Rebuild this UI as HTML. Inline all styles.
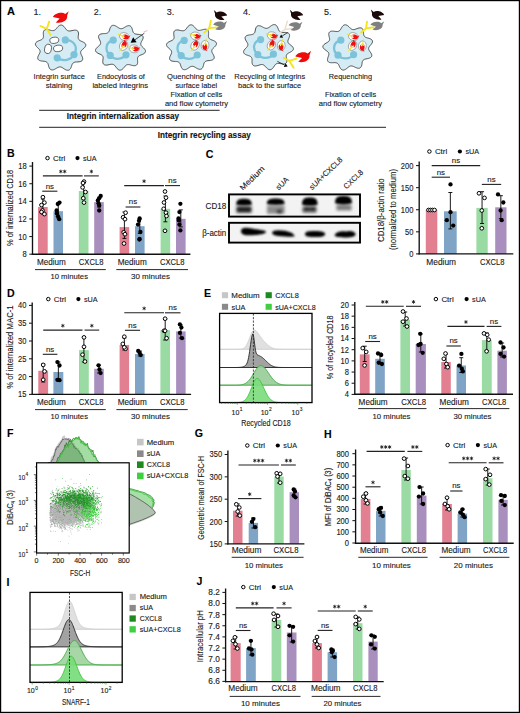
<!DOCTYPE html><html><head><meta charset="utf-8"><style>html,body{margin:0;padding:0;background:#fff}svg{display:block}text{font-family:"Liberation Sans", sans-serif;stroke:#1a1a1a;stroke-width:0.12px}</style></head><body>
<svg width="520" height="713" viewBox="0 0 520 713" font-family='"Liberation Sans", sans-serif' fill="#1a1a1a">
<rect x="0" y="0" width="520" height="713" fill="#fff"/>
<path d="M83.94,48.2 L83.1,48.93 L82.31,49.61 L81.63,50.26 L81.14,50.89 L80.84,51.53 L80.69,52.18 L80.67,52.87 L80.82,53.61 L81.14,54.43 L81.58,55.33 L82.04,56.29 L82.44,57.28 L82.69,58.27 L82.71,59.2 L82.48,60.02 L81.96,60.7 L81.19,61.22 L80.21,61.58 L79.1,61.79 L77.93,61.9 L76.8,61.95 L75.75,62.03 L74.84,62.17 L74.09,62.41 L73.46,62.78 L72.91,63.23 L72.45,63.8 L72.08,64.53 L71.76,65.41 L71.45,66.38 L71.1,67.39 L70.65,68.36 L70.09,69.19 L69.39,69.82 L68.58,70.2 L67.66,70.29 L66.67,70.13 L65.67,69.74 L64.68,69.19 L63.73,68.57 L62.85,67.97 L62.02,67.47 L61.25,67.12 L60.5,66.95 L59.76,66.91 L59.02,67 L58.24,67.25 L57.41,67.66 L56.52,68.19 L55.56,68.77 L54.56,69.31 L53.53,69.72 L52.52,69.93 L51.57,69.89 L50.73,69.58 L50.02,69.01 L49.45,68.22 L49.01,67.28 L48.68,66.26 L48.42,65.25 L48.16,64.31 L47.86,63.51 L47.47,62.86 L46.97,62.35 L46.4,61.93 L45.71,61.6 L44.87,61.39 L43.88,61.25 L42.78,61.15 L41.62,61.01 L40.49,60.8 L39.47,60.45 L38.64,59.96 L38.06,59.31 L37.76,58.52 L37.74,57.62 L37.96,56.66 L38.37,55.68 L38.87,54.73 L39.37,53.82 L39.79,52.99 L40.05,52.23 L40.13,51.53 L40.06,50.86 L39.86,50.21 L39.47,49.56 L38.9,48.9 L38.18,48.2 L37.39,47.45 L36.62,46.65 L35.97,45.81 L35.54,44.95 L35.38,44.09 L35.54,43.28 L36,42.53 L36.74,41.87 L37.67,41.31 L38.71,40.83 L39.77,40.42 L40.75,40.02 L41.59,39.62 L42.25,39.17 L42.73,38.64 L43.1,38.07 L43.35,37.41 L43.45,36.63 L43.44,35.74 L43.37,34.74 L43.3,33.69 L43.33,32.63 L43.51,31.65 L43.87,30.81 L44.46,30.15 L45.24,29.72 L46.2,29.52 L47.27,29.54 L48.4,29.72 L49.53,29.99 L50.61,30.28 L51.59,30.52 L52.48,30.64 L53.26,30.61 L53.98,30.44 L54.66,30.16 L55.3,29.72 L55.92,29.11 L56.55,28.36 L57.22,27.53 L57.95,26.7 L58.75,25.96 L59.6,25.4 L60.5,25.08 L61.41,25.04 L62.31,25.3 L63.15,25.82 L63.94,26.53 L64.64,27.37 L65.29,28.25 L65.89,29.06 L66.47,29.76 L67.08,30.29 L67.72,30.65 L68.41,30.89 L69.16,31.01 L70.01,30.99 L70.96,30.83 L72.02,30.59 L73.15,30.35 L74.3,30.18 L75.41,30.15 L76.41,30.31 L77.24,30.69 L77.87,31.29 L78.27,32.09 L78.47,33.04 L78.49,34.07 L78.39,35.13 L78.26,36.15 L78.16,37.08 L78.17,37.9 L78.33,38.61 L78.62,39.23 L79.03,39.79 L79.59,40.3 L80.34,40.75 L81.25,41.18 L82.27,41.63 L83.3,42.13 L84.26,42.7 L85.04,43.36 L85.58,44.1 L85.81,44.9 L85.72,45.74 L85.34,46.59 L84.71,47.42Z" fill="#d5ecf4" stroke="#4a4a4a" stroke-width="0.95" stroke-linejoin="round"/>
<path d="M65.3,39.9 C73,40 79,46 74,54.6 C71,60 63,62 57.2,57.8" fill="none" stroke="#7cc3da" stroke-width="2.3" stroke-linecap="round"/>
<circle cx="65.3" cy="39.9" r="3.6" fill="#7cc3da"/>
<circle cx="74" cy="54.6" r="3.6" fill="#7cc3da"/>
<circle cx="57.2" cy="57.8" r="3.6" fill="#7cc3da"/>
<ellipse cx="54.3" cy="40.3" rx="4.5" ry="3.1" fill="#fff" stroke="#333" stroke-width="0.7" transform="rotate(-8 54.3 40.3)"/>
<ellipse cx="48" cy="48.9" rx="3.4" ry="4.7" fill="#fff" stroke="#333" stroke-width="0.7" transform="rotate(12 48 48.9)"/>
<ellipse cx="58.1" cy="48.4" rx="4.6" ry="3.2" fill="#fff" stroke="#333" stroke-width="0.7" transform="rotate(-8 58.1 48.4)"/>
<path d="M50.6,34.9 L46.8,28.8 M46.8,28.8 L40.4,26 M46.8,28.8 L49.2,21.6" fill="none" stroke="#f4e41c" stroke-width="1.9" stroke-linecap="round" stroke-linejoin="round"/>
<path d="M-5,-1.2 C-3.5,-4.2 2.5,-4.8 4.6,-2.6 L7.4,-4.4 L5.9,-1.2 C6.2,3 0.5,4.6 -3.2,3 L0,0.4 Z" fill="#ee0b0b" transform="translate(59.6 18) rotate(-6) scale(1.32 1.32)"/>
<path d="M142.73,47.2 L143.52,47.94 L144.29,48.74 L144.93,49.57 L145.36,50.43 L145.51,51.27 L145.35,52.08 L144.88,52.82 L144.14,53.47 L143.21,54.02 L142.17,54.49 L141.11,54.9 L140.14,55.29 L139.31,55.69 L138.66,56.14 L138.18,56.66 L137.82,57.23 L137.58,57.89 L137.49,58.66 L137.51,59.55 L137.59,60.54 L137.65,61.59 L137.63,62.64 L137.46,63.62 L137.09,64.45 L136.51,65.1 L135.73,65.52 L134.77,65.71 L133.7,65.69 L132.58,65.5 L131.46,65.22 L130.39,64.93 L129.41,64.69 L128.54,64.57 L127.76,64.61 L127.05,64.78 L126.38,65.06 L125.75,65.5 L125.14,66.11 L124.51,66.86 L123.85,67.7 L123.13,68.53 L122.34,69.26 L121.49,69.82 L120.6,70.13 L119.7,70.16 L118.81,69.9 L117.97,69.38 L117.2,68.66 L116.5,67.82 L115.86,66.95 L115.27,66.13 L114.69,65.44 L114.09,64.92 L113.45,64.57 L112.77,64.33 L112.03,64.22 L111.18,64.25 L110.23,64.42 L109.18,64.66 L108.05,64.9 L106.91,65.08 L105.81,65.11 L104.82,64.95 L104,64.57 L103.38,63.97 L102.99,63.17 L102.8,62.22 L102.79,61.19 L102.89,60.14 L103.03,59.12 L103.13,58.2 L103.12,57.39 L102.96,56.69 L102.66,56.08 L102.26,55.52 L101.69,55.03 L100.94,54.58 L100.03,54.16 L99.01,53.71 L97.98,53.22 L97.03,52.65 L96.25,52 L95.73,51.27 L95.51,50.47 L95.6,49.64 L95.99,48.8 L96.62,47.98 L97.4,47.2 L98.23,46.48 L99.03,45.8 L99.69,45.16 L100.18,44.54 L100.47,43.91 L100.62,43.26 L100.63,42.58 L100.47,41.84 L100.14,41.03 L99.71,40.14 L99.24,39.18 L98.84,38.19 L98.59,37.21 L98.56,36.29 L98.8,35.48 L99.32,34.8 L100.1,34.29 L101.07,33.95 L102.18,33.75 L103.34,33.64 L104.47,33.59 L105.51,33.52 L106.41,33.38 L107.16,33.14 L107.78,32.77 L108.32,32.33 L108.77,31.75 L109.13,31.02 L109.44,30.15 L109.74,29.17 L110.09,28.16 L110.53,27.21 L111.09,26.38 L111.78,25.76 L112.59,25.39 L113.51,25.3 L114.48,25.47 L115.48,25.87 L116.46,26.42 L117.4,27.04 L118.28,27.63 L119.1,28.13 L119.86,28.48 L120.6,28.65 L121.33,28.68 L122.07,28.59 L122.84,28.34 L123.66,27.92 L124.54,27.38 L125.49,26.8 L126.49,26.26 L127.51,25.85 L128.51,25.64 L129.45,25.68 L130.29,26 L130.99,26.57 L131.55,27.37 L131.98,28.31 L132.3,29.33 L132.56,30.33 L132.81,31.26 L133.11,32.05 L133.49,32.69 L133.98,33.2 L134.55,33.61 L135.24,33.93 L136.08,34.13 L137.07,34.26 L138.17,34.36 L139.33,34.49 L140.45,34.7 L141.46,35.04 L142.29,35.54 L142.86,36.18 L143.15,36.97 L143.16,37.86 L142.92,38.82 L142.51,39.79 L142.01,40.74 L141.5,41.64 L141.09,42.46 L140.83,43.21 L140.75,43.9 L140.83,44.56 L141.04,45.21 L141.42,45.85 L142,46.51Z" fill="#d5ecf4" stroke="#4a4a4a" stroke-width="0.95" stroke-linejoin="round"/>
<path d="M113.2,40.2 C106,42 104,50 110.2,55.4 C114,60 122,60 126,54.8" fill="none" stroke="#7cc3da" stroke-width="2.3" stroke-linecap="round"/>
<circle cx="113.2" cy="40.2" r="3.6" fill="#7cc3da"/>
<circle cx="110.2" cy="55.4" r="3.6" fill="#7cc3da"/>
<circle cx="126" cy="54.8" r="3.6" fill="#7cc3da"/>
<g transform="translate(124.4 36.6) rotate(15)">
<ellipse cx="0" cy="0" rx="5.0" ry="3.9" fill="#fff" stroke="#555" stroke-width="0.45"/>
<path d="M-5,-1.2 C-3.5,-4.2 2.5,-4.8 4.6,-2.6 L7.4,-4.4 L5.9,-1.2 C6.2,3 0.5,4.6 -3.2,3 L0,0.4 Z" fill="#ee1010" transform="translate(0.9 0.15) scale(0.64)"/>
<path d="M-6.4,-0.8 L-2.6,-0.1 M-2.6,-0.1 L-0.6,-1.3 M-2.6,-0.1 L-0.9,1.3" fill="none" stroke="#f4e41c" stroke-width="1.05" stroke-linecap="round"/>
</g>
<g transform="translate(123.6 45.6) rotate(-60)">
<ellipse cx="0" cy="0" rx="5.0" ry="3.9" fill="#fff" stroke="#555" stroke-width="0.45"/>
<path d="M-5,-1.2 C-3.5,-4.2 2.5,-4.8 4.6,-2.6 L7.4,-4.4 L5.9,-1.2 C6.2,3 0.5,4.6 -3.2,3 L0,0.4 Z" fill="#ee1010" transform="translate(0.9 0.15) scale(0.64)"/>
<path d="M-6.4,-0.8 L-2.6,-0.1 M-2.6,-0.1 L-0.6,-1.3 M-2.6,-0.1 L-0.9,1.3" fill="none" stroke="#f4e41c" stroke-width="1.05" stroke-linecap="round"/>
</g>
<g transform="translate(134.2 48.8) rotate(10)">
<ellipse cx="0" cy="0" rx="5.0" ry="3.9" fill="#fff" stroke="#555" stroke-width="0.45"/>
<path d="M-5,-1.2 C-3.5,-4.2 2.5,-4.8 4.6,-2.6 L7.4,-4.4 L5.9,-1.2 C6.2,3 0.5,4.6 -3.2,3 L0,0.4 Z" fill="#ee1010" transform="translate(0.9 0.15) scale(0.64)"/>
<path d="M-6.4,-0.8 L-2.6,-0.1 M-2.6,-0.1 L-0.6,-1.3 M-2.6,-0.1 L-0.9,1.3" fill="none" stroke="#f4e41c" stroke-width="1.05" stroke-linecap="round"/>
</g>
<line x1="144.4" y1="33.2" x2="134.87" y2="39.83" stroke="#000" stroke-width="0.7"/>
<path d="M130.6,42.8 L133.16,37.37 L136.58,42.29 Z" fill="#000"/>
<line x1="143.5" y1="32" x2="147.5" y2="30.6" stroke="#f08080" stroke-width="0.6"/>
<path d="M213.65,47.8 L212.94,48.49 L212.38,49.15 L212.01,49.79 L211.83,50.44 L211.77,51.1 L211.86,51.8 L212.15,52.55 L212.58,53.38 L213.09,54.28 L213.59,55.23 L213.99,56.21 L214.21,57.16 L214.17,58.04 L213.86,58.82 L213.26,59.45 L212.42,59.93 L211.39,60.26 L210.26,60.46 L209.11,60.59 L208.01,60.69 L207.04,60.83 L206.22,61.05 L205.55,61.38 L204.99,61.81 L204.51,62.32 L204.14,62.98 L203.85,63.79 L203.6,64.73 L203.34,65.74 L203.02,66.75 L202.58,67.69 L202.01,68.46 L201.29,69.01 L200.45,69.3 L199.5,69.32 L198.5,69.09 L197.47,68.66 L196.48,68.12 L195.53,67.54 L194.65,67.02 L193.83,66.62 L193.07,66.39 L192.33,66.32 L191.6,66.36 L190.86,66.55 L190.09,66.92 L189.27,67.43 L188.39,68.04 L187.45,68.66 L186.47,69.2 L185.47,69.58 L184.5,69.73 L183.59,69.61 L182.79,69.22 L182.11,68.58 L181.56,67.73 L181.13,66.77 L180.78,65.76 L180.48,64.79 L180.16,63.93 L179.79,63.22 L179.33,62.66 L178.78,62.23 L178.14,61.88 L177.38,61.65 L176.46,61.52 L175.42,61.46 L174.28,61.41 L173.12,61.3 L172.02,61.09 L171.06,60.73 L170.31,60.21 L169.81,59.52 L169.6,58.69 L169.65,57.76 L169.91,56.78 L170.32,55.79 L170.78,54.84 L171.21,53.95 L171.52,53.15 L171.66,52.41 L171.62,51.74 L171.46,51.09 L171.15,50.47 L170.64,49.84 L169.95,49.2 L169.15,48.53 L168.31,47.8 L167.54,47.02 L166.93,46.2 L166.57,45.36 L166.5,44.53 L166.75,43.74 L167.3,43.01 L168.1,42.36 L169.06,41.8 L170.09,41.31 L171.1,40.87 L172,40.44 L172.73,39.99 L173.27,39.48 L173.66,38.92 L173.95,38.3 L174.08,37.59 L174.07,36.77 L173.97,35.83 L173.83,34.81 L173.73,33.76 L173.75,32.74 L173.95,31.8 L174.37,31.02 L175,30.44 L175.85,30.08 L176.85,29.94 L177.95,29.98 L179.1,30.17 L180.22,30.41 L181.26,30.64 L182.21,30.79 L183.04,30.81 L183.77,30.67 L184.45,30.43 L185.08,30.05 L185.68,29.51 L186.25,28.8 L186.84,27.98 L187.48,27.11 L188.19,26.27 L188.96,25.57 L189.81,25.07 L190.7,24.83 L191.6,24.89 L192.49,25.22 L193.34,25.8 L194.12,26.55 L194.84,27.38 L195.5,28.21 L196.12,28.95 L196.74,29.54 L197.38,29.96 L198.05,30.22 L198.77,30.38 L199.55,30.4 L200.44,30.26 L201.42,30.01 L202.5,29.71 L203.62,29.43 L204.74,29.26 L205.8,29.25 L206.74,29.46 L207.51,29.9 L208.07,30.57 L208.42,31.42 L208.58,32.41 L208.59,33.46 L208.52,34.51 L208.45,35.49 L208.44,36.37 L208.55,37.13 L208.81,37.77 L209.19,38.34 L209.68,38.85 L210.35,39.29 L211.2,39.68 L212.19,40.07 L213.25,40.48 L214.28,40.96 L215.2,41.52 L215.92,42.17 L216.36,42.92 L216.49,43.73 L216.32,44.58 L215.86,45.44 L215.21,46.27 L214.43,47.06Z" fill="#d5ecf4" stroke="#4a4a4a" stroke-width="0.95" stroke-linejoin="round"/>
<path d="M184.2,40.4 C177,42 175,50 181.2,55.6 C185,60 193,60 197.2,55" fill="none" stroke="#7cc3da" stroke-width="2.3" stroke-linecap="round"/>
<circle cx="184.2" cy="40.4" r="3.6" fill="#7cc3da"/>
<circle cx="181.2" cy="55.6" r="3.6" fill="#7cc3da"/>
<circle cx="197.2" cy="55" r="3.6" fill="#7cc3da"/>
<g transform="translate(195.6 36) rotate(15)">
<ellipse cx="0" cy="0" rx="5.0" ry="3.9" fill="#fff" stroke="#555" stroke-width="0.45"/>
<path d="M-5,-1.2 C-3.5,-4.2 2.5,-4.8 4.6,-2.6 L7.4,-4.4 L5.9,-1.2 C6.2,3 0.5,4.6 -3.2,3 L0,0.4 Z" fill="#ee1010" transform="translate(0.9 0.15) scale(0.64)"/>
<path d="M-6.4,-0.8 L-2.6,-0.1 M-2.6,-0.1 L-0.6,-1.3 M-2.6,-0.1 L-0.9,1.3" fill="none" stroke="#f4e41c" stroke-width="1.05" stroke-linecap="round"/>
</g>
<g transform="translate(195 45.4) rotate(-60)">
<ellipse cx="0" cy="0" rx="5.0" ry="3.9" fill="#fff" stroke="#555" stroke-width="0.45"/>
<path d="M-5,-1.2 C-3.5,-4.2 2.5,-4.8 4.6,-2.6 L7.4,-4.4 L5.9,-1.2 C6.2,3 0.5,4.6 -3.2,3 L0,0.4 Z" fill="#ee1010" transform="translate(0.9 0.15) scale(0.64)"/>
<path d="M-6.4,-0.8 L-2.6,-0.1 M-2.6,-0.1 L-0.6,-1.3 M-2.6,-0.1 L-0.9,1.3" fill="none" stroke="#f4e41c" stroke-width="1.05" stroke-linecap="round"/>
</g>
<g transform="translate(205 45.4) rotate(95)">
<ellipse cx="0" cy="0" rx="5.0" ry="3.9" fill="#fff" stroke="#555" stroke-width="0.45"/>
<path d="M-5,-1.2 C-3.5,-4.2 2.5,-4.8 4.6,-2.6 L7.4,-4.4 L5.9,-1.2 C6.2,3 0.5,4.6 -3.2,3 L0,0.4 Z" fill="#ee1010" transform="translate(0.9 0.15) scale(0.64)"/>
<path d="M-6.4,-0.8 L-2.6,-0.1 M-2.6,-0.1 L-0.6,-1.3 M-2.6,-0.1 L-0.9,1.3" fill="none" stroke="#f4e41c" stroke-width="1.05" stroke-linecap="round"/>
</g>
<path d="M204.3,32.6 L209.2,28.1 M209.2,28.1 L210.9,20.8 M209.2,28.1 L217.5,27.4" fill="none" stroke="#f4e41c" stroke-width="1.9" stroke-linecap="round" stroke-linejoin="round"/>
<path d="M-5,-1.2 C-3.5,-4.2 2.5,-4.8 4.6,-2.6 L7.4,-4.4 L5.9,-1.2 C6.2,3 0.5,4.6 -3.2,3 L0,0.4 Z" fill="#7f7f7f" transform="translate(218.8 26) rotate(0) scale(1.12 1.12)"/>
<path d="M-5,-1.2 C-3.5,-4.2 2.5,-4.8 4.6,-2.6 L7.4,-4.4 L5.9,-1.2 C6.2,3 0.5,4.6 -3.2,3 L0,0.4 Z" fill="#1c0a0a" transform="translate(221.4 16) rotate(8) scale(-1.12 1.12)"/>
<path d="M292.58,46.8 L293.14,47.61 L293.42,48.44 L293.4,49.26 L293.06,50.04 L292.43,50.76 L291.59,51.41 L290.62,51.99 L289.62,52.5 L288.67,52.98 L287.87,53.45 L287.24,53.95 L286.8,54.5 L286.49,55.1 L286.3,55.76 L286.28,56.52 L286.38,57.39 L286.57,58.36 L286.76,59.39 L286.87,60.44 L286.83,61.44 L286.6,62.33 L286.12,63.05 L285.42,63.57 L284.52,63.88 L283.47,63.98 L282.34,63.92 L281.19,63.76 L280.08,63.56 L279.07,63.4 L278.17,63.35 L277.38,63.43 L276.69,63.65 L276.05,63.97 L275.46,64.44 L274.91,65.09 L274.38,65.88 L273.82,66.76 L273.2,67.66 L272.51,68.48 L271.74,69.14 L270.9,69.57 L270.01,69.73 L269.1,69.59 L268.2,69.18 L267.34,68.56 L266.54,67.81 L265.8,67 L265.12,66.23 L264.46,65.58 L263.81,65.09 L263.14,64.77 L262.44,64.58 L261.7,64.52 L260.87,64.61 L259.96,64.84 L258.95,65.17 L257.86,65.52 L256.75,65.81 L255.65,65.97 L254.63,65.94 L253.75,65.67 L253.04,65.16 L252.53,64.43 L252.21,63.53 L252.06,62.51 L252.03,61.46 L252.05,60.43 L252.06,59.48 L251.97,58.65 L251.76,57.96 L251.41,57.37 L250.96,56.84 L250.37,56.39 L249.6,56.01 L248.66,55.67 L247.61,55.32 L246.53,54.94 L245.51,54.47 L244.63,53.91 L243.99,53.25 L243.63,52.49 L243.59,51.65 L243.84,50.78 L244.34,49.91 L245.01,49.06 L245.76,48.25 L246.48,47.5 L247.09,46.8 L247.54,46.13 L247.78,45.48 L247.88,44.82 L247.84,44.15 L247.62,43.43 L247.23,42.66 L246.7,41.83 L246.13,40.93 L245.61,39.98 L245.23,39.03 L245.06,38.11 L245.16,37.26 L245.56,36.53 L246.23,35.93 L247.14,35.47 L248.21,35.15 L249.34,34.93 L250.47,34.77 L251.51,34.61 L252.41,34.4 L253.15,34.1 L253.75,33.7 L254.25,33.22 L254.65,32.62 L254.94,31.88 L255.15,31 L255.34,30.02 L255.57,28.98 L255.88,27.98 L256.32,27.08 L256.92,26.37 L257.67,25.89 L258.55,25.67 L259.53,25.72 L260.56,26 L261.6,26.44 L262.61,26.96 L263.56,27.48 L264.44,27.92 L265.25,28.21 L266.01,28.34 L266.74,28.32 L267.47,28.19 L268.2,27.89 L268.96,27.42 L269.78,26.82 L270.65,26.15 L271.58,25.51 L272.54,24.99 L273.51,24.65 L274.46,24.57 L275.34,24.76 L276.12,25.23 L276.78,25.94 L277.33,26.82 L277.77,27.8 L278.15,28.78 L278.51,29.69 L278.88,30.48 L279.33,31.1 L279.86,31.58 L280.46,31.95 L281.16,32.22 L282,32.36 L282.98,32.41 L284.07,32.41 L285.23,32.42 L286.38,32.52 L287.45,32.74 L288.35,33.13 L289.03,33.69 L289.44,34.42 L289.59,35.29 L289.5,36.26 L289.22,37.26 L288.83,38.26 L288.43,39.21 L288.09,40.07 L287.89,40.86 L287.87,41.57 L288,42.22 L288.25,42.85 L288.69,43.45 L289.31,44.05 L290.09,44.67 L290.96,45.32 L291.82,46.04Z" fill="#d5ecf4" stroke="#4a4a4a" stroke-width="0.95" stroke-linejoin="round"/>
<path d="M260.6,39.6 C253.5,41 251.5,49 257.8,54.6 C261.5,59 269.5,59 273.4,54.2" fill="none" stroke="#7cc3da" stroke-width="2.3" stroke-linecap="round"/>
<circle cx="260.6" cy="39.6" r="3.6" fill="#7cc3da"/>
<circle cx="257.8" cy="54.6" r="3.6" fill="#7cc3da"/>
<circle cx="273.4" cy="54.2" r="3.6" fill="#7cc3da"/>
<g transform="translate(272.2 35.8) rotate(15)">
<ellipse cx="0" cy="0" rx="5.0" ry="3.9" fill="#fff" stroke="#555" stroke-width="0.45"/>
<path d="M-5,-1.2 C-3.5,-4.2 2.5,-4.8 4.6,-2.6 L7.4,-4.4 L5.9,-1.2 C6.2,3 0.5,4.6 -3.2,3 L0,0.4 Z" fill="#ee1010" transform="translate(0.9 0.15) scale(0.64)"/>
<path d="M-6.4,-0.8 L-2.6,-0.1 M-2.6,-0.1 L-0.6,-1.3 M-2.6,-0.1 L-0.9,1.3" fill="none" stroke="#f4e41c" stroke-width="1.05" stroke-linecap="round"/>
</g>
<g transform="translate(271.4 45.2) rotate(-60)">
<ellipse cx="0" cy="0" rx="5.0" ry="3.9" fill="#fff" stroke="#555" stroke-width="0.45"/>
<path d="M-5,-1.2 C-3.5,-4.2 2.5,-4.8 4.6,-2.6 L7.4,-4.4 L5.9,-1.2 C6.2,3 0.5,4.6 -3.2,3 L0,0.4 Z" fill="#ee1010" transform="translate(0.9 0.15) scale(0.64)"/>
<path d="M-6.4,-0.8 L-2.6,-0.1 M-2.6,-0.1 L-0.6,-1.3 M-2.6,-0.1 L-0.9,1.3" fill="none" stroke="#f4e41c" stroke-width="1.05" stroke-linecap="round"/>
</g>
<g transform="translate(281.2 45.6) rotate(95)">
<ellipse cx="0" cy="0" rx="5.0" ry="3.9" fill="#fff" stroke="#555" stroke-width="0.45"/>
<path d="M-5,-1.2 C-3.5,-4.2 2.5,-4.8 4.6,-2.6 L7.4,-4.4 L5.9,-1.2 C6.2,3 0.5,4.6 -3.2,3 L0,0.4 Z" fill="#ee1010" transform="translate(0.9 0.15) scale(0.64)"/>
<path d="M-6.4,-0.8 L-2.6,-0.1 M-2.6,-0.1 L-0.6,-1.3 M-2.6,-0.1 L-0.9,1.3" fill="none" stroke="#f4e41c" stroke-width="1.05" stroke-linecap="round"/>
</g>
<path d="M280,32.6 L285,29.4 M285,29.4 L287.3,21.2 M285,29.4 L291.9,28.5" fill="none" stroke="#e9dfcc" stroke-width="1.5" stroke-linecap="round" stroke-linejoin="round"/>
<path d="M-5,-1.2 C-3.5,-4.2 2.5,-4.8 4.6,-2.6 L7.4,-4.4 L5.9,-1.2 C6.2,3 0.5,4.6 -3.2,3 L0,0.4 Z" fill="#7f7f7f" transform="translate(294.2 26.6) rotate(0) scale(1.12 1.12)"/>
<path d="M-5,-1.2 C-3.5,-4.2 2.5,-4.8 4.6,-2.6 L7.4,-4.4 L5.9,-1.2 C6.2,3 0.5,4.6 -3.2,3 L0,0.4 Z" fill="#1c0a0a" transform="translate(297.4 15.8) rotate(8) scale(-1.12 1.12)"/>
<line x1="287.7" y1="32.6" x2="282.15" y2="36.02" stroke="#000" stroke-width="0.7"/>
<path d="M279.6,37.6 L281.15,34.41 L283.15,37.64 Z" fill="#000"/>
<path d="M293.7,67.7 L289.1,60.8 M289.1,60.8 L283.7,57.7 M289.1,60.8 L296.4,58.6" fill="none" stroke="#f4e41c" stroke-width="1.9" stroke-linecap="round" stroke-linejoin="round"/>
<path d="M-5,-1.2 C-3.5,-4.2 2.5,-4.8 4.6,-2.6 L7.4,-4.4 L5.9,-1.2 C6.2,3 0.5,4.6 -3.2,3 L0,0.4 Z" fill="#ee0b0b" transform="translate(302 57.4) rotate(-5) scale(1.3 1.3)"/>
<line x1="277.3" y1="61.3" x2="284.75" y2="65.14" stroke="#000" stroke-width="0.7"/>
<path d="M287.6,66.6 L283.84,66.91 L285.67,63.36 Z" fill="#000"/>
<path d="M368.76,47.6 L368.63,48.26 L368.62,48.92 L368.77,49.6 L369.11,50.33 L369.61,51.1 L370.21,51.94 L370.82,52.83 L371.35,53.76 L371.71,54.69 L371.81,55.58 L371.63,56.4 L371.15,57.1 L370.4,57.67 L369.44,58.11 L368.35,58.44 L367.21,58.68 L366.13,58.88 L365.15,59.1 L364.33,59.39 L363.68,59.76 L363.16,60.23 L362.73,60.77 L362.41,61.44 L362.2,62.25 L362.06,63.19 L361.92,64.21 L361.72,65.25 L361.41,66.24 L360.95,67.09 L360.33,67.73 L359.54,68.14 L358.62,68.28 L357.6,68.18 L356.54,67.87 L355.48,67.44 L354.47,66.95 L353.52,66.5 L352.65,66.16 L351.86,65.97 L351.11,65.95 L350.39,66.04 L349.67,66.28 L348.95,66.68 L348.2,67.25 L347.4,67.93 L346.54,68.63 L345.63,69.28 L344.68,69.77 L343.73,70.05 L342.81,70.06 L341.95,69.78 L341.19,69.24 L340.53,68.48 L339.98,67.57 L339.52,66.61 L339.1,65.66 L338.69,64.82 L338.25,64.12 L337.74,63.58 L337.15,63.19 L336.5,62.88 L335.73,62.7 L334.83,62.65 L333.79,62.67 L332.66,62.73 L331.5,62.74 L330.37,62.65 L329.35,62.41 L328.51,61.98 L327.91,61.37 L327.56,60.59 L327.47,59.67 L327.6,58.68 L327.88,57.66 L328.23,56.66 L328.56,55.73 L328.8,54.89 L328.88,54.13 L328.8,53.45 L328.58,52.82 L328.22,52.22 L327.67,51.65 L326.94,51.08 L326.08,50.48 L325.17,49.84 L324.3,49.15 L323.57,48.4 L323.07,47.6 L322.87,46.78 L322.98,45.96 L323.41,45.18 L324.1,44.46 L324.97,43.8 L325.94,43.21 L326.89,42.67 L327.76,42.16 L328.46,41.64 L328.98,41.1 L329.32,40.51 L329.55,39.88 L329.63,39.17 L329.55,38.37 L329.35,37.46 L329.1,36.47 L328.87,35.43 L328.76,34.41 L328.82,33.44 L329.11,32.6 L329.64,31.94 L330.41,31.47 L331.37,31.21 L332.46,31.13 L333.61,31.19 L334.76,31.33 L335.84,31.47 L336.82,31.54 L337.66,31.5 L338.39,31.32 L339.05,31.03 L339.65,30.62 L340.18,30.05 L340.68,29.32 L341.17,28.45 L341.7,27.53 L342.29,26.62 L342.98,25.83 L343.75,25.22 L344.59,24.86 L345.5,24.79 L346.42,25.01 L347.33,25.47 L348.2,26.12 L349.02,26.87 L349.77,27.64 L350.48,28.34 L351.17,28.89 L351.85,29.28 L352.54,29.5 L353.27,29.61 L354.04,29.57 L354.89,29.38 L355.83,29.05 L356.85,28.66 L357.94,28.27 L359.04,27.97 L360.1,27.84 L361.08,27.93 L361.91,28.26 L362.57,28.84 L363.04,29.63 L363.33,30.58 L363.48,31.61 L363.54,32.66 L363.58,33.66 L363.65,34.56 L363.83,35.32 L364.14,35.96 L364.56,36.49 L365.09,36.97 L365.79,37.35 L366.65,37.68 L367.66,37.97 L368.75,38.27 L369.84,38.64 L370.84,39.1 L371.66,39.67 L372.23,40.35 L372.5,41.13 L372.46,41.99 L372.14,42.88 L371.6,43.77 L370.94,44.64 L370.23,45.45 L369.59,46.21 L369.08,46.92Z" fill="#d5ecf4" stroke="#4a4a4a" stroke-width="0.95" stroke-linejoin="round"/>
<path d="M340.8,40.2 C333.5,42 331.5,50 338,55.2 C342,59.5 350,59.5 353.6,54.6" fill="none" stroke="#7cc3da" stroke-width="2.3" stroke-linecap="round"/>
<circle cx="340.8" cy="40.2" r="3.6" fill="#7cc3da"/>
<circle cx="338" cy="55.2" r="3.6" fill="#7cc3da"/>
<circle cx="353.6" cy="54.6" r="3.6" fill="#7cc3da"/>
<g transform="translate(353.4 36.6) rotate(15)">
<ellipse cx="0" cy="0" rx="5.0" ry="3.9" fill="#fff" stroke="#555" stroke-width="0.45"/>
<path d="M-5,-1.2 C-3.5,-4.2 2.5,-4.8 4.6,-2.6 L7.4,-4.4 L5.9,-1.2 C6.2,3 0.5,4.6 -3.2,3 L0,0.4 Z" fill="#ee1010" transform="translate(0.9 0.15) scale(0.64)"/>
<path d="M-6.4,-0.8 L-2.6,-0.1 M-2.6,-0.1 L-0.6,-1.3 M-2.6,-0.1 L-0.9,1.3" fill="none" stroke="#f4e41c" stroke-width="1.05" stroke-linecap="round"/>
</g>
<g transform="translate(352.6 45.6) rotate(-60)">
<ellipse cx="0" cy="0" rx="5.0" ry="3.9" fill="#fff" stroke="#555" stroke-width="0.45"/>
<path d="M-5,-1.2 C-3.5,-4.2 2.5,-4.8 4.6,-2.6 L7.4,-4.4 L5.9,-1.2 C6.2,3 0.5,4.6 -3.2,3 L0,0.4 Z" fill="#ee1010" transform="translate(0.9 0.15) scale(0.64)"/>
<path d="M-6.4,-0.8 L-2.6,-0.1 M-2.6,-0.1 L-0.6,-1.3 M-2.6,-0.1 L-0.9,1.3" fill="none" stroke="#f4e41c" stroke-width="1.05" stroke-linecap="round"/>
</g>
<g transform="translate(362.4 46) rotate(95)">
<ellipse cx="0" cy="0" rx="5.0" ry="3.9" fill="#fff" stroke="#555" stroke-width="0.45"/>
<path d="M-5,-1.2 C-3.5,-4.2 2.5,-4.8 4.6,-2.6 L7.4,-4.4 L5.9,-1.2 C6.2,3 0.5,4.6 -3.2,3 L0,0.4 Z" fill="#ee1010" transform="translate(0.9 0.15) scale(0.64)"/>
<path d="M-6.4,-0.8 L-2.6,-0.1 M-2.6,-0.1 L-0.6,-1.3 M-2.6,-0.1 L-0.9,1.3" fill="none" stroke="#f4e41c" stroke-width="1.05" stroke-linecap="round"/>
</g>
<path d="M361.2,32.4 L366,28.4 M366,28.4 L367,21.6 M366,28.4 L373.8,27.2" fill="none" stroke="#f4e41c" stroke-width="1.9" stroke-linecap="round" stroke-linejoin="round"/>
<path d="M-5,-1.2 C-3.5,-4.2 2.5,-4.8 4.6,-2.6 L7.4,-4.4 L5.9,-1.2 C6.2,3 0.5,4.6 -3.2,3 L0,0.4 Z" fill="#7f7f7f" transform="translate(376 26.2) rotate(0) scale(1.12 1.12)"/>
<path d="M-5,-1.2 C-3.5,-4.2 2.5,-4.8 4.6,-2.6 L7.4,-4.4 L5.9,-1.2 C6.2,3 0.5,4.6 -3.2,3 L0,0.4 Z" fill="#1c0a0a" transform="translate(378.4 15.6) rotate(8) scale(-1.12 1.12)"/>
<text x="7" y="14.7" font-size="11" font-weight="bold" fill="#000">A</text>
<text x="33.5" y="15.3" font-size="9">1.</text>
<text x="93.7" y="15.3" font-size="9">2.</text>
<text x="166.7" y="15.3" font-size="9">3.</text>
<text x="243" y="15.3" font-size="9">4.</text>
<text x="324" y="15.3" font-size="9">5.</text>
<text x="33.6" y="78.5" font-size="7.6" textLength="51.2" lengthAdjust="spacingAndGlyphs">Integrin surface</text>
<text x="45.7" y="87.7" font-size="7.6" textLength="26.6" lengthAdjust="spacingAndGlyphs">staining</text>
<text x="97" y="78.5" font-size="7.6" textLength="47.8" lengthAdjust="spacingAndGlyphs">Endocytosis of</text>
<text x="92.4" y="87.7" font-size="7.6" textLength="55.8" lengthAdjust="spacingAndGlyphs">labeled integrins</text>
<text x="167" y="78.5" font-size="7.6" textLength="58.4" lengthAdjust="spacingAndGlyphs">Quenching of the</text>
<text x="175.4" y="87.7" font-size="7.6" textLength="41.8" lengthAdjust="spacingAndGlyphs">surface label</text>
<text x="170.5" y="96.9" font-size="7.6" textLength="51.8" lengthAdjust="spacingAndGlyphs">Fixation of cells</text>
<text x="164.9" y="105.8" font-size="7.6" textLength="63.1" lengthAdjust="spacingAndGlyphs">and flow cytometry</text>
<text x="234.3" y="78.5" font-size="7.6" textLength="70.9" lengthAdjust="spacingAndGlyphs">Recycling of integrins</text>
<text x="238" y="87.7" font-size="7.6" textLength="63.2" lengthAdjust="spacingAndGlyphs">back to the surface</text>
<text x="328.8" y="78.5" font-size="7.6" textLength="43.2" lengthAdjust="spacingAndGlyphs">Requenching</text>
<text x="324.9" y="96.9" font-size="7.6" textLength="51.3" lengthAdjust="spacingAndGlyphs">Fixation of cells</text>
<text x="318.8" y="105.8" font-size="7.6" textLength="63.2" lengthAdjust="spacingAndGlyphs">and flow cytometry</text>
<line x1="39.2" y1="110.3" x2="219.6" y2="110.3" stroke="#222" stroke-width="1"/>
<line x1="39.2" y1="127.3" x2="386" y2="127.3" stroke="#222" stroke-width="1"/>
<text x="66.7" y="119.2" font-size="8.4" font-weight="bold" textLength="112.3" lengthAdjust="spacingAndGlyphs" fill="#111">Integrin internalization assay</text>
<text x="157.7" y="137.6" font-size="8.4" font-weight="bold" textLength="93.1" lengthAdjust="spacingAndGlyphs" fill="#111">Integrin recycling assay</text>
<rect x="38" y="207" width="9.7" height="47.2" fill="#e27f90"/>
<rect x="53.5" y="211.2" width="9.5" height="43" fill="#80a4c6"/>
<rect x="78.8" y="191" width="9.7" height="63.2" fill="#99dba3"/>
<rect x="94.2" y="202.1" width="9.6" height="52.1" fill="#a98fbd"/>
<rect x="119.6" y="227.1" width="9.6" height="27.1" fill="#e27f90"/>
<rect x="135" y="226.2" width="9.6" height="28" fill="#80a4c6"/>
<rect x="160.6" y="208.8" width="9.6" height="45.4" fill="#99dba3"/>
<rect x="176" y="218.8" width="9.6" height="35.4" fill="#a98fbd"/>
<line x1="42.85" y1="199" x2="42.85" y2="214" stroke="#000" stroke-width="0.9"/>
<line x1="40.85" y1="199" x2="44.85" y2="199" stroke="#000" stroke-width="0.9"/>
<line x1="40.85" y1="214" x2="44.85" y2="214" stroke="#000" stroke-width="0.9"/>
<circle cx="42.9" cy="197.2" r="1.85" fill="#fff" stroke="#000" stroke-width="1"/>
<circle cx="44.4" cy="202.6" r="1.85" fill="#fff" stroke="#000" stroke-width="1"/>
<circle cx="41.5" cy="205" r="1.85" fill="#fff" stroke="#000" stroke-width="1"/>
<circle cx="42.5" cy="210.5" r="1.85" fill="#fff" stroke="#000" stroke-width="1"/>
<circle cx="41.5" cy="212" r="1.85" fill="#fff" stroke="#000" stroke-width="1"/>
<circle cx="44.4" cy="214.1" r="1.85" fill="#fff" stroke="#000" stroke-width="1"/>
<line x1="58.25" y1="204" x2="58.25" y2="218" stroke="#000" stroke-width="0.9"/>
<line x1="56.25" y1="204" x2="60.25" y2="204" stroke="#000" stroke-width="0.9"/>
<line x1="56.25" y1="218" x2="60.25" y2="218" stroke="#000" stroke-width="0.9"/>
<circle cx="59.5" cy="202.6" r="2.15" fill="#000"/>
<circle cx="57.8" cy="204" r="2.15" fill="#000"/>
<circle cx="56.6" cy="210.5" r="2.15" fill="#000"/>
<circle cx="56.9" cy="213.4" r="2.15" fill="#000"/>
<circle cx="58" cy="216.3" r="2.15" fill="#000"/>
<circle cx="59.2" cy="219.2" r="2.15" fill="#000"/>
<line x1="83.65" y1="183" x2="83.65" y2="199" stroke="#000" stroke-width="0.9"/>
<line x1="81.65" y1="183" x2="85.65" y2="183" stroke="#000" stroke-width="0.9"/>
<line x1="81.65" y1="199" x2="85.65" y2="199" stroke="#000" stroke-width="0.9"/>
<circle cx="84" cy="181.6" r="1.85" fill="#fff" stroke="#000" stroke-width="1"/>
<circle cx="83" cy="183" r="1.85" fill="#fff" stroke="#000" stroke-width="1"/>
<circle cx="82.6" cy="187.4" r="1.85" fill="#fff" stroke="#000" stroke-width="1"/>
<circle cx="85.5" cy="192" r="1.85" fill="#fff" stroke="#000" stroke-width="1"/>
<circle cx="83.3" cy="198.2" r="1.85" fill="#fff" stroke="#000" stroke-width="1"/>
<circle cx="84" cy="202.6" r="1.85" fill="#fff" stroke="#000" stroke-width="1"/>
<line x1="99" y1="198" x2="99" y2="207" stroke="#000" stroke-width="0.9"/>
<line x1="97" y1="198" x2="101" y2="198" stroke="#000" stroke-width="0.9"/>
<line x1="97" y1="207" x2="101" y2="207" stroke="#000" stroke-width="0.9"/>
<circle cx="100.7" cy="196" r="2.15" fill="#000"/>
<circle cx="99.2" cy="198.2" r="2.15" fill="#000"/>
<circle cx="97.8" cy="200.4" r="2.15" fill="#000"/>
<circle cx="98.5" cy="203.3" r="2.15" fill="#000"/>
<circle cx="99.2" cy="205.5" r="2.15" fill="#000"/>
<circle cx="99.2" cy="210.5" r="2.15" fill="#000"/>
<line x1="124.4" y1="212" x2="124.4" y2="238.4" stroke="#000" stroke-width="0.9"/>
<line x1="122.4" y1="212" x2="126.4" y2="212" stroke="#000" stroke-width="0.9"/>
<line x1="122.4" y1="238.4" x2="126.4" y2="238.4" stroke="#000" stroke-width="0.9"/>
<circle cx="125.6" cy="212.7" r="1.85" fill="#fff" stroke="#000" stroke-width="1"/>
<circle cx="123.1" cy="217.3" r="1.85" fill="#fff" stroke="#000" stroke-width="1"/>
<circle cx="125" cy="219.2" r="1.85" fill="#fff" stroke="#000" stroke-width="1"/>
<circle cx="123.7" cy="232.3" r="1.85" fill="#fff" stroke="#000" stroke-width="1"/>
<circle cx="125" cy="234.2" r="1.85" fill="#fff" stroke="#000" stroke-width="1"/>
<circle cx="124" cy="243.5" r="1.85" fill="#fff" stroke="#000" stroke-width="1"/>
<line x1="139.8" y1="219" x2="139.8" y2="233.4" stroke="#000" stroke-width="0.9"/>
<line x1="137.8" y1="219" x2="141.8" y2="219" stroke="#000" stroke-width="0.9"/>
<line x1="137.8" y1="233.4" x2="141.8" y2="233.4" stroke="#000" stroke-width="0.9"/>
<circle cx="139.6" cy="218.5" r="2.15" fill="#000"/>
<circle cx="139" cy="220.8" r="2.15" fill="#000"/>
<circle cx="138" cy="224.6" r="2.15" fill="#000"/>
<circle cx="140.4" cy="232" r="2.15" fill="#000"/>
<circle cx="139.6" cy="239" r="2.15" fill="#000"/>
<circle cx="139.4" cy="239.6" r="2.15" fill="#000"/>
<line x1="165.4" y1="196" x2="165.4" y2="221.8" stroke="#000" stroke-width="0.9"/>
<line x1="163.4" y1="196" x2="167.4" y2="196" stroke="#000" stroke-width="0.9"/>
<line x1="163.4" y1="221.8" x2="167.4" y2="221.8" stroke="#000" stroke-width="0.9"/>
<circle cx="165" cy="191.5" r="1.85" fill="#fff" stroke="#000" stroke-width="1"/>
<circle cx="166" cy="197.7" r="1.85" fill="#fff" stroke="#000" stroke-width="1"/>
<circle cx="164" cy="202.5" r="1.85" fill="#fff" stroke="#000" stroke-width="1"/>
<circle cx="163.7" cy="208.8" r="1.85" fill="#fff" stroke="#000" stroke-width="1"/>
<circle cx="166" cy="212.7" r="1.85" fill="#fff" stroke="#000" stroke-width="1"/>
<circle cx="166.5" cy="216" r="1.85" fill="#fff" stroke="#000" stroke-width="1"/>
<circle cx="165" cy="230.8" r="1.85" fill="#fff" stroke="#000" stroke-width="1"/>
<line x1="180.8" y1="209.9" x2="180.8" y2="226.9" stroke="#000" stroke-width="0.9"/>
<line x1="178.8" y1="209.9" x2="182.8" y2="209.9" stroke="#000" stroke-width="0.9"/>
<line x1="178.8" y1="226.9" x2="182.8" y2="226.9" stroke="#000" stroke-width="0.9"/>
<circle cx="180.4" cy="203.8" r="2.15" fill="#000"/>
<circle cx="179.4" cy="212.1" r="2.15" fill="#000"/>
<circle cx="178.5" cy="218.5" r="2.15" fill="#000"/>
<circle cx="178.8" cy="220.4" r="2.15" fill="#000"/>
<circle cx="179.4" cy="224.6" r="2.15" fill="#000"/>
<circle cx="180.4" cy="230.4" r="2.15" fill="#000"/>
<line x1="32.5" y1="162" x2="32.5" y2="254.9" stroke="#111" stroke-width="1.35"/>
<line x1="31.8" y1="254.2" x2="190.4" y2="254.2" stroke="#111" stroke-width="1.35"/>
<line x1="29.3" y1="254.2" x2="32.3" y2="254.2" stroke="#111" stroke-width="1"/>
<text x="26.7" y="257.15" font-size="8.4" text-anchor="end" textLength="4.2" lengthAdjust="spacingAndGlyphs">8</text>
<line x1="29.3" y1="236.58" x2="32.3" y2="236.58" stroke="#111" stroke-width="1"/>
<text x="26.7" y="239.53" font-size="8.4" text-anchor="end" textLength="8.4" lengthAdjust="spacingAndGlyphs">10</text>
<line x1="29.3" y1="218.96" x2="32.3" y2="218.96" stroke="#111" stroke-width="1"/>
<text x="26.7" y="221.91" font-size="8.4" text-anchor="end" textLength="8.4" lengthAdjust="spacingAndGlyphs">12</text>
<line x1="29.3" y1="201.34" x2="32.3" y2="201.34" stroke="#111" stroke-width="1"/>
<text x="26.7" y="204.29" font-size="8.4" text-anchor="end" textLength="8.4" lengthAdjust="spacingAndGlyphs">14</text>
<line x1="29.3" y1="183.72" x2="32.3" y2="183.72" stroke="#111" stroke-width="1"/>
<text x="26.7" y="186.67" font-size="8.4" text-anchor="end" textLength="8.4" lengthAdjust="spacingAndGlyphs">16</text>
<line x1="29.3" y1="166.1" x2="32.3" y2="166.1" stroke="#111" stroke-width="1"/>
<text x="26.7" y="169.05" font-size="8.4" text-anchor="end" textLength="8.4" lengthAdjust="spacingAndGlyphs">18</text>
<line x1="42.9" y1="175.9" x2="82.6" y2="175.9" stroke="#222" stroke-width="1.1"/>
<path d="M60.8,170.05L60.8,172.95M62.06,170.78L59.54,172.22M62.06,172.22L59.54,170.78" stroke="#111" stroke-width="0.8" stroke-linecap="round"/>
<path d="M64.7,170.05L64.7,172.95M65.96,170.78L63.44,172.22M65.96,172.22L63.44,170.78" stroke="#111" stroke-width="0.8" stroke-linecap="round"/>
<line x1="84" y1="175.9" x2="98.8" y2="175.9" stroke="#222" stroke-width="1.1"/>
<path d="M91.4,170.05L91.4,172.95M92.66,170.78L90.14,172.22M92.66,172.22L90.14,170.78" stroke="#111" stroke-width="0.8" stroke-linecap="round"/>
<line x1="42.2" y1="191.2" x2="57.4" y2="191.2" stroke="#222" stroke-width="1.1"/>
<text x="49.8" y="188.6" font-size="7.9" text-anchor="middle">ns</text>
<line x1="124.2" y1="185.6" x2="164" y2="185.6" stroke="#222" stroke-width="1.1"/>
<path d="M144.1,179.75L144.1,182.65M145.36,180.47L142.84,181.92M145.36,181.92L142.84,180.47" stroke="#111" stroke-width="0.8" stroke-linecap="round"/>
<line x1="165" y1="185.6" x2="180" y2="185.6" stroke="#222" stroke-width="1.1"/>
<text x="172.5" y="183" font-size="7.9" text-anchor="middle">ns</text>
<line x1="125.6" y1="207" x2="140.4" y2="207" stroke="#222" stroke-width="1.1"/>
<text x="133" y="204.4" font-size="7.9" text-anchor="middle">ns</text>
<text x="37" y="264.6" font-size="8.2" textLength="28.8" lengthAdjust="spacingAndGlyphs">Medium</text>
<text x="78.8" y="264.6" font-size="8.2" textLength="24.6" lengthAdjust="spacingAndGlyphs">CXCL8</text>
<text x="117.7" y="264.6" font-size="8.2" textLength="29" lengthAdjust="spacingAndGlyphs">Medium</text>
<text x="160" y="264.6" font-size="8.2" textLength="24.6" lengthAdjust="spacingAndGlyphs">CXCL8</text>
<line x1="35" y1="269.6" x2="105.8" y2="269.6" stroke="#111" stroke-width="0.9"/>
<line x1="116.3" y1="269.6" x2="188" y2="269.6" stroke="#111" stroke-width="0.9"/>
<text x="50.4" y="279.2" font-size="8" textLength="37.6" lengthAdjust="spacingAndGlyphs">10 minutes</text>
<text x="131" y="279.2" font-size="8" textLength="39" lengthAdjust="spacingAndGlyphs">30 minutes</text>
<circle cx="47.5" cy="158.1" r="1.75" fill="#fff" stroke="#000" stroke-width="1"/>
<text x="53" y="160.9" font-size="7.7" textLength="12.3" lengthAdjust="spacingAndGlyphs">Ctrl</text>
<circle cx="77.5" cy="158.1" r="2.1" fill="#000"/>
<text x="83" y="160.9" font-size="7.7" textLength="13.7" lengthAdjust="spacingAndGlyphs">sUA</text>
<text x="13.1" y="207.9" font-size="9.3" text-anchor="middle" textLength="76.2" lengthAdjust="spacingAndGlyphs" transform="rotate(-90 13.1 207.9)">% of internalized CD18</text>
<text x="7" y="157" font-size="10.6" font-weight="bold" fill="#000">B</text>
<text x="205.8" y="158.2" font-size="10.6" font-weight="bold" fill="#000">C</text>
<defs><filter id="bl" x="-20%" y="-50%" width="140%" height="200%"><feGaussianBlur stdDeviation="0.9"/></filter><filter id="bl2" x="-20%" y="-50%" width="140%" height="200%"><feGaussianBlur stdDeviation="1.4"/></filter></defs>
<rect x="229" y="194.4" width="131" height="22.2" fill="#f3f3f3"/>
<rect x="229" y="222.8" width="131" height="19.8" fill="#f3f3f3"/>
<g filter="url(#bl2)">
<rect x="236.5" y="206.4" width="15" height="6.2" fill="#1a1a1a"/>
<rect x="267" y="205.4" width="17.5" height="8.4" fill="#8a8a8a"/>
<ellipse cx="279.4" cy="211.4" rx="3" ry="2" fill="#222"/>
<rect x="302.5" y="206.6" width="14" height="6" fill="#555"/>
<ellipse cx="307" cy="208.6" rx="3" ry="1.6" fill="#111"/>
<ellipse cx="313" cy="208.6" rx="3" ry="1.6" fill="#111"/>
<rect x="336.5" y="204.8" width="15" height="5.6" fill="#7a7a7a"/>
</g>
<g filter="url(#bl)">
<path d="M236.2,204.41 C236.2,199.46 239.32,198.8 244,198.8 C248.68,198.8 251.8,199.46 251.8,204.41 C250.24,205.93 237.76,205.93 236.2,204.41 Z" fill="#000"/>
<path d="M266.8,203.87 C266.8,199.22 270.36,198.6 275.7,198.6 C281.04,198.6 284.6,199.22 284.6,203.87 C282.82,205.3 268.58,205.3 266.8,203.87 Z" fill="#000"/>
<path d="M302,204.4 C302,198.4 305.12,197.6 309.8,197.6 C314.48,197.6 317.6,198.4 317.6,204.4 C316.04,206.24 303.56,206.24 302,204.4 Z" fill="#000"/>
<path d="M335,202.97 C335,196.82 338.4,196 343.5,196 C348.6,196 352,196.82 352,202.97 C350.3,204.86 336.7,204.86 335,202.97 Z" fill="#000"/>
</g>
<g filter="url(#bl)">
<path d="M241,231.2 C241,227.2 246,227.4 252,228.6 C258,229.8 264,230.2 266,231.6 C266.4,234 259,235 252,235.3 C246,235.6 241,235 241,231.2 Z" fill="#000"/>
<path d="M272,232.6 C273,229.6 279,229.8 285,230.8 C290,231.8 294,233.4 294.8,236.6 C290,237 284,236.4 278,236 C274,235.6 272,234.6 272,232.6 Z" fill="#000"/>
<path d="M305,234 C305,231 311,230.8 316,231 C321,231.2 325.2,231.8 325.2,234 C325.2,236.8 320,237.2 315,237.1 C309,237 305,236.8 305,234 Z" fill="#000"/>
<path d="M334.6,235 C336,232 341,230.6 346,231.4 C349,230.4 355,230.8 355.6,234.2 C355.6,237 350,237.6 344,237.4 C338,237.2 334.6,236.8 334.6,235 Z" fill="#000"/>
</g>
<rect x="229" y="194.4" width="131" height="22.2" fill="none" stroke="#000" stroke-width="1.9"/>
<rect x="229" y="222.8" width="131" height="19.8" fill="none" stroke="#000" stroke-width="1.9"/>
<text x="226.2" y="208.8" font-size="8.4" text-anchor="end" textLength="20.6" lengthAdjust="spacingAndGlyphs">CD18</text>
<text x="226.2" y="236.4" font-size="8.2" text-anchor="end" textLength="24" lengthAdjust="spacingAndGlyphs">&#946;-actin</text>
<text x="242.8" y="190.8" font-size="7.7" textLength="31" lengthAdjust="spacingAndGlyphs" transform="rotate(-44 242.8 190.8)">Medium</text>
<text x="278.8" y="190.4" font-size="7.7" textLength="14.6" lengthAdjust="spacingAndGlyphs" transform="rotate(-44 278.8 190.4)">sUA</text>
<text x="312.2" y="190.2" font-size="7.7" textLength="43" lengthAdjust="spacingAndGlyphs" transform="rotate(-44 312.2 190.2)">sUA+CXCL8</text>
<text x="346.6" y="189.4" font-size="7.7" textLength="23.8" lengthAdjust="spacingAndGlyphs" transform="rotate(-44 346.6 189.4)">CXCL8</text>
<rect x="425.8" y="210" width="11.5" height="43.9" fill="#e27f90"/>
<rect x="444" y="211.3" width="12.7" height="42.6" fill="#80a4c6"/>
<rect x="476.4" y="207.9" width="11.3" height="46" fill="#99dba3"/>
<rect x="495.2" y="207.3" width="11.3" height="46.6" fill="#a98fbd"/>
<circle cx="428.5" cy="210" r="1.85" fill="#fff" stroke="#000" stroke-width="1"/>
<circle cx="430.5" cy="210" r="1.85" fill="#fff" stroke="#000" stroke-width="1"/>
<circle cx="432.5" cy="210" r="1.85" fill="#fff" stroke="#000" stroke-width="1"/>
<circle cx="434.5" cy="210" r="1.85" fill="#fff" stroke="#000" stroke-width="1"/>
<line x1="450.35" y1="192.5" x2="450.35" y2="228.9" stroke="#000" stroke-width="0.9"/>
<line x1="448.35" y1="192.5" x2="452.35" y2="192.5" stroke="#000" stroke-width="0.9"/>
<line x1="448.35" y1="228.9" x2="452.35" y2="228.9" stroke="#000" stroke-width="0.9"/>
<circle cx="450.5" cy="184.4" r="2.15" fill="#000"/>
<circle cx="450.5" cy="212.2" r="2.15" fill="#000"/>
<circle cx="446.8" cy="220.2" r="2.15" fill="#000"/>
<circle cx="453.2" cy="225.6" r="2.15" fill="#000"/>
<line x1="482.05" y1="191.7" x2="482.05" y2="223.5" stroke="#000" stroke-width="0.9"/>
<line x1="480.05" y1="191.7" x2="484.05" y2="191.7" stroke="#000" stroke-width="0.9"/>
<line x1="480.05" y1="223.5" x2="484.05" y2="223.5" stroke="#000" stroke-width="0.9"/>
<circle cx="479" cy="193.3" r="1.85" fill="#fff" stroke="#000" stroke-width="1"/>
<circle cx="484.5" cy="197.9" r="1.85" fill="#fff" stroke="#000" stroke-width="1"/>
<circle cx="481.8" cy="210.5" r="1.85" fill="#fff" stroke="#000" stroke-width="1"/>
<circle cx="481.8" cy="228.3" r="1.85" fill="#fff" stroke="#000" stroke-width="1"/>
<line x1="500.85" y1="195.7" x2="500.85" y2="218.6" stroke="#000" stroke-width="0.9"/>
<line x1="498.85" y1="195.7" x2="502.85" y2="195.7" stroke="#000" stroke-width="0.9"/>
<line x1="498.85" y1="218.6" x2="502.85" y2="218.6" stroke="#000" stroke-width="0.9"/>
<circle cx="498" cy="194.4" r="2.15" fill="#000"/>
<circle cx="503.3" cy="202.5" r="2.15" fill="#000"/>
<circle cx="500.6" cy="210.5" r="2.15" fill="#000"/>
<circle cx="501.7" cy="220.2" r="2.15" fill="#000"/>
<line x1="419.2" y1="161.5" x2="419.2" y2="254.6" stroke="#111" stroke-width="1.35"/>
<line x1="418.5" y1="253.9" x2="513.3" y2="253.9" stroke="#111" stroke-width="1.35"/>
<line x1="416" y1="253.9" x2="419" y2="253.9" stroke="#111" stroke-width="1"/>
<text x="413.4" y="256.85" font-size="8.4" text-anchor="end" textLength="4.2" lengthAdjust="spacingAndGlyphs">0</text>
<line x1="416" y1="231.83" x2="419" y2="231.83" stroke="#111" stroke-width="1"/>
<text x="413.4" y="234.78" font-size="8.4" text-anchor="end" textLength="8.4" lengthAdjust="spacingAndGlyphs">50</text>
<line x1="416" y1="209.75" x2="419" y2="209.75" stroke="#111" stroke-width="1"/>
<text x="413.4" y="212.7" font-size="8.4" text-anchor="end" textLength="12.6" lengthAdjust="spacingAndGlyphs">100</text>
<line x1="416" y1="187.68" x2="419" y2="187.68" stroke="#111" stroke-width="1"/>
<text x="413.4" y="190.62" font-size="8.4" text-anchor="end" textLength="12.6" lengthAdjust="spacingAndGlyphs">150</text>
<line x1="416" y1="165.6" x2="419" y2="165.6" stroke="#111" stroke-width="1"/>
<text x="413.4" y="168.55" font-size="8.4" text-anchor="end" textLength="12.6" lengthAdjust="spacingAndGlyphs">200</text>
<line x1="431.7" y1="165.6" x2="480.2" y2="165.6" stroke="#222" stroke-width="1.1"/>
<text x="455.95" y="163" font-size="7.9" text-anchor="middle">ns</text>
<line x1="431.7" y1="177.2" x2="450" y2="177.2" stroke="#222" stroke-width="1.1"/>
<text x="440.85" y="174.6" font-size="7.9" text-anchor="middle">ns</text>
<line x1="481.8" y1="184.4" x2="501.2" y2="184.4" stroke="#222" stroke-width="1.1"/>
<text x="491.5" y="181.8" font-size="7.9" text-anchor="middle">ns</text>
<text x="426.3" y="264.8" font-size="8.2" textLength="29.7" lengthAdjust="spacingAndGlyphs">Medium</text>
<text x="480" y="264.8" font-size="8.2" textLength="24.4" lengthAdjust="spacingAndGlyphs">CXCL8</text>
<circle cx="429.4" cy="151.5" r="1.75" fill="#fff" stroke="#000" stroke-width="1"/>
<text x="434.9" y="154.3" font-size="7.7" textLength="12.3" lengthAdjust="spacingAndGlyphs">Ctrl</text>
<circle cx="459.9" cy="151.5" r="2.1" fill="#000"/>
<text x="465.4" y="154.3" font-size="7.7" textLength="13.7" lengthAdjust="spacingAndGlyphs">sUA</text>
<text x="383.6" y="210.2" font-size="9.3" text-anchor="middle" textLength="63.7" lengthAdjust="spacingAndGlyphs" transform="rotate(-90 383.6 210.2)">CD18/&#946;-actin ratio</text>
<text x="395.8" y="209.5" font-size="9.3" text-anchor="middle" textLength="81" lengthAdjust="spacingAndGlyphs" transform="rotate(-90 395.8 209.5)">(normalized to medium)</text>
<rect x="38.3" y="370.8" width="9.8" height="23.6" fill="#e27f90"/>
<rect x="53.4" y="372" width="9.9" height="22.4" fill="#80a4c6"/>
<rect x="79" y="350.1" width="9.8" height="44.3" fill="#99dba3"/>
<rect x="94.2" y="368.8" width="9.6" height="25.6" fill="#a98fbd"/>
<rect x="119.6" y="345" width="9.5" height="49.4" fill="#e27f90"/>
<rect x="135" y="354" width="9.6" height="40.4" fill="#80a4c6"/>
<rect x="160.4" y="330.1" width="9.6" height="64.3" fill="#99dba3"/>
<rect x="176.1" y="331.4" width="9.5" height="63" fill="#a98fbd"/>
<line x1="43.2" y1="364" x2="43.2" y2="382" stroke="#000" stroke-width="0.9"/>
<line x1="41.2" y1="364" x2="45.2" y2="364" stroke="#000" stroke-width="0.9"/>
<line x1="41.2" y1="382" x2="45.2" y2="382" stroke="#000" stroke-width="0.9"/>
<circle cx="43.2" cy="364.9" r="1.85" fill="#fff" stroke="#000" stroke-width="1"/>
<circle cx="44.6" cy="371.4" r="1.85" fill="#fff" stroke="#000" stroke-width="1"/>
<circle cx="43.2" cy="379.8" r="1.85" fill="#fff" stroke="#000" stroke-width="1"/>
<line x1="58.35" y1="362" x2="58.35" y2="381" stroke="#000" stroke-width="0.9"/>
<line x1="56.35" y1="362" x2="60.35" y2="362" stroke="#000" stroke-width="0.9"/>
<line x1="56.35" y1="381" x2="60.35" y2="381" stroke="#000" stroke-width="0.9"/>
<circle cx="57.4" cy="362.1" r="2.15" fill="#000"/>
<circle cx="59.5" cy="365.5" r="2.15" fill="#000"/>
<circle cx="57.4" cy="379.8" r="2.15" fill="#000"/>
<circle cx="59.5" cy="380.2" r="2.15" fill="#000"/>
<line x1="83.9" y1="337" x2="83.9" y2="362" stroke="#000" stroke-width="0.9"/>
<line x1="81.9" y1="337" x2="85.9" y2="337" stroke="#000" stroke-width="0.9"/>
<line x1="81.9" y1="362" x2="85.9" y2="362" stroke="#000" stroke-width="0.9"/>
<circle cx="84" cy="337.4" r="1.85" fill="#fff" stroke="#000" stroke-width="1"/>
<circle cx="84" cy="346.8" r="1.85" fill="#fff" stroke="#000" stroke-width="1"/>
<circle cx="82.5" cy="354.7" r="1.85" fill="#fff" stroke="#000" stroke-width="1"/>
<circle cx="85" cy="361.5" r="1.85" fill="#fff" stroke="#000" stroke-width="1"/>
<line x1="99" y1="365" x2="99" y2="373" stroke="#000" stroke-width="0.9"/>
<line x1="97" y1="365" x2="101" y2="365" stroke="#000" stroke-width="0.9"/>
<line x1="97" y1="373" x2="101" y2="373" stroke="#000" stroke-width="0.9"/>
<circle cx="98.5" cy="365.3" r="2.15" fill="#000"/>
<circle cx="99.5" cy="369.5" r="2.15" fill="#000"/>
<circle cx="100.6" cy="373.1" r="2.15" fill="#000"/>
<line x1="124.35" y1="338" x2="124.35" y2="350" stroke="#000" stroke-width="0.9"/>
<line x1="122.35" y1="338" x2="126.35" y2="338" stroke="#000" stroke-width="0.9"/>
<line x1="122.35" y1="350" x2="126.35" y2="350" stroke="#000" stroke-width="0.9"/>
<circle cx="124.3" cy="336.7" r="1.85" fill="#fff" stroke="#000" stroke-width="1"/>
<circle cx="122.8" cy="343.9" r="1.85" fill="#fff" stroke="#000" stroke-width="1"/>
<circle cx="125.5" cy="348.8" r="1.85" fill="#fff" stroke="#000" stroke-width="1"/>
<circle cx="124.3" cy="347.3" r="1.85" fill="#fff" stroke="#000" stroke-width="1"/>
<line x1="139.8" y1="351" x2="139.8" y2="356" stroke="#000" stroke-width="0.9"/>
<line x1="137.8" y1="351" x2="141.8" y2="351" stroke="#000" stroke-width="0.9"/>
<line x1="137.8" y1="356" x2="141.8" y2="356" stroke="#000" stroke-width="0.9"/>
<circle cx="138.2" cy="350.9" r="2.15" fill="#000"/>
<circle cx="139.7" cy="353" r="2.15" fill="#000"/>
<circle cx="140.8" cy="355.1" r="2.15" fill="#000"/>
<line x1="165.2" y1="319" x2="165.2" y2="340" stroke="#000" stroke-width="0.9"/>
<line x1="163.2" y1="319" x2="167.2" y2="319" stroke="#000" stroke-width="0.9"/>
<line x1="163.2" y1="340" x2="167.2" y2="340" stroke="#000" stroke-width="0.9"/>
<circle cx="165.1" cy="318.7" r="1.85" fill="#fff" stroke="#000" stroke-width="1"/>
<circle cx="164" cy="330.8" r="1.85" fill="#fff" stroke="#000" stroke-width="1"/>
<circle cx="166.6" cy="338.2" r="1.85" fill="#fff" stroke="#000" stroke-width="1"/>
<circle cx="165.1" cy="330.8" r="1.85" fill="#fff" stroke="#000" stroke-width="1"/>
<line x1="180.85" y1="325" x2="180.85" y2="338" stroke="#000" stroke-width="0.9"/>
<line x1="178.85" y1="325" x2="182.85" y2="325" stroke="#000" stroke-width="0.9"/>
<line x1="178.85" y1="338" x2="182.85" y2="338" stroke="#000" stroke-width="0.9"/>
<circle cx="179.9" cy="324.4" r="2.15" fill="#000"/>
<circle cx="181.4" cy="327.6" r="2.15" fill="#000"/>
<circle cx="179.9" cy="332.9" r="2.15" fill="#000"/>
<circle cx="182" cy="338.2" r="2.15" fill="#000"/>
<line x1="32.2" y1="302.6" x2="32.2" y2="395.1" stroke="#111" stroke-width="1.35"/>
<line x1="31.5" y1="394.4" x2="191.1" y2="394.4" stroke="#111" stroke-width="1.35"/>
<line x1="29" y1="394.4" x2="32" y2="394.4" stroke="#111" stroke-width="1"/>
<text x="26.4" y="397.35" font-size="8.4" text-anchor="end" textLength="8.4" lengthAdjust="spacingAndGlyphs">15</text>
<line x1="29" y1="376.6" x2="32" y2="376.6" stroke="#111" stroke-width="1"/>
<text x="26.4" y="379.55" font-size="8.4" text-anchor="end" textLength="8.4" lengthAdjust="spacingAndGlyphs">20</text>
<line x1="29" y1="358.8" x2="32" y2="358.8" stroke="#111" stroke-width="1"/>
<text x="26.4" y="361.75" font-size="8.4" text-anchor="end" textLength="8.4" lengthAdjust="spacingAndGlyphs">25</text>
<line x1="29" y1="341" x2="32" y2="341" stroke="#111" stroke-width="1"/>
<text x="26.4" y="343.95" font-size="8.4" text-anchor="end" textLength="8.4" lengthAdjust="spacingAndGlyphs">30</text>
<line x1="29" y1="323.2" x2="32" y2="323.2" stroke="#111" stroke-width="1"/>
<text x="26.4" y="326.15" font-size="8.4" text-anchor="end" textLength="8.4" lengthAdjust="spacingAndGlyphs">35</text>
<line x1="29" y1="305.4" x2="32" y2="305.4" stroke="#111" stroke-width="1"/>
<text x="26.4" y="308.35" font-size="8.4" text-anchor="end" textLength="8.4" lengthAdjust="spacingAndGlyphs">40</text>
<line x1="43.2" y1="330.1" x2="82.5" y2="330.1" stroke="#222" stroke-width="1.1"/>
<path d="M62.85,324.25L62.85,327.15M64.11,324.98L61.59,326.43M64.11,326.43L61.59,324.98" stroke="#111" stroke-width="0.8" stroke-linecap="round"/>
<line x1="84.5" y1="330.1" x2="99.2" y2="330.1" stroke="#222" stroke-width="1.1"/>
<path d="M91.85,324.25L91.85,327.15M93.11,324.98L90.59,326.43M93.11,326.43L90.59,324.98" stroke="#111" stroke-width="0.8" stroke-linecap="round"/>
<line x1="42.8" y1="354.3" x2="57.4" y2="354.3" stroke="#222" stroke-width="1.1"/>
<text x="50.1" y="351.7" font-size="7.9" text-anchor="middle">ns</text>
<line x1="124.3" y1="312.8" x2="164" y2="312.8" stroke="#222" stroke-width="1.1"/>
<path d="M144.15,306.95L144.15,309.85M145.41,307.68L142.89,309.13M145.41,309.13L142.89,307.68" stroke="#111" stroke-width="0.8" stroke-linecap="round"/>
<line x1="165" y1="312.8" x2="180.5" y2="312.8" stroke="#222" stroke-width="1.1"/>
<text x="172.75" y="310.2" font-size="7.9" text-anchor="middle">ns</text>
<line x1="124.9" y1="330.3" x2="140.1" y2="330.3" stroke="#222" stroke-width="1.1"/>
<text x="132.5" y="327.7" font-size="7.9" text-anchor="middle">ns</text>
<text x="37" y="405.2" font-size="8.2" textLength="28.8" lengthAdjust="spacingAndGlyphs">Medium</text>
<text x="78.8" y="405.2" font-size="8.2" textLength="24.6" lengthAdjust="spacingAndGlyphs">CXCL8</text>
<text x="117.7" y="405.2" font-size="8.2" textLength="29" lengthAdjust="spacingAndGlyphs">Medium</text>
<text x="160" y="405.2" font-size="8.2" textLength="24.6" lengthAdjust="spacingAndGlyphs">CXCL8</text>
<line x1="35" y1="409.6" x2="105.8" y2="409.6" stroke="#111" stroke-width="0.9"/>
<line x1="116.4" y1="409.6" x2="187.7" y2="409.6" stroke="#111" stroke-width="0.9"/>
<text x="50.4" y="419.2" font-size="8" textLength="37.6" lengthAdjust="spacingAndGlyphs">10 minutes</text>
<text x="131" y="419.2" font-size="8" textLength="39" lengthAdjust="spacingAndGlyphs">30 minutes</text>
<circle cx="48.3" cy="299.1" r="1.75" fill="#fff" stroke="#000" stroke-width="1"/>
<text x="53.8" y="301.9" font-size="7.7" textLength="12.3" lengthAdjust="spacingAndGlyphs">Ctrl</text>
<circle cx="78.4" cy="299.1" r="2.1" fill="#000"/>
<text x="83.9" y="301.9" font-size="7.7" textLength="13.7" lengthAdjust="spacingAndGlyphs">sUA</text>
<text x="13.1" y="347.1" font-size="9.3" text-anchor="middle" textLength="83.4" lengthAdjust="spacingAndGlyphs" transform="rotate(-90 13.1 347.1)">% of internalized MAC-1</text>
<text x="7" y="296.7" font-size="10.6" font-weight="bold" fill="#000">D</text>
<text x="203.9" y="296.8" font-size="10.6" font-weight="bold" fill="#000">E</text>
<rect x="221.9" y="292.2" width="6.2" height="6" fill="#c6c6c6"/>
<text x="231.3" y="297.9" font-size="7.2" textLength="28.3" lengthAdjust="spacingAndGlyphs">Medium</text>
<rect x="221.9" y="303.8" width="6.2" height="6" fill="#8a8a8a"/>
<text x="231.6" y="309.6" font-size="7.2" textLength="13.8" lengthAdjust="spacingAndGlyphs">sUA</text>
<rect x="265.6" y="292.2" width="6.2" height="6" fill="#1c8a1c"/>
<text x="275.2" y="297.9" font-size="7.2" textLength="23.5" lengthAdjust="spacingAndGlyphs">CXCL8</text>
<rect x="265.6" y="303.8" width="6.2" height="6" fill="#3fd03f"/>
<text x="275.2" y="309.6" font-size="7.2" textLength="40.4" lengthAdjust="spacingAndGlyphs">sUA+CXCL8</text>
<rect x="219.6" y="313.4" width="92.4" height="89.2" fill="#fff"/>
<path d="M219.6,349.3 L219.6,349.3 L220.1,349.3 L220.6,349.3 L221.1,349.3 L221.6,349.3 L222.1,349.3 L222.6,349.3 L223.1,349.3 L223.6,349.3 L224.1,349.3 L224.6,349.3 L225.1,349.3 L225.6,349.3 L226.1,349.3 L226.6,349.3 L227.1,349.3 L227.6,349.3 L228.1,349.3 L228.6,349.3 L229.1,349.3 L229.6,349.3 L230.1,349.3 L230.6,349.3 L231.1,349.3 L231.6,349.3 L232.1,349.3 L232.6,349.3 L233.1,349.3 L233.6,349.3 L234.1,349.3 L234.6,349.3 L235.1,349.3 L235.6,349.3 L236.1,349.3 L236.6,349.3 L237.1,349.29 L237.6,349.29 L238.1,349.29 L238.6,349.28 L239.1,349.27 L239.6,349.25 L240.1,349.22 L240.6,349.18 L241.1,349.13 L241.6,349.05 L242.1,348.95 L242.6,348.8 L243.1,348.61 L243.6,348.36 L244.1,348.04 L244.6,347.64 L245.1,347.14 L245.6,346.54 L246.1,345.82 L246.6,344.98 L247.1,344.01 L247.6,342.93 L248.1,341.75 L248.6,340.47 L249.1,339.14 L249.6,337.78 L250.1,336.42 L250.6,335.11 L251.1,333.89 L251.6,332.79 L252.1,331.86 L252.6,331.12 L253.1,330.59 L253.6,330.26 L254.1,330.1 L254.6,330.1 L255.1,330.25 L255.6,330.54 L256.1,330.94 L256.6,331.44 L257.1,332.02 L257.6,332.66 L258.1,333.34 L258.6,334.04 L259.1,334.76 L259.6,335.48 L260.1,336.2 L260.6,336.91 L261.1,337.61 L261.6,338.29 L262.1,338.94 L262.6,339.56 L263.1,340.15 L263.6,340.72 L264.1,341.27 L264.6,341.8 L265.1,342.32 L265.6,342.83 L266.1,343.33 L266.6,343.81 L267.1,344.28 L267.6,344.73 L268.1,345.17 L268.6,345.58 L269.1,345.98 L269.6,346.35 L270.1,346.7 L270.6,347.02 L271.1,347.31 L271.6,347.58 L272.1,347.82 L272.6,348.04 L273.1,348.23 L273.6,348.4 L274.1,348.54 L274.6,348.67 L275.1,348.78 L275.6,348.88 L276.1,348.96 L276.6,349.02 L277.1,349.08 L277.6,349.12 L278.1,349.16 L278.6,349.19 L279.1,349.21 L279.6,349.23 L280.1,349.25 L280.6,349.26 L281.1,349.27 L281.6,349.28 L282.1,349.28 L282.6,349.29 L283.1,349.29 L283.6,349.29 L284.1,349.3 L284.6,349.3 L285.1,349.3 L285.6,349.3 L286.1,349.3 L286.6,349.3 L287.1,349.3 L287.6,349.3 L288.1,349.3 L288.6,349.3 L289.1,349.3 L289.6,349.3 L290.1,349.3 L290.6,349.3 L291.1,349.3 L291.6,349.3 L292.1,349.3 L292.6,349.3 L293.1,349.3 L293.6,349.3 L294.1,349.3 L294.6,349.3 L295.1,349.3 L295.6,349.3 L296.1,349.3 L296.6,349.3 L297.1,349.3 L297.6,349.3 L298.1,349.3 L298.6,349.3 L299.1,349.3 L299.6,349.3 L300.1,349.3 L300.6,349.3 L301.1,349.3 L301.6,349.3 L302.1,349.3 L302.6,349.3 L303.1,349.3 L303.6,349.3 L304.1,349.3 L304.6,349.3 L305.1,349.3 L305.6,349.3 L306.1,349.3 L306.6,349.3 L307.1,349.3 L307.6,349.3 L308.1,349.3 L308.6,349.3 L309.1,349.3 L309.6,349.3 L310.1,349.3 L310.6,349.3 L311.1,349.3 L311.6,349.3 L312,349.3 Z" fill="#e0e0e0" fill-opacity="1" stroke="none"/>
<path d="M219.6,349.3 L220.1,349.3 L220.6,349.3 L221.1,349.3 L221.6,349.3 L222.1,349.3 L222.6,349.3 L223.1,349.3 L223.6,349.3 L224.1,349.3 L224.6,349.3 L225.1,349.3 L225.6,349.3 L226.1,349.3 L226.6,349.3 L227.1,349.3 L227.6,349.3 L228.1,349.3 L228.6,349.3 L229.1,349.3 L229.6,349.3 L230.1,349.3 L230.6,349.3 L231.1,349.3 L231.6,349.3 L232.1,349.3 L232.6,349.3 L233.1,349.3 L233.6,349.3 L234.1,349.3 L234.6,349.3 L235.1,349.3 L235.6,349.3 L236.1,349.3 L236.6,349.3 L237.1,349.29 L237.6,349.29 L238.1,349.29 L238.6,349.28 L239.1,349.27 L239.6,349.25 L240.1,349.22 L240.6,349.18 L241.1,349.13 L241.6,349.05 L242.1,348.95 L242.6,348.8 L243.1,348.61 L243.6,348.36 L244.1,348.04 L244.6,347.64 L245.1,347.14 L245.6,346.54 L246.1,345.82 L246.6,344.98 L247.1,344.01 L247.6,342.93 L248.1,341.75 L248.6,340.47 L249.1,339.14 L249.6,337.78 L250.1,336.42 L250.6,335.11 L251.1,333.89 L251.6,332.79 L252.1,331.86 L252.6,331.12 L253.1,330.59 L253.6,330.26 L254.1,330.1 L254.6,330.1 L255.1,330.25 L255.6,330.54 L256.1,330.94 L256.6,331.44 L257.1,332.02 L257.6,332.66 L258.1,333.34 L258.6,334.04 L259.1,334.76 L259.6,335.48 L260.1,336.2 L260.6,336.91 L261.1,337.61 L261.6,338.29 L262.1,338.94 L262.6,339.56 L263.1,340.15 L263.6,340.72 L264.1,341.27 L264.6,341.8 L265.1,342.32 L265.6,342.83 L266.1,343.33 L266.6,343.81 L267.1,344.28 L267.6,344.73 L268.1,345.17 L268.6,345.58 L269.1,345.98 L269.6,346.35 L270.1,346.7 L270.6,347.02 L271.1,347.31 L271.6,347.58 L272.1,347.82 L272.6,348.04 L273.1,348.23 L273.6,348.4 L274.1,348.54 L274.6,348.67 L275.1,348.78 L275.6,348.88 L276.1,348.96 L276.6,349.02 L277.1,349.08 L277.6,349.12 L278.1,349.16 L278.6,349.19 L279.1,349.21 L279.6,349.23 L280.1,349.25 L280.6,349.26 L281.1,349.27 L281.6,349.28 L282.1,349.28 L282.6,349.29 L283.1,349.29 L283.6,349.29 L284.1,349.3 L284.6,349.3 L285.1,349.3 L285.6,349.3 L286.1,349.3 L286.6,349.3 L287.1,349.3 L287.6,349.3 L288.1,349.3 L288.6,349.3 L289.1,349.3 L289.6,349.3 L290.1,349.3 L290.6,349.3 L291.1,349.3 L291.6,349.3 L292.1,349.3 L292.6,349.3 L293.1,349.3 L293.6,349.3 L294.1,349.3 L294.6,349.3 L295.1,349.3 L295.6,349.3 L296.1,349.3 L296.6,349.3 L297.1,349.3 L297.6,349.3 L298.1,349.3 L298.6,349.3 L299.1,349.3 L299.6,349.3 L300.1,349.3 L300.6,349.3 L301.1,349.3 L301.6,349.3 L302.1,349.3 L302.6,349.3 L303.1,349.3 L303.6,349.3 L304.1,349.3 L304.6,349.3 L305.1,349.3 L305.6,349.3 L306.1,349.3 L306.6,349.3 L307.1,349.3 L307.6,349.3 L308.1,349.3 L308.6,349.3 L309.1,349.3 L309.6,349.3 L310.1,349.3 L310.6,349.3 L311.1,349.3 L311.6,349.3" fill="none" stroke="#cdcdcd" stroke-width="0.8" stroke-linejoin="round"/>
<line x1="219.6" y1="349.3" x2="312" y2="349.3" stroke="#cdcdcd" stroke-width="0.9"/>
<path d="M219.6,367.5 L219.6,367.5 L220.1,367.5 L220.6,367.5 L221.1,367.5 L221.6,367.5 L222.1,367.5 L222.6,367.5 L223.1,367.5 L223.6,367.5 L224.1,367.5 L224.6,367.5 L225.1,367.5 L225.6,367.5 L226.1,367.5 L226.6,367.5 L227.1,367.5 L227.6,367.5 L228.1,367.5 L228.6,367.5 L229.1,367.5 L229.6,367.5 L230.1,367.5 L230.6,367.5 L231.1,367.5 L231.6,367.5 L232.1,367.5 L232.6,367.5 L233.1,367.5 L233.6,367.5 L234.1,367.5 L234.6,367.5 L235.1,367.49 L235.6,367.49 L236.1,367.49 L236.6,367.48 L237.1,367.47 L237.6,367.46 L238.1,367.45 L238.6,367.43 L239.1,367.4 L239.6,367.37 L240.1,367.33 L240.6,367.28 L241.1,367.22 L241.6,367.14 L242.1,367.04 L242.6,366.93 L243.1,366.78 L243.6,366.61 L244.1,366.4 L244.6,366.14 L245.1,365.8 L245.6,365.37 L246.1,364.8 L246.6,364.04 L247.1,363.01 L247.6,361.64 L248.1,359.85 L248.6,357.58 L249.1,354.82 L249.6,351.6 L250.1,348.07 L250.6,344.41 L251.1,340.9 L251.6,337.83 L252.1,335.5 L252.6,334.1 L253.1,334.15 L253.6,336.27 L254.1,339.84 L254.6,343.93 L255.1,347.7 L255.6,350.65 L256.1,352.67 L256.6,353.9 L257.1,354.59 L257.6,354.97 L258.1,355.21 L258.6,355.41 L259.1,355.62 L259.6,355.88 L260.1,356.15 L260.6,356.43 L261.1,356.72 L261.6,357.03 L262.1,357.38 L262.6,357.75 L263.1,358.15 L263.6,358.58 L264.1,359.03 L264.6,359.51 L265.1,360 L265.6,360.51 L266.1,361.01 L266.6,361.52 L267.1,362.02 L267.6,362.5 L268.1,362.97 L268.6,363.42 L269.1,363.85 L269.6,364.25 L270.1,364.63 L270.6,364.97 L271.1,365.29 L271.6,365.58 L272.1,365.84 L272.6,366.07 L273.1,366.28 L273.6,366.47 L274.1,366.63 L274.6,366.77 L275.1,366.89 L275.6,366.99 L276.1,367.08 L276.6,367.16 L277.1,367.22 L277.6,367.28 L278.1,367.32 L278.6,367.36 L279.1,367.38 L279.6,367.41 L280.1,367.43 L280.6,367.44 L281.1,367.46 L281.6,367.47 L282.1,367.47 L282.6,367.48 L283.1,367.49 L283.6,367.49 L284.1,367.49 L284.6,367.49 L285.1,367.5 L285.6,367.5 L286.1,367.5 L286.6,367.5 L287.1,367.5 L287.6,367.5 L288.1,367.5 L288.6,367.5 L289.1,367.5 L289.6,367.5 L290.1,367.5 L290.6,367.5 L291.1,367.5 L291.6,367.5 L292.1,367.5 L292.6,367.5 L293.1,367.5 L293.6,367.5 L294.1,367.5 L294.6,367.5 L295.1,367.5 L295.6,367.5 L296.1,367.5 L296.6,367.5 L297.1,367.5 L297.6,367.5 L298.1,367.5 L298.6,367.5 L299.1,367.5 L299.6,367.5 L300.1,367.5 L300.6,367.5 L301.1,367.5 L301.6,367.5 L302.1,367.5 L302.6,367.5 L303.1,367.5 L303.6,367.5 L304.1,367.5 L304.6,367.5 L305.1,367.5 L305.6,367.5 L306.1,367.5 L306.6,367.5 L307.1,367.5 L307.6,367.5 L308.1,367.5 L308.6,367.5 L309.1,367.5 L309.6,367.5 L310.1,367.5 L310.6,367.5 L311.1,367.5 L311.6,367.5 L312,367.5 Z" fill="#a2a2a2" fill-opacity="1" stroke="none"/>
<path d="M219.6,367.5 L220.1,367.5 L220.6,367.5 L221.1,367.5 L221.6,367.5 L222.1,367.5 L222.6,367.5 L223.1,367.5 L223.6,367.5 L224.1,367.5 L224.6,367.5 L225.1,367.5 L225.6,367.5 L226.1,367.5 L226.6,367.5 L227.1,367.5 L227.6,367.5 L228.1,367.5 L228.6,367.5 L229.1,367.5 L229.6,367.5 L230.1,367.5 L230.6,367.5 L231.1,367.5 L231.6,367.5 L232.1,367.5 L232.6,367.5 L233.1,367.5 L233.6,367.5 L234.1,367.5 L234.6,367.5 L235.1,367.49 L235.6,367.49 L236.1,367.49 L236.6,367.48 L237.1,367.47 L237.6,367.46 L238.1,367.45 L238.6,367.43 L239.1,367.4 L239.6,367.37 L240.1,367.33 L240.6,367.28 L241.1,367.22 L241.6,367.14 L242.1,367.04 L242.6,366.93 L243.1,366.78 L243.6,366.61 L244.1,366.4 L244.6,366.14 L245.1,365.8 L245.6,365.37 L246.1,364.8 L246.6,364.04 L247.1,363.01 L247.6,361.64 L248.1,359.85 L248.6,357.58 L249.1,354.82 L249.6,351.6 L250.1,348.07 L250.6,344.41 L251.1,340.9 L251.6,337.83 L252.1,335.5 L252.6,334.1 L253.1,334.15 L253.6,336.27 L254.1,339.84 L254.6,343.93 L255.1,347.7 L255.6,350.65 L256.1,352.67 L256.6,353.9 L257.1,354.59 L257.6,354.97 L258.1,355.21 L258.6,355.41 L259.1,355.62 L259.6,355.88 L260.1,356.15 L260.6,356.43 L261.1,356.72 L261.6,357.03 L262.1,357.38 L262.6,357.75 L263.1,358.15 L263.6,358.58 L264.1,359.03 L264.6,359.51 L265.1,360 L265.6,360.51 L266.1,361.01 L266.6,361.52 L267.1,362.02 L267.6,362.5 L268.1,362.97 L268.6,363.42 L269.1,363.85 L269.6,364.25 L270.1,364.63 L270.6,364.97 L271.1,365.29 L271.6,365.58 L272.1,365.84 L272.6,366.07 L273.1,366.28 L273.6,366.47 L274.1,366.63 L274.6,366.77 L275.1,366.89 L275.6,366.99 L276.1,367.08 L276.6,367.16 L277.1,367.22 L277.6,367.28 L278.1,367.32 L278.6,367.36 L279.1,367.38 L279.6,367.41 L280.1,367.43 L280.6,367.44 L281.1,367.46 L281.6,367.47 L282.1,367.47 L282.6,367.48 L283.1,367.49 L283.6,367.49 L284.1,367.49 L284.6,367.49 L285.1,367.5 L285.6,367.5 L286.1,367.5 L286.6,367.5 L287.1,367.5 L287.6,367.5 L288.1,367.5 L288.6,367.5 L289.1,367.5 L289.6,367.5 L290.1,367.5 L290.6,367.5 L291.1,367.5 L291.6,367.5 L292.1,367.5 L292.6,367.5 L293.1,367.5 L293.6,367.5 L294.1,367.5 L294.6,367.5 L295.1,367.5 L295.6,367.5 L296.1,367.5 L296.6,367.5 L297.1,367.5 L297.6,367.5 L298.1,367.5 L298.6,367.5 L299.1,367.5 L299.6,367.5 L300.1,367.5 L300.6,367.5 L301.1,367.5 L301.6,367.5 L302.1,367.5 L302.6,367.5 L303.1,367.5 L303.6,367.5 L304.1,367.5 L304.6,367.5 L305.1,367.5 L305.6,367.5 L306.1,367.5 L306.6,367.5 L307.1,367.5 L307.6,367.5 L308.1,367.5 L308.6,367.5 L309.1,367.5 L309.6,367.5 L310.1,367.5 L310.6,367.5 L311.1,367.5 L311.6,367.5" fill="none" stroke="#262626" stroke-width="0.9" stroke-linejoin="round"/>
<line x1="219.6" y1="367.5" x2="312" y2="367.5" stroke="#262626" stroke-width="0.9"/>
<path d="M219.6,385.2 L219.6,385.2 L220.1,385.2 L220.6,385.2 L221.1,385.2 L221.6,385.2 L222.1,385.2 L222.6,385.2 L223.1,385.2 L223.6,385.2 L224.1,385.2 L224.6,385.2 L225.1,385.2 L225.6,385.2 L226.1,385.2 L226.6,385.2 L227.1,385.2 L227.6,385.2 L228.1,385.2 L228.6,385.2 L229.1,385.2 L229.6,385.2 L230.1,385.2 L230.6,385.2 L231.1,385.2 L231.6,385.2 L232.1,385.2 L232.6,385.19 L233.1,385.19 L233.6,385.19 L234.1,385.19 L234.6,385.18 L235.1,385.18 L235.6,385.17 L236.1,385.16 L236.6,385.15 L237.1,385.13 L237.6,385.12 L238.1,385.09 L238.6,385.07 L239.1,385.03 L239.6,384.99 L240.1,384.94 L240.6,384.88 L241.1,384.81 L241.6,384.73 L242.1,384.63 L242.6,384.51 L243.1,384.37 L243.6,384.21 L244.1,384.02 L244.6,383.81 L245.1,383.56 L245.6,383.29 L246.1,382.97 L246.6,382.62 L247.1,382.23 L247.6,381.8 L248.1,381.32 L248.6,380.8 L249.1,380.23 L249.6,379.62 L250.1,378.97 L250.6,378.28 L251.1,377.55 L251.6,376.78 L252.1,375.98 L252.6,375.16 L253.1,374.33 L253.6,373.48 L254.1,372.63 L254.6,371.79 L255.1,370.97 L255.6,370.17 L256.1,369.4 L256.6,368.69 L257.1,368.03 L257.6,367.43 L258.1,366.9 L258.6,366.46 L259.1,366.1 L259.6,365.84 L260.1,365.67 L260.6,365.6 L261.1,365.62 L261.6,365.72 L262.1,365.9 L262.6,366.14 L263.1,366.46 L263.6,366.84 L264.1,367.29 L264.6,367.79 L265.1,368.35 L265.6,368.95 L266.1,369.59 L266.6,370.27 L267.1,370.97 L267.6,371.69 L268.1,372.42 L268.6,373.16 L269.1,373.9 L269.6,374.64 L270.1,375.37 L270.6,376.08 L271.1,376.78 L271.6,377.45 L272.1,378.1 L272.6,378.72 L273.1,379.3 L273.6,379.86 L274.1,380.38 L274.6,380.87 L275.1,381.32 L275.6,381.74 L276.1,382.13 L276.6,382.48 L277.1,382.8 L277.6,383.1 L278.1,383.36 L278.6,383.6 L279.1,383.81 L279.6,384 L280.1,384.16 L280.6,384.31 L281.1,384.44 L281.6,384.55 L282.1,384.65 L282.6,384.74 L283.1,384.81 L283.6,384.87 L284.1,384.93 L284.6,384.97 L285.1,385.01 L285.6,385.05 L286.1,385.07 L286.6,385.1 L287.1,385.12 L287.6,385.13 L288.1,385.14 L288.6,385.16 L289.1,385.16 L289.6,385.17 L290.1,385.18 L290.6,385.18 L291.1,385.19 L291.6,385.19 L292.1,385.19 L292.6,385.19 L293.1,385.19 L293.6,385.2 L294.1,385.2 L294.6,385.2 L295.1,385.2 L295.6,385.2 L296.1,385.2 L296.6,385.2 L297.1,385.2 L297.6,385.2 L298.1,385.2 L298.6,385.2 L299.1,385.2 L299.6,385.2 L300.1,385.2 L300.6,385.2 L301.1,385.2 L301.6,385.2 L302.1,385.2 L302.6,385.2 L303.1,385.2 L303.6,385.2 L304.1,385.2 L304.6,385.2 L305.1,385.2 L305.6,385.2 L306.1,385.2 L306.6,385.2 L307.1,385.2 L307.6,385.2 L308.1,385.2 L308.6,385.2 L309.1,385.2 L309.6,385.2 L310.1,385.2 L310.6,385.2 L311.1,385.2 L311.6,385.2 L312,385.2 Z" fill="#9ccf9c" fill-opacity="0.95" stroke="none"/>
<path d="M219.6,385.2 L220.1,385.2 L220.6,385.2 L221.1,385.2 L221.6,385.2 L222.1,385.2 L222.6,385.2 L223.1,385.2 L223.6,385.2 L224.1,385.2 L224.6,385.2 L225.1,385.2 L225.6,385.2 L226.1,385.2 L226.6,385.2 L227.1,385.2 L227.6,385.2 L228.1,385.2 L228.6,385.2 L229.1,385.2 L229.6,385.2 L230.1,385.2 L230.6,385.2 L231.1,385.2 L231.6,385.2 L232.1,385.2 L232.6,385.19 L233.1,385.19 L233.6,385.19 L234.1,385.19 L234.6,385.18 L235.1,385.18 L235.6,385.17 L236.1,385.16 L236.6,385.15 L237.1,385.13 L237.6,385.12 L238.1,385.09 L238.6,385.07 L239.1,385.03 L239.6,384.99 L240.1,384.94 L240.6,384.88 L241.1,384.81 L241.6,384.73 L242.1,384.63 L242.6,384.51 L243.1,384.37 L243.6,384.21 L244.1,384.02 L244.6,383.81 L245.1,383.56 L245.6,383.29 L246.1,382.97 L246.6,382.62 L247.1,382.23 L247.6,381.8 L248.1,381.32 L248.6,380.8 L249.1,380.23 L249.6,379.62 L250.1,378.97 L250.6,378.28 L251.1,377.55 L251.6,376.78 L252.1,375.98 L252.6,375.16 L253.1,374.33 L253.6,373.48 L254.1,372.63 L254.6,371.79 L255.1,370.97 L255.6,370.17 L256.1,369.4 L256.6,368.69 L257.1,368.03 L257.6,367.43 L258.1,366.9 L258.6,366.46 L259.1,366.1 L259.6,365.84 L260.1,365.67 L260.6,365.6 L261.1,365.62 L261.6,365.72 L262.1,365.9 L262.6,366.14 L263.1,366.46 L263.6,366.84 L264.1,367.29 L264.6,367.79 L265.1,368.35 L265.6,368.95 L266.1,369.59 L266.6,370.27 L267.1,370.97 L267.6,371.69 L268.1,372.42 L268.6,373.16 L269.1,373.9 L269.6,374.64 L270.1,375.37 L270.6,376.08 L271.1,376.78 L271.6,377.45 L272.1,378.1 L272.6,378.72 L273.1,379.3 L273.6,379.86 L274.1,380.38 L274.6,380.87 L275.1,381.32 L275.6,381.74 L276.1,382.13 L276.6,382.48 L277.1,382.8 L277.6,383.1 L278.1,383.36 L278.6,383.6 L279.1,383.81 L279.6,384 L280.1,384.16 L280.6,384.31 L281.1,384.44 L281.6,384.55 L282.1,384.65 L282.6,384.74 L283.1,384.81 L283.6,384.87 L284.1,384.93 L284.6,384.97 L285.1,385.01 L285.6,385.05 L286.1,385.07 L286.6,385.1 L287.1,385.12 L287.6,385.13 L288.1,385.14 L288.6,385.16 L289.1,385.16 L289.6,385.17 L290.1,385.18 L290.6,385.18 L291.1,385.19 L291.6,385.19 L292.1,385.19 L292.6,385.19 L293.1,385.19 L293.6,385.2 L294.1,385.2 L294.6,385.2 L295.1,385.2 L295.6,385.2 L296.1,385.2 L296.6,385.2 L297.1,385.2 L297.6,385.2 L298.1,385.2 L298.6,385.2 L299.1,385.2 L299.6,385.2 L300.1,385.2 L300.6,385.2 L301.1,385.2 L301.6,385.2 L302.1,385.2 L302.6,385.2 L303.1,385.2 L303.6,385.2 L304.1,385.2 L304.6,385.2 L305.1,385.2 L305.6,385.2 L306.1,385.2 L306.6,385.2 L307.1,385.2 L307.6,385.2 L308.1,385.2 L308.6,385.2 L309.1,385.2 L309.6,385.2 L310.1,385.2 L310.6,385.2 L311.1,385.2 L311.6,385.2" fill="none" stroke="#3aa63a" stroke-width="0.9" stroke-linejoin="round"/>
<line x1="219.6" y1="385.2" x2="312" y2="385.2" stroke="#3eaa3e" stroke-width="0.9"/>
<path d="M219.6,402.4 L219.6,402.4 L220.1,402.4 L220.6,402.4 L221.1,402.4 L221.6,402.4 L222.1,402.4 L222.6,402.4 L223.1,402.4 L223.6,402.4 L224.1,402.4 L224.6,402.4 L225.1,402.4 L225.6,402.4 L226.1,402.4 L226.6,402.4 L227.1,402.4 L227.6,402.4 L228.1,402.4 L228.6,402.4 L229.1,402.4 L229.6,402.4 L230.1,402.4 L230.6,402.4 L231.1,402.4 L231.6,402.4 L232.1,402.4 L232.6,402.4 L233.1,402.4 L233.6,402.4 L234.1,402.39 L234.6,402.39 L235.1,402.39 L235.6,402.38 L236.1,402.38 L236.6,402.37 L237.1,402.36 L237.6,402.34 L238.1,402.32 L238.6,402.3 L239.1,402.26 L239.6,402.22 L240.1,402.16 L240.6,402.09 L241.1,401.99 L241.6,401.88 L242.1,401.74 L242.6,401.56 L243.1,401.35 L243.6,401.09 L244.1,400.78 L244.6,400.41 L245.1,399.98 L245.6,399.49 L246.1,398.91 L246.6,398.26 L247.1,397.53 L247.6,396.71 L248.1,395.8 L248.6,394.82 L249.1,393.75 L249.6,392.61 L250.1,391.41 L250.6,390.16 L251.1,388.88 L251.6,387.58 L252.1,386.29 L252.6,385.02 L253.1,383.8 L253.6,382.66 L254.1,381.61 L254.6,380.68 L255.1,379.88 L255.6,379.25 L256.1,378.78 L256.6,378.5 L257.1,378.4 L257.6,378.47 L258.1,378.67 L258.6,379.01 L259.1,379.48 L259.6,380.06 L260.1,380.76 L260.6,381.55 L261.1,382.43 L261.6,383.38 L262.1,384.39 L262.6,385.44 L263.1,386.52 L263.6,387.62 L264.1,388.72 L264.6,389.82 L265.1,390.89 L265.6,391.93 L266.1,392.93 L266.6,393.88 L267.1,394.78 L267.6,395.63 L268.1,396.42 L268.6,397.14 L269.1,397.8 L269.6,398.41 L270.1,398.95 L270.6,399.44 L271.1,399.87 L271.6,400.25 L272.1,400.59 L272.6,400.88 L273.1,401.13 L273.6,401.35 L274.1,401.53 L274.6,401.69 L275.1,401.82 L275.6,401.93 L276.1,402.02 L276.6,402.09 L277.1,402.16 L277.6,402.21 L278.1,402.25 L278.6,402.28 L279.1,402.31 L279.6,402.33 L280.1,402.34 L280.6,402.36 L281.1,402.37 L281.6,402.38 L282.1,402.38 L282.6,402.39 L283.1,402.39 L283.6,402.39 L284.1,402.39 L284.6,402.4 L285.1,402.4 L285.6,402.4 L286.1,402.4 L286.6,402.4 L287.1,402.4 L287.6,402.4 L288.1,402.4 L288.6,402.4 L289.1,402.4 L289.6,402.4 L290.1,402.4 L290.6,402.4 L291.1,402.4 L291.6,402.4 L292.1,402.4 L292.6,402.4 L293.1,402.4 L293.6,402.4 L294.1,402.4 L294.6,402.4 L295.1,402.4 L295.6,402.4 L296.1,402.4 L296.6,402.4 L297.1,402.4 L297.6,402.4 L298.1,402.4 L298.6,402.4 L299.1,402.4 L299.6,402.4 L300.1,402.4 L300.6,402.4 L301.1,402.4 L301.6,402.4 L302.1,402.4 L302.6,402.4 L303.1,402.4 L303.6,402.4 L304.1,402.4 L304.6,402.4 L305.1,402.4 L305.6,402.4 L306.1,402.4 L306.6,402.4 L307.1,402.4 L307.6,402.4 L308.1,402.4 L308.6,402.4 L309.1,402.4 L309.6,402.4 L310.1,402.4 L310.6,402.4 L311.1,402.4 L311.6,402.4 L312,402.4 Z" fill="#7ddc7d" fill-opacity="0.92" stroke="none"/>
<path d="M219.6,402.4 L220.1,402.4 L220.6,402.4 L221.1,402.4 L221.6,402.4 L222.1,402.4 L222.6,402.4 L223.1,402.4 L223.6,402.4 L224.1,402.4 L224.6,402.4 L225.1,402.4 L225.6,402.4 L226.1,402.4 L226.6,402.4 L227.1,402.4 L227.6,402.4 L228.1,402.4 L228.6,402.4 L229.1,402.4 L229.6,402.4 L230.1,402.4 L230.6,402.4 L231.1,402.4 L231.6,402.4 L232.1,402.4 L232.6,402.4 L233.1,402.4 L233.6,402.4 L234.1,402.39 L234.6,402.39 L235.1,402.39 L235.6,402.38 L236.1,402.38 L236.6,402.37 L237.1,402.36 L237.6,402.34 L238.1,402.32 L238.6,402.3 L239.1,402.26 L239.6,402.22 L240.1,402.16 L240.6,402.09 L241.1,401.99 L241.6,401.88 L242.1,401.74 L242.6,401.56 L243.1,401.35 L243.6,401.09 L244.1,400.78 L244.6,400.41 L245.1,399.98 L245.6,399.49 L246.1,398.91 L246.6,398.26 L247.1,397.53 L247.6,396.71 L248.1,395.8 L248.6,394.82 L249.1,393.75 L249.6,392.61 L250.1,391.41 L250.6,390.16 L251.1,388.88 L251.6,387.58 L252.1,386.29 L252.6,385.02 L253.1,383.8 L253.6,382.66 L254.1,381.61 L254.6,380.68 L255.1,379.88 L255.6,379.25 L256.1,378.78 L256.6,378.5 L257.1,378.4 L257.6,378.47 L258.1,378.67 L258.6,379.01 L259.1,379.48 L259.6,380.06 L260.1,380.76 L260.6,381.55 L261.1,382.43 L261.6,383.38 L262.1,384.39 L262.6,385.44 L263.1,386.52 L263.6,387.62 L264.1,388.72 L264.6,389.82 L265.1,390.89 L265.6,391.93 L266.1,392.93 L266.6,393.88 L267.1,394.78 L267.6,395.63 L268.1,396.42 L268.6,397.14 L269.1,397.8 L269.6,398.41 L270.1,398.95 L270.6,399.44 L271.1,399.87 L271.6,400.25 L272.1,400.59 L272.6,400.88 L273.1,401.13 L273.6,401.35 L274.1,401.53 L274.6,401.69 L275.1,401.82 L275.6,401.93 L276.1,402.02 L276.6,402.09 L277.1,402.16 L277.6,402.21 L278.1,402.25 L278.6,402.28 L279.1,402.31 L279.6,402.33 L280.1,402.34 L280.6,402.36 L281.1,402.37 L281.6,402.38 L282.1,402.38 L282.6,402.39 L283.1,402.39 L283.6,402.39 L284.1,402.39 L284.6,402.4 L285.1,402.4 L285.6,402.4 L286.1,402.4 L286.6,402.4 L287.1,402.4 L287.6,402.4 L288.1,402.4 L288.6,402.4 L289.1,402.4 L289.6,402.4 L290.1,402.4 L290.6,402.4 L291.1,402.4 L291.6,402.4 L292.1,402.4 L292.6,402.4 L293.1,402.4 L293.6,402.4 L294.1,402.4 L294.6,402.4 L295.1,402.4 L295.6,402.4 L296.1,402.4 L296.6,402.4 L297.1,402.4 L297.6,402.4 L298.1,402.4 L298.6,402.4 L299.1,402.4 L299.6,402.4 L300.1,402.4 L300.6,402.4 L301.1,402.4 L301.6,402.4 L302.1,402.4 L302.6,402.4 L303.1,402.4 L303.6,402.4 L304.1,402.4 L304.6,402.4 L305.1,402.4 L305.6,402.4 L306.1,402.4 L306.6,402.4 L307.1,402.4 L307.6,402.4 L308.1,402.4 L308.6,402.4 L309.1,402.4 L309.6,402.4 L310.1,402.4 L310.6,402.4 L311.1,402.4 L311.6,402.4" fill="none" stroke="#3cc23c" stroke-width="0.9" stroke-linejoin="round"/>
<line x1="253.4" y1="313.5" x2="253.4" y2="402.5" stroke="#222" stroke-width="0.8" stroke-dasharray="2.2,1.3"/>
<rect x="219.6" y="313.4" width="92.4" height="89.2" fill="none" stroke="#000" stroke-width="1.3"/>
<line x1="221.51" y1="402.6" x2="221.51" y2="404" stroke="#2a8a2a" stroke-width="0.6"/>
<line x1="225.28" y1="402.6" x2="225.28" y2="404" stroke="#2a8a2a" stroke-width="0.6"/>
<line x1="228.21" y1="402.6" x2="228.21" y2="404" stroke="#2a8a2a" stroke-width="0.6"/>
<line x1="230.6" y1="402.6" x2="230.6" y2="404" stroke="#2a8a2a" stroke-width="0.6"/>
<line x1="232.62" y1="402.6" x2="232.62" y2="404" stroke="#2a8a2a" stroke-width="0.6"/>
<line x1="234.37" y1="402.6" x2="234.37" y2="404" stroke="#2a8a2a" stroke-width="0.6"/>
<line x1="235.92" y1="402.6" x2="235.92" y2="404" stroke="#2a8a2a" stroke-width="0.6"/>
<line x1="237.3" y1="402.6" x2="237.3" y2="404.8" stroke="#2a8a2a" stroke-width="0.6"/>
<line x1="246.39" y1="402.6" x2="246.39" y2="404" stroke="#2a8a2a" stroke-width="0.6"/>
<line x1="251.71" y1="402.6" x2="251.71" y2="404" stroke="#2a8a2a" stroke-width="0.6"/>
<line x1="255.48" y1="402.6" x2="255.48" y2="404" stroke="#2a8a2a" stroke-width="0.6"/>
<line x1="258.41" y1="402.6" x2="258.41" y2="404" stroke="#2a8a2a" stroke-width="0.6"/>
<line x1="260.8" y1="402.6" x2="260.8" y2="404" stroke="#2a8a2a" stroke-width="0.6"/>
<line x1="262.82" y1="402.6" x2="262.82" y2="404" stroke="#2a8a2a" stroke-width="0.6"/>
<line x1="264.57" y1="402.6" x2="264.57" y2="404" stroke="#2a8a2a" stroke-width="0.6"/>
<line x1="266.12" y1="402.6" x2="266.12" y2="404" stroke="#2a8a2a" stroke-width="0.6"/>
<line x1="267.5" y1="402.6" x2="267.5" y2="404.8" stroke="#2a8a2a" stroke-width="0.6"/>
<line x1="276.59" y1="402.6" x2="276.59" y2="404" stroke="#2a8a2a" stroke-width="0.6"/>
<line x1="281.91" y1="402.6" x2="281.91" y2="404" stroke="#2a8a2a" stroke-width="0.6"/>
<line x1="285.68" y1="402.6" x2="285.68" y2="404" stroke="#2a8a2a" stroke-width="0.6"/>
<line x1="288.61" y1="402.6" x2="288.61" y2="404" stroke="#2a8a2a" stroke-width="0.6"/>
<line x1="291" y1="402.6" x2="291" y2="404" stroke="#2a8a2a" stroke-width="0.6"/>
<line x1="293.02" y1="402.6" x2="293.02" y2="404" stroke="#2a8a2a" stroke-width="0.6"/>
<line x1="294.77" y1="402.6" x2="294.77" y2="404" stroke="#2a8a2a" stroke-width="0.6"/>
<line x1="296.32" y1="402.6" x2="296.32" y2="404" stroke="#2a8a2a" stroke-width="0.6"/>
<line x1="297.7" y1="402.6" x2="297.7" y2="404.8" stroke="#2a8a2a" stroke-width="0.6"/>
<line x1="306.79" y1="402.6" x2="306.79" y2="404" stroke="#2a8a2a" stroke-width="0.6"/>
<text x="235.4" y="414.6" font-size="7" text-anchor="middle">10</text>
<text x="239.8" y="411" font-size="4.8">1</text>
<text x="264.6" y="414.6" font-size="7" text-anchor="middle">10</text>
<text x="269" y="411" font-size="4.8">2</text>
<text x="295.4" y="414.6" font-size="7" text-anchor="middle">10</text>
<text x="299.8" y="411" font-size="4.8">3</text>
<text x="241.3" y="426.2" font-size="8.4" textLength="49.3" lengthAdjust="spacingAndGlyphs">Recycled CD18</text>
<rect x="359.8" y="354.4" width="9.8" height="39.8" fill="#e27f90"/>
<rect x="375.2" y="358.8" width="9.6" height="35.4" fill="#80a4c6"/>
<rect x="400.4" y="319.8" width="9.6" height="74.4" fill="#99dba3"/>
<rect x="415.7" y="344" width="10.2" height="50.2" fill="#a98fbd"/>
<rect x="441.3" y="362" width="9.5" height="32.2" fill="#e27f90"/>
<rect x="456.5" y="365.5" width="9.5" height="28.7" fill="#80a4c6"/>
<rect x="481.9" y="340.1" width="9.8" height="54.1" fill="#99dba3"/>
<rect x="497.4" y="350.7" width="9.5" height="43.5" fill="#a98fbd"/>
<line x1="364.7" y1="346.2" x2="364.7" y2="361.5" stroke="#000" stroke-width="0.9"/>
<line x1="362.7" y1="346.2" x2="366.7" y2="346.2" stroke="#000" stroke-width="0.9"/>
<line x1="362.7" y1="361.5" x2="366.7" y2="361.5" stroke="#000" stroke-width="0.9"/>
<circle cx="362.7" cy="348.1" r="1.85" fill="#fff" stroke="#000" stroke-width="1"/>
<circle cx="366.2" cy="351.9" r="1.85" fill="#fff" stroke="#000" stroke-width="1"/>
<circle cx="364.6" cy="365.4" r="1.85" fill="#fff" stroke="#000" stroke-width="1"/>
<line x1="380" y1="353" x2="380" y2="364" stroke="#000" stroke-width="0.9"/>
<line x1="378" y1="353" x2="382" y2="353" stroke="#000" stroke-width="0.9"/>
<line x1="378" y1="364" x2="382" y2="364" stroke="#000" stroke-width="0.9"/>
<circle cx="378" cy="353.5" r="2.15" fill="#000"/>
<circle cx="381.2" cy="355" r="2.15" fill="#000"/>
<circle cx="378.7" cy="362.7" r="2.15" fill="#000"/>
<circle cx="381.9" cy="364" r="2.15" fill="#000"/>
<line x1="405.2" y1="312" x2="405.2" y2="326" stroke="#000" stroke-width="0.9"/>
<line x1="403.2" y1="312" x2="407.2" y2="312" stroke="#000" stroke-width="0.9"/>
<line x1="403.2" y1="326" x2="407.2" y2="326" stroke="#000" stroke-width="0.9"/>
<circle cx="403" cy="311.5" r="1.85" fill="#fff" stroke="#000" stroke-width="1"/>
<circle cx="406.5" cy="318.5" r="1.85" fill="#fff" stroke="#000" stroke-width="1"/>
<circle cx="403" cy="321.7" r="1.85" fill="#fff" stroke="#000" stroke-width="1"/>
<circle cx="407" cy="326.5" r="1.85" fill="#fff" stroke="#000" stroke-width="1"/>
<line x1="420.8" y1="334" x2="420.8" y2="352" stroke="#000" stroke-width="0.9"/>
<line x1="418.8" y1="334" x2="422.8" y2="334" stroke="#000" stroke-width="0.9"/>
<line x1="418.8" y1="352" x2="422.8" y2="352" stroke="#000" stroke-width="0.9"/>
<circle cx="420.2" cy="333.8" r="2.15" fill="#000"/>
<circle cx="418.5" cy="345" r="2.15" fill="#000"/>
<circle cx="420.6" cy="344" r="2.15" fill="#000"/>
<circle cx="422.7" cy="352.8" r="2.15" fill="#000"/>
<line x1="446.05" y1="354" x2="446.05" y2="368" stroke="#000" stroke-width="0.9"/>
<line x1="444.05" y1="354" x2="448.05" y2="354" stroke="#000" stroke-width="0.9"/>
<line x1="444.05" y1="368" x2="448.05" y2="368" stroke="#000" stroke-width="0.9"/>
<circle cx="445.5" cy="353.5" r="1.85" fill="#fff" stroke="#000" stroke-width="1"/>
<circle cx="443.8" cy="358.8" r="1.85" fill="#fff" stroke="#000" stroke-width="1"/>
<circle cx="446.4" cy="364" r="1.85" fill="#fff" stroke="#000" stroke-width="1"/>
<circle cx="447.7" cy="367.2" r="1.85" fill="#fff" stroke="#000" stroke-width="1"/>
<line x1="461.25" y1="357.7" x2="461.25" y2="372.5" stroke="#000" stroke-width="0.9"/>
<line x1="459.25" y1="357.7" x2="463.25" y2="357.7" stroke="#000" stroke-width="0.9"/>
<line x1="459.25" y1="372.5" x2="463.25" y2="372.5" stroke="#000" stroke-width="0.9"/>
<circle cx="461.4" cy="353.9" r="2.15" fill="#000"/>
<circle cx="459.1" cy="365.7" r="2.15" fill="#000"/>
<circle cx="461.8" cy="368.7" r="2.15" fill="#000"/>
<circle cx="462.9" cy="371.4" r="2.15" fill="#000"/>
<line x1="486.8" y1="333" x2="486.8" y2="351" stroke="#000" stroke-width="0.9"/>
<line x1="484.8" y1="333" x2="488.8" y2="333" stroke="#000" stroke-width="0.9"/>
<line x1="484.8" y1="351" x2="488.8" y2="351" stroke="#000" stroke-width="0.9"/>
<circle cx="484" cy="333.4" r="1.85" fill="#fff" stroke="#000" stroke-width="1"/>
<circle cx="487.2" cy="334.8" r="1.85" fill="#fff" stroke="#000" stroke-width="1"/>
<circle cx="488.7" cy="339.7" r="1.85" fill="#fff" stroke="#000" stroke-width="1"/>
<circle cx="486.6" cy="351.3" r="1.85" fill="#fff" stroke="#000" stroke-width="1"/>
<line x1="502.15" y1="343" x2="502.15" y2="357" stroke="#000" stroke-width="0.9"/>
<line x1="500.15" y1="343" x2="504.15" y2="343" stroke="#000" stroke-width="0.9"/>
<line x1="500.15" y1="357" x2="504.15" y2="357" stroke="#000" stroke-width="0.9"/>
<circle cx="500.5" cy="342.5" r="2.15" fill="#000"/>
<circle cx="503.5" cy="347.5" r="2.15" fill="#000"/>
<circle cx="500.5" cy="353.9" r="2.15" fill="#000"/>
<circle cx="504.1" cy="356.6" r="2.15" fill="#000"/>
<line x1="354.8" y1="302" x2="354.8" y2="394.9" stroke="#111" stroke-width="1.35"/>
<line x1="354.1" y1="394.2" x2="513" y2="394.2" stroke="#111" stroke-width="1.35"/>
<line x1="351.6" y1="394.4" x2="354.6" y2="394.4" stroke="#111" stroke-width="1"/>
<text x="349" y="397.35" font-size="8.4" text-anchor="end" textLength="4.2" lengthAdjust="spacingAndGlyphs">4</text>
<line x1="351.6" y1="383.22" x2="354.6" y2="383.22" stroke="#111" stroke-width="1"/>
<text x="349" y="386.17" font-size="8.4" text-anchor="end" textLength="4.2" lengthAdjust="spacingAndGlyphs">6</text>
<line x1="351.6" y1="372.05" x2="354.6" y2="372.05" stroke="#111" stroke-width="1"/>
<text x="349" y="375" font-size="8.4" text-anchor="end" textLength="4.2" lengthAdjust="spacingAndGlyphs">8</text>
<line x1="351.6" y1="360.88" x2="354.6" y2="360.88" stroke="#111" stroke-width="1"/>
<text x="349" y="363.82" font-size="8.4" text-anchor="end" textLength="8.4" lengthAdjust="spacingAndGlyphs">10</text>
<line x1="351.6" y1="349.7" x2="354.6" y2="349.7" stroke="#111" stroke-width="1"/>
<text x="349" y="352.65" font-size="8.4" text-anchor="end" textLength="8.4" lengthAdjust="spacingAndGlyphs">12</text>
<line x1="351.6" y1="338.52" x2="354.6" y2="338.52" stroke="#111" stroke-width="1"/>
<text x="349" y="341.47" font-size="8.4" text-anchor="end" textLength="8.4" lengthAdjust="spacingAndGlyphs">14</text>
<line x1="351.6" y1="327.35" x2="354.6" y2="327.35" stroke="#111" stroke-width="1"/>
<text x="349" y="330.3" font-size="8.4" text-anchor="end" textLength="8.4" lengthAdjust="spacingAndGlyphs">16</text>
<line x1="351.6" y1="316.17" x2="354.6" y2="316.17" stroke="#111" stroke-width="1"/>
<text x="349" y="319.12" font-size="8.4" text-anchor="end" textLength="8.4" lengthAdjust="spacingAndGlyphs">18</text>
<line x1="351.6" y1="305" x2="354.6" y2="305" stroke="#111" stroke-width="1"/>
<text x="349" y="307.95" font-size="8.4" text-anchor="end" textLength="8.4" lengthAdjust="spacingAndGlyphs">20</text>
<line x1="365.8" y1="306.3" x2="403.7" y2="306.3" stroke="#222" stroke-width="1.1"/>
<path d="M382.8,300.45L382.8,303.35M384.06,301.18L381.54,302.63M384.06,302.63L381.54,301.18" stroke="#111" stroke-width="0.8" stroke-linecap="round"/>
<path d="M386.7,300.45L386.7,303.35M387.96,301.18L385.44,302.63M387.96,302.63L385.44,301.18" stroke="#111" stroke-width="0.8" stroke-linecap="round"/>
<line x1="406" y1="306.3" x2="421" y2="306.3" stroke="#222" stroke-width="1.1"/>
<path d="M413.5,300.45L413.5,303.35M414.76,301.18L412.24,302.63M414.76,302.63L412.24,301.18" stroke="#111" stroke-width="0.8" stroke-linecap="round"/>
<line x1="365.2" y1="341.5" x2="380" y2="341.5" stroke="#222" stroke-width="1.1"/>
<text x="372.6" y="338.9" font-size="7.9" text-anchor="middle">ns</text>
<line x1="447.4" y1="326.4" x2="484.5" y2="326.4" stroke="#222" stroke-width="1.1"/>
<path d="M465.95,320.55L465.95,323.45M467.21,321.27L464.69,322.73M467.21,322.73L464.69,321.27" stroke="#111" stroke-width="0.8" stroke-linecap="round"/>
<line x1="486.6" y1="326.4" x2="501.4" y2="326.4" stroke="#222" stroke-width="1.1"/>
<text x="494" y="323.8" font-size="7.9" text-anchor="middle">ns</text>
<line x1="446.4" y1="346" x2="460.8" y2="346" stroke="#222" stroke-width="1.1"/>
<text x="453.6" y="343.4" font-size="7.9" text-anchor="middle">ns</text>
<text x="358.6" y="404.8" font-size="8.2" textLength="29.1" lengthAdjust="spacingAndGlyphs">Medium</text>
<text x="401.2" y="404.8" font-size="8.2" textLength="24.8" lengthAdjust="spacingAndGlyphs">CXCL8</text>
<text x="439.6" y="404.8" font-size="8.2" textLength="29.2" lengthAdjust="spacingAndGlyphs">Medium</text>
<text x="482" y="404.8" font-size="8.2" textLength="24.3" lengthAdjust="spacingAndGlyphs">CXCL8</text>
<line x1="358.2" y1="408.6" x2="426.5" y2="408.6" stroke="#111" stroke-width="0.9"/>
<line x1="439" y1="408.6" x2="509.4" y2="408.6" stroke="#111" stroke-width="0.9"/>
<text x="372.5" y="419.2" font-size="8" textLength="38" lengthAdjust="spacingAndGlyphs">10 minutes</text>
<text x="453.4" y="419.2" font-size="8" textLength="38" lengthAdjust="spacingAndGlyphs">30 minutes</text>
<circle cx="435.9" cy="299.1" r="1.75" fill="#fff" stroke="#000" stroke-width="1"/>
<text x="441.4" y="301.9" font-size="7.7" textLength="12.3" lengthAdjust="spacingAndGlyphs">Ctrl</text>
<circle cx="466.6" cy="299.1" r="2.1" fill="#000"/>
<text x="472.1" y="301.9" font-size="7.7" textLength="13.7" lengthAdjust="spacingAndGlyphs">sUA</text>
<text x="333.3" y="347.3" font-size="9.3" text-anchor="middle" textLength="63.8" lengthAdjust="spacingAndGlyphs" transform="rotate(-90 333.3 347.3)">% of recycled CD18</text>
<text x="6.9" y="436.6" font-size="10.6" font-weight="bold" fill="#000">F</text>
<path d="M48,462.6 L48,462.6 L48.7,462.6 L49.4,462.6 L50.1,462.32 L50.8,460.43 L51.5,456.98 L52.2,456.81 L52.9,456.62 L53.6,453.44 L54.3,453 L55,450.31 L55.7,447.77 L56.4,447.45 L57.1,446.1 L57.8,444.87 L58.5,443.47 L59.2,442.6 L59.9,442.25 L60.6,440.66 L61.3,441.1 L62,439.1 L62.7,436.7 L63.4,438 L64.1,435.6 L64.8,437.63 L65.5,439.27 L66.2,438.05 L66.9,438.08 L67.6,438.77 L68.3,440.38 L69,439.73 L69.7,438.09 L70.4,440.88 L71.1,441.28 L71.8,442.21 L72.5,443.91 L73.2,443.7 L73.9,443.32 L74.6,445.35 L75.3,448.19 L76,447.14 L76.7,449.85 L77.4,449.06 L78.1,448.01 L78.8,451.12 L79.5,450.1 L80.2,453.3 L80.9,454.61 L81.6,455.6 L82.3,458.72 L83,458.01 L83.7,458.74 L84.4,460.54 L85.1,461.84 L85.8,462.6 L86.5,462.6 L87.2,462.6 L87.9,462.6 L88.6,462.6 L89.3,462.6 L90,462.6 L90,462.6 Z" fill="#d4d4d4" fill-opacity="1" stroke="#bdbdbd" stroke-width="0.7" stroke-opacity="1"/>
<path d="M48,462.6 L48,462.6 L48.7,462.6 L49.4,462.6 L50.1,462.6 L50.8,462.6 L51.5,461.24 L52.2,459.39 L52.9,459.61 L53.6,455.88 L54.3,456.18 L55,452.61 L55.7,449.12 L56.4,449.61 L57.1,446.38 L57.8,446.88 L58.5,447.11 L59.2,444.46 L59.9,444.41 L60.6,442.37 L61.3,442.2 L62,440.64 L62.7,439.09 L63.4,439.35 L64.1,439.36 L64.8,438.63 L65.5,439.14 L66.2,438.87 L66.9,439.51 L67.6,439.52 L68.3,438.44 L69,440.43 L69.7,440.66 L70.4,441.55 L71.1,441.72 L71.8,442.87 L72.5,444.58 L73.2,444.36 L73.9,447.35 L74.6,446.02 L75.3,448.88 L76,447.82 L76.7,448.97 L77.4,449.77 L78.1,450.55 L78.8,451.85 L79.5,451.93 L80.2,454.07 L80.9,453.18 L81.6,456.41 L82.3,455.55 L83,458.88 L83.7,460 L84.4,461.46 L85.1,462.6 L85.8,462.6 L86.5,462.6 L87.2,462.6 L87.9,462.6 L88.6,462.6 L89.3,462.6 L90,462.6 L90,462.6 Z" fill="#9a9a9a" fill-opacity="0.45" stroke="#4a4a4a" stroke-width="0.7" stroke-opacity="1"/>
<path d="M53,462.6 L53,462.6 L53.7,462.6 L54.4,462.6 L55.1,462.6 L55.8,462.6 L56.5,461.61 L57.2,460.24 L57.9,457.44 L58.6,457.61 L59.3,456.58 L60,455.09 L60.7,453.16 L61.4,452.71 L62.1,452.15 L62.8,450.46 L63.5,450.09 L64.2,448.35 L64.9,444.91 L65.6,446.38 L66.3,442.73 L67,444.57 L67.7,445.61 L68.4,442.92 L69.1,440.81 L69.8,441.44 L70.5,439.28 L71.2,440.15 L71.9,442.36 L72.6,439.07 L73.3,438.45 L74,438.23 L74.7,439.8 L75.4,437.69 L76.1,437.47 L76.8,437.72 L77.5,438.7 L78.2,438.18 L78.9,436.55 L79.6,438.89 L80.3,440.06 L81,439.78 L81.7,442.34 L82.4,440.83 L83.1,441.54 L83.8,442.03 L84.5,444.04 L85.2,443.37 L85.9,445.05 L86.6,444.84 L87.3,443.18 L88,446.43 L88.7,448.71 L89.4,448.13 L90.1,449.54 L90.8,449.95 L91.5,449.78 L92.2,451.87 L92.9,450.24 L93.6,453.89 L94.3,456.99 L95,456.02 L95.7,456.96 L96.4,458.23 L97.1,460.6 L97.8,460.55 L98.5,461.74 L99.2,462.6 L99.9,462.6 L100.6,462.6 L101,462.6 Z" fill="#2a8c2a" fill-opacity="0.25" stroke="#1b7a1b" stroke-width="0.7" stroke-opacity="1"/>
<path d="M55,462.6 L55,462.6 L55.7,462.6 L56.4,462.6 L57.1,462.6 L57.8,462.01 L58.5,460.65 L59.2,459.33 L59.9,456.56 L60.6,456.77 L61.3,453.32 L62,454.35 L62.7,452.61 L63.4,452.06 L64.1,449.04 L64.8,449.92 L65.5,446.47 L66.2,447.92 L66.9,446.43 L67.6,446.08 L68.3,447.57 L69,444.41 L69.7,445.32 L70.4,442.92 L71.1,443.72 L71.8,441.61 L72.5,439.49 L73.2,440.53 L73.9,440.28 L74.6,439.69 L75.3,438.13 L76,439.17 L76.7,437.28 L77.4,439.24 L78.1,437.25 L78.8,439.73 L79.5,438.47 L80.2,440.46 L80.9,443.28 L81.6,441.37 L82.3,443.73 L83,442.44 L83.7,444.75 L84.4,443.66 L85.1,446.01 L85.8,445.03 L86.5,444.04 L87.2,446.52 L87.9,446.24 L88.6,448.13 L89.3,449.69 L90,449.86 L90.7,452.06 L91.4,451.7 L92.1,454.64 L92.8,453.64 L93.5,456.78 L94.2,455.69 L94.9,454.44 L95.6,457.84 L96.3,459.55 L97,460.09 L97.7,461.25 L98.4,462.43 L99.1,462.6 L99.8,462.6 L100.5,462.6 L101,462.6 Z" fill="#49d049" fill-opacity="0.3" stroke="#2fc02f" stroke-width="0.7" stroke-opacity="1"/>
<path d="M129.4,488 L129.4,488 L130.29,488.7 L133.24,489.4 L135.46,490.1 L138.44,490.8 L139.74,491.5 L142.78,492.2 L145.06,492.9 L146.3,493.6 L146.58,494.3 L149.07,495 L150.3,495.7 L151.17,496.4 L151.61,497.1 L152.66,497.8 L151.97,498.5 L153.63,499.2 L153.97,499.9 L154.17,500.6 L153.01,501.3 L154.38,502 L154.21,502.7 L154.4,503.4 L153.15,504.1 L154.22,504.8 L152.83,505.5 L153.6,506.2 L152.84,506.9 L152.33,507.6 L152.33,508.3 L150.28,509 L147.85,509.7 L147.29,510.4 L144.63,511.1 L143.24,511.8 L141.14,512.5 L138.02,513.2 L136.18,513.9 L131.51,514.6 L129.4,515.3 L129.4,516 L129.4,516 Z" fill="#8ed68e" fill-opacity="0.75" stroke="#1b8a1b" stroke-width="0.7" stroke-opacity="1"/>
<path d="M129.4,489 L129.4,489 L130.26,489.7 L133.13,490.4 L134.99,491.1 L138.16,491.8 L141.64,492.5 L142.32,493.2 L143.04,493.9 L145.66,494.6 L147.62,495.3 L148.26,496 L148.14,496.7 L150.19,497.4 L150.22,498.1 L151.52,498.8 L153.39,499.5 L152.35,500.2 L151.79,500.9 L152.77,501.6 L153.26,502.3 L152.9,503 L152.78,503.7 L152.87,504.4 L152.63,505.1 L152.54,505.8 L152.17,506.5 L151.67,507.2 L150.11,507.9 L150.06,508.6 L149.86,509.3 L147.57,510 L144.8,510.7 L144.05,511.4 L141.12,512.1 L139.37,512.8 L135.22,513.5 L133.42,514.2 L129.93,514.9 L129.4,515.6 L129.4,516 Z" fill="#9ee09e" fill-opacity="0.35" stroke="#33c033" stroke-width="0.7" stroke-opacity="1"/>
<path d="M129.4,493 L129.4,493 L129.4,493.7 L130.72,494.4 L132.06,495.1 L133.29,495.8 L134.65,496.5 L135.79,497.2 L137.12,497.9 L138.19,498.6 L139.54,499.3 L140.51,500 L141.73,500.7 L142.73,501.4 L143.97,502.1 L144.85,502.8 L145.68,503.5 L146.86,504.2 L147.8,504.9 L148.74,505.6 L149.81,506.3 L150.49,507 L151.37,507.7 L152.09,508.4 L152.99,509.1 L153.51,509.8 L153.99,510.5 L154.71,511.2 L155.19,511.9 L155.6,512.6 L155.67,513.3 L155.2,514 L154.38,514.7 L153.34,515.4 L152.21,516.1 L150.91,516.8 L149.33,517.5 L148.05,518.2 L146.38,518.9 L144.85,519.6 L143.05,520.3 L141.36,521 L139.68,521.7 L137.6,522.4 L135.74,523.1 L133.61,523.8 L131.39,524.5 L129.4,525.2 L129.4,525.9 L129.4,526.6 L129.4,527 Z" fill="#dcdcdc" fill-opacity="1" stroke="#c8c8c8" stroke-width="0.7" stroke-opacity="1"/>
<path d="M129.4,493 L129.4,493 L129.4,493.7 L130.53,494.4 L131.95,495.1 L133.12,495.8 L134.51,496.5 L135.62,497.2 L136.84,497.9 L138.04,498.6 L139.12,499.3 L140.36,500 L141.28,500.7 L142.58,501.4 L143.72,502.1 L144.7,502.8 L145.7,503.5 L146.7,504.2 L147.75,504.9 L148.57,505.6 L149.4,506.3 L150.3,507 L151.22,507.7 L151.87,508.4 L152.5,509.1 L153.25,509.8 L153.98,510.5 L154.39,511.2 L154.93,511.9 L155.16,512.6 L154.85,513.3 L154.11,514 L153.14,514.7 L151.98,515.4 L150.78,516.1 L149.32,516.8 L147.71,517.5 L146.25,518.2 L144.6,518.9 L142.84,519.6 L141.14,520.3 L139.13,521 L137.08,521.7 L135.16,522.4 L133.21,523.1 L130.96,523.8 L129.4,524.5 L129.4,525.2 L129.4,525.9 L129.4,526 Z" fill="#9cb89c" fill-opacity="0.7" stroke="#3a3a3a" stroke-width="0.7" stroke-opacity="1"/>
<rect x="36.6" y="462.8" width="92.6" height="90.2" fill="#fff"/>
<defs><filter id="fb" x="-50%" y="-50%" width="200%" height="200%"><feGaussianBlur stdDeviation="3"/></filter></defs>
<ellipse cx="76" cy="500" rx="18" ry="7" fill="#2f902f" opacity="0.45" filter="url(#fb)"/>
<ellipse cx="64.5" cy="512.5" rx="11" ry="8" fill="#a5a5a5" opacity="0.75" filter="url(#fb)"/>
<path d="M84.5 513.3h0.8v0.8h-0.8zM84.6 508.0h0.8v0.8h-0.8zM80.4 508.6h0.8v0.8h-0.8zM92.7 512.8h0.8v0.8h-0.8zM92.2 511.6h0.8v0.8h-0.8zM88.4 511.2h0.8v0.8h-0.8zM76.0 515.6h0.8v0.8h-0.8zM89.0 513.2h0.8v0.8h-0.8zM75.9 498.7h0.8v0.8h-0.8zM80.7 507.0h0.8v0.8h-0.8zM87.8 509.7h0.8v0.8h-0.8zM89.1 505.8h0.8v0.8h-0.8zM87.9 512.6h0.8v0.8h-0.8zM82.0 521.2h0.8v0.8h-0.8zM89.3 517.8h0.8v0.8h-0.8zM82.3 505.2h0.8v0.8h-0.8zM83.9 509.3h0.8v0.8h-0.8zM89.8 511.6h0.8v0.8h-0.8zM83.3 503.8h0.8v0.8h-0.8zM82.9 517.9h0.8v0.8h-0.8zM81.2 511.6h0.8v0.8h-0.8zM88.6 500.3h0.8v0.8h-0.8zM86.3 518.5h0.8v0.8h-0.8zM73.9 507.9h0.8v0.8h-0.8zM85.4 504.7h0.8v0.8h-0.8zM89.0 509.6h0.8v0.8h-0.8zM77.2 515.4h0.8v0.8h-0.8zM90.0 516.1h0.8v0.8h-0.8zM94.6 512.4h0.8v0.8h-0.8zM86.7 501.6h0.8v0.8h-0.8zM89.7 506.0h0.8v0.8h-0.8zM83.3 501.8h0.8v0.8h-0.8zM80.2 506.5h0.8v0.8h-0.8zM93.7 496.8h0.8v0.8h-0.8zM77.3 511.6h0.8v0.8h-0.8zM94.7 513.8h0.8v0.8h-0.8zM74.6 493.6h0.8v0.8h-0.8zM88.1 505.2h0.8v0.8h-0.8zM79.3 516.4h0.8v0.8h-0.8zM92.6 511.0h0.8v0.8h-0.8zM87.5 512.8h0.8v0.8h-0.8zM95.6 514.0h0.8v0.8h-0.8zM89.1 513.6h0.8v0.8h-0.8zM76.6 518.3h0.8v0.8h-0.8zM91.7 513.4h0.8v0.8h-0.8zM74.2 505.9h0.8v0.8h-0.8zM91.1 498.2h0.8v0.8h-0.8zM84.9 516.6h0.8v0.8h-0.8zM78.1 520.5h0.8v0.8h-0.8zM89.3 509.0h0.8v0.8h-0.8zM87.9 514.2h0.8v0.8h-0.8zM86.7 517.4h0.8v0.8h-0.8zM82.0 507.3h0.8v0.8h-0.8zM92.3 510.2h0.8v0.8h-0.8zM80.7 516.2h0.8v0.8h-0.8zM94.8 507.1h0.8v0.8h-0.8zM77.7 509.1h0.8v0.8h-0.8zM85.1 508.1h0.8v0.8h-0.8zM94.4 503.3h0.8v0.8h-0.8zM93.6 501.8h0.8v0.8h-0.8zM81.3 514.1h0.8v0.8h-0.8zM92.8 515.6h0.8v0.8h-0.8zM88.1 510.9h0.8v0.8h-0.8zM86.9 513.7h0.8v0.8h-0.8zM84.9 511.8h0.8v0.8h-0.8zM89.4 510.0h0.8v0.8h-0.8zM90.6 513.7h0.8v0.8h-0.8zM98.1 512.1h0.8v0.8h-0.8zM83.4 507.6h0.8v0.8h-0.8zM85.9 516.0h0.8v0.8h-0.8zM84.0 512.5h0.8v0.8h-0.8zM97.0 493.3h0.8v0.8h-0.8zM79.3 511.6h0.8v0.8h-0.8zM88.4 511.6h0.8v0.8h-0.8zM83.4 514.3h0.8v0.8h-0.8zM87.7 506.6h0.8v0.8h-0.8zM100.6 512.3h0.8v0.8h-0.8zM82.7 509.4h0.8v0.8h-0.8zM84.6 509.6h0.8v0.8h-0.8zM69.6 506.8h0.8v0.8h-0.8zM92.1 502.4h0.8v0.8h-0.8zM85.6 516.2h0.8v0.8h-0.8zM91.1 519.7h0.8v0.8h-0.8zM75.8 507.7h0.8v0.8h-0.8zM84.0 514.1h0.8v0.8h-0.8zM92.6 492.6h0.8v0.8h-0.8zM92.5 500.6h0.8v0.8h-0.8zM90.1 500.3h0.8v0.8h-0.8zM87.1 517.8h0.8v0.8h-0.8zM85.1 511.2h0.8v0.8h-0.8zM90.8 510.9h0.8v0.8h-0.8zM85.5 520.0h0.8v0.8h-0.8zM92.3 508.1h0.8v0.8h-0.8zM91.5 508.3h0.8v0.8h-0.8zM86.8 514.6h0.8v0.8h-0.8zM87.3 514.2h0.8v0.8h-0.8zM76.8 500.2h0.8v0.8h-0.8zM89.7 503.7h0.8v0.8h-0.8zM79.8 500.4h0.8v0.8h-0.8zM93.6 514.9h0.8v0.8h-0.8zM94.8 503.9h0.8v0.8h-0.8zM86.0 502.6h0.8v0.8h-0.8zM90.6 520.3h0.8v0.8h-0.8zM80.7 520.1h0.8v0.8h-0.8zM91.9 508.8h0.8v0.8h-0.8zM74.2 519.1h0.8v0.8h-0.8zM85.4 506.1h0.8v0.8h-0.8zM88.4 512.7h0.8v0.8h-0.8zM95.0 503.4h0.8v0.8h-0.8zM92.8 519.7h0.8v0.8h-0.8zM94.7 508.8h0.8v0.8h-0.8zM81.5 516.6h0.8v0.8h-0.8zM86.7 510.8h0.8v0.8h-0.8zM94.5 508.3h0.8v0.8h-0.8zM72.2 507.5h0.8v0.8h-0.8zM74.9 515.3h0.8v0.8h-0.8zM87.9 506.0h0.8v0.8h-0.8zM85.9 515.4h0.8v0.8h-0.8zM86.5 518.6h0.8v0.8h-0.8zM85.6 516.8h0.8v0.8h-0.8zM94.9 520.5h0.8v0.8h-0.8zM82.0 515.7h0.8v0.8h-0.8zM74.7 503.0h0.8v0.8h-0.8zM74.2 516.9h0.8v0.8h-0.8zM78.6 509.9h0.8v0.8h-0.8zM84.8 509.8h0.8v0.8h-0.8zM82.5 511.5h0.8v0.8h-0.8zM96.7 510.3h0.8v0.8h-0.8zM89.2 516.5h0.8v0.8h-0.8zM84.8 501.8h0.8v0.8h-0.8zM82.7 517.0h0.8v0.8h-0.8zM76.1 506.1h0.8v0.8h-0.8zM92.0 515.2h0.8v0.8h-0.8zM86.0 515.2h0.8v0.8h-0.8zM87.0 502.3h0.8v0.8h-0.8zM76.6 505.8h0.8v0.8h-0.8zM91.5 506.3h0.8v0.8h-0.8zM80.6 505.0h0.8v0.8h-0.8zM76.8 509.2h0.8v0.8h-0.8zM78.9 512.4h0.8v0.8h-0.8zM71.8 512.1h0.8v0.8h-0.8zM82.2 497.4h0.8v0.8h-0.8zM90.3 508.2h0.8v0.8h-0.8zM72.6 504.3h0.8v0.8h-0.8zM87.7 507.0h0.8v0.8h-0.8zM90.7 514.9h0.8v0.8h-0.8zM90.0 512.1h0.8v0.8h-0.8zM94.0 514.3h0.8v0.8h-0.8zM88.7 496.5h0.8v0.8h-0.8zM91.4 518.5h0.8v0.8h-0.8zM84.2 506.9h0.8v0.8h-0.8zM97.6 498.6h0.8v0.8h-0.8zM88.8 525.8h0.8v0.8h-0.8zM80.4 514.5h0.8v0.8h-0.8zM97.3 509.2h0.8v0.8h-0.8zM89.4 515.9h0.8v0.8h-0.8zM80.6 509.4h0.8v0.8h-0.8zM87.8 515.4h0.8v0.8h-0.8zM85.8 508.7h0.8v0.8h-0.8zM79.9 507.7h0.8v0.8h-0.8zM91.4 510.7h0.8v0.8h-0.8zM80.9 504.5h0.8v0.8h-0.8zM89.8 493.1h0.8v0.8h-0.8zM89.7 513.1h0.8v0.8h-0.8zM96.1 512.8h0.8v0.8h-0.8zM85.6 513.4h0.8v0.8h-0.8zM74.3 516.7h0.8v0.8h-0.8zM87.9 505.4h0.8v0.8h-0.8zM94.0 521.8h0.8v0.8h-0.8zM77.6 505.7h0.8v0.8h-0.8zM87.7 511.2h0.8v0.8h-0.8zM83.6 503.7h0.8v0.8h-0.8zM98.7 516.7h0.8v0.8h-0.8zM78.8 501.3h0.8v0.8h-0.8zM96.2 516.4h0.8v0.8h-0.8zM96.9 515.3h0.8v0.8h-0.8zM80.8 511.7h0.8v0.8h-0.8zM73.0 505.1h0.8v0.8h-0.8zM85.6 513.4h0.8v0.8h-0.8zM81.6 509.2h0.8v0.8h-0.8zM88.8 512.4h0.8v0.8h-0.8zM89.8 511.4h0.8v0.8h-0.8zM84.1 515.1h0.8v0.8h-0.8zM86.3 504.6h0.8v0.8h-0.8zM82.2 510.0h0.8v0.8h-0.8zM85.3 511.0h0.8v0.8h-0.8zM86.0 511.1h0.8v0.8h-0.8zM85.2 501.8h0.8v0.8h-0.8zM88.5 516.8h0.8v0.8h-0.8zM88.6 508.8h0.8v0.8h-0.8zM88.7 503.7h0.8v0.8h-0.8zM74.6 510.4h0.8v0.8h-0.8zM80.4 514.8h0.8v0.8h-0.8zM79.5 492.9h0.8v0.8h-0.8zM79.8 520.3h0.8v0.8h-0.8zM83.7 501.1h0.8v0.8h-0.8zM81.4 513.4h0.8v0.8h-0.8zM89.0 511.1h0.8v0.8h-0.8zM94.9 514.6h0.8v0.8h-0.8zM85.9 513.9h0.8v0.8h-0.8zM95.9 516.3h0.8v0.8h-0.8zM92.1 503.0h0.8v0.8h-0.8zM85.1 514.7h0.8v0.8h-0.8zM84.2 516.9h0.8v0.8h-0.8zM89.6 515.9h0.8v0.8h-0.8zM84.7 526.6h0.8v0.8h-0.8zM93.4 508.6h0.8v0.8h-0.8zM86.5 526.9h0.8v0.8h-0.8zM83.9 515.7h0.8v0.8h-0.8zM91.9 510.0h0.8v0.8h-0.8zM79.0 511.2h0.8v0.8h-0.8zM88.2 517.3h0.8v0.8h-0.8zM90.7 510.2h0.8v0.8h-0.8zM91.1 513.5h0.8v0.8h-0.8zM87.2 510.4h0.8v0.8h-0.8zM84.5 514.5h0.8v0.8h-0.8zM79.7 505.9h0.8v0.8h-0.8zM86.0 500.5h0.8v0.8h-0.8zM83.4 496.9h0.8v0.8h-0.8zM81.9 513.7h0.8v0.8h-0.8zM89.4 509.6h0.8v0.8h-0.8zM84.6 500.8h0.8v0.8h-0.8zM97.0 513.4h0.8v0.8h-0.8zM92.6 504.3h0.8v0.8h-0.8zM84.9 498.2h0.8v0.8h-0.8zM90.7 516.1h0.8v0.8h-0.8zM74.6 509.7h0.8v0.8h-0.8zM89.8 498.5h0.8v0.8h-0.8zM75.0 503.1h0.8v0.8h-0.8zM82.2 500.9h0.8v0.8h-0.8zM86.2 511.6h0.8v0.8h-0.8zM89.8 514.6h0.8v0.8h-0.8zM95.0 517.6h0.8v0.8h-0.8zM78.1 506.7h0.8v0.8h-0.8zM79.6 503.0h0.8v0.8h-0.8zM85.5 510.0h0.8v0.8h-0.8zM88.9 499.7h0.8v0.8h-0.8zM78.6 509.8h0.8v0.8h-0.8zM84.8 508.0h0.8v0.8h-0.8zM85.6 505.1h0.8v0.8h-0.8zM90.2 512.3h0.8v0.8h-0.8zM85.5 505.6h0.8v0.8h-0.8zM85.0 492.3h0.8v0.8h-0.8zM80.1 510.2h0.8v0.8h-0.8zM77.0 511.3h0.8v0.8h-0.8zM86.9 501.0h0.8v0.8h-0.8zM84.5 508.0h0.8v0.8h-0.8zM88.8 514.0h0.8v0.8h-0.8zM85.8 504.5h0.8v0.8h-0.8zM85.1 509.6h0.8v0.8h-0.8zM90.4 511.9h0.8v0.8h-0.8zM81.7 501.2h0.8v0.8h-0.8zM83.8 505.2h0.8v0.8h-0.8zM79.3 509.2h0.8v0.8h-0.8zM83.1 510.7h0.8v0.8h-0.8zM89.1 507.3h0.8v0.8h-0.8zM99.9 507.9h0.8v0.8h-0.8zM92.6 510.8h0.8v0.8h-0.8zM92.7 494.6h0.8v0.8h-0.8zM81.5 511.6h0.8v0.8h-0.8zM89.6 525.2h0.8v0.8h-0.8zM87.9 518.3h0.8v0.8h-0.8zM90.6 516.2h0.8v0.8h-0.8zM89.1 509.0h0.8v0.8h-0.8zM89.1 503.0h0.8v0.8h-0.8zM93.1 503.4h0.8v0.8h-0.8zM87.5 523.8h0.8v0.8h-0.8zM84.7 510.1h0.8v0.8h-0.8zM93.0 510.2h0.8v0.8h-0.8zM81.2 511.7h0.8v0.8h-0.8zM89.5 514.6h0.8v0.8h-0.8zM81.4 521.4h0.8v0.8h-0.8zM96.0 510.1h0.8v0.8h-0.8zM87.6 507.2h0.8v0.8h-0.8zM94.5 505.4h0.8v0.8h-0.8zM90.0 506.9h0.8v0.8h-0.8zM81.8 514.7h0.8v0.8h-0.8zM94.0 509.9h0.8v0.8h-0.8zM81.9 515.3h0.8v0.8h-0.8zM85.7 512.0h0.8v0.8h-0.8zM95.1 517.4h0.8v0.8h-0.8zM82.9 524.8h0.8v0.8h-0.8zM86.0 515.1h0.8v0.8h-0.8zM82.1 509.7h0.8v0.8h-0.8zM75.5 521.6h0.8v0.8h-0.8zM94.2 502.1h0.8v0.8h-0.8zM77.0 499.5h0.8v0.8h-0.8zM93.1 507.0h0.8v0.8h-0.8zM85.6 508.0h0.8v0.8h-0.8zM85.3 502.9h0.8v0.8h-0.8zM86.1 500.7h0.8v0.8h-0.8zM85.6 512.0h0.8v0.8h-0.8zM88.8 508.5h0.8v0.8h-0.8zM80.6 511.0h0.8v0.8h-0.8zM83.1 520.2h0.8v0.8h-0.8zM90.6 509.3h0.8v0.8h-0.8zM83.2 505.4h0.8v0.8h-0.8zM80.4 507.7h0.8v0.8h-0.8zM87.8 513.4h0.8v0.8h-0.8zM89.4 523.6h0.8v0.8h-0.8zM81.8 510.1h0.8v0.8h-0.8zM82.9 511.1h0.8v0.8h-0.8zM86.9 512.7h0.8v0.8h-0.8zM84.6 512.4h0.8v0.8h-0.8zM86.3 515.0h0.8v0.8h-0.8zM74.6 504.2h0.8v0.8h-0.8zM86.0 503.3h0.8v0.8h-0.8zM79.7 514.1h0.8v0.8h-0.8zM82.1 514.1h0.8v0.8h-0.8zM90.5 512.0h0.8v0.8h-0.8zM89.0 509.3h0.8v0.8h-0.8zM77.5 509.8h0.8v0.8h-0.8zM88.7 506.6h0.8v0.8h-0.8zM85.4 514.9h0.8v0.8h-0.8zM80.7 514.2h0.8v0.8h-0.8zM97.2 506.4h0.8v0.8h-0.8zM86.9 509.0h0.8v0.8h-0.8zM95.2 512.1h0.8v0.8h-0.8zM91.4 505.5h0.8v0.8h-0.8zM85.9 509.9h0.8v0.8h-0.8zM75.3 519.4h0.8v0.8h-0.8zM91.4 498.6h0.8v0.8h-0.8zM90.5 509.1h0.8v0.8h-0.8zM88.7 512.4h0.8v0.8h-0.8zM77.0 508.6h0.8v0.8h-0.8zM95.0 506.3h0.8v0.8h-0.8zM79.9 501.2h0.8v0.8h-0.8zM78.7 512.2h0.8v0.8h-0.8zM96.2 512.8h0.8v0.8h-0.8zM87.5 524.5h0.8v0.8h-0.8zM82.9 505.6h0.8v0.8h-0.8zM89.2 513.6h0.8v0.8h-0.8zM79.9 502.4h0.8v0.8h-0.8zM87.7 511.6h0.8v0.8h-0.8zM78.2 508.7h0.8v0.8h-0.8zM82.7 513.0h0.8v0.8h-0.8zM85.3 509.4h0.8v0.8h-0.8zM83.9 516.8h0.8v0.8h-0.8zM94.3 507.6h0.8v0.8h-0.8zM91.1 505.1h0.8v0.8h-0.8zM86.4 514.9h0.8v0.8h-0.8zM95.1 507.5h0.8v0.8h-0.8zM85.6 511.3h0.8v0.8h-0.8zM77.0 510.1h0.8v0.8h-0.8zM81.9 512.4h0.8v0.8h-0.8zM79.2 497.2h0.8v0.8h-0.8zM86.2 511.7h0.8v0.8h-0.8zM82.7 515.8h0.8v0.8h-0.8zM84.4 506.1h0.8v0.8h-0.8zM88.9 499.8h0.8v0.8h-0.8zM81.9 509.9h0.8v0.8h-0.8zM91.1 508.9h0.8v0.8h-0.8zM87.9 505.7h0.8v0.8h-0.8zM87.8 520.8h0.8v0.8h-0.8zM81.9 525.4h0.8v0.8h-0.8zM82.1 510.1h0.8v0.8h-0.8zM87.0 516.7h0.8v0.8h-0.8zM78.6 496.3h0.8v0.8h-0.8zM89.6 515.2h0.8v0.8h-0.8zM89.7 527.1h0.8v0.8h-0.8zM87.2 511.7h0.8v0.8h-0.8zM91.6 512.4h0.8v0.8h-0.8zM96.0 502.0h0.8v0.8h-0.8zM83.7 487.6h0.8v0.8h-0.8zM90.9 507.6h0.8v0.8h-0.8zM91.5 524.0h0.8v0.8h-0.8zM86.0 508.3h0.8v0.8h-0.8zM83.0 504.6h0.8v0.8h-0.8zM82.2 514.2h0.8v0.8h-0.8zM86.2 510.4h0.8v0.8h-0.8zM85.0 515.9h0.8v0.8h-0.8zM89.0 509.1h0.8v0.8h-0.8zM90.0 509.0h0.8v0.8h-0.8zM79.1 519.5h0.8v0.8h-0.8zM88.8 503.8h0.8v0.8h-0.8zM92.5 512.2h0.8v0.8h-0.8zM76.6 520.5h0.8v0.8h-0.8zM88.0 515.8h0.8v0.8h-0.8zM87.2 509.0h0.8v0.8h-0.8zM76.7 516.3h0.8v0.8h-0.8zM86.2 508.1h0.8v0.8h-0.8zM88.1 510.5h0.8v0.8h-0.8zM90.1 507.6h0.8v0.8h-0.8zM85.8 496.1h0.8v0.8h-0.8zM83.5 514.4h0.8v0.8h-0.8zM94.0 507.6h0.8v0.8h-0.8zM85.3 520.3h0.8v0.8h-0.8zM84.0 514.8h0.8v0.8h-0.8zM96.1 510.3h0.8v0.8h-0.8zM93.4 505.4h0.8v0.8h-0.8zM87.2 509.5h0.8v0.8h-0.8zM86.7 517.3h0.8v0.8h-0.8zM100.3 505.7h0.8v0.8h-0.8zM82.5 513.2h0.8v0.8h-0.8zM79.7 513.2h0.8v0.8h-0.8zM89.4 508.2h0.8v0.8h-0.8zM89.2 499.9h0.8v0.8h-0.8zM90.6 500.0h0.8v0.8h-0.8zM81.8 506.4h0.8v0.8h-0.8zM83.6 515.6h0.8v0.8h-0.8zM86.5 507.4h0.8v0.8h-0.8zM89.3 520.3h0.8v0.8h-0.8zM86.0 512.4h0.8v0.8h-0.8zM93.4 511.7h0.8v0.8h-0.8zM78.3 526.2h0.8v0.8h-0.8zM99.3 497.1h0.8v0.8h-0.8zM85.8 512.7h0.8v0.8h-0.8zM91.8 514.3h0.8v0.8h-0.8zM84.4 503.2h0.8v0.8h-0.8zM86.6 516.7h0.8v0.8h-0.8zM79.5 503.3h0.8v0.8h-0.8zM85.9 497.4h0.8v0.8h-0.8zM84.4 507.2h0.8v0.8h-0.8zM88.7 505.4h0.8v0.8h-0.8zM80.7 507.4h0.8v0.8h-0.8zM85.7 505.7h0.8v0.8h-0.8zM86.1 514.9h0.8v0.8h-0.8zM93.1 521.1h0.8v0.8h-0.8zM81.3 507.3h0.8v0.8h-0.8zM71.1 522.3h0.8v0.8h-0.8zM81.7 509.8h0.8v0.8h-0.8zM89.1 501.2h0.8v0.8h-0.8zM88.8 509.8h0.8v0.8h-0.8zM75.0 511.9h0.8v0.8h-0.8zM93.2 497.9h0.8v0.8h-0.8zM90.8 511.4h0.8v0.8h-0.8zM88.8 512.9h0.8v0.8h-0.8zM93.8 508.5h0.8v0.8h-0.8zM91.2 507.3h0.8v0.8h-0.8zM90.4 504.7h0.8v0.8h-0.8zM85.3 521.3h0.8v0.8h-0.8zM88.7 509.0h0.8v0.8h-0.8zM79.1 504.9h0.8v0.8h-0.8zM87.2 516.1h0.8v0.8h-0.8zM88.6 513.4h0.8v0.8h-0.8zM85.7 518.8h0.8v0.8h-0.8zM83.7 506.4h0.8v0.8h-0.8zM91.3 510.4h0.8v0.8h-0.8zM84.3 506.3h0.8v0.8h-0.8zM84.5 514.1h0.8v0.8h-0.8zM88.1 502.1h0.8v0.8h-0.8zM88.6 511.2h0.8v0.8h-0.8zM80.0 515.0h0.8v0.8h-0.8zM84.3 507.8h0.8v0.8h-0.8zM90.8 518.6h0.8v0.8h-0.8zM81.9 512.8h0.8v0.8h-0.8zM80.7 525.0h0.8v0.8h-0.8zM83.0 517.8h0.8v0.8h-0.8zM82.1 515.3h0.8v0.8h-0.8zM99.3 493.5h0.8v0.8h-0.8zM83.4 513.3h0.8v0.8h-0.8zM85.4 505.7h0.8v0.8h-0.8zM98.9 510.5h0.8v0.8h-0.8zM76.1 515.6h0.8v0.8h-0.8zM75.7 517.5h0.8v0.8h-0.8zM82.5 510.9h0.8v0.8h-0.8zM93.6 510.8h0.8v0.8h-0.8zM77.7 499.0h0.8v0.8h-0.8zM93.1 514.8h0.8v0.8h-0.8zM81.1 515.6h0.8v0.8h-0.8zM89.0 514.2h0.8v0.8h-0.8zM72.4 508.0h0.8v0.8h-0.8zM91.4 514.8h0.8v0.8h-0.8zM91.3 494.0h0.8v0.8h-0.8zM87.0 513.2h0.8v0.8h-0.8zM101.3 503.8h0.8v0.8h-0.8zM84.0 510.2h0.8v0.8h-0.8zM91.3 507.1h0.8v0.8h-0.8zM92.9 504.9h0.8v0.8h-0.8zM87.6 506.6h0.8v0.8h-0.8zM86.9 505.5h0.8v0.8h-0.8zM76.4 517.1h0.8v0.8h-0.8zM87.8 506.4h0.8v0.8h-0.8zM87.2 516.4h0.8v0.8h-0.8zM80.1 509.3h0.8v0.8h-0.8zM89.2 513.4h0.8v0.8h-0.8zM84.0 496.3h0.8v0.8h-0.8zM93.5 512.1h0.8v0.8h-0.8zM86.1 508.2h0.8v0.8h-0.8zM87.6 507.2h0.8v0.8h-0.8zM79.9 505.2h0.8v0.8h-0.8zM82.4 506.0h0.8v0.8h-0.8zM79.0 514.1h0.8v0.8h-0.8zM78.1 514.3h0.8v0.8h-0.8zM79.9 512.3h0.8v0.8h-0.8zM94.2 511.3h0.8v0.8h-0.8zM81.6 510.3h0.8v0.8h-0.8zM86.9 498.7h0.8v0.8h-0.8zM82.4 511.1h0.8v0.8h-0.8zM83.2 510.5h0.8v0.8h-0.8zM90.4 515.0h0.8v0.8h-0.8zM91.4 513.8h0.8v0.8h-0.8zM84.3 509.9h0.8v0.8h-0.8zM84.4 508.0h0.8v0.8h-0.8zM84.9 498.8h0.8v0.8h-0.8zM84.0 509.8h0.8v0.8h-0.8zM80.2 509.8h0.8v0.8h-0.8zM89.1 508.9h0.8v0.8h-0.8zM98.5 493.1h0.8v0.8h-0.8zM84.8 498.1h0.8v0.8h-0.8zM91.9 527.3h0.8v0.8h-0.8zM71.0 510.8h0.8v0.8h-0.8zM89.1 508.0h0.8v0.8h-0.8zM89.3 495.4h0.8v0.8h-0.8zM91.1 512.4h0.8v0.8h-0.8zM86.1 506.2h0.8v0.8h-0.8zM89.8 506.8h0.8v0.8h-0.8zM87.3 506.7h0.8v0.8h-0.8zM72.5 509.8h0.8v0.8h-0.8zM87.2 514.9h0.8v0.8h-0.8zM80.7 509.8h0.8v0.8h-0.8zM89.7 510.9h0.8v0.8h-0.8zM93.5 522.9h0.8v0.8h-0.8zM80.5 497.5h0.8v0.8h-0.8zM91.1 519.9h0.8v0.8h-0.8zM91.5 515.3h0.8v0.8h-0.8zM82.3 505.4h0.8v0.8h-0.8zM91.3 504.1h0.8v0.8h-0.8zM75.1 503.5h0.8v0.8h-0.8zM101.0 522.5h0.8v0.8h-0.8zM81.9 505.3h0.8v0.8h-0.8zM87.4 505.1h0.8v0.8h-0.8zM93.9 509.5h0.8v0.8h-0.8zM79.5 518.5h0.8v0.8h-0.8zM82.5 511.4h0.8v0.8h-0.8zM85.9 508.0h0.8v0.8h-0.8zM87.9 505.5h0.8v0.8h-0.8zM74.9 495.6h0.8v0.8h-0.8zM78.4 505.1h0.8v0.8h-0.8zM85.9 510.4h0.8v0.8h-0.8zM89.3 510.8h0.8v0.8h-0.8zM81.2 505.4h0.8v0.8h-0.8zM73.3 508.9h0.8v0.8h-0.8zM88.9 513.4h0.8v0.8h-0.8zM85.3 508.9h0.8v0.8h-0.8zM91.6 510.1h0.8v0.8h-0.8zM90.4 513.8h0.8v0.8h-0.8zM87.3 518.5h0.8v0.8h-0.8zM82.6 507.7h0.8v0.8h-0.8zM81.2 504.8h0.8v0.8h-0.8zM95.3 521.4h0.8v0.8h-0.8zM86.1 513.7h0.8v0.8h-0.8zM93.1 515.2h0.8v0.8h-0.8zM93.2 501.8h0.8v0.8h-0.8zM82.2 512.9h0.8v0.8h-0.8zM94.6 510.7h0.8v0.8h-0.8zM80.8 507.7h0.8v0.8h-0.8zM82.0 504.4h0.8v0.8h-0.8zM95.0 505.9h0.8v0.8h-0.8zM86.1 524.1h0.8v0.8h-0.8zM93.1 512.2h0.8v0.8h-0.8zM82.3 512.7h0.8v0.8h-0.8zM95.7 514.0h0.8v0.8h-0.8zM93.6 510.6h0.8v0.8h-0.8zM89.1 508.7h0.8v0.8h-0.8zM88.6 518.5h0.8v0.8h-0.8zM77.4 509.6h0.8v0.8h-0.8zM87.4 506.3h0.8v0.8h-0.8zM84.2 515.1h0.8v0.8h-0.8zM98.0 514.1h0.8v0.8h-0.8zM88.0 499.9h0.8v0.8h-0.8zM97.6 510.5h0.8v0.8h-0.8zM85.8 502.7h0.8v0.8h-0.8zM85.7 502.9h0.8v0.8h-0.8zM86.4 513.0h0.8v0.8h-0.8zM86.2 511.8h0.8v0.8h-0.8zM80.9 519.3h0.8v0.8h-0.8zM82.1 498.2h0.8v0.8h-0.8zM84.9 505.0h0.8v0.8h-0.8zM79.9 507.7h0.8v0.8h-0.8zM87.7 502.3h0.8v0.8h-0.8zM85.2 519.3h0.8v0.8h-0.8zM90.1 509.0h0.8v0.8h-0.8zM86.8 509.2h0.8v0.8h-0.8zM85.7 514.8h0.8v0.8h-0.8zM85.4 494.4h0.8v0.8h-0.8zM85.9 504.2h0.8v0.8h-0.8zM89.9 506.0h0.8v0.8h-0.8zM86.9 524.2h0.8v0.8h-0.8zM79.7 502.7h0.8v0.8h-0.8zM77.5 494.4h0.8v0.8h-0.8zM74.7 512.4h0.8v0.8h-0.8zM82.2 497.9h0.8v0.8h-0.8zM77.1 514.0h0.8v0.8h-0.8zM81.3 507.6h0.8v0.8h-0.8zM88.0 518.8h0.8v0.8h-0.8zM97.6 516.7h0.8v0.8h-0.8zM86.9 511.2h0.8v0.8h-0.8zM96.8 519.3h0.8v0.8h-0.8zM84.1 513.0h0.8v0.8h-0.8zM87.7 510.3h0.8v0.8h-0.8zM83.0 501.4h0.8v0.8h-0.8zM82.8 500.0h0.8v0.8h-0.8zM93.3 513.5h0.8v0.8h-0.8zM78.8 519.1h0.8v0.8h-0.8zM91.4 497.6h0.8v0.8h-0.8zM97.0 515.3h0.8v0.8h-0.8zM98.4 502.0h0.8v0.8h-0.8zM89.2 512.8h0.8v0.8h-0.8zM87.2 511.1h0.8v0.8h-0.8zM92.3 500.3h0.8v0.8h-0.8zM78.5 500.9h0.8v0.8h-0.8zM82.7 506.1h0.8v0.8h-0.8zM88.2 511.7h0.8v0.8h-0.8zM86.2 505.6h0.8v0.8h-0.8zM83.3 516.2h0.8v0.8h-0.8zM90.6 510.7h0.8v0.8h-0.8zM84.1 520.1h0.8v0.8h-0.8zM82.4 514.2h0.8v0.8h-0.8zM92.9 508.3h0.8v0.8h-0.8zM91.0 502.7h0.8v0.8h-0.8zM92.1 511.3h0.8v0.8h-0.8zM76.5 514.4h0.8v0.8h-0.8zM80.6 518.3h0.8v0.8h-0.8zM81.9 508.9h0.8v0.8h-0.8zM87.7 507.8h0.8v0.8h-0.8zM87.6 506.4h0.8v0.8h-0.8zM90.0 510.0h0.8v0.8h-0.8zM87.3 492.1h0.8v0.8h-0.8zM93.0 510.2h0.8v0.8h-0.8zM75.3 510.6h0.8v0.8h-0.8zM88.8 517.0h0.8v0.8h-0.8zM79.5 520.1h0.8v0.8h-0.8zM85.0 525.6h0.8v0.8h-0.8zM85.1 514.4h0.8v0.8h-0.8zM83.8 502.7h0.8v0.8h-0.8zM92.6 515.9h0.8v0.8h-0.8zM95.2 515.6h0.8v0.8h-0.8zM82.6 499.2h0.8v0.8h-0.8zM82.1 505.6h0.8v0.8h-0.8zM81.1 513.8h0.8v0.8h-0.8zM88.0 508.2h0.8v0.8h-0.8zM87.0 509.1h0.8v0.8h-0.8zM87.3 514.9h0.8v0.8h-0.8zM91.8 505.5h0.8v0.8h-0.8zM77.0 519.3h0.8v0.8h-0.8zM86.7 517.2h0.8v0.8h-0.8zM76.1 507.9h0.8v0.8h-0.8zM86.2 500.6h0.8v0.8h-0.8zM82.9 514.7h0.8v0.8h-0.8zM92.5 520.4h0.8v0.8h-0.8zM80.8 500.9h0.8v0.8h-0.8zM89.1 516.1h0.8v0.8h-0.8zM87.2 501.5h0.8v0.8h-0.8zM90.7 515.2h0.8v0.8h-0.8zM89.3 506.8h0.8v0.8h-0.8zM87.8 515.1h0.8v0.8h-0.8zM82.6 498.0h0.8v0.8h-0.8zM88.0 513.1h0.8v0.8h-0.8zM86.1 515.8h0.8v0.8h-0.8zM82.5 509.5h0.8v0.8h-0.8zM84.2 513.7h0.8v0.8h-0.8zM95.6 508.4h0.8v0.8h-0.8zM98.3 519.9h0.8v0.8h-0.8zM90.7 513.8h0.8v0.8h-0.8zM96.6 508.8h0.8v0.8h-0.8zM85.3 503.1h0.8v0.8h-0.8zM88.8 518.7h0.8v0.8h-0.8zM89.2 512.8h0.8v0.8h-0.8zM84.8 511.1h0.8v0.8h-0.8zM77.4 516.8h0.8v0.8h-0.8zM83.5 502.8h0.8v0.8h-0.8zM81.5 504.6h0.8v0.8h-0.8zM91.1 516.9h0.8v0.8h-0.8zM77.9 516.0h0.8v0.8h-0.8zM91.3 506.2h0.8v0.8h-0.8zM77.1 505.2h0.8v0.8h-0.8zM82.2 512.2h0.8v0.8h-0.8zM83.9 496.8h0.8v0.8h-0.8zM87.4 500.0h0.8v0.8h-0.8zM91.4 502.2h0.8v0.8h-0.8zM81.8 504.4h0.8v0.8h-0.8zM82.7 518.4h0.8v0.8h-0.8zM91.1 513.9h0.8v0.8h-0.8zM87.9 499.9h0.8v0.8h-0.8zM82.9 506.4h0.8v0.8h-0.8zM80.1 513.3h0.8v0.8h-0.8zM81.6 505.4h0.8v0.8h-0.8zM79.7 496.6h0.8v0.8h-0.8zM89.6 518.7h0.8v0.8h-0.8zM87.0 503.7h0.8v0.8h-0.8zM69.8 511.1h0.8v0.8h-0.8zM93.3 511.9h0.8v0.8h-0.8zM91.6 519.6h0.8v0.8h-0.8zM92.8 507.1h0.8v0.8h-0.8zM92.3 515.0h0.8v0.8h-0.8zM76.8 507.4h0.8v0.8h-0.8zM77.5 509.3h0.8v0.8h-0.8zM89.5 503.1h0.8v0.8h-0.8zM73.7 518.4h0.8v0.8h-0.8zM88.3 519.6h0.8v0.8h-0.8zM78.1 516.9h0.8v0.8h-0.8zM98.4 523.0h0.8v0.8h-0.8zM84.7 511.7h0.8v0.8h-0.8zM85.1 516.5h0.8v0.8h-0.8zM92.2 510.6h0.8v0.8h-0.8zM77.8 514.8h0.8v0.8h-0.8zM83.2 514.1h0.8v0.8h-0.8zM87.6 520.6h0.8v0.8h-0.8zM92.8 507.1h0.8v0.8h-0.8zM88.1 521.5h0.8v0.8h-0.8zM82.8 512.8h0.8v0.8h-0.8zM93.1 518.2h0.8v0.8h-0.8zM89.1 501.4h0.8v0.8h-0.8zM78.4 511.6h0.8v0.8h-0.8zM88.3 526.6h0.8v0.8h-0.8zM80.8 517.4h0.8v0.8h-0.8zM90.6 499.1h0.8v0.8h-0.8zM81.1 511.1h0.8v0.8h-0.8zM83.0 509.0h0.8v0.8h-0.8zM88.8 504.7h0.8v0.8h-0.8zM88.8 505.9h0.8v0.8h-0.8zM82.7 513.5h0.8v0.8h-0.8zM82.6 511.9h0.8v0.8h-0.8zM95.6 510.2h0.8v0.8h-0.8zM85.1 514.8h0.8v0.8h-0.8zM83.8 517.0h0.8v0.8h-0.8zM78.3 514.0h0.8v0.8h-0.8zM82.9 504.8h0.8v0.8h-0.8zM96.6 504.5h0.8v0.8h-0.8zM96.5 514.3h0.8v0.8h-0.8zM94.7 503.7h0.8v0.8h-0.8zM93.2 519.5h0.8v0.8h-0.8zM85.3 509.2h0.8v0.8h-0.8zM100.7 511.2h0.8v0.8h-0.8zM83.5 505.9h0.8v0.8h-0.8zM88.7 512.1h0.8v0.8h-0.8zM87.1 521.2h0.8v0.8h-0.8zM84.0 513.1h0.8v0.8h-0.8zM94.8 503.5h0.8v0.8h-0.8zM92.2 521.9h0.8v0.8h-0.8zM77.9 502.9h0.8v0.8h-0.8zM79.8 498.0h0.8v0.8h-0.8zM88.7 497.9h0.8v0.8h-0.8zM89.0 519.4h0.8v0.8h-0.8zM76.3 507.9h0.8v0.8h-0.8zM74.5 515.1h0.8v0.8h-0.8zM81.6 508.3h0.8v0.8h-0.8zM86.3 513.5h0.8v0.8h-0.8zM83.9 510.1h0.8v0.8h-0.8zM82.7 510.7h0.8v0.8h-0.8zM79.0 510.4h0.8v0.8h-0.8zM74.4 506.8h0.8v0.8h-0.8zM97.5 510.5h0.8v0.8h-0.8zM78.4 511.7h0.8v0.8h-0.8zM80.2 499.3h0.8v0.8h-0.8zM81.6 514.8h0.8v0.8h-0.8zM88.3 509.4h0.8v0.8h-0.8zM80.4 503.0h0.8v0.8h-0.8zM94.1 511.6h0.8v0.8h-0.8zM80.3 496.3h0.8v0.8h-0.8zM77.8 526.1h0.8v0.8h-0.8zM79.1 509.5h0.8v0.8h-0.8zM87.3 509.0h0.8v0.8h-0.8zM84.3 501.1h0.8v0.8h-0.8zM79.7 521.0h0.8v0.8h-0.8zM81.5 515.5h0.8v0.8h-0.8zM75.8 508.2h0.8v0.8h-0.8zM87.6 516.7h0.8v0.8h-0.8zM79.3 513.9h0.8v0.8h-0.8zM88.3 505.2h0.8v0.8h-0.8zM88.9 504.2h0.8v0.8h-0.8zM81.2 509.9h0.8v0.8h-0.8zM69.7 509.3h0.8v0.8h-0.8zM80.0 500.5h0.8v0.8h-0.8zM83.4 515.0h0.8v0.8h-0.8zM83.6 518.2h0.8v0.8h-0.8zM79.0 501.5h0.8v0.8h-0.8zM95.3 512.6h0.8v0.8h-0.8zM91.7 504.6h0.8v0.8h-0.8zM90.8 511.7h0.8v0.8h-0.8zM89.9 510.2h0.8v0.8h-0.8zM93.2 505.8h0.8v0.8h-0.8zM80.2 500.4h0.8v0.8h-0.8zM93.0 505.2h0.8v0.8h-0.8zM79.7 503.9h0.8v0.8h-0.8zM83.3 501.7h0.8v0.8h-0.8zM84.3 505.9h0.8v0.8h-0.8zM82.7 503.8h0.8v0.8h-0.8zM86.2 507.0h0.8v0.8h-0.8zM86.7 511.6h0.8v0.8h-0.8zM88.0 495.8h0.8v0.8h-0.8zM82.8 504.8h0.8v0.8h-0.8zM90.6 499.7h0.8v0.8h-0.8zM81.7 508.1h0.8v0.8h-0.8zM84.0 516.4h0.8v0.8h-0.8zM83.3 516.3h0.8v0.8h-0.8zM77.2 498.2h0.8v0.8h-0.8zM93.3 512.8h0.8v0.8h-0.8zM88.9 510.8h0.8v0.8h-0.8zM88.9 502.1h0.8v0.8h-0.8zM91.7 506.5h0.8v0.8h-0.8zM91.9 510.6h0.8v0.8h-0.8zM74.2 501.6h0.8v0.8h-0.8zM92.8 509.1h0.8v0.8h-0.8zM83.6 511.6h0.8v0.8h-0.8zM83.4 506.5h0.8v0.8h-0.8z" fill="#3dd03d"/>
<path d="M75.6 500.7h0.8v0.8h-0.8zM90.4 500.2h0.8v0.8h-0.8zM94.2 509.0h0.8v0.8h-0.8zM92.5 505.3h0.8v0.8h-0.8zM75.9 500.7h0.8v0.8h-0.8zM73.0 496.3h0.8v0.8h-0.8zM73.8 496.8h0.8v0.8h-0.8zM91.7 502.7h0.8v0.8h-0.8zM69.8 490.4h0.8v0.8h-0.8zM73.9 497.9h0.8v0.8h-0.8zM63.1 494.3h0.8v0.8h-0.8zM50.9 502.8h0.8v0.8h-0.8zM73.8 512.9h0.8v0.8h-0.8zM74.2 499.3h0.8v0.8h-0.8zM89.7 500.7h0.8v0.8h-0.8zM76.3 498.1h0.8v0.8h-0.8zM68.1 507.5h0.8v0.8h-0.8zM85.0 508.6h0.8v0.8h-0.8zM70.8 500.2h0.8v0.8h-0.8zM65.3 504.8h0.8v0.8h-0.8zM59.9 502.8h0.8v0.8h-0.8zM86.0 507.1h0.8v0.8h-0.8zM64.6 505.4h0.8v0.8h-0.8zM67.0 496.2h0.8v0.8h-0.8zM60.6 505.8h0.8v0.8h-0.8zM91.8 497.0h0.8v0.8h-0.8zM66.5 498.3h0.8v0.8h-0.8zM100.8 505.0h0.8v0.8h-0.8zM68.8 491.0h0.8v0.8h-0.8zM67.4 505.9h0.8v0.8h-0.8zM94.1 498.7h0.8v0.8h-0.8zM67.2 497.5h0.8v0.8h-0.8zM54.7 504.5h0.8v0.8h-0.8zM63.1 505.3h0.8v0.8h-0.8zM56.6 493.6h0.8v0.8h-0.8zM77.5 496.2h0.8v0.8h-0.8zM82.7 500.0h0.8v0.8h-0.8zM62.2 503.1h0.8v0.8h-0.8zM83.3 490.4h0.8v0.8h-0.8zM93.7 502.5h0.8v0.8h-0.8zM82.5 490.7h0.8v0.8h-0.8zM66.9 498.3h0.8v0.8h-0.8zM85.8 492.7h0.8v0.8h-0.8zM65.2 489.9h0.8v0.8h-0.8zM72.0 501.7h0.8v0.8h-0.8zM56.8 497.0h0.8v0.8h-0.8zM79.9 507.9h0.8v0.8h-0.8zM81.5 498.5h0.8v0.8h-0.8zM62.1 495.3h0.8v0.8h-0.8zM67.5 500.7h0.8v0.8h-0.8zM74.0 508.3h0.8v0.8h-0.8zM77.5 494.6h0.8v0.8h-0.8zM90.7 504.7h0.8v0.8h-0.8zM75.6 496.4h0.8v0.8h-0.8zM54.9 494.9h0.8v0.8h-0.8zM84.1 496.0h0.8v0.8h-0.8zM60.6 501.0h0.8v0.8h-0.8zM77.1 503.0h0.8v0.8h-0.8zM81.4 507.0h0.8v0.8h-0.8zM65.7 504.9h0.8v0.8h-0.8zM64.1 503.5h0.8v0.8h-0.8zM76.4 501.2h0.8v0.8h-0.8zM84.7 499.9h0.8v0.8h-0.8zM86.2 504.4h0.8v0.8h-0.8zM75.9 497.2h0.8v0.8h-0.8zM66.6 497.4h0.8v0.8h-0.8zM72.4 499.9h0.8v0.8h-0.8zM82.6 495.7h0.8v0.8h-0.8zM67.0 498.4h0.8v0.8h-0.8zM76.5 494.8h0.8v0.8h-0.8zM91.4 497.2h0.8v0.8h-0.8zM85.8 488.3h0.8v0.8h-0.8zM74.4 501.4h0.8v0.8h-0.8zM76.5 503.0h0.8v0.8h-0.8zM77.4 500.8h0.8v0.8h-0.8zM54.6 496.4h0.8v0.8h-0.8zM49.9 503.1h0.8v0.8h-0.8zM77.7 499.0h0.8v0.8h-0.8zM65.9 497.1h0.8v0.8h-0.8zM93.9 508.7h0.8v0.8h-0.8zM73.9 506.4h0.8v0.8h-0.8zM57.8 490.3h0.8v0.8h-0.8zM69.4 495.6h0.8v0.8h-0.8zM68.6 500.9h0.8v0.8h-0.8zM75.0 501.4h0.8v0.8h-0.8zM74.1 504.7h0.8v0.8h-0.8zM93.1 493.8h0.8v0.8h-0.8zM76.2 498.7h0.8v0.8h-0.8zM78.2 492.3h0.8v0.8h-0.8zM56.0 488.4h0.8v0.8h-0.8zM80.0 501.0h0.8v0.8h-0.8zM75.3 488.2h0.8v0.8h-0.8zM70.6 496.2h0.8v0.8h-0.8zM59.7 495.4h0.8v0.8h-0.8zM81.8 502.7h0.8v0.8h-0.8zM74.3 502.6h0.8v0.8h-0.8zM68.2 500.4h0.8v0.8h-0.8zM74.9 502.8h0.8v0.8h-0.8zM73.8 499.3h0.8v0.8h-0.8zM73.1 496.8h0.8v0.8h-0.8zM98.0 502.6h0.8v0.8h-0.8zM79.0 511.5h0.8v0.8h-0.8zM89.2 492.2h0.8v0.8h-0.8zM81.8 504.2h0.8v0.8h-0.8zM94.3 506.6h0.8v0.8h-0.8zM82.6 494.1h0.8v0.8h-0.8zM65.4 501.3h0.8v0.8h-0.8zM79.8 494.9h0.8v0.8h-0.8zM70.5 498.0h0.8v0.8h-0.8zM75.1 501.7h0.8v0.8h-0.8zM71.5 493.8h0.8v0.8h-0.8zM87.5 508.0h0.8v0.8h-0.8zM73.4 505.1h0.8v0.8h-0.8zM79.2 503.3h0.8v0.8h-0.8zM79.6 496.2h0.8v0.8h-0.8zM80.5 505.1h0.8v0.8h-0.8zM65.1 509.8h0.8v0.8h-0.8zM96.4 509.1h0.8v0.8h-0.8zM95.4 503.7h0.8v0.8h-0.8zM70.9 497.0h0.8v0.8h-0.8zM66.0 500.6h0.8v0.8h-0.8zM74.2 503.4h0.8v0.8h-0.8zM53.3 511.6h0.8v0.8h-0.8zM98.4 499.9h0.8v0.8h-0.8zM81.6 502.4h0.8v0.8h-0.8zM77.4 499.0h0.8v0.8h-0.8zM73.2 495.9h0.8v0.8h-0.8zM76.4 499.9h0.8v0.8h-0.8zM77.9 495.7h0.8v0.8h-0.8zM74.9 500.2h0.8v0.8h-0.8zM80.8 494.7h0.8v0.8h-0.8zM78.9 504.9h0.8v0.8h-0.8zM80.8 498.2h0.8v0.8h-0.8zM69.3 498.8h0.8v0.8h-0.8zM82.2 507.8h0.8v0.8h-0.8zM72.8 496.8h0.8v0.8h-0.8zM78.4 501.0h0.8v0.8h-0.8zM65.0 496.3h0.8v0.8h-0.8zM73.4 503.4h0.8v0.8h-0.8zM62.0 494.9h0.8v0.8h-0.8zM79.7 493.9h0.8v0.8h-0.8zM75.6 501.8h0.8v0.8h-0.8zM73.3 494.9h0.8v0.8h-0.8zM73.9 498.3h0.8v0.8h-0.8zM78.0 495.8h0.8v0.8h-0.8zM86.0 491.6h0.8v0.8h-0.8zM72.6 500.0h0.8v0.8h-0.8zM84.6 497.0h0.8v0.8h-0.8zM80.2 497.2h0.8v0.8h-0.8zM82.3 508.7h0.8v0.8h-0.8zM70.3 502.2h0.8v0.8h-0.8zM64.8 504.9h0.8v0.8h-0.8zM87.2 500.2h0.8v0.8h-0.8zM62.6 502.0h0.8v0.8h-0.8zM86.6 505.4h0.8v0.8h-0.8zM83.0 490.8h0.8v0.8h-0.8zM67.4 507.1h0.8v0.8h-0.8zM61.6 505.7h0.8v0.8h-0.8zM94.3 503.8h0.8v0.8h-0.8zM86.3 498.3h0.8v0.8h-0.8zM61.6 499.5h0.8v0.8h-0.8zM72.4 499.8h0.8v0.8h-0.8zM81.8 499.3h0.8v0.8h-0.8zM76.5 502.1h0.8v0.8h-0.8zM74.4 509.2h0.8v0.8h-0.8zM79.1 500.4h0.8v0.8h-0.8zM72.3 496.9h0.8v0.8h-0.8zM88.6 500.8h0.8v0.8h-0.8zM63.2 497.2h0.8v0.8h-0.8zM73.1 497.8h0.8v0.8h-0.8zM85.9 494.2h0.8v0.8h-0.8zM79.7 500.7h0.8v0.8h-0.8zM62.1 500.2h0.8v0.8h-0.8zM73.5 502.5h0.8v0.8h-0.8zM69.8 501.5h0.8v0.8h-0.8zM57.0 494.6h0.8v0.8h-0.8zM82.7 505.2h0.8v0.8h-0.8zM74.4 497.0h0.8v0.8h-0.8zM85.9 489.5h0.8v0.8h-0.8zM66.1 503.4h0.8v0.8h-0.8zM81.4 494.8h0.8v0.8h-0.8zM54.7 507.3h0.8v0.8h-0.8zM76.1 495.5h0.8v0.8h-0.8zM75.1 504.5h0.8v0.8h-0.8zM82.3 489.6h0.8v0.8h-0.8zM82.6 491.1h0.8v0.8h-0.8zM86.5 502.0h0.8v0.8h-0.8zM98.2 496.9h0.8v0.8h-0.8zM74.5 505.2h0.8v0.8h-0.8zM67.8 496.5h0.8v0.8h-0.8zM70.6 499.6h0.8v0.8h-0.8zM63.1 502.4h0.8v0.8h-0.8zM80.2 500.4h0.8v0.8h-0.8zM92.4 498.4h0.8v0.8h-0.8zM88.2 497.3h0.8v0.8h-0.8zM82.4 490.3h0.8v0.8h-0.8zM76.6 499.1h0.8v0.8h-0.8zM69.3 496.9h0.8v0.8h-0.8zM70.9 496.4h0.8v0.8h-0.8zM51.5 497.0h0.8v0.8h-0.8zM68.7 497.4h0.8v0.8h-0.8zM63.4 499.3h0.8v0.8h-0.8zM82.7 498.7h0.8v0.8h-0.8zM69.3 506.8h0.8v0.8h-0.8zM84.8 504.6h0.8v0.8h-0.8zM86.6 498.4h0.8v0.8h-0.8zM73.1 505.6h0.8v0.8h-0.8zM68.7 499.4h0.8v0.8h-0.8zM78.5 501.9h0.8v0.8h-0.8zM71.6 504.9h0.8v0.8h-0.8zM72.6 503.6h0.8v0.8h-0.8zM85.7 503.3h0.8v0.8h-0.8zM82.2 494.2h0.8v0.8h-0.8zM60.7 496.9h0.8v0.8h-0.8zM79.5 507.5h0.8v0.8h-0.8zM61.7 501.5h0.8v0.8h-0.8zM65.5 496.3h0.8v0.8h-0.8zM71.6 503.5h0.8v0.8h-0.8zM76.7 505.9h0.8v0.8h-0.8zM64.2 504.4h0.8v0.8h-0.8zM84.3 500.3h0.8v0.8h-0.8zM79.5 497.2h0.8v0.8h-0.8zM63.1 498.0h0.8v0.8h-0.8zM67.8 514.5h0.8v0.8h-0.8zM69.4 508.3h0.8v0.8h-0.8zM76.6 501.6h0.8v0.8h-0.8zM82.3 496.1h0.8v0.8h-0.8zM84.1 501.9h0.8v0.8h-0.8zM58.6 503.0h0.8v0.8h-0.8zM80.3 502.3h0.8v0.8h-0.8zM91.1 497.9h0.8v0.8h-0.8zM79.9 503.7h0.8v0.8h-0.8zM65.0 506.0h0.8v0.8h-0.8zM59.3 493.5h0.8v0.8h-0.8zM80.0 494.6h0.8v0.8h-0.8zM73.3 491.8h0.8v0.8h-0.8zM75.2 494.3h0.8v0.8h-0.8zM78.1 492.3h0.8v0.8h-0.8zM79.2 498.7h0.8v0.8h-0.8zM75.2 499.7h0.8v0.8h-0.8zM75.9 493.4h0.8v0.8h-0.8zM64.7 497.7h0.8v0.8h-0.8zM79.0 490.1h0.8v0.8h-0.8zM66.5 496.9h0.8v0.8h-0.8zM63.4 501.6h0.8v0.8h-0.8zM73.0 495.9h0.8v0.8h-0.8zM64.2 504.0h0.8v0.8h-0.8zM67.6 502.9h0.8v0.8h-0.8zM79.2 490.5h0.8v0.8h-0.8zM63.1 500.0h0.8v0.8h-0.8zM78.1 503.9h0.8v0.8h-0.8zM82.9 505.2h0.8v0.8h-0.8zM70.6 498.9h0.8v0.8h-0.8zM82.6 497.9h0.8v0.8h-0.8zM85.6 492.1h0.8v0.8h-0.8zM81.4 499.1h0.8v0.8h-0.8zM53.8 504.9h0.8v0.8h-0.8zM77.8 500.1h0.8v0.8h-0.8zM63.2 497.7h0.8v0.8h-0.8zM90.4 495.9h0.8v0.8h-0.8zM61.9 499.3h0.8v0.8h-0.8zM70.4 495.4h0.8v0.8h-0.8zM65.7 505.2h0.8v0.8h-0.8zM59.4 509.8h0.8v0.8h-0.8zM68.8 494.5h0.8v0.8h-0.8zM82.8 502.8h0.8v0.8h-0.8zM63.6 503.7h0.8v0.8h-0.8zM55.2 495.4h0.8v0.8h-0.8zM86.3 498.7h0.8v0.8h-0.8zM60.8 502.6h0.8v0.8h-0.8zM84.1 499.9h0.8v0.8h-0.8zM55.5 498.3h0.8v0.8h-0.8zM78.9 503.8h0.8v0.8h-0.8zM94.0 498.7h0.8v0.8h-0.8zM69.4 499.8h0.8v0.8h-0.8zM87.2 495.3h0.8v0.8h-0.8zM88.2 486.3h0.8v0.8h-0.8zM82.9 496.6h0.8v0.8h-0.8zM79.3 503.4h0.8v0.8h-0.8zM62.1 499.6h0.8v0.8h-0.8zM77.0 502.9h0.8v0.8h-0.8zM64.7 495.0h0.8v0.8h-0.8zM54.3 512.7h0.8v0.8h-0.8zM72.5 498.9h0.8v0.8h-0.8zM58.8 504.6h0.8v0.8h-0.8zM68.9 507.2h0.8v0.8h-0.8zM83.4 500.1h0.8v0.8h-0.8zM82.1 494.4h0.8v0.8h-0.8zM71.1 497.1h0.8v0.8h-0.8zM61.2 500.1h0.8v0.8h-0.8zM73.0 507.2h0.8v0.8h-0.8zM64.9 497.7h0.8v0.8h-0.8zM78.9 502.0h0.8v0.8h-0.8zM74.8 497.6h0.8v0.8h-0.8zM79.7 501.8h0.8v0.8h-0.8zM55.2 498.7h0.8v0.8h-0.8zM60.1 494.1h0.8v0.8h-0.8zM76.0 500.3h0.8v0.8h-0.8zM75.7 495.6h0.8v0.8h-0.8zM72.4 495.4h0.8v0.8h-0.8zM78.5 503.4h0.8v0.8h-0.8zM92.9 506.3h0.8v0.8h-0.8zM66.0 497.7h0.8v0.8h-0.8zM64.6 501.5h0.8v0.8h-0.8zM95.3 503.5h0.8v0.8h-0.8zM51.4 493.7h0.8v0.8h-0.8zM60.9 502.6h0.8v0.8h-0.8zM74.5 501.5h0.8v0.8h-0.8zM93.2 495.9h0.8v0.8h-0.8zM65.6 509.8h0.8v0.8h-0.8zM78.1 496.1h0.8v0.8h-0.8zM53.2 492.4h0.8v0.8h-0.8zM75.0 505.0h0.8v0.8h-0.8zM73.0 496.5h0.8v0.8h-0.8zM66.7 509.5h0.8v0.8h-0.8zM56.0 500.9h0.8v0.8h-0.8zM74.8 503.1h0.8v0.8h-0.8zM70.3 502.5h0.8v0.8h-0.8zM83.1 499.3h0.8v0.8h-0.8zM69.7 499.1h0.8v0.8h-0.8zM64.4 499.0h0.8v0.8h-0.8zM71.3 501.1h0.8v0.8h-0.8zM88.5 506.5h0.8v0.8h-0.8zM69.8 503.0h0.8v0.8h-0.8zM77.6 503.8h0.8v0.8h-0.8zM74.7 501.3h0.8v0.8h-0.8zM69.6 496.1h0.8v0.8h-0.8zM83.7 506.5h0.8v0.8h-0.8zM81.5 502.2h0.8v0.8h-0.8zM77.3 497.7h0.8v0.8h-0.8zM55.8 503.3h0.8v0.8h-0.8zM76.6 497.2h0.8v0.8h-0.8zM64.4 506.4h0.8v0.8h-0.8zM55.6 508.8h0.8v0.8h-0.8zM81.2 511.9h0.8v0.8h-0.8zM67.0 499.9h0.8v0.8h-0.8zM69.2 500.8h0.8v0.8h-0.8zM72.3 496.3h0.8v0.8h-0.8zM85.8 496.1h0.8v0.8h-0.8zM69.2 502.8h0.8v0.8h-0.8zM68.9 497.8h0.8v0.8h-0.8zM78.2 498.2h0.8v0.8h-0.8zM61.4 499.5h0.8v0.8h-0.8zM72.2 508.5h0.8v0.8h-0.8zM63.0 504.8h0.8v0.8h-0.8zM66.2 498.2h0.8v0.8h-0.8zM71.1 501.4h0.8v0.8h-0.8zM83.6 508.7h0.8v0.8h-0.8zM67.8 506.6h0.8v0.8h-0.8zM85.0 504.1h0.8v0.8h-0.8zM66.5 504.5h0.8v0.8h-0.8zM73.4 501.8h0.8v0.8h-0.8zM71.7 503.3h0.8v0.8h-0.8zM86.2 505.7h0.8v0.8h-0.8zM72.3 505.0h0.8v0.8h-0.8zM89.7 495.3h0.8v0.8h-0.8zM90.0 493.3h0.8v0.8h-0.8zM80.2 503.0h0.8v0.8h-0.8zM90.1 501.4h0.8v0.8h-0.8zM69.5 496.0h0.8v0.8h-0.8zM61.4 503.8h0.8v0.8h-0.8zM72.0 496.4h0.8v0.8h-0.8zM80.1 496.2h0.8v0.8h-0.8zM69.9 497.7h0.8v0.8h-0.8zM91.9 507.3h0.8v0.8h-0.8zM72.8 492.1h0.8v0.8h-0.8zM77.4 500.4h0.8v0.8h-0.8zM78.2 502.8h0.8v0.8h-0.8zM71.1 504.6h0.8v0.8h-0.8zM83.3 501.1h0.8v0.8h-0.8zM70.2 497.6h0.8v0.8h-0.8zM81.8 494.5h0.8v0.8h-0.8zM72.8 496.3h0.8v0.8h-0.8zM59.9 503.0h0.8v0.8h-0.8zM74.2 500.2h0.8v0.8h-0.8zM83.7 492.5h0.8v0.8h-0.8zM73.8 501.4h0.8v0.8h-0.8zM83.2 494.6h0.8v0.8h-0.8zM82.0 501.1h0.8v0.8h-0.8zM88.7 505.7h0.8v0.8h-0.8zM80.3 510.7h0.8v0.8h-0.8zM74.5 497.9h0.8v0.8h-0.8zM70.9 495.3h0.8v0.8h-0.8zM74.2 490.6h0.8v0.8h-0.8zM73.6 502.1h0.8v0.8h-0.8zM84.9 498.3h0.8v0.8h-0.8zM89.1 496.7h0.8v0.8h-0.8zM73.1 490.6h0.8v0.8h-0.8zM66.5 496.0h0.8v0.8h-0.8zM89.8 502.6h0.8v0.8h-0.8zM63.2 502.6h0.8v0.8h-0.8zM79.4 498.9h0.8v0.8h-0.8zM74.7 498.5h0.8v0.8h-0.8zM68.9 491.3h0.8v0.8h-0.8zM73.6 506.3h0.8v0.8h-0.8zM89.2 498.6h0.8v0.8h-0.8zM66.8 499.0h0.8v0.8h-0.8zM83.7 501.7h0.8v0.8h-0.8zM68.5 501.8h0.8v0.8h-0.8zM72.4 502.5h0.8v0.8h-0.8zM70.3 492.8h0.8v0.8h-0.8zM75.1 503.7h0.8v0.8h-0.8zM63.2 499.5h0.8v0.8h-0.8zM83.5 498.2h0.8v0.8h-0.8zM67.8 509.9h0.8v0.8h-0.8zM83.0 505.0h0.8v0.8h-0.8zM64.8 508.0h0.8v0.8h-0.8zM57.6 497.5h0.8v0.8h-0.8zM82.1 506.5h0.8v0.8h-0.8zM65.0 496.8h0.8v0.8h-0.8zM76.5 490.6h0.8v0.8h-0.8zM81.0 502.7h0.8v0.8h-0.8zM69.9 502.6h0.8v0.8h-0.8zM82.4 501.5h0.8v0.8h-0.8zM79.8 507.4h0.8v0.8h-0.8zM69.6 500.8h0.8v0.8h-0.8zM69.2 505.0h0.8v0.8h-0.8zM70.3 502.3h0.8v0.8h-0.8zM75.9 500.3h0.8v0.8h-0.8zM92.0 499.6h0.8v0.8h-0.8zM88.9 504.0h0.8v0.8h-0.8zM87.9 499.2h0.8v0.8h-0.8zM83.9 503.7h0.8v0.8h-0.8zM68.3 501.3h0.8v0.8h-0.8zM73.2 499.8h0.8v0.8h-0.8zM87.7 496.5h0.8v0.8h-0.8zM57.4 491.6h0.8v0.8h-0.8zM69.9 496.9h0.8v0.8h-0.8zM74.6 502.7h0.8v0.8h-0.8zM92.3 501.5h0.8v0.8h-0.8zM79.2 496.5h0.8v0.8h-0.8zM80.4 506.6h0.8v0.8h-0.8zM88.1 490.6h0.8v0.8h-0.8zM83.5 507.6h0.8v0.8h-0.8zM82.9 492.8h0.8v0.8h-0.8zM71.4 502.8h0.8v0.8h-0.8zM78.7 496.1h0.8v0.8h-0.8zM65.5 504.7h0.8v0.8h-0.8zM61.0 506.9h0.8v0.8h-0.8zM74.7 501.4h0.8v0.8h-0.8zM61.0 497.1h0.8v0.8h-0.8zM81.5 492.9h0.8v0.8h-0.8zM95.4 493.2h0.8v0.8h-0.8zM62.2 500.2h0.8v0.8h-0.8zM79.4 503.5h0.8v0.8h-0.8zM70.8 499.0h0.8v0.8h-0.8zM72.1 497.2h0.8v0.8h-0.8zM77.0 500.8h0.8v0.8h-0.8zM68.2 501.2h0.8v0.8h-0.8zM74.4 499.6h0.8v0.8h-0.8zM85.7 491.7h0.8v0.8h-0.8zM77.0 494.9h0.8v0.8h-0.8zM71.3 507.2h0.8v0.8h-0.8zM63.6 499.5h0.8v0.8h-0.8zM68.5 504.6h0.8v0.8h-0.8zM64.6 491.9h0.8v0.8h-0.8zM79.7 498.3h0.8v0.8h-0.8zM71.3 505.2h0.8v0.8h-0.8zM65.5 498.2h0.8v0.8h-0.8zM76.0 502.0h0.8v0.8h-0.8zM69.3 505.0h0.8v0.8h-0.8zM97.1 498.0h0.8v0.8h-0.8zM93.4 489.9h0.8v0.8h-0.8zM88.7 498.3h0.8v0.8h-0.8zM75.9 498.4h0.8v0.8h-0.8zM68.1 493.9h0.8v0.8h-0.8zM70.5 506.2h0.8v0.8h-0.8zM86.0 498.3h0.8v0.8h-0.8zM69.2 496.6h0.8v0.8h-0.8zM62.4 508.7h0.8v0.8h-0.8zM81.2 500.6h0.8v0.8h-0.8zM69.5 495.1h0.8v0.8h-0.8zM87.8 503.7h0.8v0.8h-0.8zM64.9 504.7h0.8v0.8h-0.8zM63.3 503.1h0.8v0.8h-0.8zM64.8 498.0h0.8v0.8h-0.8zM79.5 502.1h0.8v0.8h-0.8zM84.7 496.0h0.8v0.8h-0.8zM90.4 506.5h0.8v0.8h-0.8zM74.4 502.2h0.8v0.8h-0.8zM66.7 499.3h0.8v0.8h-0.8zM61.2 500.4h0.8v0.8h-0.8zM76.5 506.4h0.8v0.8h-0.8zM84.1 503.9h0.8v0.8h-0.8zM70.9 498.9h0.8v0.8h-0.8zM71.1 501.1h0.8v0.8h-0.8zM55.0 503.7h0.8v0.8h-0.8zM58.7 497.5h0.8v0.8h-0.8zM74.7 497.5h0.8v0.8h-0.8zM91.3 499.5h0.8v0.8h-0.8zM90.3 505.6h0.8v0.8h-0.8zM69.5 501.9h0.8v0.8h-0.8zM87.6 498.4h0.8v0.8h-0.8zM75.4 497.3h0.8v0.8h-0.8zM75.1 498.3h0.8v0.8h-0.8zM75.3 504.8h0.8v0.8h-0.8zM88.5 500.6h0.8v0.8h-0.8zM76.5 504.1h0.8v0.8h-0.8zM71.6 494.9h0.8v0.8h-0.8zM85.7 495.5h0.8v0.8h-0.8zM83.9 495.4h0.8v0.8h-0.8zM93.0 495.0h0.8v0.8h-0.8zM83.1 507.2h0.8v0.8h-0.8zM64.8 507.1h0.8v0.8h-0.8zM66.2 491.5h0.8v0.8h-0.8zM81.8 503.4h0.8v0.8h-0.8zM72.5 487.9h0.8v0.8h-0.8zM73.9 498.5h0.8v0.8h-0.8zM70.7 498.6h0.8v0.8h-0.8zM56.5 497.3h0.8v0.8h-0.8zM92.6 507.4h0.8v0.8h-0.8zM70.9 496.6h0.8v0.8h-0.8zM78.5 505.1h0.8v0.8h-0.8zM81.8 494.4h0.8v0.8h-0.8zM76.1 500.7h0.8v0.8h-0.8zM89.0 505.7h0.8v0.8h-0.8zM79.8 505.8h0.8v0.8h-0.8zM70.5 507.4h0.8v0.8h-0.8zM70.2 501.9h0.8v0.8h-0.8zM83.8 495.6h0.8v0.8h-0.8zM67.4 491.6h0.8v0.8h-0.8zM76.2 499.7h0.8v0.8h-0.8zM71.2 502.4h0.8v0.8h-0.8zM53.2 499.9h0.8v0.8h-0.8zM75.4 498.7h0.8v0.8h-0.8zM82.5 508.4h0.8v0.8h-0.8zM70.0 495.5h0.8v0.8h-0.8zM68.4 500.4h0.8v0.8h-0.8zM80.4 495.9h0.8v0.8h-0.8zM84.6 495.1h0.8v0.8h-0.8zM82.8 502.1h0.8v0.8h-0.8zM79.2 510.4h0.8v0.8h-0.8zM71.8 499.2h0.8v0.8h-0.8zM79.3 504.1h0.8v0.8h-0.8zM61.0 501.3h0.8v0.8h-0.8zM67.0 503.0h0.8v0.8h-0.8zM88.3 500.2h0.8v0.8h-0.8zM73.4 500.9h0.8v0.8h-0.8zM80.2 500.8h0.8v0.8h-0.8zM70.5 496.5h0.8v0.8h-0.8zM72.7 505.8h0.8v0.8h-0.8zM73.5 506.5h0.8v0.8h-0.8zM77.3 499.9h0.8v0.8h-0.8zM57.8 496.8h0.8v0.8h-0.8zM87.1 493.8h0.8v0.8h-0.8zM64.5 494.7h0.8v0.8h-0.8zM68.9 503.1h0.8v0.8h-0.8zM80.5 490.3h0.8v0.8h-0.8zM89.2 497.2h0.8v0.8h-0.8zM68.6 508.0h0.8v0.8h-0.8zM73.7 494.0h0.8v0.8h-0.8zM68.1 496.5h0.8v0.8h-0.8zM64.3 498.4h0.8v0.8h-0.8zM83.3 501.7h0.8v0.8h-0.8zM60.6 513.4h0.8v0.8h-0.8zM64.5 500.6h0.8v0.8h-0.8zM74.8 503.7h0.8v0.8h-0.8zM71.2 502.2h0.8v0.8h-0.8zM95.7 500.5h0.8v0.8h-0.8zM63.6 501.6h0.8v0.8h-0.8zM66.4 498.2h0.8v0.8h-0.8zM76.4 501.6h0.8v0.8h-0.8zM71.6 504.1h0.8v0.8h-0.8zM72.6 493.7h0.8v0.8h-0.8zM83.3 498.3h0.8v0.8h-0.8zM86.7 496.9h0.8v0.8h-0.8zM80.3 501.5h0.8v0.8h-0.8zM63.2 506.8h0.8v0.8h-0.8zM55.5 504.4h0.8v0.8h-0.8zM85.5 502.4h0.8v0.8h-0.8zM81.3 497.6h0.8v0.8h-0.8zM74.4 501.1h0.8v0.8h-0.8zM78.7 503.4h0.8v0.8h-0.8zM72.4 496.6h0.8v0.8h-0.8zM68.8 502.0h0.8v0.8h-0.8zM57.8 494.0h0.8v0.8h-0.8zM70.3 497.3h0.8v0.8h-0.8zM71.8 487.2h0.8v0.8h-0.8zM71.1 498.8h0.8v0.8h-0.8zM82.3 490.5h0.8v0.8h-0.8zM71.4 502.3h0.8v0.8h-0.8zM79.4 505.7h0.8v0.8h-0.8zM85.1 495.0h0.8v0.8h-0.8zM80.9 498.4h0.8v0.8h-0.8zM66.4 507.4h0.8v0.8h-0.8zM68.1 495.9h0.8v0.8h-0.8zM70.4 495.9h0.8v0.8h-0.8zM84.7 501.8h0.8v0.8h-0.8zM88.6 502.0h0.8v0.8h-0.8zM68.3 505.0h0.8v0.8h-0.8zM67.9 497.8h0.8v0.8h-0.8zM72.8 500.2h0.8v0.8h-0.8zM86.6 497.1h0.8v0.8h-0.8zM78.1 499.9h0.8v0.8h-0.8zM61.8 494.7h0.8v0.8h-0.8zM72.3 501.9h0.8v0.8h-0.8zM77.7 502.3h0.8v0.8h-0.8zM75.0 497.8h0.8v0.8h-0.8zM78.8 495.2h0.8v0.8h-0.8zM60.9 498.4h0.8v0.8h-0.8zM60.0 497.5h0.8v0.8h-0.8zM66.9 497.3h0.8v0.8h-0.8zM74.0 496.1h0.8v0.8h-0.8zM70.2 491.8h0.8v0.8h-0.8zM76.0 495.8h0.8v0.8h-0.8zM78.6 486.4h0.8v0.8h-0.8zM66.4 501.2h0.8v0.8h-0.8zM49.8 498.3h0.8v0.8h-0.8zM75.5 500.5h0.8v0.8h-0.8zM59.4 501.1h0.8v0.8h-0.8zM76.0 495.3h0.8v0.8h-0.8zM82.0 499.8h0.8v0.8h-0.8zM74.7 497.8h0.8v0.8h-0.8zM80.0 500.5h0.8v0.8h-0.8zM86.0 502.2h0.8v0.8h-0.8zM68.2 498.9h0.8v0.8h-0.8zM83.8 498.2h0.8v0.8h-0.8zM78.4 502.5h0.8v0.8h-0.8zM72.7 488.8h0.8v0.8h-0.8zM75.8 501.0h0.8v0.8h-0.8zM75.9 496.3h0.8v0.8h-0.8zM86.8 499.3h0.8v0.8h-0.8zM68.2 496.5h0.8v0.8h-0.8zM78.1 494.7h0.8v0.8h-0.8zM64.3 509.7h0.8v0.8h-0.8zM87.8 505.1h0.8v0.8h-0.8zM88.4 502.9h0.8v0.8h-0.8zM57.4 505.8h0.8v0.8h-0.8zM87.1 502.4h0.8v0.8h-0.8zM54.6 506.0h0.8v0.8h-0.8zM88.4 497.6h0.8v0.8h-0.8zM75.8 503.8h0.8v0.8h-0.8zM73.6 505.3h0.8v0.8h-0.8zM75.3 503.3h0.8v0.8h-0.8zM75.4 492.8h0.8v0.8h-0.8zM64.4 515.3h0.8v0.8h-0.8zM77.3 506.3h0.8v0.8h-0.8zM86.1 508.3h0.8v0.8h-0.8zM80.1 497.1h0.8v0.8h-0.8zM74.7 490.7h0.8v0.8h-0.8zM72.6 504.4h0.8v0.8h-0.8zM52.5 501.0h0.8v0.8h-0.8zM82.9 506.4h0.8v0.8h-0.8zM65.1 496.8h0.8v0.8h-0.8zM55.4 495.1h0.8v0.8h-0.8zM79.9 510.0h0.8v0.8h-0.8zM62.8 506.7h0.8v0.8h-0.8zM78.9 497.6h0.8v0.8h-0.8zM96.9 487.8h0.8v0.8h-0.8zM73.8 501.1h0.8v0.8h-0.8zM96.2 508.7h0.8v0.8h-0.8zM97.6 500.7h0.8v0.8h-0.8zM84.5 506.6h0.8v0.8h-0.8zM79.7 501.7h0.8v0.8h-0.8zM72.6 498.0h0.8v0.8h-0.8zM62.0 509.5h0.8v0.8h-0.8zM69.9 489.9h0.8v0.8h-0.8zM77.2 499.8h0.8v0.8h-0.8zM76.3 508.8h0.8v0.8h-0.8zM73.4 498.7h0.8v0.8h-0.8zM66.9 499.9h0.8v0.8h-0.8zM70.0 501.0h0.8v0.8h-0.8zM65.8 509.4h0.8v0.8h-0.8zM83.3 504.0h0.8v0.8h-0.8zM81.8 504.0h0.8v0.8h-0.8zM81.4 506.9h0.8v0.8h-0.8zM84.8 506.6h0.8v0.8h-0.8zM69.4 500.0h0.8v0.8h-0.8zM67.1 504.7h0.8v0.8h-0.8zM83.0 497.7h0.8v0.8h-0.8zM80.5 512.8h0.8v0.8h-0.8zM87.1 494.6h0.8v0.8h-0.8zM73.6 503.1h0.8v0.8h-0.8zM74.1 501.9h0.8v0.8h-0.8zM86.6 501.6h0.8v0.8h-0.8zM63.3 503.5h0.8v0.8h-0.8zM73.5 500.6h0.8v0.8h-0.8zM68.7 493.3h0.8v0.8h-0.8zM61.8 498.3h0.8v0.8h-0.8zM63.6 486.8h0.8v0.8h-0.8zM86.2 494.3h0.8v0.8h-0.8zM67.1 502.6h0.8v0.8h-0.8zM49.9 506.5h0.8v0.8h-0.8zM66.6 503.2h0.8v0.8h-0.8zM69.6 501.5h0.8v0.8h-0.8zM75.6 500.0h0.8v0.8h-0.8zM55.8 492.8h0.8v0.8h-0.8zM74.1 506.9h0.8v0.8h-0.8zM68.9 502.6h0.8v0.8h-0.8zM76.2 502.4h0.8v0.8h-0.8zM84.6 492.7h0.8v0.8h-0.8zM77.3 499.1h0.8v0.8h-0.8zM71.3 495.8h0.8v0.8h-0.8zM66.5 495.0h0.8v0.8h-0.8zM63.3 512.2h0.8v0.8h-0.8zM91.9 500.0h0.8v0.8h-0.8zM82.1 495.2h0.8v0.8h-0.8zM75.9 507.0h0.8v0.8h-0.8zM74.1 495.1h0.8v0.8h-0.8zM72.0 495.1h0.8v0.8h-0.8zM60.2 498.9h0.8v0.8h-0.8zM70.4 496.0h0.8v0.8h-0.8zM65.4 495.5h0.8v0.8h-0.8zM76.9 506.8h0.8v0.8h-0.8zM72.3 510.9h0.8v0.8h-0.8zM57.9 501.3h0.8v0.8h-0.8zM62.7 499.2h0.8v0.8h-0.8zM75.5 502.7h0.8v0.8h-0.8zM86.1 497.3h0.8v0.8h-0.8zM61.8 499.1h0.8v0.8h-0.8zM77.5 496.6h0.8v0.8h-0.8zM83.6 508.2h0.8v0.8h-0.8zM59.9 501.8h0.8v0.8h-0.8zM84.9 490.6h0.8v0.8h-0.8zM76.6 498.9h0.8v0.8h-0.8zM59.9 506.4h0.8v0.8h-0.8zM76.7 497.7h0.8v0.8h-0.8zM79.0 503.1h0.8v0.8h-0.8zM82.4 502.8h0.8v0.8h-0.8zM78.7 494.3h0.8v0.8h-0.8zM70.2 500.6h0.8v0.8h-0.8zM70.6 494.9h0.8v0.8h-0.8zM55.9 501.2h0.8v0.8h-0.8zM74.8 497.2h0.8v0.8h-0.8zM70.2 495.7h0.8v0.8h-0.8zM66.8 499.5h0.8v0.8h-0.8zM67.9 503.3h0.8v0.8h-0.8zM73.0 500.6h0.8v0.8h-0.8zM78.6 506.2h0.8v0.8h-0.8zM80.7 501.1h0.8v0.8h-0.8zM72.8 496.1h0.8v0.8h-0.8zM71.0 503.3h0.8v0.8h-0.8zM76.8 498.1h0.8v0.8h-0.8zM60.9 492.5h0.8v0.8h-0.8zM77.8 505.0h0.8v0.8h-0.8zM78.3 493.3h0.8v0.8h-0.8zM72.3 501.1h0.8v0.8h-0.8zM65.1 501.7h0.8v0.8h-0.8zM72.5 495.9h0.8v0.8h-0.8zM61.8 504.0h0.8v0.8h-0.8zM78.2 495.7h0.8v0.8h-0.8zM64.1 504.3h0.8v0.8h-0.8zM80.6 498.5h0.8v0.8h-0.8zM90.8 498.6h0.8v0.8h-0.8zM63.7 505.3h0.8v0.8h-0.8zM72.6 501.7h0.8v0.8h-0.8zM74.9 495.1h0.8v0.8h-0.8zM62.4 499.1h0.8v0.8h-0.8zM88.9 495.1h0.8v0.8h-0.8zM88.4 501.1h0.8v0.8h-0.8zM63.1 501.3h0.8v0.8h-0.8zM80.3 495.6h0.8v0.8h-0.8zM52.7 501.7h0.8v0.8h-0.8zM63.2 502.1h0.8v0.8h-0.8zM55.0 499.3h0.8v0.8h-0.8zM66.2 492.8h0.8v0.8h-0.8zM72.0 500.8h0.8v0.8h-0.8zM68.8 494.3h0.8v0.8h-0.8zM76.7 491.5h0.8v0.8h-0.8zM80.0 502.4h0.8v0.8h-0.8zM91.6 504.3h0.8v0.8h-0.8zM78.1 501.3h0.8v0.8h-0.8zM74.8 493.6h0.8v0.8h-0.8zM89.4 502.6h0.8v0.8h-0.8zM71.6 494.4h0.8v0.8h-0.8zM89.6 502.6h0.8v0.8h-0.8zM62.4 503.3h0.8v0.8h-0.8zM93.8 499.9h0.8v0.8h-0.8zM78.6 498.0h0.8v0.8h-0.8zM68.1 505.2h0.8v0.8h-0.8zM73.2 503.9h0.8v0.8h-0.8zM71.4 503.5h0.8v0.8h-0.8zM83.0 495.1h0.8v0.8h-0.8zM63.6 499.6h0.8v0.8h-0.8zM83.0 501.3h0.8v0.8h-0.8zM87.2 493.3h0.8v0.8h-0.8zM79.5 497.0h0.8v0.8h-0.8zM75.5 501.6h0.8v0.8h-0.8zM64.6 498.9h0.8v0.8h-0.8zM62.6 501.3h0.8v0.8h-0.8zM65.8 497.6h0.8v0.8h-0.8zM76.7 496.8h0.8v0.8h-0.8zM86.2 496.9h0.8v0.8h-0.8zM83.2 501.4h0.8v0.8h-0.8zM64.0 498.9h0.8v0.8h-0.8zM66.0 498.2h0.8v0.8h-0.8zM71.7 508.8h0.8v0.8h-0.8zM70.2 507.6h0.8v0.8h-0.8zM79.1 493.7h0.8v0.8h-0.8zM51.0 503.3h0.8v0.8h-0.8zM54.2 503.5h0.8v0.8h-0.8zM85.0 501.9h0.8v0.8h-0.8zM72.4 498.8h0.8v0.8h-0.8zM77.1 498.5h0.8v0.8h-0.8zM69.1 498.2h0.8v0.8h-0.8zM86.4 497.0h0.8v0.8h-0.8zM78.4 494.4h0.8v0.8h-0.8zM67.3 493.3h0.8v0.8h-0.8zM72.5 503.3h0.8v0.8h-0.8zM77.6 497.6h0.8v0.8h-0.8zM80.7 498.3h0.8v0.8h-0.8zM78.3 501.3h0.8v0.8h-0.8zM80.0 488.0h0.8v0.8h-0.8zM61.3 503.7h0.8v0.8h-0.8zM73.4 510.9h0.8v0.8h-0.8zM72.1 497.3h0.8v0.8h-0.8zM89.7 502.7h0.8v0.8h-0.8zM93.8 502.5h0.8v0.8h-0.8zM72.4 503.5h0.8v0.8h-0.8zM66.5 497.8h0.8v0.8h-0.8zM68.9 498.9h0.8v0.8h-0.8zM82.4 497.7h0.8v0.8h-0.8zM77.8 497.6h0.8v0.8h-0.8zM83.5 486.7h0.8v0.8h-0.8zM72.4 500.8h0.8v0.8h-0.8zM63.5 504.9h0.8v0.8h-0.8zM76.7 506.2h0.8v0.8h-0.8zM84.3 503.1h0.8v0.8h-0.8zM73.0 494.7h0.8v0.8h-0.8zM72.3 497.8h0.8v0.8h-0.8zM77.0 497.8h0.8v0.8h-0.8zM86.4 497.7h0.8v0.8h-0.8zM72.0 504.5h0.8v0.8h-0.8zM74.5 494.1h0.8v0.8h-0.8zM78.7 499.1h0.8v0.8h-0.8zM53.6 501.0h0.8v0.8h-0.8zM63.8 496.4h0.8v0.8h-0.8zM79.4 501.4h0.8v0.8h-0.8zM71.6 510.5h0.8v0.8h-0.8zM78.8 497.0h0.8v0.8h-0.8zM76.9 499.4h0.8v0.8h-0.8zM52.2 492.4h0.8v0.8h-0.8zM60.4 510.0h0.8v0.8h-0.8zM72.6 498.7h0.8v0.8h-0.8zM68.8 504.7h0.8v0.8h-0.8zM74.8 508.2h0.8v0.8h-0.8zM82.5 507.9h0.8v0.8h-0.8zM73.3 501.8h0.8v0.8h-0.8zM70.1 499.2h0.8v0.8h-0.8zM57.0 497.2h0.8v0.8h-0.8zM64.9 496.9h0.8v0.8h-0.8zM86.8 501.3h0.8v0.8h-0.8zM86.9 504.1h0.8v0.8h-0.8zM83.8 504.8h0.8v0.8h-0.8zM68.4 503.9h0.8v0.8h-0.8zM71.2 497.4h0.8v0.8h-0.8zM86.6 510.4h0.8v0.8h-0.8zM64.6 508.4h0.8v0.8h-0.8zM82.9 495.9h0.8v0.8h-0.8zM77.3 501.8h0.8v0.8h-0.8zM78.3 498.3h0.8v0.8h-0.8zM61.5 500.2h0.8v0.8h-0.8zM83.2 503.8h0.8v0.8h-0.8zM81.2 505.3h0.8v0.8h-0.8zM64.5 499.8h0.8v0.8h-0.8zM77.9 504.8h0.8v0.8h-0.8zM76.1 502.5h0.8v0.8h-0.8zM75.9 510.1h0.8v0.8h-0.8zM52.4 499.9h0.8v0.8h-0.8zM99.5 501.1h0.8v0.8h-0.8zM56.0 500.6h0.8v0.8h-0.8zM60.0 496.7h0.8v0.8h-0.8zM76.8 508.3h0.8v0.8h-0.8zM79.2 503.2h0.8v0.8h-0.8zM84.8 501.0h0.8v0.8h-0.8zM65.8 499.5h0.8v0.8h-0.8zM77.9 498.7h0.8v0.8h-0.8zM67.7 498.3h0.8v0.8h-0.8zM59.3 495.1h0.8v0.8h-0.8zM73.6 498.3h0.8v0.8h-0.8zM74.9 506.8h0.8v0.8h-0.8zM77.5 499.8h0.8v0.8h-0.8zM62.6 494.8h0.8v0.8h-0.8zM78.3 495.8h0.8v0.8h-0.8zM78.8 494.8h0.8v0.8h-0.8zM75.9 499.6h0.8v0.8h-0.8zM84.6 498.1h0.8v0.8h-0.8zM70.7 501.2h0.8v0.8h-0.8zM75.1 508.1h0.8v0.8h-0.8zM71.9 497.4h0.8v0.8h-0.8zM71.3 502.3h0.8v0.8h-0.8zM76.9 503.3h0.8v0.8h-0.8zM60.5 511.9h0.8v0.8h-0.8zM93.1 499.8h0.8v0.8h-0.8zM62.3 500.7h0.8v0.8h-0.8zM78.7 489.3h0.8v0.8h-0.8zM74.6 492.9h0.8v0.8h-0.8zM79.1 506.6h0.8v0.8h-0.8zM84.9 492.8h0.8v0.8h-0.8zM88.5 504.4h0.8v0.8h-0.8zM70.9 502.4h0.8v0.8h-0.8zM89.8 498.4h0.8v0.8h-0.8zM74.3 497.3h0.8v0.8h-0.8zM86.2 489.6h0.8v0.8h-0.8zM88.8 495.3h0.8v0.8h-0.8zM83.9 492.2h0.8v0.8h-0.8zM65.0 497.1h0.8v0.8h-0.8zM82.9 492.2h0.8v0.8h-0.8zM80.6 496.9h0.8v0.8h-0.8zM87.0 498.5h0.8v0.8h-0.8zM79.4 499.2h0.8v0.8h-0.8zM92.6 498.3h0.8v0.8h-0.8zM74.2 509.5h0.8v0.8h-0.8zM75.3 503.3h0.8v0.8h-0.8zM67.1 501.0h0.8v0.8h-0.8zM51.6 500.5h0.8v0.8h-0.8zM68.0 492.8h0.8v0.8h-0.8zM60.2 505.5h0.8v0.8h-0.8zM78.8 492.7h0.8v0.8h-0.8zM92.8 496.7h0.8v0.8h-0.8zM70.8 501.2h0.8v0.8h-0.8zM63.0 492.2h0.8v0.8h-0.8zM67.0 505.7h0.8v0.8h-0.8zM84.1 492.4h0.8v0.8h-0.8zM86.7 500.2h0.8v0.8h-0.8zM79.6 500.2h0.8v0.8h-0.8zM78.7 495.2h0.8v0.8h-0.8zM65.3 496.6h0.8v0.8h-0.8zM70.8 503.0h0.8v0.8h-0.8zM62.2 507.7h0.8v0.8h-0.8zM68.1 497.2h0.8v0.8h-0.8zM81.6 502.1h0.8v0.8h-0.8zM71.1 494.9h0.8v0.8h-0.8zM64.4 492.3h0.8v0.8h-0.8zM86.1 505.2h0.8v0.8h-0.8zM93.4 502.4h0.8v0.8h-0.8zM77.9 503.6h0.8v0.8h-0.8zM84.1 498.8h0.8v0.8h-0.8zM78.1 510.4h0.8v0.8h-0.8zM57.4 493.2h0.8v0.8h-0.8zM64.8 503.6h0.8v0.8h-0.8zM86.5 498.4h0.8v0.8h-0.8zM81.3 499.8h0.8v0.8h-0.8zM77.5 497.4h0.8v0.8h-0.8zM74.2 500.0h0.8v0.8h-0.8zM85.9 510.7h0.8v0.8h-0.8zM56.2 502.6h0.8v0.8h-0.8zM74.5 504.7h0.8v0.8h-0.8zM85.2 503.8h0.8v0.8h-0.8zM82.7 495.4h0.8v0.8h-0.8zM57.3 508.0h0.8v0.8h-0.8zM86.7 495.4h0.8v0.8h-0.8zM87.5 503.2h0.8v0.8h-0.8zM49.7 504.3h0.8v0.8h-0.8zM64.5 505.6h0.8v0.8h-0.8zM67.6 496.4h0.8v0.8h-0.8zM58.9 499.0h0.8v0.8h-0.8zM84.8 496.8h0.8v0.8h-0.8zM55.7 510.3h0.8v0.8h-0.8zM93.2 503.3h0.8v0.8h-0.8zM69.1 494.2h0.8v0.8h-0.8zM57.9 502.7h0.8v0.8h-0.8zM87.6 494.9h0.8v0.8h-0.8zM74.5 498.7h0.8v0.8h-0.8zM71.9 502.4h0.8v0.8h-0.8zM95.7 496.9h0.8v0.8h-0.8zM83.1 505.2h0.8v0.8h-0.8zM71.6 499.3h0.8v0.8h-0.8zM60.9 505.2h0.8v0.8h-0.8zM69.1 496.8h0.8v0.8h-0.8zM75.2 495.9h0.8v0.8h-0.8zM64.0 498.6h0.8v0.8h-0.8zM89.5 499.0h0.8v0.8h-0.8zM79.8 492.9h0.8v0.8h-0.8zM54.8 508.8h0.8v0.8h-0.8zM70.5 492.6h0.8v0.8h-0.8zM73.4 502.9h0.8v0.8h-0.8zM57.0 495.7h0.8v0.8h-0.8zM77.1 495.6h0.8v0.8h-0.8zM82.6 504.6h0.8v0.8h-0.8zM79.0 497.9h0.8v0.8h-0.8zM74.0 496.9h0.8v0.8h-0.8zM73.2 501.5h0.8v0.8h-0.8zM71.5 504.7h0.8v0.8h-0.8zM100.8 497.4h0.8v0.8h-0.8zM78.0 504.0h0.8v0.8h-0.8zM81.0 498.9h0.8v0.8h-0.8zM69.6 504.8h0.8v0.8h-0.8zM80.8 502.4h0.8v0.8h-0.8zM66.4 503.0h0.8v0.8h-0.8zM82.6 499.1h0.8v0.8h-0.8zM81.1 510.5h0.8v0.8h-0.8zM55.5 502.9h0.8v0.8h-0.8zM62.6 493.4h0.8v0.8h-0.8zM72.1 502.6h0.8v0.8h-0.8zM75.0 494.4h0.8v0.8h-0.8zM59.9 497.3h0.8v0.8h-0.8zM74.6 496.0h0.8v0.8h-0.8zM59.2 508.5h0.8v0.8h-0.8zM66.0 499.2h0.8v0.8h-0.8zM68.9 497.2h0.8v0.8h-0.8zM74.9 498.6h0.8v0.8h-0.8zM80.8 494.3h0.8v0.8h-0.8zM59.4 509.4h0.8v0.8h-0.8zM73.7 503.7h0.8v0.8h-0.8zM86.5 502.7h0.8v0.8h-0.8zM74.9 492.5h0.8v0.8h-0.8zM58.2 504.7h0.8v0.8h-0.8zM81.4 502.8h0.8v0.8h-0.8zM57.6 489.7h0.8v0.8h-0.8zM63.8 494.3h0.8v0.8h-0.8zM76.1 495.1h0.8v0.8h-0.8zM90.6 497.0h0.8v0.8h-0.8zM68.8 504.2h0.8v0.8h-0.8zM77.8 495.6h0.8v0.8h-0.8zM82.9 509.3h0.8v0.8h-0.8zM62.0 498.8h0.8v0.8h-0.8zM63.5 490.6h0.8v0.8h-0.8zM80.9 503.4h0.8v0.8h-0.8zM84.4 502.1h0.8v0.8h-0.8zM54.0 499.9h0.8v0.8h-0.8zM67.7 494.3h0.8v0.8h-0.8zM63.2 503.7h0.8v0.8h-0.8zM71.5 509.5h0.8v0.8h-0.8zM79.3 490.7h0.8v0.8h-0.8zM83.6 506.1h0.8v0.8h-0.8zM74.8 494.1h0.8v0.8h-0.8zM92.5 493.6h0.8v0.8h-0.8zM73.6 490.7h0.8v0.8h-0.8zM61.7 491.7h0.8v0.8h-0.8zM85.6 505.7h0.8v0.8h-0.8zM70.4 493.4h0.8v0.8h-0.8zM73.9 501.8h0.8v0.8h-0.8zM58.9 494.4h0.8v0.8h-0.8zM73.5 503.4h0.8v0.8h-0.8zM75.3 502.2h0.8v0.8h-0.8zM61.7 487.9h0.8v0.8h-0.8zM77.7 495.5h0.8v0.8h-0.8zM73.2 498.2h0.8v0.8h-0.8zM79.4 496.2h0.8v0.8h-0.8zM89.3 500.2h0.8v0.8h-0.8zM79.9 503.1h0.8v0.8h-0.8zM85.1 502.0h0.8v0.8h-0.8zM56.6 496.9h0.8v0.8h-0.8zM93.6 502.3h0.8v0.8h-0.8zM80.3 502.3h0.8v0.8h-0.8zM67.9 496.7h0.8v0.8h-0.8zM67.9 505.7h0.8v0.8h-0.8zM78.2 508.7h0.8v0.8h-0.8zM79.6 509.2h0.8v0.8h-0.8zM79.2 494.2h0.8v0.8h-0.8zM92.4 501.7h0.8v0.8h-0.8zM86.7 501.1h0.8v0.8h-0.8zM71.1 500.8h0.8v0.8h-0.8zM63.0 494.1h0.8v0.8h-0.8zM65.4 497.4h0.8v0.8h-0.8zM60.5 499.5h0.8v0.8h-0.8zM77.6 509.9h0.8v0.8h-0.8zM93.5 499.8h0.8v0.8h-0.8zM83.6 498.9h0.8v0.8h-0.8zM78.5 499.8h0.8v0.8h-0.8zM68.9 500.4h0.8v0.8h-0.8zM59.3 502.2h0.8v0.8h-0.8zM71.5 494.7h0.8v0.8h-0.8zM70.8 502.7h0.8v0.8h-0.8zM67.5 502.3h0.8v0.8h-0.8zM80.4 507.7h0.8v0.8h-0.8zM63.3 499.5h0.8v0.8h-0.8zM79.8 507.4h0.8v0.8h-0.8zM77.2 503.7h0.8v0.8h-0.8zM59.3 497.1h0.8v0.8h-0.8zM91.7 498.6h0.8v0.8h-0.8zM96.9 496.4h0.8v0.8h-0.8zM71.6 492.1h0.8v0.8h-0.8zM81.1 501.3h0.8v0.8h-0.8zM95.4 500.8h0.8v0.8h-0.8zM71.9 493.1h0.8v0.8h-0.8zM73.6 504.7h0.8v0.8h-0.8zM82.2 506.1h0.8v0.8h-0.8zM83.5 499.8h0.8v0.8h-0.8zM80.8 500.9h0.8v0.8h-0.8zM60.7 508.4h0.8v0.8h-0.8zM78.4 494.8h0.8v0.8h-0.8zM78.5 501.4h0.8v0.8h-0.8zM84.8 507.1h0.8v0.8h-0.8zM90.4 495.3h0.8v0.8h-0.8zM55.2 501.4h0.8v0.8h-0.8zM78.0 501.7h0.8v0.8h-0.8zM63.0 497.7h0.8v0.8h-0.8zM76.5 503.7h0.8v0.8h-0.8zM97.3 501.5h0.8v0.8h-0.8zM68.2 488.3h0.8v0.8h-0.8zM85.7 499.3h0.8v0.8h-0.8zM73.4 495.1h0.8v0.8h-0.8zM82.1 491.1h0.8v0.8h-0.8zM75.6 500.6h0.8v0.8h-0.8zM77.6 506.5h0.8v0.8h-0.8zM73.5 500.5h0.8v0.8h-0.8zM83.4 492.3h0.8v0.8h-0.8zM71.5 500.3h0.8v0.8h-0.8zM84.4 496.0h0.8v0.8h-0.8zM82.9 501.9h0.8v0.8h-0.8zM59.0 492.7h0.8v0.8h-0.8zM59.6 500.7h0.8v0.8h-0.8zM76.7 503.6h0.8v0.8h-0.8zM83.1 497.3h0.8v0.8h-0.8zM85.7 504.1h0.8v0.8h-0.8zM79.4 502.4h0.8v0.8h-0.8zM61.1 501.8h0.8v0.8h-0.8zM63.7 494.1h0.8v0.8h-0.8zM70.9 500.7h0.8v0.8h-0.8zM73.9 498.4h0.8v0.8h-0.8zM64.1 500.9h0.8v0.8h-0.8zM66.8 493.0h0.8v0.8h-0.8zM75.5 507.2h0.8v0.8h-0.8zM70.3 494.7h0.8v0.8h-0.8zM89.0 508.5h0.8v0.8h-0.8zM71.4 499.0h0.8v0.8h-0.8zM76.7 514.7h0.8v0.8h-0.8zM75.9 504.9h0.8v0.8h-0.8zM79.1 490.9h0.8v0.8h-0.8zM63.0 493.9h0.8v0.8h-0.8zM79.0 500.5h0.8v0.8h-0.8zM93.2 498.7h0.8v0.8h-0.8zM77.7 500.4h0.8v0.8h-0.8zM76.0 511.5h0.8v0.8h-0.8zM77.5 507.3h0.8v0.8h-0.8zM88.1 497.0h0.8v0.8h-0.8zM81.7 498.1h0.8v0.8h-0.8zM75.6 500.8h0.8v0.8h-0.8zM74.7 497.7h0.8v0.8h-0.8zM90.8 498.7h0.8v0.8h-0.8zM81.9 508.4h0.8v0.8h-0.8zM81.1 505.1h0.8v0.8h-0.8zM89.0 505.4h0.8v0.8h-0.8zM92.5 492.9h0.8v0.8h-0.8zM95.0 500.1h0.8v0.8h-0.8zM56.2 496.8h0.8v0.8h-0.8zM59.9 499.9h0.8v0.8h-0.8zM58.9 495.0h0.8v0.8h-0.8zM77.6 500.8h0.8v0.8h-0.8zM66.1 498.8h0.8v0.8h-0.8zM73.5 500.4h0.8v0.8h-0.8zM74.4 498.9h0.8v0.8h-0.8zM83.7 492.0h0.8v0.8h-0.8zM69.3 500.7h0.8v0.8h-0.8zM70.3 497.2h0.8v0.8h-0.8zM69.9 501.0h0.8v0.8h-0.8zM87.6 499.1h0.8v0.8h-0.8zM71.7 501.8h0.8v0.8h-0.8zM72.0 490.3h0.8v0.8h-0.8zM77.3 498.1h0.8v0.8h-0.8zM68.5 503.1h0.8v0.8h-0.8zM75.0 497.2h0.8v0.8h-0.8zM51.7 491.4h0.8v0.8h-0.8zM74.6 499.4h0.8v0.8h-0.8zM79.1 501.1h0.8v0.8h-0.8zM69.5 493.7h0.8v0.8h-0.8zM63.0 499.3h0.8v0.8h-0.8zM62.4 503.8h0.8v0.8h-0.8zM60.6 491.0h0.8v0.8h-0.8zM72.5 491.1h0.8v0.8h-0.8zM91.6 495.0h0.8v0.8h-0.8zM74.0 498.8h0.8v0.8h-0.8zM65.9 491.2h0.8v0.8h-0.8zM55.0 504.3h0.8v0.8h-0.8zM85.2 510.8h0.8v0.8h-0.8zM59.1 502.8h0.8v0.8h-0.8zM74.4 504.2h0.8v0.8h-0.8zM69.1 503.6h0.8v0.8h-0.8zM83.9 503.0h0.8v0.8h-0.8zM89.7 499.1h0.8v0.8h-0.8zM90.7 496.5h0.8v0.8h-0.8zM92.0 486.3h0.8v0.8h-0.8zM74.6 496.0h0.8v0.8h-0.8zM74.5 505.2h0.8v0.8h-0.8zM82.0 500.5h0.8v0.8h-0.8zM92.4 492.6h0.8v0.8h-0.8zM66.0 507.5h0.8v0.8h-0.8zM77.9 489.6h0.8v0.8h-0.8zM78.1 494.1h0.8v0.8h-0.8zM90.0 505.7h0.8v0.8h-0.8zM68.8 506.5h0.8v0.8h-0.8zM65.7 504.6h0.8v0.8h-0.8zM80.6 499.4h0.8v0.8h-0.8zM59.6 498.6h0.8v0.8h-0.8zM50.5 497.2h0.8v0.8h-0.8zM55.1 506.1h0.8v0.8h-0.8zM64.4 487.8h0.8v0.8h-0.8zM80.6 501.8h0.8v0.8h-0.8zM69.2 510.6h0.8v0.8h-0.8zM82.6 500.3h0.8v0.8h-0.8zM67.7 485.2h0.8v0.8h-0.8zM79.5 504.8h0.8v0.8h-0.8zM68.3 492.9h0.8v0.8h-0.8zM74.1 491.6h0.8v0.8h-0.8zM74.6 503.9h0.8v0.8h-0.8zM90.4 501.3h0.8v0.8h-0.8zM76.6 503.7h0.8v0.8h-0.8zM89.2 498.4h0.8v0.8h-0.8zM61.6 496.0h0.8v0.8h-0.8zM61.3 495.6h0.8v0.8h-0.8zM73.2 501.7h0.8v0.8h-0.8zM76.1 500.3h0.8v0.8h-0.8zM70.8 502.1h0.8v0.8h-0.8zM83.8 503.8h0.8v0.8h-0.8zM90.2 498.5h0.8v0.8h-0.8zM71.9 508.5h0.8v0.8h-0.8zM76.6 502.1h0.8v0.8h-0.8zM71.0 504.8h0.8v0.8h-0.8zM70.3 495.0h0.8v0.8h-0.8zM73.9 497.8h0.8v0.8h-0.8zM83.3 498.1h0.8v0.8h-0.8zM75.8 498.9h0.8v0.8h-0.8zM78.1 496.8h0.8v0.8h-0.8zM86.1 492.9h0.8v0.8h-0.8zM70.5 496.5h0.8v0.8h-0.8zM81.3 500.2h0.8v0.8h-0.8zM79.6 498.3h0.8v0.8h-0.8zM67.0 494.4h0.8v0.8h-0.8zM71.0 497.3h0.8v0.8h-0.8zM77.4 501.8h0.8v0.8h-0.8zM84.8 499.5h0.8v0.8h-0.8zM66.6 494.7h0.8v0.8h-0.8zM75.1 501.8h0.8v0.8h-0.8zM95.0 500.9h0.8v0.8h-0.8zM93.0 509.4h0.8v0.8h-0.8zM63.5 506.1h0.8v0.8h-0.8zM86.4 506.7h0.8v0.8h-0.8zM74.4 504.8h0.8v0.8h-0.8zM69.4 499.6h0.8v0.8h-0.8zM74.7 508.9h0.8v0.8h-0.8zM72.2 504.8h0.8v0.8h-0.8zM75.2 496.5h0.8v0.8h-0.8zM77.0 503.3h0.8v0.8h-0.8zM67.0 503.2h0.8v0.8h-0.8zM67.0 495.6h0.8v0.8h-0.8zM76.8 498.8h0.8v0.8h-0.8zM64.2 491.9h0.8v0.8h-0.8zM74.7 501.2h0.8v0.8h-0.8zM69.7 500.9h0.8v0.8h-0.8zM58.5 502.0h0.8v0.8h-0.8zM78.9 501.4h0.8v0.8h-0.8zM68.1 500.4h0.8v0.8h-0.8zM75.9 505.3h0.8v0.8h-0.8zM77.4 501.3h0.8v0.8h-0.8zM66.9 504.3h0.8v0.8h-0.8zM86.8 497.5h0.8v0.8h-0.8zM81.2 501.5h0.8v0.8h-0.8zM74.0 493.6h0.8v0.8h-0.8zM92.9 490.7h0.8v0.8h-0.8zM77.7 498.1h0.8v0.8h-0.8zM86.5 497.9h0.8v0.8h-0.8zM74.9 503.1h0.8v0.8h-0.8zM79.3 497.4h0.8v0.8h-0.8zM81.6 502.0h0.8v0.8h-0.8zM84.9 497.4h0.8v0.8h-0.8zM74.0 498.0h0.8v0.8h-0.8zM65.7 501.3h0.8v0.8h-0.8zM78.8 507.1h0.8v0.8h-0.8zM71.1 501.9h0.8v0.8h-0.8zM86.5 499.4h0.8v0.8h-0.8zM75.2 500.7h0.8v0.8h-0.8zM67.3 495.1h0.8v0.8h-0.8zM86.2 500.9h0.8v0.8h-0.8zM73.7 493.8h0.8v0.8h-0.8zM75.7 505.8h0.8v0.8h-0.8zM62.5 495.6h0.8v0.8h-0.8zM86.1 507.1h0.8v0.8h-0.8zM90.7 497.2h0.8v0.8h-0.8zM80.8 496.3h0.8v0.8h-0.8zM79.9 498.2h0.8v0.8h-0.8zM76.6 506.7h0.8v0.8h-0.8zM78.0 498.8h0.8v0.8h-0.8zM75.1 501.3h0.8v0.8h-0.8zM69.1 501.0h0.8v0.8h-0.8zM80.8 507.8h0.8v0.8h-0.8zM53.0 494.1h0.8v0.8h-0.8zM61.6 504.4h0.8v0.8h-0.8zM100.0 501.0h0.8v0.8h-0.8zM75.8 505.7h0.8v0.8h-0.8zM69.2 497.6h0.8v0.8h-0.8zM78.0 497.1h0.8v0.8h-0.8zM86.1 500.0h0.8v0.8h-0.8zM78.5 512.6h0.8v0.8h-0.8zM69.8 504.6h0.8v0.8h-0.8zM65.9 506.2h0.8v0.8h-0.8zM84.6 500.7h0.8v0.8h-0.8zM84.8 508.0h0.8v0.8h-0.8zM88.9 500.0h0.8v0.8h-0.8zM73.9 505.5h0.8v0.8h-0.8zM59.2 497.0h0.8v0.8h-0.8zM79.6 502.8h0.8v0.8h-0.8zM93.9 508.7h0.8v0.8h-0.8zM77.9 502.2h0.8v0.8h-0.8zM60.8 499.1h0.8v0.8h-0.8zM77.2 498.9h0.8v0.8h-0.8zM75.1 503.0h0.8v0.8h-0.8zM64.6 497.2h0.8v0.8h-0.8zM56.0 505.7h0.8v0.8h-0.8zM63.5 491.6h0.8v0.8h-0.8zM82.5 498.9h0.8v0.8h-0.8zM84.5 498.2h0.8v0.8h-0.8zM96.6 503.5h0.8v0.8h-0.8zM76.1 500.6h0.8v0.8h-0.8zM72.4 504.0h0.8v0.8h-0.8zM95.3 497.9h0.8v0.8h-0.8zM63.2 503.0h0.8v0.8h-0.8zM85.6 492.6h0.8v0.8h-0.8zM67.3 495.1h0.8v0.8h-0.8zM80.3 502.5h0.8v0.8h-0.8zM66.9 494.4h0.8v0.8h-0.8zM81.6 489.8h0.8v0.8h-0.8zM81.2 499.2h0.8v0.8h-0.8zM94.4 504.9h0.8v0.8h-0.8zM68.5 498.6h0.8v0.8h-0.8zM71.6 496.4h0.8v0.8h-0.8zM75.3 504.8h0.8v0.8h-0.8zM58.9 498.9h0.8v0.8h-0.8zM90.0 503.7h0.8v0.8h-0.8zM66.1 496.0h0.8v0.8h-0.8zM65.6 492.1h0.8v0.8h-0.8zM86.4 500.3h0.8v0.8h-0.8zM67.3 492.9h0.8v0.8h-0.8zM70.5 497.5h0.8v0.8h-0.8zM92.3 497.7h0.8v0.8h-0.8zM75.7 505.3h0.8v0.8h-0.8zM81.4 499.1h0.8v0.8h-0.8zM51.9 506.9h0.8v0.8h-0.8zM80.7 497.9h0.8v0.8h-0.8zM73.6 495.3h0.8v0.8h-0.8zM65.2 492.7h0.8v0.8h-0.8zM79.7 502.5h0.8v0.8h-0.8zM76.3 503.8h0.8v0.8h-0.8zM80.0 500.6h0.8v0.8h-0.8zM65.4 502.9h0.8v0.8h-0.8zM86.8 503.1h0.8v0.8h-0.8zM87.4 497.7h0.8v0.8h-0.8zM64.4 506.1h0.8v0.8h-0.8zM68.5 501.2h0.8v0.8h-0.8zM72.5 500.1h0.8v0.8h-0.8zM71.7 497.4h0.8v0.8h-0.8zM56.1 509.4h0.8v0.8h-0.8zM76.6 490.6h0.8v0.8h-0.8zM65.2 494.5h0.8v0.8h-0.8zM66.9 487.5h0.8v0.8h-0.8zM80.4 508.0h0.8v0.8h-0.8zM72.0 503.6h0.8v0.8h-0.8zM80.7 493.9h0.8v0.8h-0.8zM87.1 491.7h0.8v0.8h-0.8zM68.6 498.2h0.8v0.8h-0.8zM87.4 500.6h0.8v0.8h-0.8zM73.2 496.1h0.8v0.8h-0.8zM75.4 500.2h0.8v0.8h-0.8zM82.0 506.8h0.8v0.8h-0.8zM82.1 500.1h0.8v0.8h-0.8zM72.9 507.8h0.8v0.8h-0.8zM76.6 499.9h0.8v0.8h-0.8zM93.0 507.7h0.8v0.8h-0.8zM80.4 499.5h0.8v0.8h-0.8zM68.0 505.2h0.8v0.8h-0.8zM69.8 504.7h0.8v0.8h-0.8zM66.5 500.5h0.8v0.8h-0.8zM78.6 500.7h0.8v0.8h-0.8zM76.9 501.9h0.8v0.8h-0.8zM63.0 494.6h0.8v0.8h-0.8zM73.0 508.8h0.8v0.8h-0.8zM73.2 495.5h0.8v0.8h-0.8zM67.7 500.2h0.8v0.8h-0.8zM86.6 497.2h0.8v0.8h-0.8zM80.3 500.9h0.8v0.8h-0.8zM70.8 495.4h0.8v0.8h-0.8zM72.9 496.5h0.8v0.8h-0.8zM80.0 491.4h0.8v0.8h-0.8zM86.1 503.7h0.8v0.8h-0.8zM80.4 507.3h0.8v0.8h-0.8zM80.7 491.7h0.8v0.8h-0.8zM75.0 502.2h0.8v0.8h-0.8zM67.5 494.5h0.8v0.8h-0.8zM78.9 502.5h0.8v0.8h-0.8zM70.1 498.8h0.8v0.8h-0.8zM69.3 497.2h0.8v0.8h-0.8zM73.9 505.2h0.8v0.8h-0.8zM58.0 498.3h0.8v0.8h-0.8zM91.0 501.5h0.8v0.8h-0.8zM76.1 504.1h0.8v0.8h-0.8zM64.2 494.1h0.8v0.8h-0.8zM57.5 492.9h0.8v0.8h-0.8zM77.0 504.1h0.8v0.8h-0.8zM70.2 496.7h0.8v0.8h-0.8zM78.6 503.0h0.8v0.8h-0.8zM77.1 490.7h0.8v0.8h-0.8zM68.9 487.7h0.8v0.8h-0.8zM77.0 495.9h0.8v0.8h-0.8zM67.8 507.3h0.8v0.8h-0.8zM88.0 502.3h0.8v0.8h-0.8zM77.3 500.8h0.8v0.8h-0.8zM68.5 499.8h0.8v0.8h-0.8zM94.1 495.7h0.8v0.8h-0.8zM67.7 500.8h0.8v0.8h-0.8zM83.6 504.1h0.8v0.8h-0.8zM64.6 499.4h0.8v0.8h-0.8zM71.8 494.0h0.8v0.8h-0.8zM75.3 497.7h0.8v0.8h-0.8zM83.9 502.1h0.8v0.8h-0.8zM66.5 500.4h0.8v0.8h-0.8zM70.9 496.9h0.8v0.8h-0.8zM69.5 505.2h0.8v0.8h-0.8zM70.3 491.7h0.8v0.8h-0.8zM66.6 503.9h0.8v0.8h-0.8zM96.5 494.9h0.8v0.8h-0.8zM70.9 498.4h0.8v0.8h-0.8zM60.1 502.0h0.8v0.8h-0.8zM74.0 501.4h0.8v0.8h-0.8zM97.4 498.7h0.8v0.8h-0.8zM82.6 504.1h0.8v0.8h-0.8zM68.0 497.1h0.8v0.8h-0.8zM90.4 503.5h0.8v0.8h-0.8zM76.0 494.7h0.8v0.8h-0.8zM83.5 502.6h0.8v0.8h-0.8zM96.9 507.2h0.8v0.8h-0.8zM82.7 501.3h0.8v0.8h-0.8zM75.1 497.3h0.8v0.8h-0.8zM77.7 501.2h0.8v0.8h-0.8zM81.2 505.3h0.8v0.8h-0.8zM77.7 497.4h0.8v0.8h-0.8zM82.7 507.5h0.8v0.8h-0.8zM66.0 502.0h0.8v0.8h-0.8zM80.1 502.6h0.8v0.8h-0.8zM79.7 499.6h0.8v0.8h-0.8zM73.5 508.2h0.8v0.8h-0.8zM92.2 493.2h0.8v0.8h-0.8zM67.6 497.5h0.8v0.8h-0.8zM58.2 501.7h0.8v0.8h-0.8zM73.9 497.4h0.8v0.8h-0.8zM83.7 511.8h0.8v0.8h-0.8zM89.6 505.7h0.8v0.8h-0.8zM70.3 503.2h0.8v0.8h-0.8zM74.1 505.6h0.8v0.8h-0.8zM80.4 499.8h0.8v0.8h-0.8z" fill="#23902a"/>
<path d="M82.1 496.0h0.7v0.7h-0.7zM85.6 517.6h0.7v0.7h-0.7zM68.7 508.4h0.7v0.7h-0.7zM49.7 512.1h0.7v0.7h-0.7zM86.8 493.1h0.7v0.7h-0.7zM99.4 504.1h0.7v0.7h-0.7zM86.7 500.4h0.7v0.7h-0.7zM90.1 487.9h0.7v0.7h-0.7zM72.6 512.5h0.7v0.7h-0.7zM64.1 509.6h0.7v0.7h-0.7zM68.8 506.3h0.7v0.7h-0.7zM78.7 524.7h0.7v0.7h-0.7zM56.0 510.6h0.7v0.7h-0.7zM93.1 492.1h0.7v0.7h-0.7zM75.2 525.4h0.7v0.7h-0.7zM89.3 474.2h0.7v0.7h-0.7zM70.5 486.4h0.7v0.7h-0.7zM78.4 495.9h0.7v0.7h-0.7zM65.8 494.9h0.7v0.7h-0.7zM78.3 498.5h0.7v0.7h-0.7zM60.8 500.8h0.7v0.7h-0.7zM79.9 494.7h0.7v0.7h-0.7zM90.2 486.9h0.7v0.7h-0.7zM79.9 499.2h0.7v0.7h-0.7zM96.9 496.8h0.7v0.7h-0.7zM64.3 490.0h0.7v0.7h-0.7zM58.2 499.7h0.7v0.7h-0.7zM60.0 517.8h0.7v0.7h-0.7zM80.1 483.2h0.7v0.7h-0.7zM77.1 511.9h0.7v0.7h-0.7zM74.0 507.6h0.7v0.7h-0.7zM72.4 505.0h0.7v0.7h-0.7zM77.1 496.1h0.7v0.7h-0.7zM79.1 504.6h0.7v0.7h-0.7zM73.4 496.4h0.7v0.7h-0.7zM59.2 505.4h0.7v0.7h-0.7zM86.0 479.5h0.7v0.7h-0.7zM66.2 516.2h0.7v0.7h-0.7zM87.3 496.1h0.7v0.7h-0.7zM93.7 493.4h0.7v0.7h-0.7zM62.5 521.9h0.7v0.7h-0.7zM67.6 500.9h0.7v0.7h-0.7zM50.0 493.2h0.7v0.7h-0.7zM56.9 501.7h0.7v0.7h-0.7zM68.8 497.1h0.7v0.7h-0.7zM64.8 510.2h0.7v0.7h-0.7zM96.4 499.0h0.7v0.7h-0.7zM97.5 518.7h0.7v0.7h-0.7zM93.6 505.9h0.7v0.7h-0.7zM52.3 509.6h0.7v0.7h-0.7zM68.0 504.9h0.7v0.7h-0.7zM77.4 493.9h0.7v0.7h-0.7zM78.3 519.3h0.7v0.7h-0.7zM77.4 496.3h0.7v0.7h-0.7zM60.6 507.0h0.7v0.7h-0.7zM65.4 480.7h0.7v0.7h-0.7zM77.8 511.1h0.7v0.7h-0.7zM62.4 517.3h0.7v0.7h-0.7zM81.3 514.6h0.7v0.7h-0.7zM51.7 503.0h0.7v0.7h-0.7zM97.4 522.6h0.7v0.7h-0.7zM93.3 503.0h0.7v0.7h-0.7zM76.7 496.9h0.7v0.7h-0.7zM90.0 496.2h0.7v0.7h-0.7zM75.8 482.9h0.7v0.7h-0.7zM52.0 520.3h0.7v0.7h-0.7zM74.9 505.1h0.7v0.7h-0.7zM66.2 501.0h0.7v0.7h-0.7zM55.6 489.8h0.7v0.7h-0.7zM55.9 509.3h0.7v0.7h-0.7zM73.3 511.0h0.7v0.7h-0.7zM58.2 508.8h0.7v0.7h-0.7zM67.5 503.9h0.7v0.7h-0.7zM87.7 503.3h0.7v0.7h-0.7zM68.9 486.7h0.7v0.7h-0.7zM74.9 510.7h0.7v0.7h-0.7zM64.7 502.4h0.7v0.7h-0.7zM79.9 515.7h0.7v0.7h-0.7zM69.4 486.6h0.7v0.7h-0.7zM68.4 487.7h0.7v0.7h-0.7zM70.0 521.9h0.7v0.7h-0.7zM78.4 501.5h0.7v0.7h-0.7zM89.2 499.3h0.7v0.7h-0.7zM78.9 505.0h0.7v0.7h-0.7zM80.6 488.6h0.7v0.7h-0.7zM84.4 511.6h0.7v0.7h-0.7zM60.8 517.6h0.7v0.7h-0.7zM74.3 509.7h0.7v0.7h-0.7zM82.2 511.7h0.7v0.7h-0.7zM64.6 497.3h0.7v0.7h-0.7zM79.5 509.0h0.7v0.7h-0.7zM82.5 506.3h0.7v0.7h-0.7zM66.9 513.9h0.7v0.7h-0.7zM80.9 513.5h0.7v0.7h-0.7zM64.2 504.2h0.7v0.7h-0.7zM67.0 499.9h0.7v0.7h-0.7zM76.8 506.4h0.7v0.7h-0.7zM62.2 478.1h0.7v0.7h-0.7zM62.5 508.3h0.7v0.7h-0.7zM61.5 507.2h0.7v0.7h-0.7zM68.6 493.7h0.7v0.7h-0.7zM91.3 519.3h0.7v0.7h-0.7zM72.5 502.5h0.7v0.7h-0.7zM88.2 489.9h0.7v0.7h-0.7zM61.1 514.2h0.7v0.7h-0.7zM87.3 498.1h0.7v0.7h-0.7zM62.5 506.5h0.7v0.7h-0.7zM53.2 498.1h0.7v0.7h-0.7zM70.6 478.7h0.7v0.7h-0.7zM82.8 510.6h0.7v0.7h-0.7zM89.8 488.8h0.7v0.7h-0.7zM55.0 494.9h0.7v0.7h-0.7zM54.6 523.3h0.7v0.7h-0.7zM59.5 499.9h0.7v0.7h-0.7zM77.1 507.5h0.7v0.7h-0.7zM95.5 492.2h0.7v0.7h-0.7zM87.1 504.5h0.7v0.7h-0.7zM56.6 504.5h0.7v0.7h-0.7zM53.2 519.1h0.7v0.7h-0.7zM63.2 513.0h0.7v0.7h-0.7zM93.3 496.9h0.7v0.7h-0.7zM60.7 504.3h0.7v0.7h-0.7zM58.4 511.9h0.7v0.7h-0.7zM76.6 495.4h0.7v0.7h-0.7zM63.8 510.2h0.7v0.7h-0.7zM52.4 519.8h0.7v0.7h-0.7zM62.3 501.1h0.7v0.7h-0.7zM60.2 519.1h0.7v0.7h-0.7zM86.3 515.9h0.7v0.7h-0.7zM83.7 503.9h0.7v0.7h-0.7zM99.3 509.6h0.7v0.7h-0.7zM80.5 508.7h0.7v0.7h-0.7zM85.0 505.8h0.7v0.7h-0.7zM71.5 487.1h0.7v0.7h-0.7zM65.0 505.6h0.7v0.7h-0.7zM73.6 483.2h0.7v0.7h-0.7zM69.0 505.9h0.7v0.7h-0.7zM91.5 491.0h0.7v0.7h-0.7zM78.9 503.8h0.7v0.7h-0.7zM76.2 504.5h0.7v0.7h-0.7zM68.5 489.4h0.7v0.7h-0.7zM80.8 506.9h0.7v0.7h-0.7zM82.6 515.4h0.7v0.7h-0.7zM55.4 479.6h0.7v0.7h-0.7zM60.3 507.0h0.7v0.7h-0.7zM73.8 510.3h0.7v0.7h-0.7zM71.5 497.0h0.7v0.7h-0.7zM77.7 508.2h0.7v0.7h-0.7zM59.5 516.2h0.7v0.7h-0.7zM91.2 507.4h0.7v0.7h-0.7zM72.3 500.6h0.7v0.7h-0.7zM59.4 498.0h0.7v0.7h-0.7zM88.9 493.8h0.7v0.7h-0.7zM66.2 511.6h0.7v0.7h-0.7zM101.9 496.1h0.7v0.7h-0.7zM90.6 496.5h0.7v0.7h-0.7zM79.8 507.8h0.7v0.7h-0.7zM56.9 513.3h0.7v0.7h-0.7zM101.0 503.5h0.7v0.7h-0.7zM78.0 491.3h0.7v0.7h-0.7zM100.8 503.6h0.7v0.7h-0.7zM54.9 510.6h0.7v0.7h-0.7zM52.1 496.1h0.7v0.7h-0.7zM64.2 497.2h0.7v0.7h-0.7zM65.5 508.5h0.7v0.7h-0.7zM95.9 492.9h0.7v0.7h-0.7zM80.6 485.0h0.7v0.7h-0.7zM96.9 502.1h0.7v0.7h-0.7zM63.5 518.3h0.7v0.7h-0.7zM72.4 516.7h0.7v0.7h-0.7zM90.1 519.6h0.7v0.7h-0.7zM62.0 503.6h0.7v0.7h-0.7zM79.5 501.1h0.7v0.7h-0.7zM96.8 495.9h0.7v0.7h-0.7zM89.0 516.6h0.7v0.7h-0.7zM60.4 497.5h0.7v0.7h-0.7zM79.9 501.3h0.7v0.7h-0.7zM75.2 498.4h0.7v0.7h-0.7z" fill="#46c046"/>
<path d="M63.3 514.7h0.8v0.8h-0.8zM70.3 507.7h0.8v0.8h-0.8zM63.0 507.8h0.8v0.8h-0.8zM62.5 504.1h0.8v0.8h-0.8zM72.1 515.7h0.8v0.8h-0.8zM63.0 508.2h0.8v0.8h-0.8zM60.1 508.3h0.8v0.8h-0.8zM50.9 521.0h0.8v0.8h-0.8zM92.0 505.2h0.8v0.8h-0.8zM54.1 515.2h0.8v0.8h-0.8zM69.1 503.3h0.8v0.8h-0.8zM59.8 512.5h0.8v0.8h-0.8zM64.0 508.9h0.8v0.8h-0.8zM62.8 510.4h0.8v0.8h-0.8zM74.6 511.5h0.8v0.8h-0.8zM63.7 509.1h0.8v0.8h-0.8zM58.6 507.9h0.8v0.8h-0.8zM64.1 522.1h0.8v0.8h-0.8zM73.5 513.3h0.8v0.8h-0.8zM78.2 517.6h0.8v0.8h-0.8zM65.8 511.1h0.8v0.8h-0.8zM54.7 513.4h0.8v0.8h-0.8zM61.3 503.3h0.8v0.8h-0.8zM53.1 522.6h0.8v0.8h-0.8zM65.8 514.7h0.8v0.8h-0.8zM65.7 509.4h0.8v0.8h-0.8zM67.9 518.0h0.8v0.8h-0.8zM61.4 514.8h0.8v0.8h-0.8zM72.7 509.3h0.8v0.8h-0.8zM65.4 507.9h0.8v0.8h-0.8zM69.1 510.0h0.8v0.8h-0.8zM73.7 507.8h0.8v0.8h-0.8zM78.4 510.3h0.8v0.8h-0.8zM56.9 507.0h0.8v0.8h-0.8zM69.6 507.3h0.8v0.8h-0.8zM79.3 519.1h0.8v0.8h-0.8zM68.4 504.2h0.8v0.8h-0.8zM63.8 508.0h0.8v0.8h-0.8zM82.7 509.1h0.8v0.8h-0.8zM70.9 519.1h0.8v0.8h-0.8zM55.8 510.1h0.8v0.8h-0.8zM66.3 514.6h0.8v0.8h-0.8zM54.3 513.2h0.8v0.8h-0.8zM63.1 517.2h0.8v0.8h-0.8zM50.4 508.9h0.8v0.8h-0.8zM59.7 510.3h0.8v0.8h-0.8zM70.1 508.5h0.8v0.8h-0.8zM87.3 508.1h0.8v0.8h-0.8zM71.1 517.6h0.8v0.8h-0.8zM72.2 510.9h0.8v0.8h-0.8zM56.9 510.6h0.8v0.8h-0.8zM69.7 512.7h0.8v0.8h-0.8zM68.9 515.2h0.8v0.8h-0.8zM56.5 506.9h0.8v0.8h-0.8zM76.3 509.3h0.8v0.8h-0.8zM50.5 522.2h0.8v0.8h-0.8zM56.9 506.9h0.8v0.8h-0.8zM72.2 505.8h0.8v0.8h-0.8zM56.6 517.8h0.8v0.8h-0.8zM57.0 525.8h0.8v0.8h-0.8zM64.8 526.8h0.8v0.8h-0.8zM65.1 512.3h0.8v0.8h-0.8zM58.5 510.8h0.8v0.8h-0.8zM59.7 511.9h0.8v0.8h-0.8zM70.6 505.0h0.8v0.8h-0.8zM56.2 500.5h0.8v0.8h-0.8zM76.8 511.6h0.8v0.8h-0.8zM63.9 511.7h0.8v0.8h-0.8zM72.5 513.8h0.8v0.8h-0.8zM71.2 511.1h0.8v0.8h-0.8zM63.0 511.7h0.8v0.8h-0.8zM50.6 506.5h0.8v0.8h-0.8zM69.7 512.3h0.8v0.8h-0.8zM70.9 521.4h0.8v0.8h-0.8zM79.8 519.6h0.8v0.8h-0.8zM62.1 523.3h0.8v0.8h-0.8zM56.5 511.5h0.8v0.8h-0.8zM72.5 510.8h0.8v0.8h-0.8zM63.0 510.1h0.8v0.8h-0.8zM75.6 498.4h0.8v0.8h-0.8zM74.8 517.8h0.8v0.8h-0.8zM63.4 515.1h0.8v0.8h-0.8zM55.8 518.1h0.8v0.8h-0.8zM90.0 506.9h0.8v0.8h-0.8zM75.9 511.7h0.8v0.8h-0.8zM61.1 509.3h0.8v0.8h-0.8zM62.4 505.1h0.8v0.8h-0.8zM52.5 521.1h0.8v0.8h-0.8zM63.9 515.0h0.8v0.8h-0.8zM66.6 514.6h0.8v0.8h-0.8zM51.0 506.8h0.8v0.8h-0.8zM69.4 517.5h0.8v0.8h-0.8zM54.3 508.8h0.8v0.8h-0.8zM54.9 515.6h0.8v0.8h-0.8zM66.9 512.2h0.8v0.8h-0.8zM58.5 513.9h0.8v0.8h-0.8zM64.3 507.9h0.8v0.8h-0.8zM66.8 508.3h0.8v0.8h-0.8zM72.1 515.4h0.8v0.8h-0.8zM58.2 515.2h0.8v0.8h-0.8zM64.6 508.1h0.8v0.8h-0.8zM56.2 502.9h0.8v0.8h-0.8zM54.4 513.9h0.8v0.8h-0.8zM74.3 508.5h0.8v0.8h-0.8zM65.4 513.9h0.8v0.8h-0.8zM70.6 514.4h0.8v0.8h-0.8zM74.4 516.2h0.8v0.8h-0.8zM57.5 514.2h0.8v0.8h-0.8zM64.2 515.2h0.8v0.8h-0.8zM61.4 516.6h0.8v0.8h-0.8zM75.2 507.4h0.8v0.8h-0.8zM59.4 513.4h0.8v0.8h-0.8zM68.2 512.8h0.8v0.8h-0.8zM71.1 505.5h0.8v0.8h-0.8zM70.6 518.4h0.8v0.8h-0.8zM73.4 514.3h0.8v0.8h-0.8zM62.0 514.2h0.8v0.8h-0.8zM63.4 503.3h0.8v0.8h-0.8zM58.9 511.8h0.8v0.8h-0.8zM59.6 506.9h0.8v0.8h-0.8zM62.0 510.0h0.8v0.8h-0.8zM64.6 511.7h0.8v0.8h-0.8zM65.5 517.5h0.8v0.8h-0.8zM65.2 514.2h0.8v0.8h-0.8zM53.6 495.8h0.8v0.8h-0.8zM60.6 515.7h0.8v0.8h-0.8zM61.1 508.6h0.8v0.8h-0.8zM53.5 516.9h0.8v0.8h-0.8zM59.5 513.3h0.8v0.8h-0.8zM73.6 514.9h0.8v0.8h-0.8zM83.1 511.3h0.8v0.8h-0.8zM72.1 515.8h0.8v0.8h-0.8zM58.4 512.3h0.8v0.8h-0.8zM59.2 506.4h0.8v0.8h-0.8zM66.5 507.7h0.8v0.8h-0.8zM78.3 507.9h0.8v0.8h-0.8zM59.4 512.5h0.8v0.8h-0.8zM59.6 512.3h0.8v0.8h-0.8zM58.8 504.2h0.8v0.8h-0.8zM76.9 514.4h0.8v0.8h-0.8zM65.3 509.4h0.8v0.8h-0.8zM62.8 513.6h0.8v0.8h-0.8zM52.2 507.6h0.8v0.8h-0.8zM56.4 518.9h0.8v0.8h-0.8zM55.0 518.4h0.8v0.8h-0.8zM60.0 527.0h0.8v0.8h-0.8zM63.3 512.2h0.8v0.8h-0.8zM75.5 516.8h0.8v0.8h-0.8zM72.0 506.1h0.8v0.8h-0.8zM73.7 521.2h0.8v0.8h-0.8zM63.1 509.3h0.8v0.8h-0.8zM54.7 517.6h0.8v0.8h-0.8zM66.5 512.0h0.8v0.8h-0.8zM53.5 520.9h0.8v0.8h-0.8zM71.4 511.9h0.8v0.8h-0.8zM76.5 506.8h0.8v0.8h-0.8zM71.5 506.5h0.8v0.8h-0.8zM76.0 510.5h0.8v0.8h-0.8zM74.4 509.7h0.8v0.8h-0.8zM67.4 518.3h0.8v0.8h-0.8zM56.3 512.5h0.8v0.8h-0.8zM56.9 516.7h0.8v0.8h-0.8zM58.9 509.9h0.8v0.8h-0.8zM62.3 518.4h0.8v0.8h-0.8zM55.1 511.9h0.8v0.8h-0.8zM61.2 509.0h0.8v0.8h-0.8zM57.3 511.1h0.8v0.8h-0.8zM65.7 503.5h0.8v0.8h-0.8zM66.0 505.5h0.8v0.8h-0.8zM64.1 524.5h0.8v0.8h-0.8zM55.8 511.6h0.8v0.8h-0.8zM61.8 517.4h0.8v0.8h-0.8zM60.0 502.2h0.8v0.8h-0.8zM50.3 513.0h0.8v0.8h-0.8zM66.2 517.9h0.8v0.8h-0.8zM59.4 515.7h0.8v0.8h-0.8zM55.0 519.1h0.8v0.8h-0.8zM63.4 508.3h0.8v0.8h-0.8zM65.5 521.6h0.8v0.8h-0.8zM56.8 505.2h0.8v0.8h-0.8zM55.4 505.6h0.8v0.8h-0.8zM63.6 513.9h0.8v0.8h-0.8zM62.6 513.1h0.8v0.8h-0.8zM74.1 510.4h0.8v0.8h-0.8zM53.4 499.4h0.8v0.8h-0.8zM66.1 508.3h0.8v0.8h-0.8zM61.9 514.3h0.8v0.8h-0.8zM67.9 503.4h0.8v0.8h-0.8zM55.9 512.4h0.8v0.8h-0.8zM62.8 518.3h0.8v0.8h-0.8zM59.7 500.6h0.8v0.8h-0.8zM73.9 503.0h0.8v0.8h-0.8zM55.8 514.1h0.8v0.8h-0.8zM55.0 525.7h0.8v0.8h-0.8zM66.0 514.9h0.8v0.8h-0.8zM60.3 524.2h0.8v0.8h-0.8zM68.6 508.1h0.8v0.8h-0.8zM74.7 502.7h0.8v0.8h-0.8zM59.0 513.6h0.8v0.8h-0.8zM65.2 506.7h0.8v0.8h-0.8zM77.4 520.1h0.8v0.8h-0.8zM56.1 514.1h0.8v0.8h-0.8zM58.6 509.6h0.8v0.8h-0.8zM72.4 512.7h0.8v0.8h-0.8zM63.1 512.6h0.8v0.8h-0.8zM54.0 518.7h0.8v0.8h-0.8zM57.6 519.2h0.8v0.8h-0.8zM60.1 509.5h0.8v0.8h-0.8zM76.6 513.1h0.8v0.8h-0.8zM58.6 509.1h0.8v0.8h-0.8zM69.1 522.3h0.8v0.8h-0.8zM69.2 509.8h0.8v0.8h-0.8zM54.5 508.3h0.8v0.8h-0.8zM63.0 513.3h0.8v0.8h-0.8zM58.4 519.0h0.8v0.8h-0.8zM55.9 508.1h0.8v0.8h-0.8zM68.2 514.6h0.8v0.8h-0.8zM60.7 517.3h0.8v0.8h-0.8zM52.0 521.0h0.8v0.8h-0.8zM82.6 522.7h0.8v0.8h-0.8zM65.0 522.8h0.8v0.8h-0.8zM64.5 519.3h0.8v0.8h-0.8zM62.3 513.1h0.8v0.8h-0.8zM68.5 502.4h0.8v0.8h-0.8zM62.2 521.4h0.8v0.8h-0.8zM71.8 513.8h0.8v0.8h-0.8zM65.7 519.6h0.8v0.8h-0.8zM66.9 501.6h0.8v0.8h-0.8zM56.0 510.4h0.8v0.8h-0.8zM65.2 509.5h0.8v0.8h-0.8zM63.1 521.2h0.8v0.8h-0.8zM72.0 515.3h0.8v0.8h-0.8zM64.1 512.4h0.8v0.8h-0.8zM67.1 513.3h0.8v0.8h-0.8zM57.9 516.3h0.8v0.8h-0.8zM57.0 511.8h0.8v0.8h-0.8zM61.0 505.7h0.8v0.8h-0.8zM69.1 511.6h0.8v0.8h-0.8zM54.1 511.6h0.8v0.8h-0.8zM52.3 519.9h0.8v0.8h-0.8zM68.4 522.9h0.8v0.8h-0.8zM59.2 515.9h0.8v0.8h-0.8zM55.8 507.3h0.8v0.8h-0.8zM63.2 514.3h0.8v0.8h-0.8zM71.8 510.5h0.8v0.8h-0.8zM73.4 517.3h0.8v0.8h-0.8zM56.6 511.0h0.8v0.8h-0.8zM56.2 521.4h0.8v0.8h-0.8zM59.3 516.9h0.8v0.8h-0.8zM71.7 510.6h0.8v0.8h-0.8zM59.9 513.9h0.8v0.8h-0.8zM57.4 505.1h0.8v0.8h-0.8zM55.8 513.9h0.8v0.8h-0.8zM65.6 521.7h0.8v0.8h-0.8zM54.2 518.3h0.8v0.8h-0.8zM69.9 512.7h0.8v0.8h-0.8zM76.5 510.0h0.8v0.8h-0.8zM59.5 506.2h0.8v0.8h-0.8zM58.4 512.6h0.8v0.8h-0.8zM69.7 519.0h0.8v0.8h-0.8zM61.7 508.0h0.8v0.8h-0.8zM61.2 509.7h0.8v0.8h-0.8zM60.0 509.8h0.8v0.8h-0.8zM56.6 511.7h0.8v0.8h-0.8zM59.7 511.1h0.8v0.8h-0.8zM52.3 512.8h0.8v0.8h-0.8zM68.8 515.5h0.8v0.8h-0.8zM59.4 505.8h0.8v0.8h-0.8zM53.0 505.6h0.8v0.8h-0.8zM58.6 510.3h0.8v0.8h-0.8zM51.0 508.3h0.8v0.8h-0.8zM57.9 516.5h0.8v0.8h-0.8zM79.5 510.1h0.8v0.8h-0.8zM61.7 509.9h0.8v0.8h-0.8zM62.3 511.1h0.8v0.8h-0.8zM84.8 506.1h0.8v0.8h-0.8zM63.1 507.7h0.8v0.8h-0.8zM67.0 509.2h0.8v0.8h-0.8zM68.8 506.1h0.8v0.8h-0.8zM81.8 513.1h0.8v0.8h-0.8zM60.0 505.7h0.8v0.8h-0.8zM67.7 509.2h0.8v0.8h-0.8zM70.2 509.0h0.8v0.8h-0.8zM71.6 512.8h0.8v0.8h-0.8zM67.0 512.9h0.8v0.8h-0.8zM60.9 510.0h0.8v0.8h-0.8zM67.8 515.9h0.8v0.8h-0.8zM60.6 524.2h0.8v0.8h-0.8zM78.2 505.8h0.8v0.8h-0.8zM73.1 511.6h0.8v0.8h-0.8zM66.0 507.7h0.8v0.8h-0.8zM77.9 507.5h0.8v0.8h-0.8zM63.3 508.1h0.8v0.8h-0.8zM80.2 518.8h0.8v0.8h-0.8zM52.9 509.6h0.8v0.8h-0.8zM67.1 509.7h0.8v0.8h-0.8zM61.0 506.2h0.8v0.8h-0.8zM66.1 506.1h0.8v0.8h-0.8zM71.0 525.0h0.8v0.8h-0.8zM61.3 520.9h0.8v0.8h-0.8zM67.1 508.4h0.8v0.8h-0.8zM61.1 506.8h0.8v0.8h-0.8zM65.0 515.8h0.8v0.8h-0.8zM71.8 510.5h0.8v0.8h-0.8zM54.0 511.6h0.8v0.8h-0.8zM78.0 513.5h0.8v0.8h-0.8zM63.5 500.8h0.8v0.8h-0.8zM60.4 515.0h0.8v0.8h-0.8zM56.1 519.3h0.8v0.8h-0.8zM59.3 507.3h0.8v0.8h-0.8zM59.1 511.5h0.8v0.8h-0.8zM72.4 509.0h0.8v0.8h-0.8zM68.4 520.3h0.8v0.8h-0.8zM54.6 520.0h0.8v0.8h-0.8zM69.7 514.5h0.8v0.8h-0.8zM57.6 507.2h0.8v0.8h-0.8zM56.0 517.1h0.8v0.8h-0.8zM65.8 517.8h0.8v0.8h-0.8zM79.2 512.1h0.8v0.8h-0.8zM63.6 522.4h0.8v0.8h-0.8zM53.1 509.6h0.8v0.8h-0.8zM60.9 510.0h0.8v0.8h-0.8zM65.2 507.5h0.8v0.8h-0.8zM73.7 504.7h0.8v0.8h-0.8zM57.2 502.9h0.8v0.8h-0.8zM52.3 515.2h0.8v0.8h-0.8zM69.3 511.0h0.8v0.8h-0.8zM71.1 515.4h0.8v0.8h-0.8zM59.2 511.8h0.8v0.8h-0.8zM67.1 522.9h0.8v0.8h-0.8zM60.3 514.0h0.8v0.8h-0.8zM68.6 518.6h0.8v0.8h-0.8zM67.6 517.8h0.8v0.8h-0.8zM55.1 510.6h0.8v0.8h-0.8zM83.5 513.3h0.8v0.8h-0.8zM64.7 513.5h0.8v0.8h-0.8zM65.2 504.9h0.8v0.8h-0.8zM58.2 511.1h0.8v0.8h-0.8zM65.4 507.4h0.8v0.8h-0.8zM63.1 508.1h0.8v0.8h-0.8zM53.0 508.5h0.8v0.8h-0.8zM57.3 516.5h0.8v0.8h-0.8zM75.2 515.1h0.8v0.8h-0.8zM62.2 509.0h0.8v0.8h-0.8zM50.9 509.2h0.8v0.8h-0.8zM77.1 518.2h0.8v0.8h-0.8zM65.9 510.7h0.8v0.8h-0.8zM64.0 514.3h0.8v0.8h-0.8zM63.9 514.3h0.8v0.8h-0.8zM57.6 512.3h0.8v0.8h-0.8zM61.1 517.8h0.8v0.8h-0.8zM53.6 519.0h0.8v0.8h-0.8zM63.3 509.3h0.8v0.8h-0.8zM64.2 512.7h0.8v0.8h-0.8zM62.1 514.3h0.8v0.8h-0.8zM59.2 502.9h0.8v0.8h-0.8zM69.8 511.9h0.8v0.8h-0.8zM77.9 514.1h0.8v0.8h-0.8zM58.3 515.0h0.8v0.8h-0.8zM82.5 517.9h0.8v0.8h-0.8zM54.9 511.5h0.8v0.8h-0.8zM50.6 515.6h0.8v0.8h-0.8zM68.7 506.5h0.8v0.8h-0.8zM67.8 517.1h0.8v0.8h-0.8zM70.7 508.4h0.8v0.8h-0.8zM58.2 506.0h0.8v0.8h-0.8zM53.2 513.7h0.8v0.8h-0.8zM64.3 519.0h0.8v0.8h-0.8zM66.3 510.3h0.8v0.8h-0.8zM52.1 520.3h0.8v0.8h-0.8zM65.4 511.9h0.8v0.8h-0.8zM55.6 506.4h0.8v0.8h-0.8zM69.3 506.8h0.8v0.8h-0.8zM68.9 515.4h0.8v0.8h-0.8zM60.8 503.4h0.8v0.8h-0.8zM67.4 519.6h0.8v0.8h-0.8zM57.1 505.3h0.8v0.8h-0.8zM73.1 512.8h0.8v0.8h-0.8zM58.8 518.6h0.8v0.8h-0.8zM61.7 514.5h0.8v0.8h-0.8zM60.6 508.0h0.8v0.8h-0.8zM65.8 507.5h0.8v0.8h-0.8zM74.3 517.9h0.8v0.8h-0.8zM82.1 517.4h0.8v0.8h-0.8zM77.5 513.4h0.8v0.8h-0.8zM60.4 514.5h0.8v0.8h-0.8zM56.1 516.0h0.8v0.8h-0.8zM60.3 513.4h0.8v0.8h-0.8zM56.9 511.3h0.8v0.8h-0.8zM72.2 510.9h0.8v0.8h-0.8zM58.4 513.6h0.8v0.8h-0.8zM71.3 511.1h0.8v0.8h-0.8zM54.3 503.7h0.8v0.8h-0.8zM52.8 517.7h0.8v0.8h-0.8zM63.3 514.6h0.8v0.8h-0.8zM73.0 513.6h0.8v0.8h-0.8zM68.0 509.4h0.8v0.8h-0.8zM50.6 515.4h0.8v0.8h-0.8zM63.2 515.1h0.8v0.8h-0.8zM55.1 511.3h0.8v0.8h-0.8zM80.8 507.6h0.8v0.8h-0.8zM64.8 519.0h0.8v0.8h-0.8zM62.1 512.7h0.8v0.8h-0.8zM60.3 518.9h0.8v0.8h-0.8zM63.2 510.1h0.8v0.8h-0.8zM67.6 510.8h0.8v0.8h-0.8zM59.7 520.3h0.8v0.8h-0.8zM72.2 512.6h0.8v0.8h-0.8zM70.7 516.4h0.8v0.8h-0.8zM68.8 512.3h0.8v0.8h-0.8zM64.6 514.2h0.8v0.8h-0.8zM68.7 513.9h0.8v0.8h-0.8zM59.4 511.7h0.8v0.8h-0.8zM67.8 506.8h0.8v0.8h-0.8zM63.9 516.1h0.8v0.8h-0.8zM65.4 510.6h0.8v0.8h-0.8zM63.8 509.5h0.8v0.8h-0.8zM72.2 510.1h0.8v0.8h-0.8zM50.1 505.7h0.8v0.8h-0.8zM66.5 513.2h0.8v0.8h-0.8zM60.1 505.1h0.8v0.8h-0.8zM62.8 507.6h0.8v0.8h-0.8zM58.5 512.1h0.8v0.8h-0.8zM57.6 513.7h0.8v0.8h-0.8zM57.8 509.6h0.8v0.8h-0.8zM62.1 519.8h0.8v0.8h-0.8zM77.1 517.1h0.8v0.8h-0.8zM57.9 512.1h0.8v0.8h-0.8zM71.6 516.3h0.8v0.8h-0.8zM50.5 511.8h0.8v0.8h-0.8zM57.8 516.0h0.8v0.8h-0.8zM69.3 509.3h0.8v0.8h-0.8zM81.8 510.6h0.8v0.8h-0.8zM84.3 511.2h0.8v0.8h-0.8zM63.3 522.1h0.8v0.8h-0.8zM59.6 509.6h0.8v0.8h-0.8zM76.3 511.9h0.8v0.8h-0.8zM68.0 505.5h0.8v0.8h-0.8zM78.9 517.3h0.8v0.8h-0.8zM67.0 515.8h0.8v0.8h-0.8zM59.8 509.6h0.8v0.8h-0.8zM50.9 514.0h0.8v0.8h-0.8zM74.3 516.6h0.8v0.8h-0.8zM71.7 515.8h0.8v0.8h-0.8zM56.3 505.2h0.8v0.8h-0.8zM69.3 513.0h0.8v0.8h-0.8zM72.2 510.6h0.8v0.8h-0.8zM56.7 514.4h0.8v0.8h-0.8zM59.4 503.5h0.8v0.8h-0.8zM58.9 507.5h0.8v0.8h-0.8zM54.7 509.2h0.8v0.8h-0.8zM71.9 524.4h0.8v0.8h-0.8zM78.4 509.9h0.8v0.8h-0.8zM73.5 511.7h0.8v0.8h-0.8zM67.3 508.5h0.8v0.8h-0.8zM63.4 503.3h0.8v0.8h-0.8zM78.9 508.1h0.8v0.8h-0.8zM68.9 509.0h0.8v0.8h-0.8zM66.2 505.9h0.8v0.8h-0.8zM60.9 516.9h0.8v0.8h-0.8zM68.9 501.9h0.8v0.8h-0.8zM71.1 505.2h0.8v0.8h-0.8zM66.4 514.8h0.8v0.8h-0.8zM58.7 510.4h0.8v0.8h-0.8zM62.0 514.2h0.8v0.8h-0.8zM71.6 519.2h0.8v0.8h-0.8zM66.7 522.5h0.8v0.8h-0.8zM56.1 521.4h0.8v0.8h-0.8zM61.8 516.1h0.8v0.8h-0.8zM63.0 512.5h0.8v0.8h-0.8zM56.4 514.1h0.8v0.8h-0.8zM80.8 512.9h0.8v0.8h-0.8zM63.8 512.1h0.8v0.8h-0.8zM69.9 511.0h0.8v0.8h-0.8zM64.0 513.2h0.8v0.8h-0.8zM74.8 517.1h0.8v0.8h-0.8zM55.2 508.8h0.8v0.8h-0.8zM64.2 516.5h0.8v0.8h-0.8zM72.1 511.0h0.8v0.8h-0.8zM81.7 511.2h0.8v0.8h-0.8zM75.7 519.5h0.8v0.8h-0.8zM77.3 513.1h0.8v0.8h-0.8zM68.8 504.1h0.8v0.8h-0.8zM70.0 517.7h0.8v0.8h-0.8zM63.1 517.5h0.8v0.8h-0.8zM68.8 520.1h0.8v0.8h-0.8zM50.8 507.8h0.8v0.8h-0.8zM56.0 506.6h0.8v0.8h-0.8zM77.7 507.3h0.8v0.8h-0.8zM57.1 510.0h0.8v0.8h-0.8zM71.4 509.7h0.8v0.8h-0.8zM70.1 515.0h0.8v0.8h-0.8zM58.7 499.7h0.8v0.8h-0.8zM56.4 505.6h0.8v0.8h-0.8zM77.6 508.3h0.8v0.8h-0.8zM55.1 514.1h0.8v0.8h-0.8zM64.5 507.2h0.8v0.8h-0.8zM73.1 516.9h0.8v0.8h-0.8zM66.3 508.1h0.8v0.8h-0.8zM56.7 501.4h0.8v0.8h-0.8zM67.2 514.1h0.8v0.8h-0.8zM56.3 512.2h0.8v0.8h-0.8zM91.3 506.2h0.8v0.8h-0.8zM49.8 515.3h0.8v0.8h-0.8zM60.5 509.5h0.8v0.8h-0.8zM69.2 511.4h0.8v0.8h-0.8zM72.3 514.8h0.8v0.8h-0.8zM73.7 512.7h0.8v0.8h-0.8zM49.8 517.5h0.8v0.8h-0.8zM66.1 504.8h0.8v0.8h-0.8zM64.6 516.7h0.8v0.8h-0.8zM55.5 512.3h0.8v0.8h-0.8zM57.8 506.8h0.8v0.8h-0.8zM58.9 518.7h0.8v0.8h-0.8zM69.7 511.9h0.8v0.8h-0.8zM63.3 512.7h0.8v0.8h-0.8zM66.4 513.0h0.8v0.8h-0.8zM49.7 516.9h0.8v0.8h-0.8zM56.9 498.5h0.8v0.8h-0.8zM69.9 505.8h0.8v0.8h-0.8zM62.8 511.6h0.8v0.8h-0.8zM59.1 514.9h0.8v0.8h-0.8zM61.7 510.6h0.8v0.8h-0.8zM56.0 510.6h0.8v0.8h-0.8zM55.4 512.3h0.8v0.8h-0.8zM75.0 517.3h0.8v0.8h-0.8zM67.6 504.9h0.8v0.8h-0.8zM72.6 516.9h0.8v0.8h-0.8zM81.2 500.3h0.8v0.8h-0.8zM64.1 510.3h0.8v0.8h-0.8zM73.1 506.4h0.8v0.8h-0.8zM60.8 524.2h0.8v0.8h-0.8zM72.3 501.6h0.8v0.8h-0.8zM64.2 519.2h0.8v0.8h-0.8zM58.8 515.2h0.8v0.8h-0.8zM64.8 504.4h0.8v0.8h-0.8zM58.8 518.0h0.8v0.8h-0.8zM73.9 508.9h0.8v0.8h-0.8zM73.4 508.3h0.8v0.8h-0.8zM66.1 511.9h0.8v0.8h-0.8zM53.6 513.7h0.8v0.8h-0.8zM60.8 497.7h0.8v0.8h-0.8zM57.1 507.6h0.8v0.8h-0.8zM57.0 506.9h0.8v0.8h-0.8zM58.2 499.2h0.8v0.8h-0.8zM71.4 512.4h0.8v0.8h-0.8zM66.1 510.6h0.8v0.8h-0.8zM64.5 510.7h0.8v0.8h-0.8zM54.9 504.1h0.8v0.8h-0.8zM64.6 517.4h0.8v0.8h-0.8zM66.0 520.5h0.8v0.8h-0.8zM52.6 510.7h0.8v0.8h-0.8zM58.8 518.5h0.8v0.8h-0.8zM78.2 509.3h0.8v0.8h-0.8zM70.1 510.8h0.8v0.8h-0.8zM55.7 511.5h0.8v0.8h-0.8zM55.3 520.2h0.8v0.8h-0.8zM68.9 518.3h0.8v0.8h-0.8zM67.0 499.3h0.8v0.8h-0.8zM70.7 512.5h0.8v0.8h-0.8zM72.5 521.0h0.8v0.8h-0.8zM55.4 516.2h0.8v0.8h-0.8zM66.8 511.1h0.8v0.8h-0.8zM61.6 514.8h0.8v0.8h-0.8zM68.8 515.5h0.8v0.8h-0.8zM60.6 505.1h0.8v0.8h-0.8zM75.0 518.9h0.8v0.8h-0.8zM59.3 511.9h0.8v0.8h-0.8zM70.8 502.8h0.8v0.8h-0.8zM68.2 524.7h0.8v0.8h-0.8zM66.3 508.3h0.8v0.8h-0.8zM81.1 512.1h0.8v0.8h-0.8zM65.8 509.8h0.8v0.8h-0.8zM65.5 502.6h0.8v0.8h-0.8zM53.3 504.3h0.8v0.8h-0.8zM71.5 511.5h0.8v0.8h-0.8zM73.6 501.3h0.8v0.8h-0.8zM59.0 519.7h0.8v0.8h-0.8zM57.4 502.2h0.8v0.8h-0.8zM57.8 510.2h0.8v0.8h-0.8zM63.9 518.9h0.8v0.8h-0.8zM75.1 520.2h0.8v0.8h-0.8zM68.9 509.4h0.8v0.8h-0.8zM59.9 504.2h0.8v0.8h-0.8zM74.6 518.6h0.8v0.8h-0.8zM64.7 507.3h0.8v0.8h-0.8zM69.6 514.6h0.8v0.8h-0.8zM65.3 505.9h0.8v0.8h-0.8zM66.0 509.0h0.8v0.8h-0.8zM70.2 515.2h0.8v0.8h-0.8zM67.7 509.8h0.8v0.8h-0.8zM76.7 516.1h0.8v0.8h-0.8zM74.6 516.4h0.8v0.8h-0.8zM69.5 514.1h0.8v0.8h-0.8zM55.1 502.4h0.8v0.8h-0.8zM56.2 515.2h0.8v0.8h-0.8zM71.6 513.0h0.8v0.8h-0.8zM64.7 521.7h0.8v0.8h-0.8zM60.7 502.6h0.8v0.8h-0.8zM51.1 510.3h0.8v0.8h-0.8zM69.8 515.9h0.8v0.8h-0.8zM62.2 516.3h0.8v0.8h-0.8zM63.6 508.2h0.8v0.8h-0.8zM60.8 516.0h0.8v0.8h-0.8zM72.0 506.1h0.8v0.8h-0.8zM55.8 512.7h0.8v0.8h-0.8zM81.7 505.8h0.8v0.8h-0.8zM53.6 514.2h0.8v0.8h-0.8zM68.2 508.8h0.8v0.8h-0.8zM63.8 514.6h0.8v0.8h-0.8zM69.0 516.9h0.8v0.8h-0.8zM73.7 511.6h0.8v0.8h-0.8zM52.0 519.1h0.8v0.8h-0.8zM70.4 508.6h0.8v0.8h-0.8zM72.6 517.5h0.8v0.8h-0.8zM62.8 499.6h0.8v0.8h-0.8zM60.1 508.0h0.8v0.8h-0.8zM57.0 511.6h0.8v0.8h-0.8zM55.0 514.1h0.8v0.8h-0.8zM79.7 505.7h0.8v0.8h-0.8zM72.7 509.2h0.8v0.8h-0.8zM68.5 511.3h0.8v0.8h-0.8zM74.7 508.3h0.8v0.8h-0.8zM70.1 507.9h0.8v0.8h-0.8zM65.9 511.9h0.8v0.8h-0.8zM73.1 503.7h0.8v0.8h-0.8zM52.8 519.3h0.8v0.8h-0.8zM67.2 521.0h0.8v0.8h-0.8zM55.4 513.1h0.8v0.8h-0.8zM69.0 521.3h0.8v0.8h-0.8zM63.6 509.6h0.8v0.8h-0.8zM70.0 511.5h0.8v0.8h-0.8zM57.8 516.0h0.8v0.8h-0.8zM75.3 509.4h0.8v0.8h-0.8zM61.3 514.0h0.8v0.8h-0.8zM73.3 514.8h0.8v0.8h-0.8zM56.0 509.0h0.8v0.8h-0.8zM72.7 511.4h0.8v0.8h-0.8zM58.8 516.6h0.8v0.8h-0.8zM73.5 523.5h0.8v0.8h-0.8zM55.1 508.3h0.8v0.8h-0.8zM58.2 513.9h0.8v0.8h-0.8zM60.0 517.9h0.8v0.8h-0.8zM58.7 510.6h0.8v0.8h-0.8zM68.7 513.1h0.8v0.8h-0.8zM55.6 519.9h0.8v0.8h-0.8zM68.8 509.4h0.8v0.8h-0.8zM65.7 506.2h0.8v0.8h-0.8zM53.8 510.4h0.8v0.8h-0.8zM67.0 512.5h0.8v0.8h-0.8zM57.6 504.7h0.8v0.8h-0.8zM50.1 520.4h0.8v0.8h-0.8zM67.1 507.8h0.8v0.8h-0.8zM73.9 514.9h0.8v0.8h-0.8zM60.6 508.8h0.8v0.8h-0.8zM73.5 513.7h0.8v0.8h-0.8zM77.6 513.9h0.8v0.8h-0.8zM59.2 508.8h0.8v0.8h-0.8zM58.2 513.3h0.8v0.8h-0.8zM66.1 515.2h0.8v0.8h-0.8zM67.7 506.5h0.8v0.8h-0.8zM62.3 507.0h0.8v0.8h-0.8zM68.0 505.1h0.8v0.8h-0.8zM59.2 507.5h0.8v0.8h-0.8zM58.9 510.6h0.8v0.8h-0.8zM76.5 510.7h0.8v0.8h-0.8zM52.1 510.4h0.8v0.8h-0.8zM70.2 514.9h0.8v0.8h-0.8zM66.0 522.5h0.8v0.8h-0.8zM73.2 512.5h0.8v0.8h-0.8zM74.1 504.9h0.8v0.8h-0.8zM62.6 507.4h0.8v0.8h-0.8zM65.5 520.5h0.8v0.8h-0.8zM59.9 520.4h0.8v0.8h-0.8zM55.6 519.5h0.8v0.8h-0.8zM50.0 507.5h0.8v0.8h-0.8zM72.3 511.5h0.8v0.8h-0.8zM65.2 511.9h0.8v0.8h-0.8zM65.5 511.1h0.8v0.8h-0.8zM55.9 510.5h0.8v0.8h-0.8zM64.9 507.3h0.8v0.8h-0.8zM67.9 521.3h0.8v0.8h-0.8zM50.4 509.1h0.8v0.8h-0.8zM61.7 512.1h0.8v0.8h-0.8zM64.8 508.2h0.8v0.8h-0.8zM63.7 512.0h0.8v0.8h-0.8zM63.3 520.1h0.8v0.8h-0.8zM65.1 504.2h0.8v0.8h-0.8zM51.1 515.1h0.8v0.8h-0.8zM61.2 508.7h0.8v0.8h-0.8zM52.8 510.4h0.8v0.8h-0.8zM63.2 508.4h0.8v0.8h-0.8zM61.1 516.7h0.8v0.8h-0.8zM70.5 514.9h0.8v0.8h-0.8zM62.6 504.8h0.8v0.8h-0.8zM70.4 519.9h0.8v0.8h-0.8zM74.5 518.1h0.8v0.8h-0.8zM66.3 514.0h0.8v0.8h-0.8zM63.9 518.6h0.8v0.8h-0.8zM61.8 523.3h0.8v0.8h-0.8zM70.4 510.3h0.8v0.8h-0.8zM64.0 503.5h0.8v0.8h-0.8zM58.0 510.4h0.8v0.8h-0.8zM84.2 507.7h0.8v0.8h-0.8zM71.6 512.4h0.8v0.8h-0.8zM61.6 515.3h0.8v0.8h-0.8zM80.0 513.6h0.8v0.8h-0.8zM63.5 512.8h0.8v0.8h-0.8zM69.5 509.4h0.8v0.8h-0.8zM65.0 514.7h0.8v0.8h-0.8zM61.1 514.1h0.8v0.8h-0.8zM66.8 515.8h0.8v0.8h-0.8zM55.9 509.2h0.8v0.8h-0.8zM60.5 518.3h0.8v0.8h-0.8zM66.1 503.3h0.8v0.8h-0.8zM53.5 522.2h0.8v0.8h-0.8zM66.8 505.2h0.8v0.8h-0.8zM56.5 512.8h0.8v0.8h-0.8zM75.8 520.5h0.8v0.8h-0.8zM61.0 510.4h0.8v0.8h-0.8zM79.8 506.8h0.8v0.8h-0.8zM76.9 513.8h0.8v0.8h-0.8zM64.8 518.8h0.8v0.8h-0.8zM68.0 507.6h0.8v0.8h-0.8zM51.4 512.1h0.8v0.8h-0.8zM68.2 519.2h0.8v0.8h-0.8zM69.1 520.0h0.8v0.8h-0.8zM70.6 513.1h0.8v0.8h-0.8zM67.6 514.1h0.8v0.8h-0.8zM58.8 511.4h0.8v0.8h-0.8zM65.1 509.6h0.8v0.8h-0.8zM51.9 504.4h0.8v0.8h-0.8zM68.2 514.8h0.8v0.8h-0.8zM64.9 505.8h0.8v0.8h-0.8zM71.0 509.9h0.8v0.8h-0.8zM51.7 523.9h0.8v0.8h-0.8zM68.4 509.7h0.8v0.8h-0.8zM76.2 519.2h0.8v0.8h-0.8zM66.1 503.0h0.8v0.8h-0.8zM60.9 510.5h0.8v0.8h-0.8zM67.8 511.3h0.8v0.8h-0.8zM66.9 503.4h0.8v0.8h-0.8zM58.7 519.6h0.8v0.8h-0.8zM52.0 516.9h0.8v0.8h-0.8zM83.1 515.4h0.8v0.8h-0.8zM52.5 518.6h0.8v0.8h-0.8zM60.6 518.5h0.8v0.8h-0.8zM73.7 513.0h0.8v0.8h-0.8zM78.8 517.2h0.8v0.8h-0.8zM60.1 506.8h0.8v0.8h-0.8zM84.3 509.9h0.8v0.8h-0.8zM67.4 511.4h0.8v0.8h-0.8zM60.1 503.5h0.8v0.8h-0.8zM62.8 511.4h0.8v0.8h-0.8zM72.1 509.3h0.8v0.8h-0.8zM51.1 506.3h0.8v0.8h-0.8zM63.7 513.3h0.8v0.8h-0.8zM70.0 510.0h0.8v0.8h-0.8zM68.5 512.8h0.8v0.8h-0.8zM77.9 511.7h0.8v0.8h-0.8zM65.2 515.0h0.8v0.8h-0.8zM74.1 507.1h0.8v0.8h-0.8zM60.1 510.5h0.8v0.8h-0.8zM72.9 512.1h0.8v0.8h-0.8zM91.8 518.7h0.8v0.8h-0.8zM80.7 520.3h0.8v0.8h-0.8zM71.5 504.5h0.8v0.8h-0.8zM76.6 514.2h0.8v0.8h-0.8zM54.1 512.3h0.8v0.8h-0.8zM70.2 517.2h0.8v0.8h-0.8zM65.4 509.2h0.8v0.8h-0.8zM70.3 508.0h0.8v0.8h-0.8zM63.4 516.0h0.8v0.8h-0.8zM52.1 514.0h0.8v0.8h-0.8zM53.8 511.5h0.8v0.8h-0.8zM69.9 511.7h0.8v0.8h-0.8zM71.5 512.5h0.8v0.8h-0.8zM62.3 514.6h0.8v0.8h-0.8zM62.0 512.7h0.8v0.8h-0.8zM72.6 509.0h0.8v0.8h-0.8zM73.5 506.1h0.8v0.8h-0.8zM62.2 502.8h0.8v0.8h-0.8zM59.6 520.4h0.8v0.8h-0.8zM66.9 518.7h0.8v0.8h-0.8zM51.9 506.6h0.8v0.8h-0.8zM67.9 516.4h0.8v0.8h-0.8zM70.9 503.1h0.8v0.8h-0.8zM68.2 511.6h0.8v0.8h-0.8zM65.0 514.5h0.8v0.8h-0.8zM61.7 503.0h0.8v0.8h-0.8zM55.2 504.3h0.8v0.8h-0.8zM53.1 511.3h0.8v0.8h-0.8zM74.8 508.2h0.8v0.8h-0.8zM57.7 505.9h0.8v0.8h-0.8zM49.7 512.4h0.8v0.8h-0.8zM60.0 510.7h0.8v0.8h-0.8zM56.1 514.6h0.8v0.8h-0.8zM54.1 514.9h0.8v0.8h-0.8zM58.5 516.2h0.8v0.8h-0.8zM56.7 514.4h0.8v0.8h-0.8zM67.6 511.6h0.8v0.8h-0.8zM77.5 512.9h0.8v0.8h-0.8zM56.7 515.7h0.8v0.8h-0.8zM57.2 509.1h0.8v0.8h-0.8zM64.1 513.0h0.8v0.8h-0.8zM78.1 502.7h0.8v0.8h-0.8zM61.9 518.0h0.8v0.8h-0.8zM62.7 513.7h0.8v0.8h-0.8zM76.6 505.5h0.8v0.8h-0.8zM64.4 516.2h0.8v0.8h-0.8zM59.1 502.7h0.8v0.8h-0.8zM55.7 513.0h0.8v0.8h-0.8zM65.6 521.8h0.8v0.8h-0.8zM75.0 503.8h0.8v0.8h-0.8zM72.6 516.9h0.8v0.8h-0.8zM77.4 511.2h0.8v0.8h-0.8zM59.4 512.8h0.8v0.8h-0.8zM76.8 515.3h0.8v0.8h-0.8zM78.1 516.2h0.8v0.8h-0.8zM59.1 506.6h0.8v0.8h-0.8zM79.3 504.0h0.8v0.8h-0.8zM61.1 510.3h0.8v0.8h-0.8zM56.5 509.0h0.8v0.8h-0.8zM64.1 524.6h0.8v0.8h-0.8zM63.5 509.2h0.8v0.8h-0.8zM65.0 517.0h0.8v0.8h-0.8zM57.2 509.8h0.8v0.8h-0.8zM69.6 520.0h0.8v0.8h-0.8zM54.1 523.6h0.8v0.8h-0.8zM71.2 510.5h0.8v0.8h-0.8zM60.8 510.4h0.8v0.8h-0.8zM54.0 516.1h0.8v0.8h-0.8zM59.0 508.2h0.8v0.8h-0.8zM68.3 512.6h0.8v0.8h-0.8zM59.2 510.8h0.8v0.8h-0.8zM59.9 519.2h0.8v0.8h-0.8zM72.3 508.1h0.8v0.8h-0.8zM63.7 519.3h0.8v0.8h-0.8zM61.6 521.5h0.8v0.8h-0.8zM67.7 515.6h0.8v0.8h-0.8zM66.8 515.1h0.8v0.8h-0.8zM68.0 514.8h0.8v0.8h-0.8zM59.8 516.8h0.8v0.8h-0.8zM64.5 506.4h0.8v0.8h-0.8zM55.6 512.9h0.8v0.8h-0.8zM66.8 500.3h0.8v0.8h-0.8zM63.9 527.2h0.8v0.8h-0.8zM51.3 510.7h0.8v0.8h-0.8zM59.0 515.0h0.8v0.8h-0.8zM75.7 520.6h0.8v0.8h-0.8zM55.6 518.6h0.8v0.8h-0.8zM53.9 513.6h0.8v0.8h-0.8zM65.4 515.3h0.8v0.8h-0.8zM57.4 519.1h0.8v0.8h-0.8zM63.4 511.9h0.8v0.8h-0.8zM61.8 506.3h0.8v0.8h-0.8zM70.0 513.8h0.8v0.8h-0.8zM67.8 521.9h0.8v0.8h-0.8zM56.8 510.5h0.8v0.8h-0.8zM64.1 516.6h0.8v0.8h-0.8zM62.5 517.0h0.8v0.8h-0.8zM67.8 502.6h0.8v0.8h-0.8zM58.3 501.2h0.8v0.8h-0.8zM61.6 509.8h0.8v0.8h-0.8zM68.9 512.9h0.8v0.8h-0.8zM63.5 518.7h0.8v0.8h-0.8zM68.9 505.4h0.8v0.8h-0.8zM58.3 513.8h0.8v0.8h-0.8zM78.1 510.9h0.8v0.8h-0.8zM62.6 513.4h0.8v0.8h-0.8zM70.5 511.5h0.8v0.8h-0.8zM66.4 509.8h0.8v0.8h-0.8zM59.4 507.8h0.8v0.8h-0.8zM69.5 509.0h0.8v0.8h-0.8zM68.6 514.2h0.8v0.8h-0.8zM72.1 497.7h0.8v0.8h-0.8zM56.0 505.5h0.8v0.8h-0.8zM62.6 516.3h0.8v0.8h-0.8zM85.0 520.2h0.8v0.8h-0.8zM75.3 514.0h0.8v0.8h-0.8zM60.8 514.9h0.8v0.8h-0.8zM64.1 515.3h0.8v0.8h-0.8zM55.5 506.2h0.8v0.8h-0.8zM58.7 511.8h0.8v0.8h-0.8zM66.9 510.1h0.8v0.8h-0.8zM66.9 515.6h0.8v0.8h-0.8zM54.4 511.5h0.8v0.8h-0.8zM51.1 509.1h0.8v0.8h-0.8zM71.5 508.2h0.8v0.8h-0.8zM79.5 514.7h0.8v0.8h-0.8zM71.4 512.6h0.8v0.8h-0.8zM71.2 517.8h0.8v0.8h-0.8zM64.9 509.2h0.8v0.8h-0.8zM59.4 522.3h0.8v0.8h-0.8zM62.5 509.6h0.8v0.8h-0.8zM58.1 503.0h0.8v0.8h-0.8zM59.9 513.7h0.8v0.8h-0.8zM60.0 507.9h0.8v0.8h-0.8zM67.4 514.5h0.8v0.8h-0.8zM60.4 513.6h0.8v0.8h-0.8zM55.9 516.6h0.8v0.8h-0.8zM55.8 510.2h0.8v0.8h-0.8zM65.1 509.8h0.8v0.8h-0.8zM54.5 523.2h0.8v0.8h-0.8zM76.6 502.7h0.8v0.8h-0.8zM65.0 505.2h0.8v0.8h-0.8zM66.6 505.0h0.8v0.8h-0.8zM68.8 514.8h0.8v0.8h-0.8zM78.2 518.4h0.8v0.8h-0.8zM60.2 517.1h0.8v0.8h-0.8zM60.2 511.4h0.8v0.8h-0.8zM59.8 502.6h0.8v0.8h-0.8zM69.0 501.1h0.8v0.8h-0.8zM62.0 514.8h0.8v0.8h-0.8zM65.0 503.6h0.8v0.8h-0.8zM58.6 515.6h0.8v0.8h-0.8zM73.1 520.5h0.8v0.8h-0.8zM60.0 516.1h0.8v0.8h-0.8zM50.0 511.2h0.8v0.8h-0.8zM69.9 508.5h0.8v0.8h-0.8zM61.0 506.8h0.8v0.8h-0.8zM73.3 504.9h0.8v0.8h-0.8zM56.4 510.2h0.8v0.8h-0.8zM61.4 523.3h0.8v0.8h-0.8zM66.3 507.5h0.8v0.8h-0.8zM68.8 513.8h0.8v0.8h-0.8zM66.3 511.7h0.8v0.8h-0.8zM67.8 505.7h0.8v0.8h-0.8zM54.0 509.7h0.8v0.8h-0.8zM54.8 515.8h0.8v0.8h-0.8zM80.1 518.6h0.8v0.8h-0.8zM67.7 513.8h0.8v0.8h-0.8zM58.3 505.0h0.8v0.8h-0.8zM68.6 504.1h0.8v0.8h-0.8zM66.5 511.2h0.8v0.8h-0.8zM70.2 512.3h0.8v0.8h-0.8zM64.9 508.9h0.8v0.8h-0.8zM49.7 510.2h0.8v0.8h-0.8zM69.8 517.6h0.8v0.8h-0.8zM75.4 506.7h0.8v0.8h-0.8zM56.2 515.8h0.8v0.8h-0.8zM60.2 525.8h0.8v0.8h-0.8zM66.6 503.9h0.8v0.8h-0.8zM59.4 520.4h0.8v0.8h-0.8zM52.5 520.6h0.8v0.8h-0.8zM60.3 506.5h0.8v0.8h-0.8zM49.8 508.2h0.8v0.8h-0.8zM82.1 512.5h0.8v0.8h-0.8zM61.8 505.8h0.8v0.8h-0.8zM66.8 509.5h0.8v0.8h-0.8zM57.0 519.4h0.8v0.8h-0.8zM67.7 507.2h0.8v0.8h-0.8zM76.3 511.7h0.8v0.8h-0.8zM68.2 512.8h0.8v0.8h-0.8zM73.8 515.3h0.8v0.8h-0.8zM61.1 515.8h0.8v0.8h-0.8zM60.8 512.7h0.8v0.8h-0.8zM77.6 506.3h0.8v0.8h-0.8zM55.4 509.9h0.8v0.8h-0.8zM59.9 519.0h0.8v0.8h-0.8zM50.8 524.3h0.8v0.8h-0.8zM77.2 509.6h0.8v0.8h-0.8zM65.5 510.1h0.8v0.8h-0.8zM69.6 515.6h0.8v0.8h-0.8z" fill="#7a7a7a"/>
<path d="M72.5 518.5h0.8v0.8h-0.8zM83.4 513.0h0.8v0.8h-0.8zM72.0 512.9h0.8v0.8h-0.8zM65.9 515.3h0.8v0.8h-0.8zM65.0 516.0h0.8v0.8h-0.8zM57.6 513.1h0.8v0.8h-0.8zM59.9 507.2h0.8v0.8h-0.8zM58.9 511.1h0.8v0.8h-0.8zM64.1 504.9h0.8v0.8h-0.8zM63.1 507.4h0.8v0.8h-0.8zM57.9 515.1h0.8v0.8h-0.8zM75.8 515.7h0.8v0.8h-0.8zM61.0 511.4h0.8v0.8h-0.8zM77.9 504.5h0.8v0.8h-0.8zM76.1 505.2h0.8v0.8h-0.8zM59.6 514.3h0.8v0.8h-0.8zM63.4 523.7h0.8v0.8h-0.8zM70.1 513.7h0.8v0.8h-0.8zM74.4 514.2h0.8v0.8h-0.8zM58.0 520.6h0.8v0.8h-0.8zM79.4 521.5h0.8v0.8h-0.8zM54.6 525.2h0.8v0.8h-0.8zM61.6 518.5h0.8v0.8h-0.8zM76.6 527.9h0.8v0.8h-0.8zM50.5 508.0h0.8v0.8h-0.8zM76.5 516.9h0.8v0.8h-0.8zM62.6 496.9h0.8v0.8h-0.8zM69.6 512.9h0.8v0.8h-0.8zM65.5 515.4h0.8v0.8h-0.8zM72.5 512.4h0.8v0.8h-0.8zM57.2 511.9h0.8v0.8h-0.8zM83.9 510.0h0.8v0.8h-0.8zM64.8 525.1h0.8v0.8h-0.8zM75.3 514.7h0.8v0.8h-0.8zM72.3 512.4h0.8v0.8h-0.8zM57.1 519.9h0.8v0.8h-0.8zM66.8 523.4h0.8v0.8h-0.8zM63.1 511.8h0.8v0.8h-0.8zM68.7 512.9h0.8v0.8h-0.8zM62.6 508.8h0.8v0.8h-0.8zM67.9 515.9h0.8v0.8h-0.8zM82.5 513.8h0.8v0.8h-0.8zM86.8 511.4h0.8v0.8h-0.8zM58.0 513.0h0.8v0.8h-0.8zM63.7 505.1h0.8v0.8h-0.8zM70.9 508.9h0.8v0.8h-0.8zM71.4 525.3h0.8v0.8h-0.8zM77.1 515.1h0.8v0.8h-0.8zM60.7 512.5h0.8v0.8h-0.8zM74.5 511.0h0.8v0.8h-0.8zM69.4 519.7h0.8v0.8h-0.8zM57.1 510.5h0.8v0.8h-0.8zM69.7 514.0h0.8v0.8h-0.8zM64.3 510.9h0.8v0.8h-0.8zM64.9 524.9h0.8v0.8h-0.8zM78.2 504.5h0.8v0.8h-0.8zM65.9 514.5h0.8v0.8h-0.8zM65.8 505.9h0.8v0.8h-0.8zM64.3 514.9h0.8v0.8h-0.8zM59.1 515.8h0.8v0.8h-0.8zM66.4 516.3h0.8v0.8h-0.8zM64.0 511.3h0.8v0.8h-0.8zM67.2 520.4h0.8v0.8h-0.8zM73.9 513.5h0.8v0.8h-0.8zM61.2 520.2h0.8v0.8h-0.8zM70.5 519.2h0.8v0.8h-0.8zM62.9 508.9h0.8v0.8h-0.8zM67.2 510.3h0.8v0.8h-0.8zM76.2 519.0h0.8v0.8h-0.8zM77.9 520.1h0.8v0.8h-0.8zM61.1 508.9h0.8v0.8h-0.8zM74.5 520.0h0.8v0.8h-0.8zM66.1 507.2h0.8v0.8h-0.8zM51.3 515.6h0.8v0.8h-0.8zM57.8 510.0h0.8v0.8h-0.8zM69.6 520.2h0.8v0.8h-0.8zM77.6 513.8h0.8v0.8h-0.8zM62.3 517.8h0.8v0.8h-0.8zM54.9 506.8h0.8v0.8h-0.8zM65.7 523.2h0.8v0.8h-0.8zM75.0 514.0h0.8v0.8h-0.8zM74.9 511.6h0.8v0.8h-0.8zM54.5 504.2h0.8v0.8h-0.8zM68.0 519.3h0.8v0.8h-0.8zM69.0 513.8h0.8v0.8h-0.8zM61.8 520.4h0.8v0.8h-0.8zM65.1 505.5h0.8v0.8h-0.8zM78.3 510.2h0.8v0.8h-0.8zM69.2 514.0h0.8v0.8h-0.8zM75.3 515.5h0.8v0.8h-0.8zM76.9 515.2h0.8v0.8h-0.8zM61.2 511.0h0.8v0.8h-0.8zM71.6 509.1h0.8v0.8h-0.8zM74.2 512.6h0.8v0.8h-0.8zM56.8 508.9h0.8v0.8h-0.8zM64.2 524.4h0.8v0.8h-0.8zM72.7 514.1h0.8v0.8h-0.8zM57.1 525.2h0.8v0.8h-0.8zM62.9 514.0h0.8v0.8h-0.8zM61.5 521.8h0.8v0.8h-0.8zM67.1 511.3h0.8v0.8h-0.8zM67.2 508.1h0.8v0.8h-0.8zM55.7 513.1h0.8v0.8h-0.8zM84.1 507.5h0.8v0.8h-0.8zM64.2 504.7h0.8v0.8h-0.8zM67.1 515.2h0.8v0.8h-0.8zM72.4 506.2h0.8v0.8h-0.8zM59.9 510.2h0.8v0.8h-0.8zM63.2 527.4h0.8v0.8h-0.8zM63.6 513.8h0.8v0.8h-0.8zM60.8 518.7h0.8v0.8h-0.8zM89.4 520.8h0.8v0.8h-0.8zM79.8 507.7h0.8v0.8h-0.8zM75.4 514.2h0.8v0.8h-0.8zM77.2 520.2h0.8v0.8h-0.8zM71.6 504.1h0.8v0.8h-0.8zM66.7 511.1h0.8v0.8h-0.8zM69.7 514.2h0.8v0.8h-0.8zM75.3 504.6h0.8v0.8h-0.8zM58.6 513.6h0.8v0.8h-0.8zM68.5 511.6h0.8v0.8h-0.8zM65.2 514.3h0.8v0.8h-0.8zM75.3 513.3h0.8v0.8h-0.8zM67.8 503.3h0.8v0.8h-0.8zM68.8 500.4h0.8v0.8h-0.8zM69.3 513.4h0.8v0.8h-0.8zM65.5 509.7h0.8v0.8h-0.8zM61.6 518.9h0.8v0.8h-0.8zM68.8 513.8h0.8v0.8h-0.8zM60.9 515.2h0.8v0.8h-0.8zM76.6 513.9h0.8v0.8h-0.8zM62.1 507.1h0.8v0.8h-0.8zM66.4 508.6h0.8v0.8h-0.8zM52.1 519.1h0.8v0.8h-0.8zM59.7 502.0h0.8v0.8h-0.8zM58.8 524.9h0.8v0.8h-0.8zM64.5 506.2h0.8v0.8h-0.8zM55.2 518.2h0.8v0.8h-0.8zM69.3 515.3h0.8v0.8h-0.8zM63.7 516.9h0.8v0.8h-0.8zM79.9 516.9h0.8v0.8h-0.8zM64.0 505.8h0.8v0.8h-0.8zM69.7 523.2h0.8v0.8h-0.8zM71.6 506.6h0.8v0.8h-0.8zM67.2 521.7h0.8v0.8h-0.8zM59.6 516.9h0.8v0.8h-0.8zM76.8 523.6h0.8v0.8h-0.8zM50.6 503.7h0.8v0.8h-0.8zM69.0 518.1h0.8v0.8h-0.8zM62.2 513.9h0.8v0.8h-0.8zM61.7 521.1h0.8v0.8h-0.8zM53.5 510.0h0.8v0.8h-0.8zM51.2 508.6h0.8v0.8h-0.8zM65.3 514.2h0.8v0.8h-0.8zM82.2 512.7h0.8v0.8h-0.8zM68.7 516.1h0.8v0.8h-0.8zM67.9 522.7h0.8v0.8h-0.8zM66.8 514.9h0.8v0.8h-0.8zM64.4 514.0h0.8v0.8h-0.8zM65.0 519.9h0.8v0.8h-0.8zM65.7 514.4h0.8v0.8h-0.8zM65.1 518.5h0.8v0.8h-0.8zM61.1 519.5h0.8v0.8h-0.8zM60.1 518.1h0.8v0.8h-0.8zM83.5 515.4h0.8v0.8h-0.8zM64.7 507.0h0.8v0.8h-0.8zM72.4 514.1h0.8v0.8h-0.8zM74.0 510.1h0.8v0.8h-0.8zM70.4 524.7h0.8v0.8h-0.8zM69.3 512.1h0.8v0.8h-0.8zM53.3 513.9h0.8v0.8h-0.8zM71.7 517.5h0.8v0.8h-0.8zM55.0 507.9h0.8v0.8h-0.8zM56.4 508.0h0.8v0.8h-0.8zM62.9 515.6h0.8v0.8h-0.8zM83.5 515.2h0.8v0.8h-0.8zM79.1 504.2h0.8v0.8h-0.8zM80.0 518.7h0.8v0.8h-0.8zM69.6 518.9h0.8v0.8h-0.8zM71.3 525.3h0.8v0.8h-0.8zM73.1 503.7h0.8v0.8h-0.8zM64.7 521.8h0.8v0.8h-0.8zM62.3 510.1h0.8v0.8h-0.8zM62.3 515.9h0.8v0.8h-0.8zM67.3 510.3h0.8v0.8h-0.8zM70.5 517.7h0.8v0.8h-0.8zM56.9 507.4h0.8v0.8h-0.8zM65.6 509.9h0.8v0.8h-0.8zM59.8 513.2h0.8v0.8h-0.8zM65.8 517.4h0.8v0.8h-0.8zM73.3 516.6h0.8v0.8h-0.8zM76.0 508.3h0.8v0.8h-0.8zM71.2 516.2h0.8v0.8h-0.8zM55.7 510.0h0.8v0.8h-0.8zM69.7 514.4h0.8v0.8h-0.8zM53.7 510.7h0.8v0.8h-0.8zM79.8 519.0h0.8v0.8h-0.8zM66.3 522.0h0.8v0.8h-0.8zM57.0 513.0h0.8v0.8h-0.8zM74.5 512.0h0.8v0.8h-0.8zM55.0 517.5h0.8v0.8h-0.8zM80.5 499.0h0.8v0.8h-0.8zM66.9 506.6h0.8v0.8h-0.8zM62.7 505.6h0.8v0.8h-0.8zM89.9 510.0h0.8v0.8h-0.8zM65.9 509.8h0.8v0.8h-0.8zM56.2 511.3h0.8v0.8h-0.8zM67.4 524.4h0.8v0.8h-0.8zM68.2 523.3h0.8v0.8h-0.8zM55.5 514.4h0.8v0.8h-0.8zM61.4 504.7h0.8v0.8h-0.8zM100.5 512.6h0.8v0.8h-0.8zM67.8 509.5h0.8v0.8h-0.8zM60.1 507.9h0.8v0.8h-0.8zM75.1 511.6h0.8v0.8h-0.8zM64.1 515.1h0.8v0.8h-0.8zM54.0 515.4h0.8v0.8h-0.8zM63.9 516.6h0.8v0.8h-0.8zM61.9 514.2h0.8v0.8h-0.8zM70.4 519.7h0.8v0.8h-0.8zM59.0 519.8h0.8v0.8h-0.8zM56.2 512.9h0.8v0.8h-0.8zM66.7 514.9h0.8v0.8h-0.8zM63.8 519.5h0.8v0.8h-0.8zM58.9 523.0h0.8v0.8h-0.8zM70.6 514.1h0.8v0.8h-0.8zM68.0 519.5h0.8v0.8h-0.8zM57.9 517.5h0.8v0.8h-0.8zM75.5 512.6h0.8v0.8h-0.8zM57.5 507.7h0.8v0.8h-0.8zM69.5 509.2h0.8v0.8h-0.8zM88.8 517.4h0.8v0.8h-0.8zM53.2 512.3h0.8v0.8h-0.8zM79.8 518.0h0.8v0.8h-0.8zM55.9 520.1h0.8v0.8h-0.8zM61.0 527.1h0.8v0.8h-0.8zM60.3 517.5h0.8v0.8h-0.8zM70.8 511.4h0.8v0.8h-0.8zM64.1 520.9h0.8v0.8h-0.8zM70.2 513.6h0.8v0.8h-0.8zM69.7 524.4h0.8v0.8h-0.8zM74.3 516.8h0.8v0.8h-0.8zM68.6 504.7h0.8v0.8h-0.8zM66.8 511.1h0.8v0.8h-0.8zM72.4 510.4h0.8v0.8h-0.8zM69.7 507.8h0.8v0.8h-0.8zM73.9 509.7h0.8v0.8h-0.8zM65.2 517.4h0.8v0.8h-0.8zM62.5 514.0h0.8v0.8h-0.8zM75.5 524.5h0.8v0.8h-0.8zM71.8 519.6h0.8v0.8h-0.8zM61.1 514.6h0.8v0.8h-0.8zM63.7 527.5h0.8v0.8h-0.8zM63.6 506.9h0.8v0.8h-0.8zM50.9 506.4h0.8v0.8h-0.8zM77.7 511.7h0.8v0.8h-0.8zM83.8 517.8h0.8v0.8h-0.8zM69.1 517.8h0.8v0.8h-0.8zM72.9 519.5h0.8v0.8h-0.8zM56.3 510.7h0.8v0.8h-0.8zM60.4 514.6h0.8v0.8h-0.8zM63.1 506.7h0.8v0.8h-0.8zM59.0 524.6h0.8v0.8h-0.8zM85.4 508.9h0.8v0.8h-0.8zM69.1 513.8h0.8v0.8h-0.8zM57.6 518.2h0.8v0.8h-0.8zM64.8 523.9h0.8v0.8h-0.8zM69.8 512.2h0.8v0.8h-0.8zM73.5 509.8h0.8v0.8h-0.8zM73.8 518.0h0.8v0.8h-0.8zM68.5 518.5h0.8v0.8h-0.8zM67.0 513.9h0.8v0.8h-0.8zM62.2 512.3h0.8v0.8h-0.8zM65.5 507.7h0.8v0.8h-0.8zM71.5 512.1h0.8v0.8h-0.8zM70.4 511.0h0.8v0.8h-0.8zM69.4 514.8h0.8v0.8h-0.8zM73.9 516.7h0.8v0.8h-0.8zM74.3 513.0h0.8v0.8h-0.8zM65.0 512.5h0.8v0.8h-0.8zM53.7 513.3h0.8v0.8h-0.8zM75.7 518.6h0.8v0.8h-0.8zM57.5 515.8h0.8v0.8h-0.8zM72.6 505.9h0.8v0.8h-0.8zM68.8 516.0h0.8v0.8h-0.8zM72.5 515.5h0.8v0.8h-0.8zM84.1 511.7h0.8v0.8h-0.8zM77.4 521.5h0.8v0.8h-0.8zM66.3 507.2h0.8v0.8h-0.8zM78.3 513.8h0.8v0.8h-0.8zM70.4 516.8h0.8v0.8h-0.8zM74.4 520.0h0.8v0.8h-0.8zM52.2 505.7h0.8v0.8h-0.8zM66.8 514.1h0.8v0.8h-0.8zM72.8 513.2h0.8v0.8h-0.8zM63.8 526.0h0.8v0.8h-0.8zM78.4 520.9h0.8v0.8h-0.8zM75.2 509.3h0.8v0.8h-0.8zM64.7 513.6h0.8v0.8h-0.8zM55.2 508.9h0.8v0.8h-0.8zM67.0 506.8h0.8v0.8h-0.8zM70.6 516.8h0.8v0.8h-0.8zM63.3 512.0h0.8v0.8h-0.8zM71.2 516.8h0.8v0.8h-0.8zM68.9 506.8h0.8v0.8h-0.8zM50.3 526.1h0.8v0.8h-0.8zM59.4 511.8h0.8v0.8h-0.8zM58.6 518.7h0.8v0.8h-0.8zM61.6 511.1h0.8v0.8h-0.8zM58.2 511.4h0.8v0.8h-0.8zM50.7 515.6h0.8v0.8h-0.8zM76.7 514.9h0.8v0.8h-0.8zM60.5 521.5h0.8v0.8h-0.8zM70.1 507.9h0.8v0.8h-0.8zM60.1 510.4h0.8v0.8h-0.8zM65.1 521.2h0.8v0.8h-0.8zM58.9 513.1h0.8v0.8h-0.8zM66.6 507.0h0.8v0.8h-0.8zM61.0 517.6h0.8v0.8h-0.8zM76.1 502.9h0.8v0.8h-0.8zM72.1 512.3h0.8v0.8h-0.8zM77.6 517.7h0.8v0.8h-0.8zM84.0 515.8h0.8v0.8h-0.8zM61.8 509.1h0.8v0.8h-0.8zM52.1 517.3h0.8v0.8h-0.8zM70.3 518.8h0.8v0.8h-0.8zM68.8 505.2h0.8v0.8h-0.8zM61.7 512.6h0.8v0.8h-0.8zM67.0 518.5h0.8v0.8h-0.8zM78.8 515.7h0.8v0.8h-0.8zM54.2 515.4h0.8v0.8h-0.8zM63.4 520.6h0.8v0.8h-0.8zM75.6 511.3h0.8v0.8h-0.8zM74.4 514.1h0.8v0.8h-0.8zM69.8 521.9h0.8v0.8h-0.8zM54.7 513.6h0.8v0.8h-0.8zM79.9 509.5h0.8v0.8h-0.8zM67.5 514.8h0.8v0.8h-0.8zM61.6 506.3h0.8v0.8h-0.8zM59.1 508.2h0.8v0.8h-0.8zM75.7 515.5h0.8v0.8h-0.8zM72.1 507.0h0.8v0.8h-0.8zM70.2 514.8h0.8v0.8h-0.8zM75.3 509.8h0.8v0.8h-0.8zM73.1 522.1h0.8v0.8h-0.8zM82.4 508.5h0.8v0.8h-0.8zM55.0 505.4h0.8v0.8h-0.8zM74.5 517.5h0.8v0.8h-0.8zM68.7 508.9h0.8v0.8h-0.8zM77.3 523.4h0.8v0.8h-0.8zM65.2 513.3h0.8v0.8h-0.8zM76.7 517.0h0.8v0.8h-0.8zM78.1 511.6h0.8v0.8h-0.8zM68.7 512.0h0.8v0.8h-0.8zM60.2 512.3h0.8v0.8h-0.8zM62.8 517.0h0.8v0.8h-0.8zM62.7 514.4h0.8v0.8h-0.8zM57.9 506.8h0.8v0.8h-0.8zM78.9 508.2h0.8v0.8h-0.8zM82.5 519.5h0.8v0.8h-0.8zM61.6 514.1h0.8v0.8h-0.8zM63.8 510.5h0.8v0.8h-0.8zM77.3 513.3h0.8v0.8h-0.8zM74.5 510.0h0.8v0.8h-0.8zM59.0 521.8h0.8v0.8h-0.8zM62.9 507.5h0.8v0.8h-0.8zM63.9 520.2h0.8v0.8h-0.8zM64.0 509.8h0.8v0.8h-0.8zM71.5 519.8h0.8v0.8h-0.8zM63.6 512.1h0.8v0.8h-0.8zM62.1 529.9h0.8v0.8h-0.8zM63.7 524.3h0.8v0.8h-0.8zM64.1 516.4h0.8v0.8h-0.8zM66.0 512.1h0.8v0.8h-0.8zM61.7 506.0h0.8v0.8h-0.8zM51.5 515.0h0.8v0.8h-0.8zM59.5 513.5h0.8v0.8h-0.8zM63.8 511.0h0.8v0.8h-0.8zM58.7 524.9h0.8v0.8h-0.8zM55.2 511.0h0.8v0.8h-0.8zM62.7 507.2h0.8v0.8h-0.8zM56.5 519.1h0.8v0.8h-0.8zM74.3 514.8h0.8v0.8h-0.8zM95.9 518.9h0.8v0.8h-0.8zM77.1 509.2h0.8v0.8h-0.8zM75.7 523.9h0.8v0.8h-0.8zM62.0 524.6h0.8v0.8h-0.8zM58.0 507.4h0.8v0.8h-0.8zM65.1 509.3h0.8v0.8h-0.8zM71.5 507.5h0.8v0.8h-0.8zM66.3 502.5h0.8v0.8h-0.8zM65.2 520.2h0.8v0.8h-0.8zM63.0 515.8h0.8v0.8h-0.8zM75.8 507.6h0.8v0.8h-0.8zM53.6 514.5h0.8v0.8h-0.8zM68.1 512.4h0.8v0.8h-0.8zM56.4 521.1h0.8v0.8h-0.8zM54.6 512.5h0.8v0.8h-0.8zM65.1 518.3h0.8v0.8h-0.8zM61.3 509.2h0.8v0.8h-0.8zM84.4 509.1h0.8v0.8h-0.8zM73.0 513.1h0.8v0.8h-0.8zM61.1 513.7h0.8v0.8h-0.8zM63.1 515.8h0.8v0.8h-0.8zM66.2 508.3h0.8v0.8h-0.8zM61.9 527.7h0.8v0.8h-0.8zM82.8 517.8h0.8v0.8h-0.8zM67.7 512.2h0.8v0.8h-0.8zM78.6 511.4h0.8v0.8h-0.8zM57.8 518.1h0.8v0.8h-0.8zM56.5 509.4h0.8v0.8h-0.8zM79.1 504.6h0.8v0.8h-0.8zM64.9 514.7h0.8v0.8h-0.8zM68.0 505.5h0.8v0.8h-0.8zM63.4 512.0h0.8v0.8h-0.8zM83.6 519.9h0.8v0.8h-0.8zM58.4 519.1h0.8v0.8h-0.8zM71.7 513.3h0.8v0.8h-0.8zM63.3 512.4h0.8v0.8h-0.8zM51.1 510.3h0.8v0.8h-0.8zM74.3 522.5h0.8v0.8h-0.8zM82.9 511.8h0.8v0.8h-0.8zM71.3 499.9h0.8v0.8h-0.8zM63.0 506.6h0.8v0.8h-0.8zM73.3 504.3h0.8v0.8h-0.8zM55.8 507.5h0.8v0.8h-0.8zM69.3 518.9h0.8v0.8h-0.8zM56.9 524.6h0.8v0.8h-0.8zM67.0 509.1h0.8v0.8h-0.8zM68.8 513.9h0.8v0.8h-0.8zM73.3 516.0h0.8v0.8h-0.8zM86.1 520.9h0.8v0.8h-0.8zM59.6 518.6h0.8v0.8h-0.8zM72.7 508.1h0.8v0.8h-0.8zM58.5 509.3h0.8v0.8h-0.8zM63.5 521.2h0.8v0.8h-0.8zM60.3 514.4h0.8v0.8h-0.8zM72.3 519.7h0.8v0.8h-0.8zM68.5 507.9h0.8v0.8h-0.8zM86.2 519.1h0.8v0.8h-0.8zM78.3 523.5h0.8v0.8h-0.8zM78.7 516.4h0.8v0.8h-0.8zM70.0 517.7h0.8v0.8h-0.8zM51.5 518.8h0.8v0.8h-0.8zM56.4 516.5h0.8v0.8h-0.8zM56.1 518.2h0.8v0.8h-0.8zM61.0 528.6h0.8v0.8h-0.8zM67.4 517.0h0.8v0.8h-0.8zM57.1 512.3h0.8v0.8h-0.8zM65.0 512.3h0.8v0.8h-0.8zM61.5 508.9h0.8v0.8h-0.8zM72.7 511.8h0.8v0.8h-0.8zM57.9 516.1h0.8v0.8h-0.8zM58.0 513.0h0.8v0.8h-0.8zM60.8 508.6h0.8v0.8h-0.8zM63.4 509.2h0.8v0.8h-0.8zM53.8 516.1h0.8v0.8h-0.8zM62.8 505.4h0.8v0.8h-0.8zM61.9 515.1h0.8v0.8h-0.8zM69.6 516.2h0.8v0.8h-0.8zM67.9 517.5h0.8v0.8h-0.8zM60.9 509.3h0.8v0.8h-0.8zM71.3 511.6h0.8v0.8h-0.8zM65.7 517.8h0.8v0.8h-0.8zM74.4 521.2h0.8v0.8h-0.8zM59.1 511.8h0.8v0.8h-0.8zM70.8 505.6h0.8v0.8h-0.8zM53.8 517.6h0.8v0.8h-0.8zM59.8 508.6h0.8v0.8h-0.8zM73.1 517.1h0.8v0.8h-0.8zM74.2 512.1h0.8v0.8h-0.8zM62.9 512.0h0.8v0.8h-0.8zM68.4 502.1h0.8v0.8h-0.8zM59.1 518.1h0.8v0.8h-0.8zM58.3 513.6h0.8v0.8h-0.8zM66.7 517.0h0.8v0.8h-0.8zM61.1 507.4h0.8v0.8h-0.8zM88.9 509.8h0.8v0.8h-0.8zM81.6 503.7h0.8v0.8h-0.8zM66.6 512.9h0.8v0.8h-0.8zM83.3 525.9h0.8v0.8h-0.8zM74.7 508.1h0.8v0.8h-0.8zM58.1 509.6h0.8v0.8h-0.8zM60.8 515.5h0.8v0.8h-0.8zM58.2 512.6h0.8v0.8h-0.8zM79.3 522.4h0.8v0.8h-0.8zM62.1 521.6h0.8v0.8h-0.8zM62.5 525.1h0.8v0.8h-0.8zM69.0 522.4h0.8v0.8h-0.8zM57.6 512.2h0.8v0.8h-0.8zM75.1 517.3h0.8v0.8h-0.8zM67.3 517.7h0.8v0.8h-0.8zM59.7 524.2h0.8v0.8h-0.8zM67.0 522.5h0.8v0.8h-0.8zM69.4 514.5h0.8v0.8h-0.8zM62.6 507.2h0.8v0.8h-0.8zM73.7 518.4h0.8v0.8h-0.8zM74.3 511.8h0.8v0.8h-0.8zM56.2 511.8h0.8v0.8h-0.8zM62.7 513.9h0.8v0.8h-0.8zM74.8 508.7h0.8v0.8h-0.8zM61.0 518.0h0.8v0.8h-0.8zM74.0 526.9h0.8v0.8h-0.8zM70.5 509.1h0.8v0.8h-0.8zM55.9 509.4h0.8v0.8h-0.8zM66.3 515.5h0.8v0.8h-0.8zM65.0 510.4h0.8v0.8h-0.8zM63.9 513.6h0.8v0.8h-0.8zM71.1 514.5h0.8v0.8h-0.8zM58.0 507.2h0.8v0.8h-0.8zM79.4 513.5h0.8v0.8h-0.8zM64.0 513.9h0.8v0.8h-0.8zM76.1 512.2h0.8v0.8h-0.8zM67.2 512.6h0.8v0.8h-0.8zM71.0 508.1h0.8v0.8h-0.8zM67.5 520.0h0.8v0.8h-0.8zM76.7 517.6h0.8v0.8h-0.8zM68.4 523.2h0.8v0.8h-0.8zM72.2 522.1h0.8v0.8h-0.8zM54.4 507.6h0.8v0.8h-0.8zM73.1 512.5h0.8v0.8h-0.8zM61.6 508.5h0.8v0.8h-0.8zM79.5 507.1h0.8v0.8h-0.8zM66.6 505.9h0.8v0.8h-0.8zM64.0 527.1h0.8v0.8h-0.8zM88.3 511.1h0.8v0.8h-0.8zM56.2 523.5h0.8v0.8h-0.8zM57.6 503.6h0.8v0.8h-0.8zM68.9 507.7h0.8v0.8h-0.8zM52.1 520.5h0.8v0.8h-0.8zM58.8 507.8h0.8v0.8h-0.8zM67.2 512.9h0.8v0.8h-0.8zM76.1 514.6h0.8v0.8h-0.8zM80.4 520.6h0.8v0.8h-0.8zM82.2 520.5h0.8v0.8h-0.8zM66.3 517.2h0.8v0.8h-0.8zM65.8 505.0h0.8v0.8h-0.8zM54.7 518.3h0.8v0.8h-0.8zM53.7 513.6h0.8v0.8h-0.8zM56.0 515.5h0.8v0.8h-0.8zM63.8 511.3h0.8v0.8h-0.8zM57.8 501.1h0.8v0.8h-0.8zM66.3 506.5h0.8v0.8h-0.8zM62.9 516.2h0.8v0.8h-0.8zM75.4 518.1h0.8v0.8h-0.8zM79.4 505.8h0.8v0.8h-0.8zM71.9 523.1h0.8v0.8h-0.8zM69.3 507.6h0.8v0.8h-0.8zM69.3 511.0h0.8v0.8h-0.8zM59.7 520.2h0.8v0.8h-0.8zM64.0 507.5h0.8v0.8h-0.8zM59.4 525.4h0.8v0.8h-0.8zM57.8 517.9h0.8v0.8h-0.8zM67.3 520.8h0.8v0.8h-0.8zM63.1 508.5h0.8v0.8h-0.8zM59.7 508.0h0.8v0.8h-0.8zM89.8 515.1h0.8v0.8h-0.8zM62.7 521.3h0.8v0.8h-0.8zM71.8 513.0h0.8v0.8h-0.8zM71.4 515.6h0.8v0.8h-0.8zM76.1 523.6h0.8v0.8h-0.8zM62.7 513.8h0.8v0.8h-0.8zM64.0 521.1h0.8v0.8h-0.8zM69.2 518.6h0.8v0.8h-0.8zM74.0 510.3h0.8v0.8h-0.8zM66.8 522.1h0.8v0.8h-0.8zM74.2 518.7h0.8v0.8h-0.8zM63.0 511.9h0.8v0.8h-0.8zM57.7 512.4h0.8v0.8h-0.8zM65.1 505.7h0.8v0.8h-0.8zM76.4 509.6h0.8v0.8h-0.8zM68.0 517.5h0.8v0.8h-0.8zM60.5 503.5h0.8v0.8h-0.8zM74.6 516.4h0.8v0.8h-0.8zM63.3 520.6h0.8v0.8h-0.8zM74.0 508.5h0.8v0.8h-0.8zM64.9 503.8h0.8v0.8h-0.8zM63.2 522.2h0.8v0.8h-0.8zM57.9 518.8h0.8v0.8h-0.8zM51.7 512.3h0.8v0.8h-0.8zM74.4 524.0h0.8v0.8h-0.8zM69.9 518.4h0.8v0.8h-0.8zM81.6 499.9h0.8v0.8h-0.8zM49.8 525.0h0.8v0.8h-0.8zM88.5 517.5h0.8v0.8h-0.8zM66.3 515.5h0.8v0.8h-0.8zM65.9 510.5h0.8v0.8h-0.8zM65.5 513.3h0.8v0.8h-0.8zM71.9 518.0h0.8v0.8h-0.8zM74.7 517.4h0.8v0.8h-0.8zM56.7 522.1h0.8v0.8h-0.8zM68.7 510.9h0.8v0.8h-0.8zM83.0 507.7h0.8v0.8h-0.8zM54.8 511.1h0.8v0.8h-0.8zM69.5 518.6h0.8v0.8h-0.8zM66.7 517.9h0.8v0.8h-0.8zM59.2 510.5h0.8v0.8h-0.8zM66.9 506.2h0.8v0.8h-0.8zM67.4 511.7h0.8v0.8h-0.8zM72.0 508.1h0.8v0.8h-0.8zM60.8 510.7h0.8v0.8h-0.8zM62.3 508.2h0.8v0.8h-0.8zM63.3 506.2h0.8v0.8h-0.8zM70.6 517.9h0.8v0.8h-0.8zM65.5 512.9h0.8v0.8h-0.8zM57.4 508.4h0.8v0.8h-0.8zM63.6 508.8h0.8v0.8h-0.8zM54.8 515.0h0.8v0.8h-0.8zM65.5 511.7h0.8v0.8h-0.8zM58.1 513.7h0.8v0.8h-0.8zM59.3 511.5h0.8v0.8h-0.8zM67.4 518.2h0.8v0.8h-0.8zM72.6 510.5h0.8v0.8h-0.8zM76.8 507.3h0.8v0.8h-0.8zM64.1 521.6h0.8v0.8h-0.8zM87.5 514.8h0.8v0.8h-0.8zM62.3 511.9h0.8v0.8h-0.8zM54.5 513.2h0.8v0.8h-0.8zM61.7 509.6h0.8v0.8h-0.8zM76.7 509.5h0.8v0.8h-0.8zM81.3 518.9h0.8v0.8h-0.8zM71.6 510.6h0.8v0.8h-0.8zM61.0 502.4h0.8v0.8h-0.8zM68.2 512.5h0.8v0.8h-0.8zM69.2 510.1h0.8v0.8h-0.8zM70.1 505.3h0.8v0.8h-0.8zM75.5 495.8h0.8v0.8h-0.8zM77.5 512.0h0.8v0.8h-0.8zM64.2 505.1h0.8v0.8h-0.8zM56.5 518.1h0.8v0.8h-0.8zM58.9 513.8h0.8v0.8h-0.8zM64.2 525.5h0.8v0.8h-0.8zM73.8 506.4h0.8v0.8h-0.8zM61.2 507.4h0.8v0.8h-0.8zM52.9 510.1h0.8v0.8h-0.8zM75.8 514.3h0.8v0.8h-0.8zM71.8 513.2h0.8v0.8h-0.8zM61.8 514.5h0.8v0.8h-0.8zM64.9 525.2h0.8v0.8h-0.8zM82.2 516.2h0.8v0.8h-0.8zM71.2 502.5h0.8v0.8h-0.8zM64.5 527.9h0.8v0.8h-0.8zM58.3 518.7h0.8v0.8h-0.8zM76.8 511.7h0.8v0.8h-0.8zM63.6 511.4h0.8v0.8h-0.8zM72.9 514.1h0.8v0.8h-0.8zM79.4 520.9h0.8v0.8h-0.8zM65.5 529.1h0.8v0.8h-0.8zM62.8 510.5h0.8v0.8h-0.8zM63.5 508.9h0.8v0.8h-0.8zM61.8 513.6h0.8v0.8h-0.8zM73.8 504.8h0.8v0.8h-0.8zM52.8 509.5h0.8v0.8h-0.8zM62.8 516.6h0.8v0.8h-0.8zM58.4 522.8h0.8v0.8h-0.8zM60.8 512.8h0.8v0.8h-0.8zM66.1 520.8h0.8v0.8h-0.8zM68.4 514.2h0.8v0.8h-0.8zM60.7 515.0h0.8v0.8h-0.8zM69.3 512.0h0.8v0.8h-0.8zM65.4 503.3h0.8v0.8h-0.8zM60.8 520.9h0.8v0.8h-0.8zM78.6 513.6h0.8v0.8h-0.8zM64.1 528.9h0.8v0.8h-0.8zM61.8 519.8h0.8v0.8h-0.8zM60.0 522.0h0.8v0.8h-0.8zM76.2 507.8h0.8v0.8h-0.8zM77.5 530.6h0.8v0.8h-0.8zM63.6 507.0h0.8v0.8h-0.8zM68.2 511.7h0.8v0.8h-0.8zM51.9 507.9h0.8v0.8h-0.8zM67.9 505.2h0.8v0.8h-0.8zM75.5 516.6h0.8v0.8h-0.8zM64.0 522.2h0.8v0.8h-0.8zM57.1 518.0h0.8v0.8h-0.8zM53.2 512.1h0.8v0.8h-0.8zM71.5 510.9h0.8v0.8h-0.8zM64.6 517.8h0.8v0.8h-0.8zM79.6 521.6h0.8v0.8h-0.8zM69.8 512.5h0.8v0.8h-0.8zM52.4 524.0h0.8v0.8h-0.8zM82.8 501.5h0.8v0.8h-0.8zM73.6 513.8h0.8v0.8h-0.8zM72.1 515.8h0.8v0.8h-0.8zM63.8 514.0h0.8v0.8h-0.8zM65.3 520.8h0.8v0.8h-0.8zM63.2 510.8h0.8v0.8h-0.8zM71.6 517.8h0.8v0.8h-0.8zM69.6 515.7h0.8v0.8h-0.8zM79.1 520.5h0.8v0.8h-0.8zM67.5 512.8h0.8v0.8h-0.8zM71.6 503.1h0.8v0.8h-0.8zM60.8 509.9h0.8v0.8h-0.8zM67.2 511.8h0.8v0.8h-0.8zM88.1 518.3h0.8v0.8h-0.8zM69.3 527.1h0.8v0.8h-0.8zM65.6 512.1h0.8v0.8h-0.8zM76.9 518.8h0.8v0.8h-0.8zM74.1 521.1h0.8v0.8h-0.8zM62.3 510.2h0.8v0.8h-0.8zM59.0 514.6h0.8v0.8h-0.8zM74.8 507.9h0.8v0.8h-0.8zM60.7 506.2h0.8v0.8h-0.8zM83.9 518.7h0.8v0.8h-0.8zM67.6 506.9h0.8v0.8h-0.8zM56.2 510.2h0.8v0.8h-0.8zM65.9 506.6h0.8v0.8h-0.8zM63.5 521.1h0.8v0.8h-0.8zM65.7 514.6h0.8v0.8h-0.8zM64.3 510.0h0.8v0.8h-0.8zM52.9 513.6h0.8v0.8h-0.8zM56.2 510.8h0.8v0.8h-0.8zM51.0 513.5h0.8v0.8h-0.8zM73.9 509.1h0.8v0.8h-0.8zM68.6 505.1h0.8v0.8h-0.8zM70.9 517.2h0.8v0.8h-0.8zM62.0 519.2h0.8v0.8h-0.8zM57.6 514.3h0.8v0.8h-0.8zM81.0 513.9h0.8v0.8h-0.8zM55.3 520.7h0.8v0.8h-0.8zM70.5 512.4h0.8v0.8h-0.8zM51.7 522.7h0.8v0.8h-0.8zM68.3 509.0h0.8v0.8h-0.8zM76.1 522.6h0.8v0.8h-0.8zM57.9 516.8h0.8v0.8h-0.8zM50.6 516.2h0.8v0.8h-0.8zM82.2 505.7h0.8v0.8h-0.8zM66.1 510.3h0.8v0.8h-0.8zM64.7 514.5h0.8v0.8h-0.8zM68.1 519.2h0.8v0.8h-0.8zM70.3 520.1h0.8v0.8h-0.8zM74.8 520.4h0.8v0.8h-0.8zM59.4 516.4h0.8v0.8h-0.8zM62.2 509.1h0.8v0.8h-0.8zM83.4 515.7h0.8v0.8h-0.8zM66.0 501.7h0.8v0.8h-0.8zM63.5 518.5h0.8v0.8h-0.8zM63.7 510.8h0.8v0.8h-0.8zM79.0 512.2h0.8v0.8h-0.8zM62.6 513.4h0.8v0.8h-0.8zM63.4 520.2h0.8v0.8h-0.8zM70.8 513.6h0.8v0.8h-0.8zM62.3 512.7h0.8v0.8h-0.8zM81.0 512.2h0.8v0.8h-0.8zM71.5 504.8h0.8v0.8h-0.8zM68.5 518.0h0.8v0.8h-0.8zM77.2 515.9h0.8v0.8h-0.8zM70.9 515.9h0.8v0.8h-0.8zM75.3 526.0h0.8v0.8h-0.8zM67.4 509.2h0.8v0.8h-0.8zM71.0 513.4h0.8v0.8h-0.8zM71.4 518.5h0.8v0.8h-0.8zM67.0 511.4h0.8v0.8h-0.8zM68.4 506.7h0.8v0.8h-0.8zM68.1 508.8h0.8v0.8h-0.8zM69.7 514.7h0.8v0.8h-0.8zM63.6 507.0h0.8v0.8h-0.8zM66.0 510.0h0.8v0.8h-0.8zM64.3 518.1h0.8v0.8h-0.8zM74.3 506.5h0.8v0.8h-0.8zM74.1 522.0h0.8v0.8h-0.8zM75.8 515.6h0.8v0.8h-0.8zM64.8 524.2h0.8v0.8h-0.8zM62.7 505.1h0.8v0.8h-0.8zM66.4 515.7h0.8v0.8h-0.8zM56.2 506.9h0.8v0.8h-0.8zM83.6 514.7h0.8v0.8h-0.8zM72.7 510.6h0.8v0.8h-0.8zM51.8 513.0h0.8v0.8h-0.8zM77.8 510.1h0.8v0.8h-0.8zM63.0 514.1h0.8v0.8h-0.8zM56.1 512.2h0.8v0.8h-0.8zM60.7 519.2h0.8v0.8h-0.8zM67.0 519.1h0.8v0.8h-0.8zM65.1 501.5h0.8v0.8h-0.8zM73.6 519.1h0.8v0.8h-0.8zM64.9 503.5h0.8v0.8h-0.8zM61.1 516.4h0.8v0.8h-0.8zM78.1 512.0h0.8v0.8h-0.8zM60.5 509.5h0.8v0.8h-0.8zM74.9 519.1h0.8v0.8h-0.8zM57.2 505.4h0.8v0.8h-0.8zM51.1 509.7h0.8v0.8h-0.8zM86.7 529.0h0.8v0.8h-0.8zM54.3 510.1h0.8v0.8h-0.8zM67.0 516.4h0.8v0.8h-0.8zM61.3 504.7h0.8v0.8h-0.8zM61.9 510.0h0.8v0.8h-0.8zM52.3 503.8h0.8v0.8h-0.8zM79.4 519.5h0.8v0.8h-0.8zM78.8 514.7h0.8v0.8h-0.8zM61.9 513.5h0.8v0.8h-0.8zM53.2 518.3h0.8v0.8h-0.8zM68.1 512.2h0.8v0.8h-0.8zM80.4 522.5h0.8v0.8h-0.8zM73.6 511.9h0.8v0.8h-0.8zM66.9 517.3h0.8v0.8h-0.8zM67.4 520.1h0.8v0.8h-0.8zM59.6 500.4h0.8v0.8h-0.8zM53.0 517.9h0.8v0.8h-0.8zM75.4 514.0h0.8v0.8h-0.8zM70.5 514.5h0.8v0.8h-0.8zM67.2 511.2h0.8v0.8h-0.8zM61.9 521.0h0.8v0.8h-0.8zM63.2 513.8h0.8v0.8h-0.8zM76.5 519.8h0.8v0.8h-0.8zM62.0 515.5h0.8v0.8h-0.8zM56.4 514.8h0.8v0.8h-0.8zM68.5 514.0h0.8v0.8h-0.8zM67.1 516.1h0.8v0.8h-0.8zM66.3 511.1h0.8v0.8h-0.8zM56.8 512.6h0.8v0.8h-0.8zM80.2 512.7h0.8v0.8h-0.8zM59.7 511.2h0.8v0.8h-0.8zM54.8 516.8h0.8v0.8h-0.8zM56.6 519.3h0.8v0.8h-0.8zM73.9 517.4h0.8v0.8h-0.8zM75.1 513.5h0.8v0.8h-0.8zM49.6 513.6h0.8v0.8h-0.8zM71.4 504.9h0.8v0.8h-0.8zM54.5 520.4h0.8v0.8h-0.8zM69.6 521.9h0.8v0.8h-0.8zM71.7 514.4h0.8v0.8h-0.8zM69.5 519.0h0.8v0.8h-0.8zM65.4 512.8h0.8v0.8h-0.8zM68.5 512.2h0.8v0.8h-0.8zM87.6 509.5h0.8v0.8h-0.8zM51.8 506.4h0.8v0.8h-0.8zM75.1 511.6h0.8v0.8h-0.8zM67.1 512.7h0.8v0.8h-0.8zM68.1 505.5h0.8v0.8h-0.8zM66.4 510.6h0.8v0.8h-0.8zM75.5 517.7h0.8v0.8h-0.8zM54.1 508.3h0.8v0.8h-0.8zM70.8 521.0h0.8v0.8h-0.8zM72.6 513.1h0.8v0.8h-0.8zM75.8 500.2h0.8v0.8h-0.8zM60.7 508.3h0.8v0.8h-0.8zM56.2 517.3h0.8v0.8h-0.8zM68.2 515.7h0.8v0.8h-0.8zM64.4 517.6h0.8v0.8h-0.8zM72.8 510.6h0.8v0.8h-0.8zM74.2 508.6h0.8v0.8h-0.8zM81.7 506.4h0.8v0.8h-0.8zM63.0 507.6h0.8v0.8h-0.8zM66.0 521.7h0.8v0.8h-0.8zM58.8 524.4h0.8v0.8h-0.8zM78.5 516.3h0.8v0.8h-0.8zM60.2 519.3h0.8v0.8h-0.8zM74.4 513.8h0.8v0.8h-0.8zM88.4 510.0h0.8v0.8h-0.8zM53.4 512.7h0.8v0.8h-0.8zM70.9 524.0h0.8v0.8h-0.8zM77.2 510.0h0.8v0.8h-0.8zM61.4 506.9h0.8v0.8h-0.8zM72.7 518.9h0.8v0.8h-0.8zM71.0 515.4h0.8v0.8h-0.8zM74.7 513.3h0.8v0.8h-0.8zM72.2 518.8h0.8v0.8h-0.8zM77.6 517.0h0.8v0.8h-0.8zM66.4 518.2h0.8v0.8h-0.8zM51.4 503.6h0.8v0.8h-0.8zM80.5 514.8h0.8v0.8h-0.8zM56.0 510.6h0.8v0.8h-0.8zM64.2 514.4h0.8v0.8h-0.8zM58.6 519.9h0.8v0.8h-0.8zM49.9 530.5h0.8v0.8h-0.8zM55.6 523.8h0.8v0.8h-0.8zM71.8 504.1h0.8v0.8h-0.8zM54.3 514.4h0.8v0.8h-0.8zM68.1 511.5h0.8v0.8h-0.8zM65.7 515.0h0.8v0.8h-0.8zM55.1 514.4h0.8v0.8h-0.8zM86.6 510.2h0.8v0.8h-0.8zM56.3 517.9h0.8v0.8h-0.8zM78.1 520.2h0.8v0.8h-0.8zM59.8 513.6h0.8v0.8h-0.8zM67.5 512.8h0.8v0.8h-0.8zM69.3 520.4h0.8v0.8h-0.8zM70.7 513.9h0.8v0.8h-0.8zM63.8 524.6h0.8v0.8h-0.8zM54.2 525.8h0.8v0.8h-0.8zM72.5 514.5h0.8v0.8h-0.8zM58.7 524.8h0.8v0.8h-0.8zM76.9 519.4h0.8v0.8h-0.8zM85.0 503.4h0.8v0.8h-0.8zM66.6 512.2h0.8v0.8h-0.8zM58.9 514.4h0.8v0.8h-0.8zM70.6 517.1h0.8v0.8h-0.8zM64.3 506.2h0.8v0.8h-0.8zM70.8 517.6h0.8v0.8h-0.8zM85.3 519.5h0.8v0.8h-0.8zM65.8 507.2h0.8v0.8h-0.8zM91.0 510.0h0.8v0.8h-0.8zM67.5 518.4h0.8v0.8h-0.8zM70.3 521.9h0.8v0.8h-0.8zM56.0 509.9h0.8v0.8h-0.8zM67.3 506.7h0.8v0.8h-0.8zM59.9 522.2h0.8v0.8h-0.8zM68.4 513.4h0.8v0.8h-0.8zM60.3 514.3h0.8v0.8h-0.8zM65.3 507.6h0.8v0.8h-0.8zM73.0 506.4h0.8v0.8h-0.8zM77.6 512.0h0.8v0.8h-0.8zM68.3 508.9h0.8v0.8h-0.8zM82.6 522.2h0.8v0.8h-0.8zM85.3 519.3h0.8v0.8h-0.8zM78.3 510.4h0.8v0.8h-0.8zM77.8 511.4h0.8v0.8h-0.8zM65.2 505.9h0.8v0.8h-0.8zM66.2 516.4h0.8v0.8h-0.8zM65.0 507.4h0.8v0.8h-0.8zM74.1 519.4h0.8v0.8h-0.8zM64.8 518.7h0.8v0.8h-0.8zM74.9 508.2h0.8v0.8h-0.8zM65.3 502.9h0.8v0.8h-0.8zM55.9 516.5h0.8v0.8h-0.8zM57.4 516.3h0.8v0.8h-0.8zM69.0 501.7h0.8v0.8h-0.8zM61.1 523.0h0.8v0.8h-0.8zM65.8 514.7h0.8v0.8h-0.8zM59.0 504.5h0.8v0.8h-0.8zM50.6 531.1h0.8v0.8h-0.8zM63.9 508.8h0.8v0.8h-0.8zM66.7 502.5h0.8v0.8h-0.8zM78.8 524.2h0.8v0.8h-0.8zM58.5 515.9h0.8v0.8h-0.8zM57.1 519.1h0.8v0.8h-0.8zM57.7 513.1h0.8v0.8h-0.8zM78.0 517.1h0.8v0.8h-0.8zM62.5 504.9h0.8v0.8h-0.8zM50.6 521.2h0.8v0.8h-0.8zM70.5 514.3h0.8v0.8h-0.8zM77.5 514.9h0.8v0.8h-0.8zM58.7 513.4h0.8v0.8h-0.8zM64.7 513.9h0.8v0.8h-0.8zM89.2 517.5h0.8v0.8h-0.8zM68.2 512.5h0.8v0.8h-0.8zM59.2 508.1h0.8v0.8h-0.8zM51.2 502.9h0.8v0.8h-0.8zM56.7 501.9h0.8v0.8h-0.8zM78.6 521.5h0.8v0.8h-0.8zM56.4 526.2h0.8v0.8h-0.8zM71.9 498.9h0.8v0.8h-0.8zM65.8 508.0h0.8v0.8h-0.8zM76.6 516.7h0.8v0.8h-0.8zM51.7 510.0h0.8v0.8h-0.8zM58.4 520.9h0.8v0.8h-0.8zM64.7 508.1h0.8v0.8h-0.8zM56.9 502.2h0.8v0.8h-0.8zM57.6 519.4h0.8v0.8h-0.8zM64.5 518.9h0.8v0.8h-0.8zM54.7 519.5h0.8v0.8h-0.8zM80.4 527.7h0.8v0.8h-0.8zM50.1 513.8h0.8v0.8h-0.8zM63.6 514.7h0.8v0.8h-0.8zM56.2 519.1h0.8v0.8h-0.8zM87.9 523.0h0.8v0.8h-0.8zM56.5 510.5h0.8v0.8h-0.8zM72.5 514.8h0.8v0.8h-0.8zM58.3 521.4h0.8v0.8h-0.8zM70.5 520.1h0.8v0.8h-0.8zM63.9 521.7h0.8v0.8h-0.8zM61.1 507.3h0.8v0.8h-0.8zM65.5 505.6h0.8v0.8h-0.8zM77.5 518.4h0.8v0.8h-0.8zM73.7 511.8h0.8v0.8h-0.8zM69.5 510.5h0.8v0.8h-0.8zM64.9 513.5h0.8v0.8h-0.8zM70.2 508.2h0.8v0.8h-0.8zM54.8 516.0h0.8v0.8h-0.8zM60.7 517.1h0.8v0.8h-0.8zM60.8 506.1h0.8v0.8h-0.8zM72.6 515.6h0.8v0.8h-0.8zM72.5 512.0h0.8v0.8h-0.8zM62.1 521.6h0.8v0.8h-0.8zM70.5 513.7h0.8v0.8h-0.8zM66.4 517.6h0.8v0.8h-0.8zM58.2 515.7h0.8v0.8h-0.8zM56.5 502.9h0.8v0.8h-0.8zM67.5 514.6h0.8v0.8h-0.8zM71.7 517.3h0.8v0.8h-0.8zM72.2 518.8h0.8v0.8h-0.8zM55.5 521.3h0.8v0.8h-0.8zM91.1 510.6h0.8v0.8h-0.8zM53.5 518.1h0.8v0.8h-0.8zM74.3 520.1h0.8v0.8h-0.8zM80.2 505.7h0.8v0.8h-0.8zM69.1 516.8h0.8v0.8h-0.8zM77.5 508.6h0.8v0.8h-0.8zM65.8 511.8h0.8v0.8h-0.8zM64.0 513.1h0.8v0.8h-0.8zM64.1 503.4h0.8v0.8h-0.8zM65.2 514.4h0.8v0.8h-0.8zM61.9 492.6h0.8v0.8h-0.8zM58.9 510.1h0.8v0.8h-0.8zM57.2 523.6h0.8v0.8h-0.8zM74.4 512.9h0.8v0.8h-0.8zM71.3 533.8h0.8v0.8h-0.8zM56.3 516.9h0.8v0.8h-0.8zM59.8 522.9h0.8v0.8h-0.8zM76.1 513.3h0.8v0.8h-0.8zM71.4 509.2h0.8v0.8h-0.8zM50.4 519.1h0.8v0.8h-0.8zM81.2 512.2h0.8v0.8h-0.8zM60.5 503.2h0.8v0.8h-0.8zM86.1 506.8h0.8v0.8h-0.8zM56.3 512.8h0.8v0.8h-0.8zM77.1 514.3h0.8v0.8h-0.8zM65.3 514.1h0.8v0.8h-0.8zM73.6 513.8h0.8v0.8h-0.8zM67.0 513.6h0.8v0.8h-0.8zM54.9 522.1h0.8v0.8h-0.8zM58.9 506.1h0.8v0.8h-0.8zM61.4 514.2h0.8v0.8h-0.8zM73.4 505.1h0.8v0.8h-0.8zM53.4 515.1h0.8v0.8h-0.8zM69.2 507.4h0.8v0.8h-0.8zM54.7 515.1h0.8v0.8h-0.8zM64.2 504.3h0.8v0.8h-0.8zM57.1 522.9h0.8v0.8h-0.8zM55.4 520.3h0.8v0.8h-0.8zM50.9 523.0h0.8v0.8h-0.8zM80.8 510.2h0.8v0.8h-0.8zM59.0 517.8h0.8v0.8h-0.8zM53.7 517.3h0.8v0.8h-0.8zM77.2 515.6h0.8v0.8h-0.8zM68.6 513.1h0.8v0.8h-0.8zM75.1 509.1h0.8v0.8h-0.8zM80.7 513.9h0.8v0.8h-0.8zM62.4 504.2h0.8v0.8h-0.8zM61.3 515.4h0.8v0.8h-0.8zM77.4 504.3h0.8v0.8h-0.8zM64.3 509.9h0.8v0.8h-0.8zM54.1 514.0h0.8v0.8h-0.8zM58.3 519.2h0.8v0.8h-0.8zM70.5 512.0h0.8v0.8h-0.8zM66.7 508.2h0.8v0.8h-0.8zM55.5 509.6h0.8v0.8h-0.8zM65.0 508.9h0.8v0.8h-0.8zM61.5 508.8h0.8v0.8h-0.8zM67.7 507.1h0.8v0.8h-0.8zM65.3 514.6h0.8v0.8h-0.8zM74.7 509.5h0.8v0.8h-0.8zM54.6 505.0h0.8v0.8h-0.8zM72.7 510.2h0.8v0.8h-0.8zM74.9 513.5h0.8v0.8h-0.8zM62.9 502.8h0.8v0.8h-0.8zM59.0 518.8h0.8v0.8h-0.8zM59.7 518.1h0.8v0.8h-0.8zM49.8 520.1h0.8v0.8h-0.8zM92.1 520.7h0.8v0.8h-0.8zM68.6 506.6h0.8v0.8h-0.8zM60.5 510.1h0.8v0.8h-0.8zM67.3 501.8h0.8v0.8h-0.8zM57.3 518.8h0.8v0.8h-0.8zM66.9 518.5h0.8v0.8h-0.8zM73.6 507.1h0.8v0.8h-0.8zM52.7 516.8h0.8v0.8h-0.8zM65.8 514.5h0.8v0.8h-0.8zM57.7 520.1h0.8v0.8h-0.8zM70.2 520.9h0.8v0.8h-0.8zM62.1 518.2h0.8v0.8h-0.8zM64.9 508.3h0.8v0.8h-0.8zM64.7 504.0h0.8v0.8h-0.8zM63.8 515.1h0.8v0.8h-0.8zM72.1 507.7h0.8v0.8h-0.8zM52.8 509.6h0.8v0.8h-0.8zM90.4 514.9h0.8v0.8h-0.8zM58.3 509.9h0.8v0.8h-0.8zM82.4 507.0h0.8v0.8h-0.8zM64.4 513.5h0.8v0.8h-0.8zM58.5 509.7h0.8v0.8h-0.8zM77.9 522.5h0.8v0.8h-0.8zM62.8 518.2h0.8v0.8h-0.8zM69.9 514.7h0.8v0.8h-0.8zM64.2 521.3h0.8v0.8h-0.8zM70.9 512.6h0.8v0.8h-0.8zM63.3 519.6h0.8v0.8h-0.8zM59.8 509.7h0.8v0.8h-0.8zM62.9 511.0h0.8v0.8h-0.8zM77.5 516.1h0.8v0.8h-0.8zM64.7 510.8h0.8v0.8h-0.8zM79.0 516.7h0.8v0.8h-0.8zM85.4 519.5h0.8v0.8h-0.8zM63.5 510.7h0.8v0.8h-0.8zM62.8 515.1h0.8v0.8h-0.8zM73.0 516.9h0.8v0.8h-0.8zM80.5 504.8h0.8v0.8h-0.8zM65.8 505.5h0.8v0.8h-0.8zM55.7 510.4h0.8v0.8h-0.8zM59.3 508.2h0.8v0.8h-0.8zM51.0 520.8h0.8v0.8h-0.8zM62.4 519.8h0.8v0.8h-0.8zM55.0 500.0h0.8v0.8h-0.8zM59.8 519.3h0.8v0.8h-0.8zM60.2 516.4h0.8v0.8h-0.8zM55.2 522.4h0.8v0.8h-0.8zM69.6 520.3h0.8v0.8h-0.8zM62.9 521.7h0.8v0.8h-0.8zM66.2 511.1h0.8v0.8h-0.8zM59.4 514.3h0.8v0.8h-0.8zM56.8 506.8h0.8v0.8h-0.8zM66.7 518.3h0.8v0.8h-0.8zM62.7 519.1h0.8v0.8h-0.8zM80.6 506.4h0.8v0.8h-0.8zM67.9 508.2h0.8v0.8h-0.8zM59.4 515.1h0.8v0.8h-0.8zM73.5 517.3h0.8v0.8h-0.8zM71.7 524.9h0.8v0.8h-0.8zM62.0 520.6h0.8v0.8h-0.8zM79.3 517.0h0.8v0.8h-0.8zM62.7 504.3h0.8v0.8h-0.8zM64.9 518.5h0.8v0.8h-0.8zM63.0 512.9h0.8v0.8h-0.8zM79.5 510.3h0.8v0.8h-0.8zM56.5 514.2h0.8v0.8h-0.8zM76.2 517.6h0.8v0.8h-0.8zM66.2 511.0h0.8v0.8h-0.8zM77.2 519.3h0.8v0.8h-0.8zM71.3 510.2h0.8v0.8h-0.8zM53.2 512.2h0.8v0.8h-0.8zM60.6 503.4h0.8v0.8h-0.8zM65.3 521.1h0.8v0.8h-0.8zM53.4 511.9h0.8v0.8h-0.8zM82.8 515.1h0.8v0.8h-0.8zM60.2 515.1h0.8v0.8h-0.8zM72.9 508.0h0.8v0.8h-0.8zM64.6 504.2h0.8v0.8h-0.8zM50.4 504.7h0.8v0.8h-0.8zM73.5 515.9h0.8v0.8h-0.8zM72.5 521.3h0.8v0.8h-0.8zM65.9 515.4h0.8v0.8h-0.8zM69.4 516.8h0.8v0.8h-0.8zM55.4 512.3h0.8v0.8h-0.8zM64.0 514.2h0.8v0.8h-0.8zM58.3 513.2h0.8v0.8h-0.8zM68.2 515.1h0.8v0.8h-0.8zM71.1 518.9h0.8v0.8h-0.8zM70.8 519.8h0.8v0.8h-0.8zM73.5 522.4h0.8v0.8h-0.8zM71.5 510.3h0.8v0.8h-0.8zM87.7 520.8h0.8v0.8h-0.8zM77.4 518.4h0.8v0.8h-0.8zM65.9 507.1h0.8v0.8h-0.8zM69.7 511.9h0.8v0.8h-0.8zM61.7 501.1h0.8v0.8h-0.8zM80.2 507.0h0.8v0.8h-0.8zM55.0 516.8h0.8v0.8h-0.8zM70.9 509.2h0.8v0.8h-0.8zM65.4 515.5h0.8v0.8h-0.8zM67.0 517.2h0.8v0.8h-0.8zM72.9 511.8h0.8v0.8h-0.8zM50.1 527.0h0.8v0.8h-0.8zM61.8 508.0h0.8v0.8h-0.8zM72.6 517.5h0.8v0.8h-0.8zM59.6 528.1h0.8v0.8h-0.8zM65.1 515.9h0.8v0.8h-0.8zM68.5 512.6h0.8v0.8h-0.8zM68.5 506.2h0.8v0.8h-0.8zM61.7 525.1h0.8v0.8h-0.8zM73.9 511.5h0.8v0.8h-0.8zM60.0 505.0h0.8v0.8h-0.8zM64.3 512.9h0.8v0.8h-0.8zM59.4 504.6h0.8v0.8h-0.8zM67.0 516.5h0.8v0.8h-0.8zM76.4 517.1h0.8v0.8h-0.8zM80.0 521.2h0.8v0.8h-0.8zM64.5 507.7h0.8v0.8h-0.8zM69.6 519.8h0.8v0.8h-0.8zM50.7 506.6h0.8v0.8h-0.8zM72.0 510.7h0.8v0.8h-0.8zM79.4 515.3h0.8v0.8h-0.8zM60.2 506.0h0.8v0.8h-0.8zM71.2 503.6h0.8v0.8h-0.8zM53.1 506.1h0.8v0.8h-0.8zM81.7 524.3h0.8v0.8h-0.8zM63.4 511.7h0.8v0.8h-0.8zM72.2 521.5h0.8v0.8h-0.8zM57.8 527.2h0.8v0.8h-0.8zM63.5 520.8h0.8v0.8h-0.8zM58.8 525.9h0.8v0.8h-0.8zM63.4 506.3h0.8v0.8h-0.8zM84.1 509.9h0.8v0.8h-0.8zM65.5 506.5h0.8v0.8h-0.8zM72.0 515.2h0.8v0.8h-0.8zM62.7 511.6h0.8v0.8h-0.8zM60.0 509.7h0.8v0.8h-0.8zM52.1 521.3h0.8v0.8h-0.8zM74.0 505.6h0.8v0.8h-0.8zM54.4 516.4h0.8v0.8h-0.8zM87.1 512.8h0.8v0.8h-0.8zM62.5 512.5h0.8v0.8h-0.8zM67.9 512.9h0.8v0.8h-0.8zM75.8 519.9h0.8v0.8h-0.8zM70.8 523.5h0.8v0.8h-0.8zM63.3 510.7h0.8v0.8h-0.8zM93.9 502.4h0.8v0.8h-0.8zM50.6 499.8h0.8v0.8h-0.8zM68.9 507.6h0.8v0.8h-0.8zM75.6 501.4h0.8v0.8h-0.8zM64.2 511.6h0.8v0.8h-0.8zM55.2 520.7h0.8v0.8h-0.8zM61.7 516.7h0.8v0.8h-0.8zM60.5 514.9h0.8v0.8h-0.8zM61.2 514.4h0.8v0.8h-0.8zM64.5 509.9h0.8v0.8h-0.8zM69.7 512.9h0.8v0.8h-0.8zM56.2 507.7h0.8v0.8h-0.8zM69.7 522.0h0.8v0.8h-0.8zM53.0 511.5h0.8v0.8h-0.8zM69.8 520.3h0.8v0.8h-0.8zM72.3 506.9h0.8v0.8h-0.8zM65.8 519.4h0.8v0.8h-0.8zM67.8 512.6h0.8v0.8h-0.8zM54.2 515.0h0.8v0.8h-0.8zM64.9 514.2h0.8v0.8h-0.8zM79.8 521.1h0.8v0.8h-0.8zM57.9 515.4h0.8v0.8h-0.8zM62.5 514.6h0.8v0.8h-0.8zM81.1 519.5h0.8v0.8h-0.8zM65.9 510.0h0.8v0.8h-0.8zM63.9 516.2h0.8v0.8h-0.8zM60.7 520.6h0.8v0.8h-0.8zM65.7 506.9h0.8v0.8h-0.8zM85.0 496.5h0.8v0.8h-0.8zM62.9 513.3h0.8v0.8h-0.8zM74.9 520.7h0.8v0.8h-0.8zM79.4 523.4h0.8v0.8h-0.8zM68.5 514.7h0.8v0.8h-0.8zM75.2 513.8h0.8v0.8h-0.8zM53.5 511.3h0.8v0.8h-0.8zM71.8 517.7h0.8v0.8h-0.8zM54.9 521.2h0.8v0.8h-0.8zM68.4 504.9h0.8v0.8h-0.8zM70.0 520.1h0.8v0.8h-0.8zM70.6 512.1h0.8v0.8h-0.8zM57.8 520.7h0.8v0.8h-0.8zM67.7 514.0h0.8v0.8h-0.8zM61.7 507.8h0.8v0.8h-0.8zM76.1 518.6h0.8v0.8h-0.8zM59.0 523.2h0.8v0.8h-0.8zM63.3 507.9h0.8v0.8h-0.8zM74.8 522.3h0.8v0.8h-0.8zM61.8 506.6h0.8v0.8h-0.8zM64.9 499.4h0.8v0.8h-0.8zM66.0 523.2h0.8v0.8h-0.8zM68.1 509.6h0.8v0.8h-0.8zM72.3 511.0h0.8v0.8h-0.8zM77.6 511.8h0.8v0.8h-0.8zM84.9 511.9h0.8v0.8h-0.8zM67.3 508.3h0.8v0.8h-0.8zM53.3 516.1h0.8v0.8h-0.8zM68.8 508.1h0.8v0.8h-0.8zM70.8 511.5h0.8v0.8h-0.8zM60.2 513.6h0.8v0.8h-0.8zM69.3 518.4h0.8v0.8h-0.8zM77.3 516.3h0.8v0.8h-0.8zM58.6 509.9h0.8v0.8h-0.8zM69.0 506.8h0.8v0.8h-0.8zM63.9 511.7h0.8v0.8h-0.8zM64.6 515.1h0.8v0.8h-0.8zM75.4 523.9h0.8v0.8h-0.8zM73.9 520.1h0.8v0.8h-0.8zM55.3 520.2h0.8v0.8h-0.8zM77.9 505.8h0.8v0.8h-0.8zM89.6 510.6h0.8v0.8h-0.8zM66.1 509.2h0.8v0.8h-0.8zM60.0 520.4h0.8v0.8h-0.8zM67.9 511.7h0.8v0.8h-0.8zM76.5 508.4h0.8v0.8h-0.8zM57.4 510.6h0.8v0.8h-0.8zM58.4 518.1h0.8v0.8h-0.8zM63.3 507.7h0.8v0.8h-0.8zM61.1 502.1h0.8v0.8h-0.8zM67.1 514.6h0.8v0.8h-0.8zM71.3 512.6h0.8v0.8h-0.8zM69.3 508.4h0.8v0.8h-0.8zM65.7 514.9h0.8v0.8h-0.8zM53.9 517.5h0.8v0.8h-0.8zM66.9 514.3h0.8v0.8h-0.8zM60.9 526.0h0.8v0.8h-0.8zM65.5 509.4h0.8v0.8h-0.8zM57.4 517.6h0.8v0.8h-0.8zM63.5 509.3h0.8v0.8h-0.8zM58.6 519.6h0.8v0.8h-0.8zM66.3 520.3h0.8v0.8h-0.8zM65.3 506.9h0.8v0.8h-0.8zM73.8 515.9h0.8v0.8h-0.8zM59.3 512.1h0.8v0.8h-0.8zM56.2 519.0h0.8v0.8h-0.8zM61.5 516.9h0.8v0.8h-0.8zM68.0 512.4h0.8v0.8h-0.8zM69.0 512.5h0.8v0.8h-0.8zM54.3 511.5h0.8v0.8h-0.8zM54.3 518.5h0.8v0.8h-0.8zM71.7 510.5h0.8v0.8h-0.8zM71.4 515.5h0.8v0.8h-0.8zM74.8 508.4h0.8v0.8h-0.8zM65.7 508.0h0.8v0.8h-0.8zM59.0 522.2h0.8v0.8h-0.8zM70.1 518.7h0.8v0.8h-0.8zM58.0 501.8h0.8v0.8h-0.8zM76.0 519.4h0.8v0.8h-0.8zM58.5 522.1h0.8v0.8h-0.8zM63.7 517.7h0.8v0.8h-0.8zM63.7 523.6h0.8v0.8h-0.8zM60.6 501.1h0.8v0.8h-0.8zM62.5 515.1h0.8v0.8h-0.8zM68.1 509.7h0.8v0.8h-0.8zM63.3 507.2h0.8v0.8h-0.8zM63.3 514.5h0.8v0.8h-0.8zM67.8 523.9h0.8v0.8h-0.8zM69.6 507.1h0.8v0.8h-0.8zM66.2 514.0h0.8v0.8h-0.8zM56.0 518.3h0.8v0.8h-0.8zM83.6 518.0h0.8v0.8h-0.8zM72.9 520.4h0.8v0.8h-0.8zM64.3 519.8h0.8v0.8h-0.8zM57.8 515.1h0.8v0.8h-0.8zM72.2 521.8h0.8v0.8h-0.8zM62.8 512.2h0.8v0.8h-0.8zM69.9 513.5h0.8v0.8h-0.8zM66.8 518.8h0.8v0.8h-0.8zM58.2 519.2h0.8v0.8h-0.8zM69.1 512.4h0.8v0.8h-0.8zM53.6 510.2h0.8v0.8h-0.8zM65.1 519.6h0.8v0.8h-0.8zM67.3 507.2h0.8v0.8h-0.8zM73.6 516.4h0.8v0.8h-0.8zM69.6 508.2h0.8v0.8h-0.8zM55.0 519.4h0.8v0.8h-0.8zM78.8 516.2h0.8v0.8h-0.8zM63.7 511.3h0.8v0.8h-0.8zM64.6 521.4h0.8v0.8h-0.8zM58.7 520.3h0.8v0.8h-0.8zM58.7 517.5h0.8v0.8h-0.8zM78.5 509.8h0.8v0.8h-0.8zM74.1 514.0h0.8v0.8h-0.8zM56.6 515.2h0.8v0.8h-0.8zM71.6 509.7h0.8v0.8h-0.8zM63.0 510.6h0.8v0.8h-0.8zM58.2 512.7h0.8v0.8h-0.8zM73.3 511.0h0.8v0.8h-0.8zM77.3 511.7h0.8v0.8h-0.8zM59.0 520.4h0.8v0.8h-0.8zM78.8 510.1h0.8v0.8h-0.8zM71.0 507.1h0.8v0.8h-0.8zM61.7 511.8h0.8v0.8h-0.8zM72.2 506.5h0.8v0.8h-0.8zM60.7 509.9h0.8v0.8h-0.8zM66.4 506.7h0.8v0.8h-0.8zM52.9 530.8h0.8v0.8h-0.8zM67.5 505.0h0.8v0.8h-0.8zM73.3 506.2h0.8v0.8h-0.8zM77.3 509.0h0.8v0.8h-0.8zM55.2 516.8h0.8v0.8h-0.8zM84.6 517.6h0.8v0.8h-0.8zM71.7 507.0h0.8v0.8h-0.8zM75.0 514.8h0.8v0.8h-0.8zM65.4 522.2h0.8v0.8h-0.8zM57.6 520.5h0.8v0.8h-0.8zM73.3 510.3h0.8v0.8h-0.8zM66.7 514.6h0.8v0.8h-0.8zM71.0 508.2h0.8v0.8h-0.8zM63.3 514.5h0.8v0.8h-0.8zM65.8 514.1h0.8v0.8h-0.8zM67.8 512.9h0.8v0.8h-0.8zM60.8 520.1h0.8v0.8h-0.8zM59.5 512.1h0.8v0.8h-0.8zM57.2 507.2h0.8v0.8h-0.8zM69.7 513.7h0.8v0.8h-0.8zM64.2 516.7h0.8v0.8h-0.8zM63.9 518.0h0.8v0.8h-0.8zM82.4 516.1h0.8v0.8h-0.8zM63.0 523.8h0.8v0.8h-0.8zM72.1 504.1h0.8v0.8h-0.8zM78.0 515.2h0.8v0.8h-0.8zM73.5 507.2h0.8v0.8h-0.8zM57.6 510.2h0.8v0.8h-0.8zM70.7 507.3h0.8v0.8h-0.8zM58.9 519.6h0.8v0.8h-0.8zM59.5 514.7h0.8v0.8h-0.8zM57.1 503.9h0.8v0.8h-0.8zM64.7 513.3h0.8v0.8h-0.8zM52.1 519.7h0.8v0.8h-0.8zM73.2 519.2h0.8v0.8h-0.8zM60.7 507.2h0.8v0.8h-0.8zM64.6 515.0h0.8v0.8h-0.8zM63.9 510.5h0.8v0.8h-0.8zM56.2 509.7h0.8v0.8h-0.8zM64.7 511.1h0.8v0.8h-0.8zM81.1 512.4h0.8v0.8h-0.8zM69.7 511.3h0.8v0.8h-0.8zM63.8 508.3h0.8v0.8h-0.8zM61.0 505.2h0.8v0.8h-0.8zM55.6 516.5h0.8v0.8h-0.8zM64.3 510.6h0.8v0.8h-0.8zM72.3 510.7h0.8v0.8h-0.8zM69.5 511.8h0.8v0.8h-0.8zM74.5 519.6h0.8v0.8h-0.8zM66.1 520.4h0.8v0.8h-0.8zM70.2 523.2h0.8v0.8h-0.8zM64.4 504.9h0.8v0.8h-0.8zM67.5 515.4h0.8v0.8h-0.8zM62.1 512.8h0.8v0.8h-0.8zM63.0 506.6h0.8v0.8h-0.8zM81.5 509.4h0.8v0.8h-0.8zM55.5 504.7h0.8v0.8h-0.8zM57.6 513.8h0.8v0.8h-0.8zM79.2 517.5h0.8v0.8h-0.8zM58.7 506.7h0.8v0.8h-0.8zM55.1 513.5h0.8v0.8h-0.8zM73.6 511.2h0.8v0.8h-0.8zM80.4 525.4h0.8v0.8h-0.8zM67.0 501.3h0.8v0.8h-0.8zM75.6 513.4h0.8v0.8h-0.8zM71.7 519.8h0.8v0.8h-0.8zM56.1 514.4h0.8v0.8h-0.8zM67.1 509.6h0.8v0.8h-0.8zM71.9 513.2h0.8v0.8h-0.8zM61.7 525.0h0.8v0.8h-0.8zM67.0 523.6h0.8v0.8h-0.8zM64.0 520.1h0.8v0.8h-0.8zM58.5 514.9h0.8v0.8h-0.8zM75.5 501.2h0.8v0.8h-0.8zM70.5 512.4h0.8v0.8h-0.8zM75.6 515.0h0.8v0.8h-0.8zM64.8 506.5h0.8v0.8h-0.8zM92.8 509.7h0.8v0.8h-0.8zM62.5 509.7h0.8v0.8h-0.8zM62.7 515.3h0.8v0.8h-0.8zM53.1 520.2h0.8v0.8h-0.8zM63.0 517.5h0.8v0.8h-0.8zM62.7 511.7h0.8v0.8h-0.8zM59.3 515.8h0.8v0.8h-0.8zM69.3 508.2h0.8v0.8h-0.8zM62.5 520.3h0.8v0.8h-0.8zM73.6 513.4h0.8v0.8h-0.8zM52.2 511.9h0.8v0.8h-0.8zM58.7 521.3h0.8v0.8h-0.8zM49.7 519.4h0.8v0.8h-0.8zM51.2 510.6h0.8v0.8h-0.8zM52.3 509.9h0.8v0.8h-0.8zM61.4 516.2h0.8v0.8h-0.8zM60.0 518.0h0.8v0.8h-0.8zM81.7 514.9h0.8v0.8h-0.8zM54.8 512.9h0.8v0.8h-0.8zM64.5 511.9h0.8v0.8h-0.8zM76.1 520.8h0.8v0.8h-0.8zM84.0 517.1h0.8v0.8h-0.8zM71.7 509.2h0.8v0.8h-0.8zM59.9 519.3h0.8v0.8h-0.8zM66.8 507.4h0.8v0.8h-0.8zM60.0 495.9h0.8v0.8h-0.8zM65.4 506.8h0.8v0.8h-0.8zM65.0 507.0h0.8v0.8h-0.8zM56.8 511.0h0.8v0.8h-0.8zM91.3 507.0h0.8v0.8h-0.8zM54.4 510.8h0.8v0.8h-0.8zM75.3 518.7h0.8v0.8h-0.8zM71.9 512.1h0.8v0.8h-0.8zM66.6 509.5h0.8v0.8h-0.8zM63.8 509.2h0.8v0.8h-0.8zM52.0 508.1h0.8v0.8h-0.8zM83.3 516.3h0.8v0.8h-0.8zM58.5 513.3h0.8v0.8h-0.8zM61.2 521.1h0.8v0.8h-0.8zM65.2 510.2h0.8v0.8h-0.8zM71.7 515.9h0.8v0.8h-0.8zM59.1 509.4h0.8v0.8h-0.8zM66.7 504.4h0.8v0.8h-0.8zM57.0 519.9h0.8v0.8h-0.8zM73.4 520.5h0.8v0.8h-0.8zM61.3 510.5h0.8v0.8h-0.8zM62.9 511.2h0.8v0.8h-0.8zM77.3 512.7h0.8v0.8h-0.8zM78.0 509.8h0.8v0.8h-0.8zM68.9 523.5h0.8v0.8h-0.8zM58.5 510.1h0.8v0.8h-0.8zM59.9 504.5h0.8v0.8h-0.8zM62.7 510.2h0.8v0.8h-0.8zM85.8 511.2h0.8v0.8h-0.8zM74.2 513.8h0.8v0.8h-0.8zM68.1 518.2h0.8v0.8h-0.8zM60.2 514.2h0.8v0.8h-0.8zM66.7 523.7h0.8v0.8h-0.8zM78.5 515.0h0.8v0.8h-0.8zM53.0 519.2h0.8v0.8h-0.8zM64.9 520.8h0.8v0.8h-0.8zM65.9 515.0h0.8v0.8h-0.8zM71.5 509.7h0.8v0.8h-0.8zM59.3 527.4h0.8v0.8h-0.8zM57.4 519.5h0.8v0.8h-0.8zM71.7 518.8h0.8v0.8h-0.8zM78.1 506.1h0.8v0.8h-0.8zM74.2 501.9h0.8v0.8h-0.8zM65.9 516.0h0.8v0.8h-0.8zM74.9 520.3h0.8v0.8h-0.8zM56.8 512.4h0.8v0.8h-0.8zM63.9 509.9h0.8v0.8h-0.8zM57.8 510.1h0.8v0.8h-0.8zM76.0 522.0h0.8v0.8h-0.8zM72.3 523.9h0.8v0.8h-0.8zM66.2 507.6h0.8v0.8h-0.8zM59.3 515.2h0.8v0.8h-0.8zM74.9 521.1h0.8v0.8h-0.8zM57.1 519.6h0.8v0.8h-0.8zM60.5 517.5h0.8v0.8h-0.8zM73.9 522.7h0.8v0.8h-0.8zM60.5 515.4h0.8v0.8h-0.8zM69.3 511.5h0.8v0.8h-0.8zM66.2 517.5h0.8v0.8h-0.8zM50.2 510.2h0.8v0.8h-0.8zM86.7 516.6h0.8v0.8h-0.8zM60.2 503.2h0.8v0.8h-0.8zM56.5 517.0h0.8v0.8h-0.8zM71.7 516.6h0.8v0.8h-0.8zM70.9 510.4h0.8v0.8h-0.8zM80.1 507.4h0.8v0.8h-0.8zM70.1 512.4h0.8v0.8h-0.8zM62.8 518.2h0.8v0.8h-0.8zM77.1 515.0h0.8v0.8h-0.8zM59.3 512.7h0.8v0.8h-0.8zM64.7 522.5h0.8v0.8h-0.8zM73.3 523.3h0.8v0.8h-0.8zM72.4 509.5h0.8v0.8h-0.8zM73.9 519.7h0.8v0.8h-0.8zM64.2 516.7h0.8v0.8h-0.8zM62.4 506.6h0.8v0.8h-0.8zM64.5 518.5h0.8v0.8h-0.8zM62.0 500.8h0.8v0.8h-0.8zM58.0 520.4h0.8v0.8h-0.8zM67.4 520.6h0.8v0.8h-0.8zM58.4 511.5h0.8v0.8h-0.8zM56.1 509.4h0.8v0.8h-0.8zM70.1 514.8h0.8v0.8h-0.8zM60.9 515.7h0.8v0.8h-0.8zM53.3 511.7h0.8v0.8h-0.8zM51.5 505.2h0.8v0.8h-0.8zM52.8 507.5h0.8v0.8h-0.8zM79.9 522.1h0.8v0.8h-0.8zM77.0 510.6h0.8v0.8h-0.8zM71.1 507.3h0.8v0.8h-0.8zM60.4 515.4h0.8v0.8h-0.8zM50.6 515.2h0.8v0.8h-0.8zM71.0 501.8h0.8v0.8h-0.8zM64.2 514.8h0.8v0.8h-0.8zM54.9 517.3h0.8v0.8h-0.8zM66.5 509.7h0.8v0.8h-0.8zM80.5 515.5h0.8v0.8h-0.8zM72.2 524.9h0.8v0.8h-0.8zM60.8 512.7h0.8v0.8h-0.8zM69.4 528.8h0.8v0.8h-0.8zM70.6 515.2h0.8v0.8h-0.8zM53.7 509.0h0.8v0.8h-0.8zM66.4 515.8h0.8v0.8h-0.8zM56.9 512.7h0.8v0.8h-0.8zM57.9 517.7h0.8v0.8h-0.8zM71.3 510.7h0.8v0.8h-0.8zM61.1 506.7h0.8v0.8h-0.8zM61.0 526.9h0.8v0.8h-0.8zM65.2 519.1h0.8v0.8h-0.8zM70.7 522.7h0.8v0.8h-0.8zM62.3 508.6h0.8v0.8h-0.8zM74.9 519.4h0.8v0.8h-0.8zM59.2 520.5h0.8v0.8h-0.8zM65.2 513.7h0.8v0.8h-0.8zM82.3 517.1h0.8v0.8h-0.8zM68.2 512.1h0.8v0.8h-0.8zM67.2 520.2h0.8v0.8h-0.8zM69.6 509.5h0.8v0.8h-0.8zM69.5 513.3h0.8v0.8h-0.8zM68.2 512.8h0.8v0.8h-0.8zM61.8 500.9h0.8v0.8h-0.8zM51.4 526.0h0.8v0.8h-0.8zM71.8 511.3h0.8v0.8h-0.8zM68.4 500.7h0.8v0.8h-0.8zM67.6 519.8h0.8v0.8h-0.8zM67.1 506.2h0.8v0.8h-0.8zM74.3 510.8h0.8v0.8h-0.8zM60.1 515.2h0.8v0.8h-0.8zM62.5 526.1h0.8v0.8h-0.8zM64.1 526.7h0.8v0.8h-0.8zM69.5 506.6h0.8v0.8h-0.8zM65.3 514.3h0.8v0.8h-0.8zM78.7 521.6h0.8v0.8h-0.8zM89.0 510.0h0.8v0.8h-0.8zM61.3 527.8h0.8v0.8h-0.8zM57.0 516.1h0.8v0.8h-0.8zM80.3 508.0h0.8v0.8h-0.8zM62.1 509.6h0.8v0.8h-0.8zM70.2 516.4h0.8v0.8h-0.8zM65.0 517.9h0.8v0.8h-0.8zM58.0 511.8h0.8v0.8h-0.8zM69.7 526.0h0.8v0.8h-0.8zM65.0 514.3h0.8v0.8h-0.8zM77.5 514.4h0.8v0.8h-0.8zM77.4 515.4h0.8v0.8h-0.8zM76.1 515.1h0.8v0.8h-0.8zM56.8 508.9h0.8v0.8h-0.8zM69.3 525.2h0.8v0.8h-0.8zM82.7 512.1h0.8v0.8h-0.8zM88.6 507.4h0.8v0.8h-0.8zM57.5 519.5h0.8v0.8h-0.8zM51.2 519.4h0.8v0.8h-0.8zM68.9 517.7h0.8v0.8h-0.8zM54.1 516.3h0.8v0.8h-0.8zM74.1 513.7h0.8v0.8h-0.8zM74.9 514.1h0.8v0.8h-0.8zM68.5 512.1h0.8v0.8h-0.8zM52.7 513.1h0.8v0.8h-0.8zM70.0 509.5h0.8v0.8h-0.8zM77.6 512.7h0.8v0.8h-0.8zM58.2 521.4h0.8v0.8h-0.8zM63.7 505.0h0.8v0.8h-0.8zM61.3 508.7h0.8v0.8h-0.8zM63.6 508.5h0.8v0.8h-0.8zM66.0 516.7h0.8v0.8h-0.8zM60.0 512.8h0.8v0.8h-0.8zM63.9 518.9h0.8v0.8h-0.8zM58.7 518.5h0.8v0.8h-0.8zM77.0 512.8h0.8v0.8h-0.8zM56.3 512.2h0.8v0.8h-0.8zM54.2 513.0h0.8v0.8h-0.8zM61.9 517.1h0.8v0.8h-0.8zM66.4 516.5h0.8v0.8h-0.8zM64.9 515.7h0.8v0.8h-0.8zM54.8 518.0h0.8v0.8h-0.8zM77.5 520.6h0.8v0.8h-0.8zM52.8 516.5h0.8v0.8h-0.8zM50.2 518.5h0.8v0.8h-0.8zM63.4 511.2h0.8v0.8h-0.8zM58.4 512.6h0.8v0.8h-0.8zM65.3 508.2h0.8v0.8h-0.8zM65.9 515.6h0.8v0.8h-0.8zM70.3 513.7h0.8v0.8h-0.8zM65.3 527.9h0.8v0.8h-0.8zM74.8 515.9h0.8v0.8h-0.8zM52.4 517.7h0.8v0.8h-0.8zM70.7 498.1h0.8v0.8h-0.8zM63.8 516.3h0.8v0.8h-0.8zM65.7 514.6h0.8v0.8h-0.8zM63.9 522.3h0.8v0.8h-0.8zM68.9 512.3h0.8v0.8h-0.8zM63.2 526.5h0.8v0.8h-0.8zM57.3 510.8h0.8v0.8h-0.8zM68.4 514.9h0.8v0.8h-0.8zM68.2 522.1h0.8v0.8h-0.8zM76.0 516.5h0.8v0.8h-0.8zM65.8 513.6h0.8v0.8h-0.8zM63.2 520.0h0.8v0.8h-0.8zM53.5 507.8h0.8v0.8h-0.8zM61.1 508.2h0.8v0.8h-0.8zM58.5 521.2h0.8v0.8h-0.8zM53.1 512.5h0.8v0.8h-0.8zM60.0 508.1h0.8v0.8h-0.8zM51.5 514.4h0.8v0.8h-0.8zM61.7 520.6h0.8v0.8h-0.8zM82.7 512.2h0.8v0.8h-0.8zM57.9 512.3h0.8v0.8h-0.8zM69.8 519.6h0.8v0.8h-0.8zM56.5 516.8h0.8v0.8h-0.8zM65.1 520.9h0.8v0.8h-0.8zM61.6 512.8h0.8v0.8h-0.8zM57.4 506.1h0.8v0.8h-0.8zM67.9 518.3h0.8v0.8h-0.8zM75.9 515.6h0.8v0.8h-0.8zM61.1 508.5h0.8v0.8h-0.8zM54.5 509.7h0.8v0.8h-0.8zM68.5 514.5h0.8v0.8h-0.8zM62.7 507.7h0.8v0.8h-0.8zM65.2 517.2h0.8v0.8h-0.8zM55.7 505.9h0.8v0.8h-0.8zM62.4 515.6h0.8v0.8h-0.8zM63.0 523.3h0.8v0.8h-0.8zM66.8 508.0h0.8v0.8h-0.8zM72.7 510.1h0.8v0.8h-0.8zM71.9 514.6h0.8v0.8h-0.8zM77.0 508.0h0.8v0.8h-0.8zM72.2 516.6h0.8v0.8h-0.8zM56.9 518.2h0.8v0.8h-0.8zM86.7 516.1h0.8v0.8h-0.8zM58.2 513.1h0.8v0.8h-0.8zM77.6 515.5h0.8v0.8h-0.8zM79.3 510.1h0.8v0.8h-0.8zM77.7 504.5h0.8v0.8h-0.8zM63.8 512.2h0.8v0.8h-0.8zM60.8 521.3h0.8v0.8h-0.8zM59.8 516.1h0.8v0.8h-0.8zM82.8 519.0h0.8v0.8h-0.8zM61.5 509.6h0.8v0.8h-0.8zM73.8 520.6h0.8v0.8h-0.8zM67.7 526.9h0.8v0.8h-0.8zM72.7 500.1h0.8v0.8h-0.8zM57.1 518.8h0.8v0.8h-0.8zM61.7 519.0h0.8v0.8h-0.8zM89.6 509.4h0.8v0.8h-0.8zM86.2 513.5h0.8v0.8h-0.8zM51.6 514.6h0.8v0.8h-0.8zM73.9 510.5h0.8v0.8h-0.8zM80.3 508.8h0.8v0.8h-0.8zM63.6 519.5h0.8v0.8h-0.8zM63.4 510.7h0.8v0.8h-0.8zM65.3 517.9h0.8v0.8h-0.8zM81.8 522.2h0.8v0.8h-0.8zM83.1 513.8h0.8v0.8h-0.8zM49.8 513.8h0.8v0.8h-0.8zM61.5 508.0h0.8v0.8h-0.8zM60.6 513.6h0.8v0.8h-0.8zM65.9 519.5h0.8v0.8h-0.8zM56.8 520.9h0.8v0.8h-0.8zM65.9 518.4h0.8v0.8h-0.8zM77.2 506.6h0.8v0.8h-0.8zM80.5 509.7h0.8v0.8h-0.8zM69.2 520.5h0.8v0.8h-0.8zM74.2 504.6h0.8v0.8h-0.8zM67.0 520.8h0.8v0.8h-0.8zM64.3 513.5h0.8v0.8h-0.8zM66.1 523.9h0.8v0.8h-0.8zM60.3 508.3h0.8v0.8h-0.8zM55.0 510.8h0.8v0.8h-0.8zM63.2 516.1h0.8v0.8h-0.8zM64.7 503.7h0.8v0.8h-0.8zM50.6 518.1h0.8v0.8h-0.8zM72.3 505.9h0.8v0.8h-0.8zM74.3 499.4h0.8v0.8h-0.8zM87.5 517.5h0.8v0.8h-0.8zM49.8 517.1h0.8v0.8h-0.8zM65.1 511.3h0.8v0.8h-0.8zM62.0 512.7h0.8v0.8h-0.8zM64.5 508.6h0.8v0.8h-0.8zM60.1 517.4h0.8v0.8h-0.8zM70.5 506.0h0.8v0.8h-0.8zM60.8 523.4h0.8v0.8h-0.8zM72.3 523.9h0.8v0.8h-0.8zM52.7 507.8h0.8v0.8h-0.8zM61.9 507.7h0.8v0.8h-0.8zM55.1 509.8h0.8v0.8h-0.8zM63.7 519.0h0.8v0.8h-0.8zM70.8 503.4h0.8v0.8h-0.8zM79.6 512.0h0.8v0.8h-0.8zM56.0 513.8h0.8v0.8h-0.8zM61.7 505.7h0.8v0.8h-0.8zM80.3 510.5h0.8v0.8h-0.8zM59.8 517.2h0.8v0.8h-0.8zM81.4 516.9h0.8v0.8h-0.8zM56.9 516.6h0.8v0.8h-0.8zM76.0 516.3h0.8v0.8h-0.8zM71.6 511.1h0.8v0.8h-0.8zM64.8 503.9h0.8v0.8h-0.8zM58.7 507.2h0.8v0.8h-0.8zM65.6 523.0h0.8v0.8h-0.8zM56.7 513.5h0.8v0.8h-0.8zM76.5 509.3h0.8v0.8h-0.8zM58.0 521.3h0.8v0.8h-0.8zM69.0 517.2h0.8v0.8h-0.8zM73.4 509.5h0.8v0.8h-0.8zM67.6 510.0h0.8v0.8h-0.8zM58.6 514.8h0.8v0.8h-0.8zM69.6 506.3h0.8v0.8h-0.8zM58.2 517.7h0.8v0.8h-0.8zM67.1 518.0h0.8v0.8h-0.8zM62.5 509.2h0.8v0.8h-0.8zM72.9 517.6h0.8v0.8h-0.8zM58.2 518.0h0.8v0.8h-0.8zM80.4 512.3h0.8v0.8h-0.8zM56.2 515.5h0.8v0.8h-0.8zM66.3 517.4h0.8v0.8h-0.8zM52.1 515.5h0.8v0.8h-0.8zM74.0 518.2h0.8v0.8h-0.8zM71.5 521.2h0.8v0.8h-0.8zM57.6 521.4h0.8v0.8h-0.8zM67.5 508.0h0.8v0.8h-0.8zM62.7 515.6h0.8v0.8h-0.8zM68.6 522.1h0.8v0.8h-0.8zM67.3 510.9h0.8v0.8h-0.8zM86.3 512.0h0.8v0.8h-0.8zM57.6 519.6h0.8v0.8h-0.8zM61.5 509.3h0.8v0.8h-0.8zM55.4 521.1h0.8v0.8h-0.8zM55.4 514.6h0.8v0.8h-0.8zM61.1 512.9h0.8v0.8h-0.8zM57.7 514.9h0.8v0.8h-0.8zM71.3 520.3h0.8v0.8h-0.8zM62.1 507.0h0.8v0.8h-0.8zM51.4 514.1h0.8v0.8h-0.8zM65.8 514.8h0.8v0.8h-0.8zM52.2 510.1h0.8v0.8h-0.8zM58.4 518.1h0.8v0.8h-0.8zM61.6 517.7h0.8v0.8h-0.8zM70.4 502.4h0.8v0.8h-0.8zM63.3 521.6h0.8v0.8h-0.8zM60.6 514.8h0.8v0.8h-0.8zM64.3 506.6h0.8v0.8h-0.8zM86.3 513.2h0.8v0.8h-0.8zM71.6 511.3h0.8v0.8h-0.8zM78.9 521.0h0.8v0.8h-0.8zM76.8 519.8h0.8v0.8h-0.8zM72.2 522.4h0.8v0.8h-0.8zM69.3 514.9h0.8v0.8h-0.8zM73.2 508.7h0.8v0.8h-0.8zM67.0 509.8h0.8v0.8h-0.8zM62.9 508.3h0.8v0.8h-0.8zM57.5 515.2h0.8v0.8h-0.8zM66.7 519.0h0.8v0.8h-0.8zM64.6 517.8h0.8v0.8h-0.8zM72.0 509.8h0.8v0.8h-0.8zM63.1 510.8h0.8v0.8h-0.8zM86.6 509.9h0.8v0.8h-0.8zM70.0 509.5h0.8v0.8h-0.8zM72.1 506.5h0.8v0.8h-0.8zM74.6 515.1h0.8v0.8h-0.8zM61.7 506.9h0.8v0.8h-0.8zM81.4 510.6h0.8v0.8h-0.8zM79.2 499.6h0.8v0.8h-0.8zM54.1 524.9h0.8v0.8h-0.8zM82.5 514.2h0.8v0.8h-0.8zM75.0 517.7h0.8v0.8h-0.8zM62.1 514.8h0.8v0.8h-0.8zM54.6 506.0h0.8v0.8h-0.8zM66.7 518.4h0.8v0.8h-0.8zM67.0 506.7h0.8v0.8h-0.8zM73.6 514.6h0.8v0.8h-0.8zM72.7 512.3h0.8v0.8h-0.8zM63.0 520.4h0.8v0.8h-0.8zM78.6 506.9h0.8v0.8h-0.8zM54.9 519.9h0.8v0.8h-0.8zM68.9 514.4h0.8v0.8h-0.8zM56.2 520.1h0.8v0.8h-0.8zM67.3 515.4h0.8v0.8h-0.8zM69.2 510.9h0.8v0.8h-0.8zM69.3 514.9h0.8v0.8h-0.8zM72.4 516.3h0.8v0.8h-0.8zM53.3 509.8h0.8v0.8h-0.8zM62.9 521.0h0.8v0.8h-0.8zM59.3 520.9h0.8v0.8h-0.8zM75.8 519.3h0.8v0.8h-0.8zM87.0 514.0h0.8v0.8h-0.8zM68.6 521.4h0.8v0.8h-0.8zM69.4 520.0h0.8v0.8h-0.8zM64.3 522.6h0.8v0.8h-0.8zM68.9 502.6h0.8v0.8h-0.8zM75.8 512.9h0.8v0.8h-0.8zM57.1 512.3h0.8v0.8h-0.8zM62.8 520.9h0.8v0.8h-0.8zM68.7 513.7h0.8v0.8h-0.8zM65.4 508.7h0.8v0.8h-0.8zM59.4 511.3h0.8v0.8h-0.8zM63.3 507.1h0.8v0.8h-0.8zM61.7 520.1h0.8v0.8h-0.8zM69.8 514.1h0.8v0.8h-0.8zM68.8 512.6h0.8v0.8h-0.8zM54.2 519.4h0.8v0.8h-0.8zM86.9 517.1h0.8v0.8h-0.8zM72.0 528.8h0.8v0.8h-0.8zM54.0 517.2h0.8v0.8h-0.8zM62.2 512.4h0.8v0.8h-0.8zM49.7 513.6h0.8v0.8h-0.8zM69.3 504.5h0.8v0.8h-0.8zM63.4 511.2h0.8v0.8h-0.8zM56.0 517.9h0.8v0.8h-0.8zM81.2 516.6h0.8v0.8h-0.8zM75.3 518.6h0.8v0.8h-0.8zM64.9 517.6h0.8v0.8h-0.8zM78.1 511.5h0.8v0.8h-0.8zM64.1 505.9h0.8v0.8h-0.8zM74.0 516.3h0.8v0.8h-0.8zM68.0 521.9h0.8v0.8h-0.8zM66.3 518.7h0.8v0.8h-0.8zM78.7 509.2h0.8v0.8h-0.8zM57.2 516.5h0.8v0.8h-0.8zM65.0 510.6h0.8v0.8h-0.8zM64.3 509.8h0.8v0.8h-0.8zM66.8 511.8h0.8v0.8h-0.8zM81.7 507.9h0.8v0.8h-0.8zM71.0 514.5h0.8v0.8h-0.8zM80.6 508.3h0.8v0.8h-0.8zM61.1 524.4h0.8v0.8h-0.8zM59.2 511.8h0.8v0.8h-0.8zM61.8 508.3h0.8v0.8h-0.8zM77.1 523.1h0.8v0.8h-0.8zM64.1 509.6h0.8v0.8h-0.8zM52.6 518.0h0.8v0.8h-0.8zM60.4 517.4h0.8v0.8h-0.8zM71.5 516.6h0.8v0.8h-0.8zM66.7 514.0h0.8v0.8h-0.8zM62.2 511.5h0.8v0.8h-0.8zM66.9 517.1h0.8v0.8h-0.8zM74.4 512.8h0.8v0.8h-0.8zM77.2 508.5h0.8v0.8h-0.8zM83.7 519.8h0.8v0.8h-0.8zM61.6 530.5h0.8v0.8h-0.8zM79.2 523.5h0.8v0.8h-0.8zM54.1 513.4h0.8v0.8h-0.8zM70.0 520.3h0.8v0.8h-0.8zM66.2 506.4h0.8v0.8h-0.8zM77.2 513.1h0.8v0.8h-0.8zM69.7 512.2h0.8v0.8h-0.8zM64.4 505.9h0.8v0.8h-0.8zM71.9 510.4h0.8v0.8h-0.8zM65.2 519.8h0.8v0.8h-0.8zM73.3 506.9h0.8v0.8h-0.8zM63.8 514.1h0.8v0.8h-0.8zM66.4 507.8h0.8v0.8h-0.8zM66.2 519.9h0.8v0.8h-0.8zM77.3 522.7h0.8v0.8h-0.8zM72.7 499.1h0.8v0.8h-0.8zM62.9 510.8h0.8v0.8h-0.8zM74.2 514.0h0.8v0.8h-0.8zM68.9 517.0h0.8v0.8h-0.8zM63.4 522.2h0.8v0.8h-0.8zM82.9 518.9h0.8v0.8h-0.8zM60.2 515.6h0.8v0.8h-0.8zM74.8 518.3h0.8v0.8h-0.8zM59.0 519.7h0.8v0.8h-0.8zM72.4 517.5h0.8v0.8h-0.8zM61.5 513.9h0.8v0.8h-0.8zM61.3 512.3h0.8v0.8h-0.8zM62.8 512.2h0.8v0.8h-0.8zM66.3 514.6h0.8v0.8h-0.8zM59.7 513.3h0.8v0.8h-0.8zM64.6 517.0h0.8v0.8h-0.8zM69.7 511.9h0.8v0.8h-0.8zM57.6 504.3h0.8v0.8h-0.8zM53.6 516.5h0.8v0.8h-0.8zM56.7 523.6h0.8v0.8h-0.8zM64.0 511.8h0.8v0.8h-0.8zM64.0 510.8h0.8v0.8h-0.8zM59.5 514.5h0.8v0.8h-0.8zM51.7 514.9h0.8v0.8h-0.8zM64.6 508.7h0.8v0.8h-0.8zM75.3 516.2h0.8v0.8h-0.8zM75.8 510.1h0.8v0.8h-0.8zM53.7 507.0h0.8v0.8h-0.8zM50.5 502.8h0.8v0.8h-0.8zM80.4 511.2h0.8v0.8h-0.8zM67.3 510.9h0.8v0.8h-0.8zM64.1 523.4h0.8v0.8h-0.8zM66.8 508.7h0.8v0.8h-0.8zM72.1 521.7h0.8v0.8h-0.8zM74.0 518.5h0.8v0.8h-0.8zM64.0 520.0h0.8v0.8h-0.8zM57.9 507.0h0.8v0.8h-0.8zM63.0 512.6h0.8v0.8h-0.8zM77.2 508.2h0.8v0.8h-0.8zM76.4 509.4h0.8v0.8h-0.8zM53.5 504.0h0.8v0.8h-0.8zM65.2 505.5h0.8v0.8h-0.8zM67.5 514.3h0.8v0.8h-0.8zM61.7 502.6h0.8v0.8h-0.8zM60.6 516.7h0.8v0.8h-0.8zM65.7 510.8h0.8v0.8h-0.8zM67.4 517.9h0.8v0.8h-0.8zM65.3 509.4h0.8v0.8h-0.8zM73.0 510.0h0.8v0.8h-0.8zM68.9 519.8h0.8v0.8h-0.8zM78.0 523.5h0.8v0.8h-0.8zM75.3 514.9h0.8v0.8h-0.8zM63.6 515.2h0.8v0.8h-0.8zM70.5 531.8h0.8v0.8h-0.8zM71.8 509.1h0.8v0.8h-0.8zM80.0 504.6h0.8v0.8h-0.8zM75.1 506.5h0.8v0.8h-0.8zM55.1 511.1h0.8v0.8h-0.8zM62.8 506.0h0.8v0.8h-0.8zM71.4 513.4h0.8v0.8h-0.8zM78.3 508.0h0.8v0.8h-0.8zM63.4 519.8h0.8v0.8h-0.8zM66.4 525.6h0.8v0.8h-0.8zM53.8 502.7h0.8v0.8h-0.8zM61.2 522.4h0.8v0.8h-0.8zM80.6 506.0h0.8v0.8h-0.8zM59.7 503.1h0.8v0.8h-0.8zM57.5 508.3h0.8v0.8h-0.8zM69.6 520.8h0.8v0.8h-0.8zM88.2 511.9h0.8v0.8h-0.8zM73.3 515.3h0.8v0.8h-0.8zM66.7 525.5h0.8v0.8h-0.8zM72.2 523.3h0.8v0.8h-0.8zM68.4 519.2h0.8v0.8h-0.8zM70.3 513.5h0.8v0.8h-0.8zM58.9 511.6h0.8v0.8h-0.8zM65.6 511.8h0.8v0.8h-0.8zM62.3 509.8h0.8v0.8h-0.8zM73.7 512.6h0.8v0.8h-0.8zM64.4 512.7h0.8v0.8h-0.8zM78.0 510.8h0.8v0.8h-0.8zM79.0 508.9h0.8v0.8h-0.8zM80.1 517.7h0.8v0.8h-0.8zM60.8 516.7h0.8v0.8h-0.8zM76.3 508.4h0.8v0.8h-0.8zM63.4 515.9h0.8v0.8h-0.8zM63.5 512.3h0.8v0.8h-0.8zM65.7 515.9h0.8v0.8h-0.8zM72.9 522.8h0.8v0.8h-0.8zM62.4 531.5h0.8v0.8h-0.8zM62.4 524.6h0.8v0.8h-0.8zM64.3 505.4h0.8v0.8h-0.8zM61.4 512.0h0.8v0.8h-0.8zM75.7 502.1h0.8v0.8h-0.8zM59.5 513.2h0.8v0.8h-0.8zM71.8 516.4h0.8v0.8h-0.8zM73.7 513.1h0.8v0.8h-0.8zM63.3 521.2h0.8v0.8h-0.8zM81.9 516.3h0.8v0.8h-0.8zM67.0 508.9h0.8v0.8h-0.8zM85.5 516.4h0.8v0.8h-0.8zM71.4 504.5h0.8v0.8h-0.8zM71.3 528.4h0.8v0.8h-0.8zM64.0 512.8h0.8v0.8h-0.8zM80.1 512.9h0.8v0.8h-0.8zM73.5 525.6h0.8v0.8h-0.8zM54.4 509.1h0.8v0.8h-0.8zM72.0 514.7h0.8v0.8h-0.8zM65.9 513.0h0.8v0.8h-0.8zM66.7 516.1h0.8v0.8h-0.8zM61.0 512.4h0.8v0.8h-0.8zM67.7 507.6h0.8v0.8h-0.8zM69.7 501.0h0.8v0.8h-0.8zM71.6 513.3h0.8v0.8h-0.8zM54.4 522.0h0.8v0.8h-0.8zM54.4 526.3h0.8v0.8h-0.8zM58.6 521.2h0.8v0.8h-0.8zM64.9 523.6h0.8v0.8h-0.8zM63.4 520.1h0.8v0.8h-0.8zM62.5 502.9h0.8v0.8h-0.8zM69.2 516.9h0.8v0.8h-0.8zM69.3 524.0h0.8v0.8h-0.8zM58.6 505.5h0.8v0.8h-0.8zM68.0 509.9h0.8v0.8h-0.8zM64.6 514.0h0.8v0.8h-0.8zM57.8 520.5h0.8v0.8h-0.8zM64.4 524.7h0.8v0.8h-0.8zM67.9 520.3h0.8v0.8h-0.8zM62.8 510.1h0.8v0.8h-0.8zM60.5 508.8h0.8v0.8h-0.8zM69.8 514.8h0.8v0.8h-0.8zM55.3 504.9h0.8v0.8h-0.8zM57.4 503.2h0.8v0.8h-0.8zM57.2 505.0h0.8v0.8h-0.8zM72.2 507.1h0.8v0.8h-0.8zM60.0 513.3h0.8v0.8h-0.8zM65.8 516.5h0.8v0.8h-0.8zM72.8 517.8h0.8v0.8h-0.8zM62.3 521.4h0.8v0.8h-0.8zM69.1 509.8h0.8v0.8h-0.8zM79.7 507.0h0.8v0.8h-0.8zM70.0 521.5h0.8v0.8h-0.8zM66.6 516.1h0.8v0.8h-0.8zM66.7 518.0h0.8v0.8h-0.8zM67.7 514.1h0.8v0.8h-0.8zM72.2 502.8h0.8v0.8h-0.8zM67.9 512.2h0.8v0.8h-0.8zM84.0 515.7h0.8v0.8h-0.8zM59.3 517.9h0.8v0.8h-0.8zM61.9 507.0h0.8v0.8h-0.8zM62.9 517.0h0.8v0.8h-0.8zM76.8 520.3h0.8v0.8h-0.8zM67.7 513.1h0.8v0.8h-0.8zM67.4 521.2h0.8v0.8h-0.8zM64.4 520.9h0.8v0.8h-0.8zM58.1 513.9h0.8v0.8h-0.8zM72.8 518.2h0.8v0.8h-0.8zM67.4 511.0h0.8v0.8h-0.8zM57.6 511.6h0.8v0.8h-0.8zM80.4 509.4h0.8v0.8h-0.8zM73.5 513.9h0.8v0.8h-0.8zM55.2 514.7h0.8v0.8h-0.8zM72.6 507.0h0.8v0.8h-0.8zM54.6 511.8h0.8v0.8h-0.8zM72.4 510.5h0.8v0.8h-0.8zM69.5 516.7h0.8v0.8h-0.8zM65.7 516.7h0.8v0.8h-0.8zM77.5 512.9h0.8v0.8h-0.8zM68.6 507.7h0.8v0.8h-0.8zM58.8 513.4h0.8v0.8h-0.8zM73.2 510.0h0.8v0.8h-0.8zM52.5 519.5h0.8v0.8h-0.8zM87.8 498.7h0.8v0.8h-0.8zM55.6 514.7h0.8v0.8h-0.8zM70.1 508.4h0.8v0.8h-0.8zM68.7 520.5h0.8v0.8h-0.8zM63.0 518.3h0.8v0.8h-0.8zM66.7 508.5h0.8v0.8h-0.8zM59.8 510.4h0.8v0.8h-0.8zM78.0 520.9h0.8v0.8h-0.8zM67.8 504.7h0.8v0.8h-0.8zM61.0 511.6h0.8v0.8h-0.8zM68.2 506.2h0.8v0.8h-0.8zM61.6 511.3h0.8v0.8h-0.8zM82.8 517.9h0.8v0.8h-0.8zM72.7 514.5h0.8v0.8h-0.8zM53.6 519.5h0.8v0.8h-0.8zM59.2 502.6h0.8v0.8h-0.8zM72.3 512.0h0.8v0.8h-0.8zM65.5 517.1h0.8v0.8h-0.8zM63.4 516.4h0.8v0.8h-0.8zM77.6 512.1h0.8v0.8h-0.8zM62.2 514.1h0.8v0.8h-0.8zM71.6 511.6h0.8v0.8h-0.8zM66.3 510.0h0.8v0.8h-0.8zM64.8 517.2h0.8v0.8h-0.8zM57.9 512.9h0.8v0.8h-0.8zM51.9 509.9h0.8v0.8h-0.8zM66.3 517.2h0.8v0.8h-0.8zM55.9 513.4h0.8v0.8h-0.8zM56.9 515.9h0.8v0.8h-0.8zM68.0 516.6h0.8v0.8h-0.8zM63.6 505.6h0.8v0.8h-0.8zM60.3 506.1h0.8v0.8h-0.8zM59.2 513.7h0.8v0.8h-0.8zM75.6 510.2h0.8v0.8h-0.8zM58.4 515.2h0.8v0.8h-0.8zM51.2 520.0h0.8v0.8h-0.8zM74.6 519.7h0.8v0.8h-0.8zM64.6 518.3h0.8v0.8h-0.8zM62.3 519.7h0.8v0.8h-0.8zM59.5 509.2h0.8v0.8h-0.8zM69.0 511.3h0.8v0.8h-0.8zM71.8 508.9h0.8v0.8h-0.8zM68.0 508.2h0.8v0.8h-0.8zM64.6 526.7h0.8v0.8h-0.8zM55.6 506.7h0.8v0.8h-0.8zM50.7 512.7h0.8v0.8h-0.8zM80.5 511.3h0.8v0.8h-0.8zM74.1 512.9h0.8v0.8h-0.8zM59.7 525.9h0.8v0.8h-0.8zM75.5 503.1h0.8v0.8h-0.8zM56.5 516.4h0.8v0.8h-0.8zM71.5 512.7h0.8v0.8h-0.8zM68.4 517.2h0.8v0.8h-0.8zM62.3 519.9h0.8v0.8h-0.8zM57.7 518.5h0.8v0.8h-0.8zM74.0 515.2h0.8v0.8h-0.8zM62.3 513.9h0.8v0.8h-0.8zM52.4 502.1h0.8v0.8h-0.8zM72.6 508.6h0.8v0.8h-0.8zM68.8 514.3h0.8v0.8h-0.8zM63.0 516.8h0.8v0.8h-0.8zM66.2 506.5h0.8v0.8h-0.8zM60.6 514.6h0.8v0.8h-0.8zM53.8 511.4h0.8v0.8h-0.8zM60.5 501.5h0.8v0.8h-0.8zM81.4 519.2h0.8v0.8h-0.8zM61.2 519.6h0.8v0.8h-0.8zM55.9 523.0h0.8v0.8h-0.8zM62.1 514.8h0.8v0.8h-0.8zM60.2 514.6h0.8v0.8h-0.8zM68.6 514.2h0.8v0.8h-0.8zM57.9 518.5h0.8v0.8h-0.8zM70.7 514.0h0.8v0.8h-0.8zM75.2 509.7h0.8v0.8h-0.8zM77.3 513.1h0.8v0.8h-0.8zM79.5 511.4h0.8v0.8h-0.8zM63.2 515.3h0.8v0.8h-0.8zM75.6 522.5h0.8v0.8h-0.8zM61.3 509.7h0.8v0.8h-0.8zM72.5 521.3h0.8v0.8h-0.8zM72.0 512.1h0.8v0.8h-0.8zM77.2 513.9h0.8v0.8h-0.8zM67.1 517.7h0.8v0.8h-0.8zM60.3 500.6h0.8v0.8h-0.8zM67.5 518.2h0.8v0.8h-0.8zM69.5 517.2h0.8v0.8h-0.8zM67.0 520.2h0.8v0.8h-0.8zM66.6 522.8h0.8v0.8h-0.8zM66.0 518.7h0.8v0.8h-0.8zM60.5 515.8h0.8v0.8h-0.8zM69.4 514.8h0.8v0.8h-0.8zM79.7 514.3h0.8v0.8h-0.8zM75.8 516.1h0.8v0.8h-0.8zM75.6 508.7h0.8v0.8h-0.8zM62.2 519.7h0.8v0.8h-0.8zM58.0 516.3h0.8v0.8h-0.8zM70.7 515.2h0.8v0.8h-0.8zM69.5 517.2h0.8v0.8h-0.8zM63.3 516.4h0.8v0.8h-0.8zM60.8 511.3h0.8v0.8h-0.8zM50.9 513.4h0.8v0.8h-0.8zM49.9 514.2h0.8v0.8h-0.8zM67.4 507.6h0.8v0.8h-0.8zM66.2 515.7h0.8v0.8h-0.8zM62.3 508.6h0.8v0.8h-0.8zM64.5 516.4h0.8v0.8h-0.8z" fill="#b7b7b7"/>
<path d="M77.7 529.2h0.7v0.7h-0.7zM71.5 506.4h0.7v0.7h-0.7zM70.1 530.6h0.7v0.7h-0.7zM67.5 524.1h0.7v0.7h-0.7zM79.4 508.1h0.7v0.7h-0.7zM85.4 496.4h0.7v0.7h-0.7zM63.5 505.8h0.7v0.7h-0.7zM68.6 512.6h0.7v0.7h-0.7zM80.4 506.8h0.7v0.7h-0.7zM90.3 496.8h0.7v0.7h-0.7zM68.7 535.8h0.7v0.7h-0.7zM64.8 517.6h0.7v0.7h-0.7zM60.1 541.3h0.7v0.7h-0.7zM77.3 508.9h0.7v0.7h-0.7zM75.2 493.9h0.7v0.7h-0.7zM59.9 517.0h0.7v0.7h-0.7zM71.1 522.1h0.7v0.7h-0.7zM80.7 506.2h0.7v0.7h-0.7zM72.4 496.3h0.7v0.7h-0.7zM61.0 503.0h0.7v0.7h-0.7zM94.1 494.1h0.7v0.7h-0.7zM52.9 522.0h0.7v0.7h-0.7zM66.9 522.1h0.7v0.7h-0.7zM65.1 528.2h0.7v0.7h-0.7zM65.6 511.0h0.7v0.7h-0.7zM71.6 515.1h0.7v0.7h-0.7zM63.1 515.0h0.7v0.7h-0.7zM50.6 505.6h0.7v0.7h-0.7zM56.6 515.0h0.7v0.7h-0.7zM60.6 517.4h0.7v0.7h-0.7zM70.9 503.9h0.7v0.7h-0.7zM62.3 500.9h0.7v0.7h-0.7zM67.4 519.2h0.7v0.7h-0.7zM53.6 496.2h0.7v0.7h-0.7zM72.5 509.4h0.7v0.7h-0.7zM65.7 516.1h0.7v0.7h-0.7zM70.8 520.3h0.7v0.7h-0.7zM60.2 492.4h0.7v0.7h-0.7zM59.9 509.3h0.7v0.7h-0.7zM60.8 515.5h0.7v0.7h-0.7zM62.9 523.6h0.7v0.7h-0.7zM58.0 511.9h0.7v0.7h-0.7zM61.5 530.9h0.7v0.7h-0.7zM54.0 503.1h0.7v0.7h-0.7zM61.2 518.8h0.7v0.7h-0.7zM66.2 510.4h0.7v0.7h-0.7zM63.3 509.9h0.7v0.7h-0.7zM88.3 515.3h0.7v0.7h-0.7zM71.4 520.7h0.7v0.7h-0.7zM54.7 501.0h0.7v0.7h-0.7zM61.4 525.2h0.7v0.7h-0.7zM78.5 506.8h0.7v0.7h-0.7zM50.3 520.3h0.7v0.7h-0.7zM79.9 502.2h0.7v0.7h-0.7zM86.4 505.1h0.7v0.7h-0.7zM75.5 510.2h0.7v0.7h-0.7zM61.9 506.5h0.7v0.7h-0.7zM74.8 517.5h0.7v0.7h-0.7zM76.2 509.5h0.7v0.7h-0.7zM55.3 531.2h0.7v0.7h-0.7zM87.7 510.3h0.7v0.7h-0.7zM51.5 525.4h0.7v0.7h-0.7zM67.7 512.5h0.7v0.7h-0.7zM76.8 515.1h0.7v0.7h-0.7zM67.4 529.8h0.7v0.7h-0.7zM53.5 512.7h0.7v0.7h-0.7zM63.8 514.4h0.7v0.7h-0.7zM95.6 508.3h0.7v0.7h-0.7zM77.5 517.6h0.7v0.7h-0.7zM69.8 507.5h0.7v0.7h-0.7zM74.1 514.4h0.7v0.7h-0.7zM84.4 519.5h0.7v0.7h-0.7zM57.0 485.9h0.7v0.7h-0.7zM85.2 516.4h0.7v0.7h-0.7zM68.2 506.6h0.7v0.7h-0.7zM97.9 524.0h0.7v0.7h-0.7zM67.2 508.7h0.7v0.7h-0.7zM73.3 524.2h0.7v0.7h-0.7zM72.6 520.5h0.7v0.7h-0.7zM69.4 515.2h0.7v0.7h-0.7zM49.8 513.1h0.7v0.7h-0.7zM66.7 511.3h0.7v0.7h-0.7zM62.9 514.8h0.7v0.7h-0.7zM58.6 510.2h0.7v0.7h-0.7zM54.6 501.2h0.7v0.7h-0.7zM59.1 508.3h0.7v0.7h-0.7zM52.3 490.1h0.7v0.7h-0.7zM87.0 521.2h0.7v0.7h-0.7zM61.1 517.0h0.7v0.7h-0.7zM51.8 497.5h0.7v0.7h-0.7zM70.3 517.2h0.7v0.7h-0.7zM57.2 512.0h0.7v0.7h-0.7zM79.6 513.5h0.7v0.7h-0.7zM68.3 517.2h0.7v0.7h-0.7zM49.7 514.2h0.7v0.7h-0.7zM57.9 495.1h0.7v0.7h-0.7zM77.4 510.3h0.7v0.7h-0.7zM78.8 530.0h0.7v0.7h-0.7zM79.9 524.7h0.7v0.7h-0.7zM71.1 515.2h0.7v0.7h-0.7zM74.9 517.9h0.7v0.7h-0.7zM78.7 508.4h0.7v0.7h-0.7zM54.2 507.6h0.7v0.7h-0.7zM58.4 516.7h0.7v0.7h-0.7zM76.0 512.2h0.7v0.7h-0.7zM62.1 496.1h0.7v0.7h-0.7zM60.5 503.1h0.7v0.7h-0.7zM58.9 515.1h0.7v0.7h-0.7zM68.1 543.4h0.7v0.7h-0.7zM54.7 507.2h0.7v0.7h-0.7zM51.2 509.7h0.7v0.7h-0.7zM62.3 521.0h0.7v0.7h-0.7zM74.3 507.3h0.7v0.7h-0.7zM57.1 513.8h0.7v0.7h-0.7zM72.7 510.6h0.7v0.7h-0.7zM64.0 512.2h0.7v0.7h-0.7zM52.0 514.4h0.7v0.7h-0.7zM73.4 512.5h0.7v0.7h-0.7zM51.3 512.0h0.7v0.7h-0.7zM64.6 514.8h0.7v0.7h-0.7zM60.6 519.4h0.7v0.7h-0.7zM80.0 519.4h0.7v0.7h-0.7zM69.0 522.9h0.7v0.7h-0.7zM65.4 510.5h0.7v0.7h-0.7zM81.7 503.5h0.7v0.7h-0.7zM76.0 500.7h0.7v0.7h-0.7zM69.8 528.3h0.7v0.7h-0.7zM66.6 501.6h0.7v0.7h-0.7zM69.7 510.7h0.7v0.7h-0.7zM76.2 507.4h0.7v0.7h-0.7z" fill="#a9a9a9"/>
<path d="M77.8 510.6h0.7v0.7h-0.7zM74.7 504.2h0.7v0.7h-0.7zM78.8 502.8h0.7v0.7h-0.7zM67.5 505.5h0.7v0.7h-0.7zM82.8 500.8h0.7v0.7h-0.7zM76.9 499.9h0.7v0.7h-0.7zM64.7 505.1h0.7v0.7h-0.7zM58.7 498.6h0.7v0.7h-0.7zM60.1 500.2h0.7v0.7h-0.7zM62.9 518.9h0.7v0.7h-0.7zM78.0 504.5h0.7v0.7h-0.7zM58.7 488.8h0.7v0.7h-0.7zM76.3 500.0h0.7v0.7h-0.7zM82.4 501.5h0.7v0.7h-0.7zM59.0 499.9h0.7v0.7h-0.7zM56.8 495.0h0.7v0.7h-0.7zM79.0 500.6h0.7v0.7h-0.7zM78.8 500.4h0.7v0.7h-0.7zM69.6 500.5h0.7v0.7h-0.7zM66.5 499.8h0.7v0.7h-0.7zM86.8 503.7h0.7v0.7h-0.7zM52.6 514.8h0.7v0.7h-0.7zM84.4 511.2h0.7v0.7h-0.7zM70.9 503.0h0.7v0.7h-0.7zM67.2 504.8h0.7v0.7h-0.7zM76.6 504.0h0.7v0.7h-0.7zM63.8 497.9h0.7v0.7h-0.7zM88.5 514.7h0.7v0.7h-0.7zM59.6 500.0h0.7v0.7h-0.7zM71.5 507.7h0.7v0.7h-0.7zM70.8 505.5h0.7v0.7h-0.7zM75.5 511.3h0.7v0.7h-0.7zM58.9 511.0h0.7v0.7h-0.7zM76.3 507.4h0.7v0.7h-0.7zM56.9 502.6h0.7v0.7h-0.7zM69.3 508.1h0.7v0.7h-0.7zM78.7 508.4h0.7v0.7h-0.7zM59.0 512.0h0.7v0.7h-0.7zM72.6 509.9h0.7v0.7h-0.7zM71.8 499.6h0.7v0.7h-0.7zM98.0 508.2h0.7v0.7h-0.7zM79.5 501.1h0.7v0.7h-0.7zM69.7 511.1h0.7v0.7h-0.7zM76.3 515.1h0.7v0.7h-0.7zM83.8 497.2h0.7v0.7h-0.7zM56.6 511.4h0.7v0.7h-0.7zM77.9 502.4h0.7v0.7h-0.7zM69.0 500.5h0.7v0.7h-0.7zM89.8 503.0h0.7v0.7h-0.7zM58.1 509.7h0.7v0.7h-0.7zM71.0 506.3h0.7v0.7h-0.7zM68.1 503.8h0.7v0.7h-0.7zM53.1 507.4h0.7v0.7h-0.7zM65.0 501.6h0.7v0.7h-0.7zM75.0 512.1h0.7v0.7h-0.7zM50.4 503.2h0.7v0.7h-0.7zM77.3 510.4h0.7v0.7h-0.7zM62.8 506.0h0.7v0.7h-0.7zM75.8 509.9h0.7v0.7h-0.7zM65.7 502.9h0.7v0.7h-0.7zM66.8 511.2h0.7v0.7h-0.7zM82.7 501.3h0.7v0.7h-0.7zM70.5 505.4h0.7v0.7h-0.7zM62.9 503.3h0.7v0.7h-0.7zM80.5 508.9h0.7v0.7h-0.7zM65.1 500.0h0.7v0.7h-0.7zM70.7 494.9h0.7v0.7h-0.7zM74.9 504.8h0.7v0.7h-0.7zM58.5 502.6h0.7v0.7h-0.7zM65.2 502.4h0.7v0.7h-0.7zM63.1 512.6h0.7v0.7h-0.7zM62.2 508.8h0.7v0.7h-0.7zM73.9 513.1h0.7v0.7h-0.7zM71.3 504.1h0.7v0.7h-0.7zM72.5 492.3h0.7v0.7h-0.7zM95.8 502.7h0.7v0.7h-0.7zM68.7 497.0h0.7v0.7h-0.7zM70.5 514.1h0.7v0.7h-0.7zM64.3 506.8h0.7v0.7h-0.7zM82.1 509.9h0.7v0.7h-0.7zM67.8 493.2h0.7v0.7h-0.7zM75.9 507.6h0.7v0.7h-0.7zM68.6 501.4h0.7v0.7h-0.7zM89.3 494.2h0.7v0.7h-0.7zM66.7 500.3h0.7v0.7h-0.7zM56.2 499.8h0.7v0.7h-0.7zM63.9 511.8h0.7v0.7h-0.7zM54.4 495.5h0.7v0.7h-0.7zM74.4 494.5h0.7v0.7h-0.7zM51.8 500.2h0.7v0.7h-0.7zM59.8 498.0h0.7v0.7h-0.7zM70.2 506.9h0.7v0.7h-0.7zM65.4 502.4h0.7v0.7h-0.7zM78.9 503.1h0.7v0.7h-0.7zM79.1 500.4h0.7v0.7h-0.7zM76.7 512.0h0.7v0.7h-0.7zM58.0 522.6h0.7v0.7h-0.7zM68.6 502.0h0.7v0.7h-0.7zM70.2 506.9h0.7v0.7h-0.7zM59.8 504.3h0.7v0.7h-0.7zM66.0 512.9h0.7v0.7h-0.7zM54.6 508.1h0.7v0.7h-0.7zM68.7 499.5h0.7v0.7h-0.7zM73.2 502.6h0.7v0.7h-0.7zM72.2 505.6h0.7v0.7h-0.7zM83.8 501.6h0.7v0.7h-0.7zM88.5 487.4h0.7v0.7h-0.7zM90.0 511.6h0.7v0.7h-0.7zM87.4 505.3h0.7v0.7h-0.7zM74.6 497.8h0.7v0.7h-0.7zM85.2 496.9h0.7v0.7h-0.7zM63.9 504.1h0.7v0.7h-0.7zM74.1 506.2h0.7v0.7h-0.7zM60.2 502.0h0.7v0.7h-0.7zM76.7 511.4h0.7v0.7h-0.7zM79.4 506.6h0.7v0.7h-0.7zM69.2 500.7h0.7v0.7h-0.7zM66.7 503.5h0.7v0.7h-0.7zM77.1 501.0h0.7v0.7h-0.7zM92.3 497.9h0.7v0.7h-0.7zM79.9 502.8h0.7v0.7h-0.7zM70.4 501.7h0.7v0.7h-0.7zM87.1 502.3h0.7v0.7h-0.7zM77.3 504.8h0.7v0.7h-0.7zM79.3 507.7h0.7v0.7h-0.7zM88.3 499.6h0.7v0.7h-0.7zM63.6 514.5h0.7v0.7h-0.7zM84.5 504.5h0.7v0.7h-0.7zM69.0 505.7h0.7v0.7h-0.7zM84.8 499.4h0.7v0.7h-0.7zM86.3 503.7h0.7v0.7h-0.7zM68.2 501.7h0.7v0.7h-0.7zM50.9 506.1h0.7v0.7h-0.7zM58.7 500.7h0.7v0.7h-0.7zM62.9 505.5h0.7v0.7h-0.7zM79.0 504.3h0.7v0.7h-0.7zM73.7 506.6h0.7v0.7h-0.7zM87.8 507.6h0.7v0.7h-0.7zM87.5 503.7h0.7v0.7h-0.7zM75.3 500.1h0.7v0.7h-0.7zM77.7 498.8h0.7v0.7h-0.7zM76.5 500.2h0.7v0.7h-0.7zM68.3 511.6h0.7v0.7h-0.7zM73.3 509.0h0.7v0.7h-0.7zM69.4 492.7h0.7v0.7h-0.7zM86.5 503.0h0.7v0.7h-0.7zM65.4 509.9h0.7v0.7h-0.7zM60.5 499.5h0.7v0.7h-0.7zM83.2 499.8h0.7v0.7h-0.7zM83.1 502.2h0.7v0.7h-0.7zM69.7 504.5h0.7v0.7h-0.7zM66.8 510.7h0.7v0.7h-0.7zM82.7 504.5h0.7v0.7h-0.7zM77.9 507.4h0.7v0.7h-0.7zM88.6 494.4h0.7v0.7h-0.7zM82.0 509.7h0.7v0.7h-0.7zM68.7 504.2h0.7v0.7h-0.7zM68.4 511.7h0.7v0.7h-0.7zM60.4 507.8h0.7v0.7h-0.7zM84.6 507.6h0.7v0.7h-0.7zM67.0 501.3h0.7v0.7h-0.7zM50.7 497.8h0.7v0.7h-0.7zM82.7 498.3h0.7v0.7h-0.7zM55.5 502.6h0.7v0.7h-0.7zM57.0 506.9h0.7v0.7h-0.7zM63.1 509.9h0.7v0.7h-0.7zM70.7 495.4h0.7v0.7h-0.7zM64.1 500.1h0.7v0.7h-0.7zM63.4 511.7h0.7v0.7h-0.7zM61.8 506.3h0.7v0.7h-0.7zM66.0 507.7h0.7v0.7h-0.7zM57.6 494.5h0.7v0.7h-0.7zM76.9 512.9h0.7v0.7h-0.7zM58.0 502.2h0.7v0.7h-0.7zM66.8 498.4h0.7v0.7h-0.7zM81.5 504.4h0.7v0.7h-0.7zM58.0 502.8h0.7v0.7h-0.7zM85.1 499.8h0.7v0.7h-0.7zM66.7 499.0h0.7v0.7h-0.7zM73.4 500.7h0.7v0.7h-0.7zM80.7 499.0h0.7v0.7h-0.7zM57.3 506.9h0.7v0.7h-0.7zM74.6 505.6h0.7v0.7h-0.7zM66.1 501.4h0.7v0.7h-0.7zM77.0 526.9h0.7v0.7h-0.7zM63.8 503.0h0.7v0.7h-0.7zM67.3 507.5h0.7v0.7h-0.7zM71.9 507.5h0.7v0.7h-0.7zM88.1 502.4h0.7v0.7h-0.7zM68.9 506.4h0.7v0.7h-0.7zM92.8 501.9h0.7v0.7h-0.7zM88.7 511.4h0.7v0.7h-0.7zM62.0 506.5h0.7v0.7h-0.7zM85.1 504.4h0.7v0.7h-0.7zM73.5 517.4h0.7v0.7h-0.7zM75.4 517.3h0.7v0.7h-0.7zM62.9 514.2h0.7v0.7h-0.7zM66.8 489.3h0.7v0.7h-0.7zM63.6 501.2h0.7v0.7h-0.7zM71.4 508.7h0.7v0.7h-0.7zM78.7 507.3h0.7v0.7h-0.7zM64.4 515.0h0.7v0.7h-0.7zM83.8 504.3h0.7v0.7h-0.7zM66.1 503.8h0.7v0.7h-0.7zM69.6 499.8h0.7v0.7h-0.7zM71.7 500.0h0.7v0.7h-0.7zM78.3 500.1h0.7v0.7h-0.7zM76.7 506.1h0.7v0.7h-0.7zM73.5 507.3h0.7v0.7h-0.7zM61.6 519.9h0.7v0.7h-0.7zM64.9 508.6h0.7v0.7h-0.7zM72.1 501.5h0.7v0.7h-0.7zM89.2 510.9h0.7v0.7h-0.7zM69.1 507.6h0.7v0.7h-0.7zM78.7 513.8h0.7v0.7h-0.7zM82.0 503.1h0.7v0.7h-0.7zM69.3 497.0h0.7v0.7h-0.7zM74.5 509.4h0.7v0.7h-0.7zM68.0 508.2h0.7v0.7h-0.7zM73.2 501.3h0.7v0.7h-0.7zM59.7 510.9h0.7v0.7h-0.7zM97.2 507.5h0.7v0.7h-0.7zM61.1 497.8h0.7v0.7h-0.7zM74.4 508.1h0.7v0.7h-0.7zM87.0 489.3h0.7v0.7h-0.7zM90.4 505.1h0.7v0.7h-0.7zM73.2 506.5h0.7v0.7h-0.7zM68.3 502.3h0.7v0.7h-0.7zM82.4 493.5h0.7v0.7h-0.7zM70.7 507.5h0.7v0.7h-0.7zM55.4 503.1h0.7v0.7h-0.7zM87.2 506.4h0.7v0.7h-0.7zM79.0 508.4h0.7v0.7h-0.7zM74.1 506.3h0.7v0.7h-0.7zM63.8 502.8h0.7v0.7h-0.7zM90.4 496.5h0.7v0.7h-0.7zM70.2 496.3h0.7v0.7h-0.7zM66.6 499.3h0.7v0.7h-0.7zM59.6 505.6h0.7v0.7h-0.7zM62.5 507.4h0.7v0.7h-0.7zM90.0 488.3h0.7v0.7h-0.7zM70.2 491.2h0.7v0.7h-0.7zM70.7 506.4h0.7v0.7h-0.7zM74.0 511.5h0.7v0.7h-0.7zM73.5 493.5h0.7v0.7h-0.7zM87.0 498.3h0.7v0.7h-0.7zM71.0 506.1h0.7v0.7h-0.7zM63.1 504.6h0.7v0.7h-0.7zM86.9 493.7h0.7v0.7h-0.7zM55.3 501.3h0.7v0.7h-0.7zM70.2 496.2h0.7v0.7h-0.7zM75.8 495.9h0.7v0.7h-0.7zM77.7 503.7h0.7v0.7h-0.7zM73.5 495.8h0.7v0.7h-0.7zM69.7 507.1h0.7v0.7h-0.7zM54.4 497.6h0.7v0.7h-0.7zM81.6 516.4h0.7v0.7h-0.7zM78.5 503.6h0.7v0.7h-0.7zM61.1 501.6h0.7v0.7h-0.7zM69.4 506.8h0.7v0.7h-0.7zM69.4 519.4h0.7v0.7h-0.7zM85.2 490.5h0.7v0.7h-0.7zM60.2 504.1h0.7v0.7h-0.7zM81.8 506.6h0.7v0.7h-0.7zM85.4 507.7h0.7v0.7h-0.7zM97.6 509.0h0.7v0.7h-0.7zM76.6 513.5h0.7v0.7h-0.7zM67.5 500.7h0.7v0.7h-0.7zM61.8 505.6h0.7v0.7h-0.7zM76.3 509.9h0.7v0.7h-0.7zM86.5 508.0h0.7v0.7h-0.7zM84.3 502.5h0.7v0.7h-0.7zM62.3 508.6h0.7v0.7h-0.7zM82.1 512.4h0.7v0.7h-0.7zM70.3 501.2h0.7v0.7h-0.7zM68.3 506.3h0.7v0.7h-0.7zM71.5 502.9h0.7v0.7h-0.7zM74.5 502.3h0.7v0.7h-0.7zM75.3 500.4h0.7v0.7h-0.7zM56.5 502.1h0.7v0.7h-0.7zM90.9 499.0h0.7v0.7h-0.7zM81.1 512.4h0.7v0.7h-0.7zM66.5 505.7h0.7v0.7h-0.7zM87.4 505.2h0.7v0.7h-0.7zM52.0 500.5h0.7v0.7h-0.7zM64.5 504.8h0.7v0.7h-0.7zM74.8 501.5h0.7v0.7h-0.7zM68.9 499.0h0.7v0.7h-0.7zM77.7 505.3h0.7v0.7h-0.7zM75.4 500.9h0.7v0.7h-0.7zM76.9 502.2h0.7v0.7h-0.7zM75.0 503.1h0.7v0.7h-0.7zM65.3 497.2h0.7v0.7h-0.7zM53.3 495.6h0.7v0.7h-0.7zM76.6 524.4h0.7v0.7h-0.7zM55.5 499.0h0.7v0.7h-0.7zM71.9 526.3h0.7v0.7h-0.7zM69.9 496.8h0.7v0.7h-0.7zM76.2 517.1h0.7v0.7h-0.7zM84.4 496.8h0.7v0.7h-0.7zM70.9 500.1h0.7v0.7h-0.7zM79.6 495.0h0.7v0.7h-0.7zM75.1 505.4h0.7v0.7h-0.7zM77.6 506.7h0.7v0.7h-0.7zM73.5 492.9h0.7v0.7h-0.7zM68.7 498.1h0.7v0.7h-0.7zM77.3 502.6h0.7v0.7h-0.7zM73.5 510.9h0.7v0.7h-0.7zM70.9 514.6h0.7v0.7h-0.7zM80.4 494.8h0.7v0.7h-0.7zM66.1 511.7h0.7v0.7h-0.7zM67.0 511.5h0.7v0.7h-0.7zM66.4 503.3h0.7v0.7h-0.7zM82.3 494.2h0.7v0.7h-0.7zM72.8 501.2h0.7v0.7h-0.7zM73.7 514.8h0.7v0.7h-0.7zM76.9 495.6h0.7v0.7h-0.7zM81.6 501.2h0.7v0.7h-0.7zM73.6 511.3h0.7v0.7h-0.7zM68.9 510.0h0.7v0.7h-0.7zM73.8 498.4h0.7v0.7h-0.7zM68.9 495.5h0.7v0.7h-0.7zM83.8 505.1h0.7v0.7h-0.7zM81.7 497.0h0.7v0.7h-0.7zM80.5 496.5h0.7v0.7h-0.7zM74.8 503.9h0.7v0.7h-0.7zM66.1 506.0h0.7v0.7h-0.7zM72.3 498.6h0.7v0.7h-0.7zM64.6 495.8h0.7v0.7h-0.7zM85.7 505.0h0.7v0.7h-0.7zM68.4 508.4h0.7v0.7h-0.7zM63.4 496.7h0.7v0.7h-0.7zM75.6 514.0h0.7v0.7h-0.7zM75.0 505.0h0.7v0.7h-0.7zM89.5 494.3h0.7v0.7h-0.7zM71.3 495.6h0.7v0.7h-0.7zM59.8 502.5h0.7v0.7h-0.7zM96.5 498.1h0.7v0.7h-0.7zM65.8 505.7h0.7v0.7h-0.7zM61.8 502.4h0.7v0.7h-0.7zM80.2 490.3h0.7v0.7h-0.7zM69.0 502.2h0.7v0.7h-0.7zM66.9 503.3h0.7v0.7h-0.7z" fill="#2a8a2a"/>
<path d="M73.2 509.5h0.7v0.7h-0.7zM80.9 506.0h0.7v0.7h-0.7zM91.6 523.6h0.7v0.7h-0.7zM88.8 507.0h0.7v0.7h-0.7zM92.5 514.9h0.7v0.7h-0.7zM79.1 515.5h0.7v0.7h-0.7zM80.5 515.3h0.7v0.7h-0.7zM89.5 518.7h0.7v0.7h-0.7zM77.7 511.3h0.7v0.7h-0.7zM84.0 504.9h0.7v0.7h-0.7zM86.5 516.0h0.7v0.7h-0.7zM75.7 508.8h0.7v0.7h-0.7zM77.4 504.6h0.7v0.7h-0.7zM77.6 520.0h0.7v0.7h-0.7zM80.0 509.7h0.7v0.7h-0.7zM89.9 518.0h0.7v0.7h-0.7zM92.4 499.9h0.7v0.7h-0.7zM88.5 501.8h0.7v0.7h-0.7zM80.2 509.6h0.7v0.7h-0.7zM80.6 523.4h0.7v0.7h-0.7zM83.0 518.8h0.7v0.7h-0.7zM82.9 511.7h0.7v0.7h-0.7zM87.1 514.6h0.7v0.7h-0.7zM87.0 501.9h0.7v0.7h-0.7zM87.0 513.9h0.7v0.7h-0.7zM87.6 511.7h0.7v0.7h-0.7zM86.5 504.4h0.7v0.7h-0.7zM90.8 504.9h0.7v0.7h-0.7zM92.4 517.9h0.7v0.7h-0.7zM83.6 510.3h0.7v0.7h-0.7zM88.7 510.2h0.7v0.7h-0.7zM76.9 513.6h0.7v0.7h-0.7zM76.7 509.3h0.7v0.7h-0.7zM94.8 516.7h0.7v0.7h-0.7zM81.3 511.6h0.7v0.7h-0.7zM80.1 511.9h0.7v0.7h-0.7zM75.3 516.0h0.7v0.7h-0.7zM84.1 508.4h0.7v0.7h-0.7zM80.3 527.3h0.7v0.7h-0.7zM81.3 509.2h0.7v0.7h-0.7zM80.5 509.1h0.7v0.7h-0.7zM91.9 516.0h0.7v0.7h-0.7zM86.5 514.1h0.7v0.7h-0.7zM77.2 497.9h0.7v0.7h-0.7zM93.1 516.2h0.7v0.7h-0.7zM85.3 513.6h0.7v0.7h-0.7zM85.2 512.1h0.7v0.7h-0.7zM82.4 499.0h0.7v0.7h-0.7zM87.4 512.3h0.7v0.7h-0.7zM89.9 513.8h0.7v0.7h-0.7zM82.3 515.5h0.7v0.7h-0.7zM85.1 509.4h0.7v0.7h-0.7zM81.7 509.5h0.7v0.7h-0.7zM82.2 509.4h0.7v0.7h-0.7zM89.9 529.0h0.7v0.7h-0.7zM83.3 518.5h0.7v0.7h-0.7zM72.2 493.1h0.7v0.7h-0.7zM81.2 511.1h0.7v0.7h-0.7zM79.5 504.1h0.7v0.7h-0.7zM78.9 509.0h0.7v0.7h-0.7zM84.9 510.0h0.7v0.7h-0.7zM76.8 509.8h0.7v0.7h-0.7zM93.1 506.9h0.7v0.7h-0.7zM84.4 517.9h0.7v0.7h-0.7zM79.2 508.7h0.7v0.7h-0.7zM101.4 519.2h0.7v0.7h-0.7zM80.8 512.9h0.7v0.7h-0.7zM84.6 512.9h0.7v0.7h-0.7zM86.8 510.3h0.7v0.7h-0.7zM70.7 506.4h0.7v0.7h-0.7zM84.9 504.0h0.7v0.7h-0.7zM82.1 520.8h0.7v0.7h-0.7zM85.4 508.2h0.7v0.7h-0.7zM84.8 518.1h0.7v0.7h-0.7zM73.7 504.7h0.7v0.7h-0.7zM80.0 509.4h0.7v0.7h-0.7zM83.5 508.6h0.7v0.7h-0.7zM84.6 512.5h0.7v0.7h-0.7zM77.0 508.4h0.7v0.7h-0.7zM76.6 513.7h0.7v0.7h-0.7zM85.6 515.8h0.7v0.7h-0.7zM78.7 508.9h0.7v0.7h-0.7zM70.7 512.1h0.7v0.7h-0.7zM74.3 514.0h0.7v0.7h-0.7zM90.5 514.6h0.7v0.7h-0.7zM87.8 513.3h0.7v0.7h-0.7zM86.2 517.5h0.7v0.7h-0.7zM91.6 523.8h0.7v0.7h-0.7zM82.4 516.9h0.7v0.7h-0.7zM89.2 514.5h0.7v0.7h-0.7zM85.6 504.6h0.7v0.7h-0.7zM90.5 506.8h0.7v0.7h-0.7zM80.1 507.0h0.7v0.7h-0.7zM87.4 506.4h0.7v0.7h-0.7zM86.7 515.3h0.7v0.7h-0.7zM84.6 510.0h0.7v0.7h-0.7zM87.6 519.6h0.7v0.7h-0.7zM81.2 505.9h0.7v0.7h-0.7zM80.4 506.9h0.7v0.7h-0.7zM82.6 511.1h0.7v0.7h-0.7zM70.2 520.5h0.7v0.7h-0.7zM79.1 509.5h0.7v0.7h-0.7zM72.3 500.5h0.7v0.7h-0.7zM77.9 513.3h0.7v0.7h-0.7zM89.1 501.5h0.7v0.7h-0.7zM85.3 520.8h0.7v0.7h-0.7zM82.3 517.3h0.7v0.7h-0.7zM85.9 506.6h0.7v0.7h-0.7zM89.9 508.5h0.7v0.7h-0.7zM86.1 509.7h0.7v0.7h-0.7zM82.7 512.9h0.7v0.7h-0.7zM91.9 502.2h0.7v0.7h-0.7zM77.3 512.6h0.7v0.7h-0.7zM89.8 510.9h0.7v0.7h-0.7zM82.9 515.1h0.7v0.7h-0.7zM93.4 506.7h0.7v0.7h-0.7zM74.4 510.4h0.7v0.7h-0.7zM88.6 504.3h0.7v0.7h-0.7zM90.7 517.5h0.7v0.7h-0.7zM88.7 507.1h0.7v0.7h-0.7zM76.3 515.8h0.7v0.7h-0.7zM85.6 516.0h0.7v0.7h-0.7zM75.9 494.8h0.7v0.7h-0.7zM90.7 517.8h0.7v0.7h-0.7zM82.3 512.0h0.7v0.7h-0.7zM86.7 516.3h0.7v0.7h-0.7zM82.9 509.0h0.7v0.7h-0.7zM78.2 518.0h0.7v0.7h-0.7zM84.6 492.2h0.7v0.7h-0.7zM86.1 508.7h0.7v0.7h-0.7zM76.4 509.0h0.7v0.7h-0.7zM76.3 509.4h0.7v0.7h-0.7zM80.7 515.0h0.7v0.7h-0.7zM77.9 501.4h0.7v0.7h-0.7zM80.4 504.0h0.7v0.7h-0.7zM88.4 510.8h0.7v0.7h-0.7zM74.0 506.9h0.7v0.7h-0.7zM83.8 511.8h0.7v0.7h-0.7zM73.0 511.2h0.7v0.7h-0.7zM85.8 517.7h0.7v0.7h-0.7zM90.6 511.3h0.7v0.7h-0.7zM76.2 509.8h0.7v0.7h-0.7zM87.9 506.6h0.7v0.7h-0.7zM91.5 506.4h0.7v0.7h-0.7zM77.3 516.8h0.7v0.7h-0.7zM83.4 513.9h0.7v0.7h-0.7zM82.2 512.2h0.7v0.7h-0.7zM80.5 523.0h0.7v0.7h-0.7zM87.9 511.3h0.7v0.7h-0.7zM86.8 516.8h0.7v0.7h-0.7z" fill="#44cc44"/>
<rect x="36.6" y="462.8" width="92.6" height="90.2" fill="none" stroke="#000" stroke-width="1.2"/>
<line x1="33.8" y1="551.9" x2="36.6" y2="551.9" stroke="#111" stroke-width="0.6"/>
<line x1="34.9" y1="544.15" x2="36.6" y2="544.15" stroke="#111" stroke-width="0.6"/>
<line x1="34.9" y1="539.61" x2="36.6" y2="539.61" stroke="#111" stroke-width="0.6"/>
<line x1="34.9" y1="536.4" x2="36.6" y2="536.4" stroke="#111" stroke-width="0.6"/>
<line x1="34.9" y1="533.9" x2="36.6" y2="533.9" stroke="#111" stroke-width="0.6"/>
<line x1="34.9" y1="531.86" x2="36.6" y2="531.86" stroke="#111" stroke-width="0.6"/>
<line x1="34.9" y1="530.14" x2="36.6" y2="530.14" stroke="#111" stroke-width="0.6"/>
<line x1="34.9" y1="528.65" x2="36.6" y2="528.65" stroke="#111" stroke-width="0.6"/>
<line x1="34.9" y1="527.33" x2="36.6" y2="527.33" stroke="#111" stroke-width="0.6"/>
<line x1="33.8" y1="526.15" x2="36.6" y2="526.15" stroke="#111" stroke-width="0.6"/>
<line x1="34.9" y1="518.4" x2="36.6" y2="518.4" stroke="#111" stroke-width="0.6"/>
<line x1="34.9" y1="513.86" x2="36.6" y2="513.86" stroke="#111" stroke-width="0.6"/>
<line x1="34.9" y1="510.65" x2="36.6" y2="510.65" stroke="#111" stroke-width="0.6"/>
<line x1="34.9" y1="508.15" x2="36.6" y2="508.15" stroke="#111" stroke-width="0.6"/>
<line x1="34.9" y1="506.11" x2="36.6" y2="506.11" stroke="#111" stroke-width="0.6"/>
<line x1="34.9" y1="504.39" x2="36.6" y2="504.39" stroke="#111" stroke-width="0.6"/>
<line x1="34.9" y1="502.9" x2="36.6" y2="502.9" stroke="#111" stroke-width="0.6"/>
<line x1="34.9" y1="501.58" x2="36.6" y2="501.58" stroke="#111" stroke-width="0.6"/>
<line x1="33.8" y1="500.4" x2="36.6" y2="500.4" stroke="#111" stroke-width="0.6"/>
<line x1="34.9" y1="492.65" x2="36.6" y2="492.65" stroke="#111" stroke-width="0.6"/>
<line x1="34.9" y1="488.11" x2="36.6" y2="488.11" stroke="#111" stroke-width="0.6"/>
<line x1="34.9" y1="484.9" x2="36.6" y2="484.9" stroke="#111" stroke-width="0.6"/>
<line x1="34.9" y1="482.4" x2="36.6" y2="482.4" stroke="#111" stroke-width="0.6"/>
<line x1="34.9" y1="480.36" x2="36.6" y2="480.36" stroke="#111" stroke-width="0.6"/>
<line x1="34.9" y1="478.64" x2="36.6" y2="478.64" stroke="#111" stroke-width="0.6"/>
<line x1="34.9" y1="477.15" x2="36.6" y2="477.15" stroke="#111" stroke-width="0.6"/>
<line x1="34.9" y1="475.83" x2="36.6" y2="475.83" stroke="#111" stroke-width="0.6"/>
<line x1="33.8" y1="474.65" x2="36.6" y2="474.65" stroke="#111" stroke-width="0.6"/>
<line x1="34.9" y1="466.9" x2="36.6" y2="466.9" stroke="#111" stroke-width="0.6"/>
<text x="25.3" y="556.7" font-size="7.2" text-anchor="end" textLength="7" lengthAdjust="spacingAndGlyphs">10</text>
<text x="25.6" y="552.8" font-size="4.8">1</text>
<text x="25.3" y="531" font-size="7.2" text-anchor="end" textLength="7" lengthAdjust="spacingAndGlyphs">10</text>
<text x="25.6" y="527.1" font-size="4.8">2</text>
<text x="25.3" y="505.3" font-size="7.2" text-anchor="end" textLength="7" lengthAdjust="spacingAndGlyphs">10</text>
<text x="25.6" y="501.4" font-size="4.8">3</text>
<text x="25.3" y="479.5" font-size="7.2" text-anchor="end" textLength="7" lengthAdjust="spacingAndGlyphs">10</text>
<text x="25.6" y="475.6" font-size="4.8">4</text>
<line x1="36.6" y1="553" x2="36.6" y2="555.6" stroke="#111" stroke-width="0.6"/>
<line x1="47.44" y1="553" x2="47.44" y2="554.6" stroke="#111" stroke-width="0.6"/>
<line x1="58.28" y1="553" x2="58.28" y2="555.6" stroke="#111" stroke-width="0.6"/>
<line x1="69.12" y1="553" x2="69.12" y2="554.6" stroke="#111" stroke-width="0.6"/>
<line x1="79.96" y1="553" x2="79.96" y2="555.6" stroke="#111" stroke-width="0.6"/>
<line x1="90.8" y1="553" x2="90.8" y2="554.6" stroke="#111" stroke-width="0.6"/>
<line x1="101.64" y1="553" x2="101.64" y2="555.6" stroke="#111" stroke-width="0.6"/>
<line x1="112.48" y1="553" x2="112.48" y2="554.6" stroke="#111" stroke-width="0.6"/>
<line x1="123.32" y1="553" x2="123.32" y2="555.6" stroke="#111" stroke-width="0.6"/>
<text x="36.6" y="562.8" font-size="7.1" text-anchor="middle">0</text>
<text x="58.3" y="562.8" font-size="7.1" text-anchor="middle">200</text>
<text x="80.1" y="562.8" font-size="7.1" text-anchor="middle">400</text>
<text x="101.8" y="562.8" font-size="7.1" text-anchor="middle">600</text>
<text x="123.8" y="562.8" font-size="7.1" text-anchor="middle">800</text>
<text x="70" y="575.6" font-size="8.4" textLength="20.2" lengthAdjust="spacingAndGlyphs">FSC-H</text>
<text x="13.2" y="507.5" font-size="8.8" text-anchor="middle" textLength="34.6" lengthAdjust="spacingAndGlyphs" transform="rotate(-90 13.2 507.5)">DiBAC<tspan font-size="5.6" dy="1.6">4</tspan><tspan dy="-1.6"> (3)</tspan></text>
<rect x="137" y="438.8" width="6.6" height="6.6" fill="#c6c6c6"/>
<text x="146.7" y="444.5" font-size="6.9" textLength="27.5" lengthAdjust="spacingAndGlyphs">Medium</text>
<rect x="137" y="450.4" width="6.6" height="6.6" fill="#8a8a8a"/>
<text x="146.7" y="456.3" font-size="6.9" textLength="13.5" lengthAdjust="spacingAndGlyphs">sUA</text>
<rect x="137" y="461.4" width="6.6" height="6.6" fill="#1c8a1c"/>
<text x="146.7" y="467.3" font-size="6.9" textLength="23.3" lengthAdjust="spacingAndGlyphs">CXCL8</text>
<rect x="137" y="472.6" width="6.6" height="6.6" fill="#3fd03f"/>
<text x="146.7" y="478.3" font-size="6.9" textLength="41.7" lengthAdjust="spacingAndGlyphs">sUA+CXCL8</text>
<rect x="233" y="510.7" width="9.5" height="33.2" fill="#e27f90"/>
<rect x="248.7" y="522.9" width="9.4" height="21" fill="#80a4c6"/>
<rect x="274.3" y="476.5" width="9.4" height="67.4" fill="#99dba3"/>
<rect x="289.6" y="492.2" width="9.4" height="51.7" fill="#a98fbd"/>
<line x1="237.75" y1="504" x2="237.75" y2="516" stroke="#000" stroke-width="0.9"/>
<line x1="235.75" y1="504" x2="239.75" y2="504" stroke="#000" stroke-width="0.9"/>
<line x1="235.75" y1="516" x2="239.75" y2="516" stroke="#000" stroke-width="0.9"/>
<circle cx="236.3" cy="504.3" r="1.85" fill="#fff" stroke="#000" stroke-width="1"/>
<circle cx="239.3" cy="507.5" r="1.85" fill="#fff" stroke="#000" stroke-width="1"/>
<circle cx="237.7" cy="511.5" r="1.85" fill="#fff" stroke="#000" stroke-width="1"/>
<circle cx="239.8" cy="515.6" r="1.85" fill="#fff" stroke="#000" stroke-width="1"/>
<line x1="253.4" y1="518" x2="253.4" y2="528" stroke="#000" stroke-width="0.9"/>
<line x1="251.4" y1="518" x2="255.4" y2="518" stroke="#000" stroke-width="0.9"/>
<line x1="251.4" y1="528" x2="255.4" y2="528" stroke="#000" stroke-width="0.9"/>
<circle cx="253.3" cy="519.1" r="2.15" fill="#000"/>
<circle cx="251.9" cy="521.8" r="2.15" fill="#000"/>
<circle cx="255.2" cy="527.2" r="2.15" fill="#000"/>
<line x1="279" y1="473" x2="279" y2="483" stroke="#000" stroke-width="0.9"/>
<line x1="277" y1="473" x2="281" y2="473" stroke="#000" stroke-width="0.9"/>
<line x1="277" y1="483" x2="281" y2="483" stroke="#000" stroke-width="0.9"/>
<circle cx="276.7" cy="473.3" r="1.85" fill="#fff" stroke="#000" stroke-width="1"/>
<circle cx="280.2" cy="473.8" r="1.85" fill="#fff" stroke="#000" stroke-width="1"/>
<circle cx="277.5" cy="476.5" r="1.85" fill="#fff" stroke="#000" stroke-width="1"/>
<circle cx="280.2" cy="482.7" r="1.85" fill="#fff" stroke="#000" stroke-width="1"/>
<line x1="294.3" y1="489" x2="294.3" y2="497" stroke="#000" stroke-width="0.9"/>
<line x1="292.3" y1="489" x2="296.3" y2="489" stroke="#000" stroke-width="0.9"/>
<line x1="292.3" y1="497" x2="296.3" y2="497" stroke="#000" stroke-width="0.9"/>
<circle cx="293.7" cy="489.5" r="2.15" fill="#000"/>
<circle cx="295" cy="491.4" r="2.15" fill="#000"/>
<circle cx="293.7" cy="495.4" r="2.15" fill="#000"/>
<circle cx="295.5" cy="497.3" r="2.15" fill="#000"/>
<line x1="227.9" y1="450.5" x2="227.9" y2="544.6" stroke="#111" stroke-width="1.35"/>
<line x1="227.2" y1="543.9" x2="304.4" y2="543.9" stroke="#111" stroke-width="1.35"/>
<line x1="224.7" y1="543.9" x2="227.7" y2="543.9" stroke="#111" stroke-width="1"/>
<text x="222.1" y="546.85" font-size="8.4" text-anchor="end" textLength="12.6" lengthAdjust="spacingAndGlyphs">150</text>
<line x1="224.7" y1="521.55" x2="227.7" y2="521.55" stroke="#111" stroke-width="1"/>
<text x="222.1" y="524.5" font-size="8.4" text-anchor="end" textLength="12.6" lengthAdjust="spacingAndGlyphs">200</text>
<line x1="224.7" y1="499.2" x2="227.7" y2="499.2" stroke="#111" stroke-width="1"/>
<text x="222.1" y="502.15" font-size="8.4" text-anchor="end" textLength="12.6" lengthAdjust="spacingAndGlyphs">250</text>
<line x1="224.7" y1="476.85" x2="227.7" y2="476.85" stroke="#111" stroke-width="1"/>
<text x="222.1" y="479.8" font-size="8.4" text-anchor="end" textLength="12.6" lengthAdjust="spacingAndGlyphs">300</text>
<line x1="224.7" y1="454.5" x2="227.7" y2="454.5" stroke="#111" stroke-width="1"/>
<text x="222.1" y="457.45" font-size="8.4" text-anchor="end" textLength="12.6" lengthAdjust="spacingAndGlyphs">350</text>
<line x1="238.5" y1="465" x2="278.9" y2="465" stroke="#222" stroke-width="1.1"/>
<path d="M254.8,459.15L254.8,462.05M256.06,459.88L253.54,461.33M256.06,461.33L253.54,459.88" stroke="#111" stroke-width="0.8" stroke-linecap="round"/>
<path d="M258.7,459.15L258.7,462.05M259.96,459.88L257.44,461.33M259.96,461.33L257.44,459.88" stroke="#111" stroke-width="0.8" stroke-linecap="round"/>
<path d="M262.6,459.15L262.6,462.05M263.86,459.88L261.34,461.33M263.86,461.33L261.34,459.88" stroke="#111" stroke-width="0.8" stroke-linecap="round"/>
<line x1="281" y1="465" x2="295.8" y2="465" stroke="#222" stroke-width="1.1"/>
<path d="M286.45,459.15L286.45,462.05M287.71,459.88L285.19,461.33M287.71,461.33L285.19,459.88" stroke="#111" stroke-width="0.8" stroke-linecap="round"/>
<path d="M290.35,459.15L290.35,462.05M291.61,459.88L289.09,461.33M291.61,461.33L289.09,459.88" stroke="#111" stroke-width="0.8" stroke-linecap="round"/>
<line x1="238" y1="498.6" x2="261.4" y2="498.6" stroke="#222" stroke-width="1.1"/>
<path d="M249.7,492.75L249.7,495.65M250.96,493.48L248.44,494.93M250.96,494.93L248.44,493.48" stroke="#111" stroke-width="0.8" stroke-linecap="round"/>
<text x="231.7" y="553.1" font-size="8.2" textLength="29.7" lengthAdjust="spacingAndGlyphs">Medium</text>
<text x="273.5" y="553.1" font-size="8.2" textLength="25" lengthAdjust="spacingAndGlyphs">CXCL8</text>
<line x1="231.7" y1="557.3" x2="303.6" y2="557.3" stroke="#111" stroke-width="0.9"/>
<text x="244.7" y="568.1" font-size="8" textLength="38.2" lengthAdjust="spacingAndGlyphs">10 minutes</text>
<circle cx="247.3" cy="445.5" r="1.75" fill="#fff" stroke="#000" stroke-width="1"/>
<text x="252.8" y="448.3" font-size="7.7" textLength="12.3" lengthAdjust="spacingAndGlyphs">Ctrl</text>
<circle cx="277.8" cy="445.5" r="2.1" fill="#000"/>
<text x="283.3" y="448.3" font-size="7.7" textLength="13.7" lengthAdjust="spacingAndGlyphs">sUA</text>
<text x="203.6" y="497.9" font-size="9.3" text-anchor="middle" textLength="83.9" lengthAdjust="spacingAndGlyphs" transform="rotate(-90 203.6 497.9)">Geometric mean of FSC-H</text>
<text x="194.8" y="436.7" font-size="10.6" font-weight="bold" fill="#000">G</text>
<rect x="360.8" y="498.9" width="9.6" height="44.3" fill="#e27f90"/>
<rect x="376" y="510.8" width="9.5" height="32.4" fill="#80a4c6"/>
<rect x="401.4" y="470" width="9.4" height="73.2" fill="#99dba3"/>
<rect x="416.8" y="495.6" width="9.7" height="47.6" fill="#a98fbd"/>
<rect x="442.2" y="504" width="9.7" height="39.2" fill="#e27f90"/>
<rect x="457.6" y="513.6" width="9.5" height="29.6" fill="#80a4c6"/>
<rect x="483" y="478.2" width="9.5" height="65" fill="#99dba3"/>
<rect x="498.4" y="499.8" width="9.3" height="43.4" fill="#a98fbd"/>
<line x1="365.6" y1="493" x2="365.6" y2="504" stroke="#000" stroke-width="0.9"/>
<line x1="363.6" y1="493" x2="367.6" y2="493" stroke="#000" stroke-width="0.9"/>
<line x1="363.6" y1="504" x2="367.6" y2="504" stroke="#000" stroke-width="0.9"/>
<circle cx="366" cy="493.5" r="1.85" fill="#fff" stroke="#000" stroke-width="1"/>
<circle cx="363.3" cy="496.7" r="1.85" fill="#fff" stroke="#000" stroke-width="1"/>
<circle cx="366" cy="500.3" r="1.85" fill="#fff" stroke="#000" stroke-width="1"/>
<circle cx="367.5" cy="503.4" r="1.85" fill="#fff" stroke="#000" stroke-width="1"/>
<line x1="380.75" y1="507" x2="380.75" y2="516" stroke="#000" stroke-width="0.9"/>
<line x1="378.75" y1="507" x2="382.75" y2="507" stroke="#000" stroke-width="0.9"/>
<line x1="378.75" y1="516" x2="382.75" y2="516" stroke="#000" stroke-width="0.9"/>
<circle cx="378.7" cy="509.2" r="2.15" fill="#000"/>
<circle cx="381" cy="507.9" r="2.15" fill="#000"/>
<circle cx="380.1" cy="512.4" r="2.15" fill="#000"/>
<circle cx="382.8" cy="516" r="2.15" fill="#000"/>
<line x1="406.1" y1="458" x2="406.1" y2="480" stroke="#000" stroke-width="0.9"/>
<line x1="404.1" y1="458" x2="408.1" y2="458" stroke="#000" stroke-width="0.9"/>
<line x1="404.1" y1="480" x2="408.1" y2="480" stroke="#000" stroke-width="0.9"/>
<circle cx="404.1" cy="458.6" r="1.85" fill="#fff" stroke="#000" stroke-width="1"/>
<circle cx="407.9" cy="466" r="1.85" fill="#fff" stroke="#000" stroke-width="1"/>
<circle cx="404.8" cy="476.1" r="1.85" fill="#fff" stroke="#000" stroke-width="1"/>
<circle cx="407.9" cy="478.7" r="1.85" fill="#fff" stroke="#000" stroke-width="1"/>
<line x1="421.65" y1="487" x2="421.65" y2="504" stroke="#000" stroke-width="0.9"/>
<line x1="419.65" y1="487" x2="423.65" y2="487" stroke="#000" stroke-width="0.9"/>
<line x1="419.65" y1="504" x2="423.65" y2="504" stroke="#000" stroke-width="0.9"/>
<circle cx="419.5" cy="487.1" r="2.15" fill="#000"/>
<circle cx="423.1" cy="493.5" r="2.15" fill="#000"/>
<circle cx="418.9" cy="496.6" r="2.15" fill="#000"/>
<circle cx="423.1" cy="504" r="2.15" fill="#000"/>
<line x1="447.05" y1="498" x2="447.05" y2="510" stroke="#000" stroke-width="0.9"/>
<line x1="445.05" y1="498" x2="449.05" y2="498" stroke="#000" stroke-width="0.9"/>
<line x1="445.05" y1="510" x2="449.05" y2="510" stroke="#000" stroke-width="0.9"/>
<circle cx="447" cy="497.7" r="1.85" fill="#fff" stroke="#000" stroke-width="1"/>
<circle cx="444.9" cy="504" r="1.85" fill="#fff" stroke="#000" stroke-width="1"/>
<circle cx="447.7" cy="506.2" r="1.85" fill="#fff" stroke="#000" stroke-width="1"/>
<circle cx="449.1" cy="509.3" r="1.85" fill="#fff" stroke="#000" stroke-width="1"/>
<line x1="462.35" y1="509" x2="462.35" y2="517" stroke="#000" stroke-width="0.9"/>
<line x1="460.35" y1="509" x2="464.35" y2="509" stroke="#000" stroke-width="0.9"/>
<line x1="460.35" y1="517" x2="464.35" y2="517" stroke="#000" stroke-width="0.9"/>
<circle cx="462.5" cy="509.3" r="2.15" fill="#000"/>
<circle cx="460.3" cy="512.5" r="2.15" fill="#000"/>
<circle cx="462.9" cy="514.6" r="2.15" fill="#000"/>
<circle cx="464.6" cy="517.2" r="2.15" fill="#000"/>
<line x1="487.75" y1="469" x2="487.75" y2="485" stroke="#000" stroke-width="0.9"/>
<line x1="485.75" y1="469" x2="489.75" y2="469" stroke="#000" stroke-width="0.9"/>
<line x1="485.75" y1="485" x2="489.75" y2="485" stroke="#000" stroke-width="0.9"/>
<circle cx="485.7" cy="469.1" r="1.85" fill="#fff" stroke="#000" stroke-width="1"/>
<circle cx="490" cy="474.8" r="1.85" fill="#fff" stroke="#000" stroke-width="1"/>
<circle cx="485.7" cy="479.1" r="1.85" fill="#fff" stroke="#000" stroke-width="1"/>
<circle cx="489.3" cy="484.6" r="1.85" fill="#fff" stroke="#000" stroke-width="1"/>
<line x1="503.05" y1="495" x2="503.05" y2="505" stroke="#000" stroke-width="0.9"/>
<line x1="501.05" y1="495" x2="505.05" y2="495" stroke="#000" stroke-width="0.9"/>
<line x1="501.05" y1="505" x2="505.05" y2="505" stroke="#000" stroke-width="0.9"/>
<circle cx="501" cy="495.2" r="2.15" fill="#000"/>
<circle cx="504.8" cy="496" r="2.15" fill="#000"/>
<circle cx="501.4" cy="500.9" r="2.15" fill="#000"/>
<circle cx="504.8" cy="505.1" r="2.15" fill="#000"/>
<line x1="355.6" y1="449.5" x2="355.6" y2="543.9" stroke="#111" stroke-width="1.35"/>
<line x1="354.9" y1="543.2" x2="513.7" y2="543.2" stroke="#111" stroke-width="1.35"/>
<line x1="352.4" y1="543" x2="355.4" y2="543" stroke="#111" stroke-width="1"/>
<text x="349" y="545.95" font-size="8.4" text-anchor="end" textLength="4.2" lengthAdjust="spacingAndGlyphs">0</text>
<line x1="352.4" y1="531.84" x2="355.4" y2="531.84" stroke="#111" stroke-width="1"/>
<text x="349" y="534.79" font-size="8.4" text-anchor="end" textLength="12.6" lengthAdjust="spacingAndGlyphs">100</text>
<line x1="352.4" y1="520.67" x2="355.4" y2="520.67" stroke="#111" stroke-width="1"/>
<text x="349" y="523.62" font-size="8.4" text-anchor="end" textLength="12.6" lengthAdjust="spacingAndGlyphs">200</text>
<line x1="352.4" y1="509.51" x2="355.4" y2="509.51" stroke="#111" stroke-width="1"/>
<text x="349" y="512.46" font-size="8.4" text-anchor="end" textLength="12.6" lengthAdjust="spacingAndGlyphs">300</text>
<line x1="352.4" y1="498.35" x2="355.4" y2="498.35" stroke="#111" stroke-width="1"/>
<text x="349" y="501.3" font-size="8.4" text-anchor="end" textLength="12.6" lengthAdjust="spacingAndGlyphs">400</text>
<line x1="352.4" y1="487.19" x2="355.4" y2="487.19" stroke="#111" stroke-width="1"/>
<text x="349" y="490.13" font-size="8.4" text-anchor="end" textLength="12.6" lengthAdjust="spacingAndGlyphs">500</text>
<line x1="352.4" y1="476.02" x2="355.4" y2="476.02" stroke="#111" stroke-width="1"/>
<text x="349" y="478.97" font-size="8.4" text-anchor="end" textLength="12.6" lengthAdjust="spacingAndGlyphs">600</text>
<line x1="352.4" y1="464.86" x2="355.4" y2="464.86" stroke="#111" stroke-width="1"/>
<text x="349" y="467.81" font-size="8.4" text-anchor="end" textLength="12.6" lengthAdjust="spacingAndGlyphs">700</text>
<line x1="352.4" y1="453.7" x2="355.4" y2="453.7" stroke="#111" stroke-width="1"/>
<text x="349" y="456.65" font-size="8.4" text-anchor="end" textLength="12.6" lengthAdjust="spacingAndGlyphs">800</text>
<line x1="366.6" y1="451.4" x2="404.8" y2="451.4" stroke="#222" stroke-width="1.1"/>
<path d="M381.8,445.55L381.8,448.45M383.06,446.27L380.54,447.73M383.06,447.73L380.54,446.27" stroke="#111" stroke-width="0.8" stroke-linecap="round"/>
<path d="M385.7,445.55L385.7,448.45M386.96,446.27L384.44,447.73M386.96,447.73L384.44,446.27" stroke="#111" stroke-width="0.8" stroke-linecap="round"/>
<path d="M389.6,445.55L389.6,448.45M390.86,446.27L388.34,447.73M390.86,447.73L388.34,446.27" stroke="#111" stroke-width="0.8" stroke-linecap="round"/>
<line x1="407.4" y1="451.4" x2="422.3" y2="451.4" stroke="#222" stroke-width="1.1"/>
<path d="M412.9,445.55L412.9,448.45M414.16,446.27L411.64,447.73M414.16,447.73L411.64,446.27" stroke="#111" stroke-width="0.8" stroke-linecap="round"/>
<path d="M416.8,445.55L416.8,448.45M418.06,446.27L415.54,447.73M418.06,447.73L415.54,446.27" stroke="#111" stroke-width="0.8" stroke-linecap="round"/>
<line x1="365.5" y1="486.8" x2="380.5" y2="486.8" stroke="#222" stroke-width="1.1"/>
<path d="M373,480.95L373,483.85M374.26,481.68L371.74,483.13M374.26,483.13L371.74,481.68" stroke="#111" stroke-width="0.8" stroke-linecap="round"/>
<line x1="448.7" y1="462.8" x2="486.6" y2="462.8" stroke="#222" stroke-width="1.1"/>
<path d="M463.75,456.95L463.75,459.85M465.01,457.68L462.49,459.13M465.01,459.13L462.49,457.68" stroke="#111" stroke-width="0.8" stroke-linecap="round"/>
<path d="M467.65,456.95L467.65,459.85M468.91,457.68L466.39,459.13M468.91,459.13L466.39,457.68" stroke="#111" stroke-width="0.8" stroke-linecap="round"/>
<path d="M471.55,456.95L471.55,459.85M472.81,457.68L470.29,459.13M472.81,459.13L470.29,457.68" stroke="#111" stroke-width="0.8" stroke-linecap="round"/>
<line x1="488.7" y1="462.8" x2="503.5" y2="462.8" stroke="#222" stroke-width="1.1"/>
<path d="M494.15,456.95L494.15,459.85M495.41,457.68L492.89,459.13M495.41,459.13L492.89,457.68" stroke="#111" stroke-width="0.8" stroke-linecap="round"/>
<path d="M498.05,456.95L498.05,459.85M499.31,457.68L496.79,459.13M499.31,459.13L496.79,457.68" stroke="#111" stroke-width="0.8" stroke-linecap="round"/>
<line x1="450.2" y1="491" x2="462.5" y2="491" stroke="#222" stroke-width="1.1"/>
<text x="456.35" y="488.4" font-size="7.9" text-anchor="middle">ns</text>
<text x="360" y="552.7" font-size="8.2" textLength="28.4" lengthAdjust="spacingAndGlyphs">Medium</text>
<text x="401.5" y="552.7" font-size="8.2" textLength="24.5" lengthAdjust="spacingAndGlyphs">CXCL8</text>
<text x="441.5" y="552.7" font-size="8.2" textLength="29" lengthAdjust="spacingAndGlyphs">Medium</text>
<text x="483" y="552.7" font-size="8.2" textLength="24.3" lengthAdjust="spacingAndGlyphs">CXCL8</text>
<line x1="358.3" y1="557.3" x2="427.6" y2="557.3" stroke="#111" stroke-width="0.9"/>
<line x1="439.6" y1="557.3" x2="509.4" y2="557.3" stroke="#111" stroke-width="0.9"/>
<text x="372" y="567.6" font-size="8" textLength="38.8" lengthAdjust="spacingAndGlyphs">10 minutes</text>
<text x="453.8" y="567.6" font-size="8" textLength="39.1" lengthAdjust="spacingAndGlyphs">20 minutes</text>
<circle cx="447.6" cy="445.1" r="1.75" fill="#fff" stroke="#000" stroke-width="1"/>
<text x="453.1" y="447.9" font-size="7.7" textLength="12.3" lengthAdjust="spacingAndGlyphs">Ctrl</text>
<circle cx="477.9" cy="445.1" r="2.1" fill="#000"/>
<text x="483.4" y="447.9" font-size="7.7" textLength="13.7" lengthAdjust="spacingAndGlyphs">sUA</text>
<text x="330.6" y="496.9" font-size="9.3" text-anchor="middle" textLength="58.1" lengthAdjust="spacingAndGlyphs" transform="rotate(-90 330.6 496.9)">MFI of DiBAC<tspan font-size="5" dy="1.5">4</tspan><tspan dy="-1.5"> (3)</tspan></text>
<text x="324" y="437.5" font-size="10.6" font-weight="bold" fill="#000">H</text>
<text x="6.6" y="585.6" font-size="10.6" font-weight="bold" fill="#000">I</text>
<rect x="30" y="592.4" width="92.2" height="90" fill="#fff"/>
<path d="M30,629.3 L30,629.3 L30.5,629.3 L31,629.3 L31.5,629.3 L32,629.3 L32.5,629.3 L33,629.3 L33.5,629.3 L34,629.3 L34.5,629.3 L35,629.3 L35.5,629.3 L36,629.3 L36.5,629.29 L37,629.29 L37.5,629.29 L38,629.29 L38.5,629.29 L39,629.29 L39.5,629.28 L40,629.28 L40.5,629.28 L41,629.27 L41.5,629.27 L42,629.26 L42.5,629.25 L43,629.24 L43.5,629.23 L44,629.22 L44.5,629.21 L45,629.19 L45.5,629.18 L46,629.16 L46.5,629.14 L47,629.11 L47.5,629.08 L48,629.05 L48.5,629.02 L49,628.98 L49.5,628.94 L50,628.89 L50.5,628.83 L51,628.77 L51.5,628.71 L52,628.64 L52.5,628.55 L53,628.46 L53.5,628.36 L54,628.25 L54.5,628.11 L55,627.96 L55.5,627.79 L56,627.59 L56.5,627.35 L57,627.07 L57.5,626.75 L58,626.36 L58.5,625.9 L59,625.37 L59.5,624.75 L60,624.02 L60.5,623.19 L61,622.24 L61.5,621.16 L62,619.97 L62.5,618.65 L63,617.22 L63.5,615.7 L64,614.09 L64.5,612.44 L65,610.76 L65.5,609.1 L66,607.5 L66.5,605.99 L67,604.63 L67.5,603.45 L68,602.49 L68.5,601.78 L69,601.35 L69.5,601.2 L70,601.32 L70.5,601.69 L71,602.3 L71.5,603.12 L72,604.13 L72.5,605.31 L73,606.63 L73.5,608.05 L74,609.54 L74.5,611.07 L75,612.61 L75.5,614.13 L76,615.6 L76.5,617.01 L77,618.33 L77.5,619.57 L78,620.7 L78.5,621.73 L79,622.65 L79.5,623.48 L80,624.2 L80.5,624.84 L81,625.4 L81.5,625.88 L82,626.29 L82.5,626.65 L83,626.95 L83.5,627.22 L84,627.45 L84.5,627.64 L85,627.82 L85.5,627.97 L86,628.1 L86.5,628.22 L87,628.32 L87.5,628.42 L88,628.5 L88.5,628.58 L89,628.65 L89.5,628.71 L90,628.77 L90.5,628.82 L91,628.87 L91.5,628.92 L92,628.96 L92.5,629 L93,629.03 L93.5,629.06 L94,629.09 L94.5,629.11 L95,629.13 L95.5,629.15 L96,629.17 L96.5,629.19 L97,629.2 L97.5,629.21 L98,629.23 L98.5,629.24 L99,629.24 L99.5,629.25 L100,629.26 L100.5,629.26 L101,629.27 L101.5,629.27 L102,629.28 L102.5,629.28 L103,629.28 L103.5,629.29 L104,629.29 L104.5,629.29 L105,629.29 L105.5,629.29 L106,629.29 L106.5,629.3 L107,629.3 L107.5,629.3 L108,629.3 L108.5,629.3 L109,629.3 L109.5,629.3 L110,629.3 L110.5,629.3 L111,629.3 L111.5,629.3 L112,629.3 L112.5,629.3 L113,629.3 L113.5,629.3 L114,629.3 L114.5,629.3 L115,629.3 L115.5,629.3 L116,629.3 L116.5,629.3 L117,629.3 L117.5,629.3 L118,629.3 L118.5,629.3 L119,629.3 L119.5,629.3 L120,629.3 L120.5,629.3 L121,629.3 L121.5,629.3 L122,629.3 L122.2,629.3 Z" fill="#e0e0e0" fill-opacity="1" stroke="none"/>
<path d="M30,629.3 L30.5,629.3 L31,629.3 L31.5,629.3 L32,629.3 L32.5,629.3 L33,629.3 L33.5,629.3 L34,629.3 L34.5,629.3 L35,629.3 L35.5,629.3 L36,629.3 L36.5,629.29 L37,629.29 L37.5,629.29 L38,629.29 L38.5,629.29 L39,629.29 L39.5,629.28 L40,629.28 L40.5,629.28 L41,629.27 L41.5,629.27 L42,629.26 L42.5,629.25 L43,629.24 L43.5,629.23 L44,629.22 L44.5,629.21 L45,629.19 L45.5,629.18 L46,629.16 L46.5,629.14 L47,629.11 L47.5,629.08 L48,629.05 L48.5,629.02 L49,628.98 L49.5,628.94 L50,628.89 L50.5,628.83 L51,628.77 L51.5,628.71 L52,628.64 L52.5,628.55 L53,628.46 L53.5,628.36 L54,628.25 L54.5,628.11 L55,627.96 L55.5,627.79 L56,627.59 L56.5,627.35 L57,627.07 L57.5,626.75 L58,626.36 L58.5,625.9 L59,625.37 L59.5,624.75 L60,624.02 L60.5,623.19 L61,622.24 L61.5,621.16 L62,619.97 L62.5,618.65 L63,617.22 L63.5,615.7 L64,614.09 L64.5,612.44 L65,610.76 L65.5,609.1 L66,607.5 L66.5,605.99 L67,604.63 L67.5,603.45 L68,602.49 L68.5,601.78 L69,601.35 L69.5,601.2 L70,601.32 L70.5,601.69 L71,602.3 L71.5,603.12 L72,604.13 L72.5,605.31 L73,606.63 L73.5,608.05 L74,609.54 L74.5,611.07 L75,612.61 L75.5,614.13 L76,615.6 L76.5,617.01 L77,618.33 L77.5,619.57 L78,620.7 L78.5,621.73 L79,622.65 L79.5,623.48 L80,624.2 L80.5,624.84 L81,625.4 L81.5,625.88 L82,626.29 L82.5,626.65 L83,626.95 L83.5,627.22 L84,627.45 L84.5,627.64 L85,627.82 L85.5,627.97 L86,628.1 L86.5,628.22 L87,628.32 L87.5,628.42 L88,628.5 L88.5,628.58 L89,628.65 L89.5,628.71 L90,628.77 L90.5,628.82 L91,628.87 L91.5,628.92 L92,628.96 L92.5,629 L93,629.03 L93.5,629.06 L94,629.09 L94.5,629.11 L95,629.13 L95.5,629.15 L96,629.17 L96.5,629.19 L97,629.2 L97.5,629.21 L98,629.23 L98.5,629.24 L99,629.24 L99.5,629.25 L100,629.26 L100.5,629.26 L101,629.27 L101.5,629.27 L102,629.28 L102.5,629.28 L103,629.28 L103.5,629.29 L104,629.29 L104.5,629.29 L105,629.29 L105.5,629.29 L106,629.29 L106.5,629.3 L107,629.3 L107.5,629.3 L108,629.3 L108.5,629.3 L109,629.3 L109.5,629.3 L110,629.3 L110.5,629.3 L111,629.3 L111.5,629.3 L112,629.3 L112.5,629.3 L113,629.3 L113.5,629.3 L114,629.3 L114.5,629.3 L115,629.3 L115.5,629.3 L116,629.3 L116.5,629.3 L117,629.3 L117.5,629.3 L118,629.3 L118.5,629.3 L119,629.3 L119.5,629.3 L120,629.3 L120.5,629.3 L121,629.3 L121.5,629.3 L122,629.3" fill="none" stroke="#cdcdcd" stroke-width="0.8" stroke-linejoin="round"/>
<line x1="30" y1="629.3" x2="122.2" y2="629.3" stroke="#cdcdcd" stroke-width="0.9"/>
<path d="M30,646.9 L30,646.9 L30.5,646.9 L31,646.9 L31.5,646.9 L32,646.9 L32.5,646.9 L33,646.89 L33.5,646.89 L34,646.89 L34.5,646.89 L35,646.89 L35.5,646.89 L36,646.88 L36.5,646.88 L37,646.88 L37.5,646.87 L38,646.87 L38.5,646.86 L39,646.86 L39.5,646.85 L40,646.84 L40.5,646.84 L41,646.83 L41.5,646.81 L42,646.8 L42.5,646.79 L43,646.77 L43.5,646.75 L44,646.73 L44.5,646.71 L45,646.69 L45.5,646.66 L46,646.63 L46.5,646.6 L47,646.56 L47.5,646.52 L48,646.48 L48.5,646.43 L49,646.37 L49.5,646.31 L50,646.24 L50.5,646.16 L51,646.07 L51.5,645.96 L52,645.84 L52.5,645.71 L53,645.55 L53.5,645.37 L54,645.15 L54.5,644.91 L55,644.62 L55.5,644.28 L56,643.9 L56.5,643.45 L57,642.94 L57.5,642.36 L58,641.7 L58.5,640.95 L59,640.12 L59.5,639.2 L60,638.19 L60.5,637.09 L61,635.9 L61.5,634.65 L62,633.32 L62.5,631.95 L63,630.55 L63.5,629.13 L64,627.72 L64.5,626.35 L65,625.04 L65.5,623.82 L66,622.71 L66.5,621.74 L67,620.93 L67.5,620.29 L68,619.85 L68.5,619.62 L69,619.6 L69.5,619.78 L70,620.15 L70.5,620.7 L71,621.43 L71.5,622.31 L72,623.32 L72.5,624.46 L73,625.68 L73.5,626.98 L74,628.31 L74.5,629.68 L75,631.04 L75.5,632.38 L76,633.69 L76.5,634.95 L77,636.14 L77.5,637.27 L78,638.31 L78.5,639.28 L79,640.16 L79.5,640.95 L80,641.67 L80.5,642.31 L81,642.87 L81.5,643.37 L82,643.81 L82.5,644.19 L83,644.52 L83.5,644.81 L84,645.05 L84.5,645.27 L85,645.45 L85.5,645.62 L86,645.76 L86.5,645.88 L87,645.99 L87.5,646.08 L88,646.16 L88.5,646.24 L89,646.3 L89.5,646.36 L90,646.42 L90.5,646.47 L91,646.51 L91.5,646.55 L92,646.59 L92.5,646.62 L93,646.65 L93.5,646.67 L94,646.7 L94.5,646.72 L95,646.74 L95.5,646.76 L96,646.78 L96.5,646.79 L97,646.8 L97.5,646.81 L98,646.83 L98.5,646.83 L99,646.84 L99.5,646.85 L100,646.86 L100.5,646.86 L101,646.87 L101.5,646.87 L102,646.88 L102.5,646.88 L103,646.88 L103.5,646.88 L104,646.89 L104.5,646.89 L105,646.89 L105.5,646.89 L106,646.89 L106.5,646.89 L107,646.9 L107.5,646.9 L108,646.9 L108.5,646.9 L109,646.9 L109.5,646.9 L110,646.9 L110.5,646.9 L111,646.9 L111.5,646.9 L112,646.9 L112.5,646.9 L113,646.9 L113.5,646.9 L114,646.9 L114.5,646.9 L115,646.9 L115.5,646.9 L116,646.9 L116.5,646.9 L117,646.9 L117.5,646.9 L118,646.9 L118.5,646.9 L119,646.9 L119.5,646.9 L120,646.9 L120.5,646.9 L121,646.9 L121.5,646.9 L122,646.9 L122.2,646.9 Z" fill="#a2a2a2" fill-opacity="1" stroke="none"/>
<path d="M30,646.9 L30.5,646.9 L31,646.9 L31.5,646.9 L32,646.9 L32.5,646.9 L33,646.89 L33.5,646.89 L34,646.89 L34.5,646.89 L35,646.89 L35.5,646.89 L36,646.88 L36.5,646.88 L37,646.88 L37.5,646.87 L38,646.87 L38.5,646.86 L39,646.86 L39.5,646.85 L40,646.84 L40.5,646.84 L41,646.83 L41.5,646.81 L42,646.8 L42.5,646.79 L43,646.77 L43.5,646.75 L44,646.73 L44.5,646.71 L45,646.69 L45.5,646.66 L46,646.63 L46.5,646.6 L47,646.56 L47.5,646.52 L48,646.48 L48.5,646.43 L49,646.37 L49.5,646.31 L50,646.24 L50.5,646.16 L51,646.07 L51.5,645.96 L52,645.84 L52.5,645.71 L53,645.55 L53.5,645.37 L54,645.15 L54.5,644.91 L55,644.62 L55.5,644.28 L56,643.9 L56.5,643.45 L57,642.94 L57.5,642.36 L58,641.7 L58.5,640.95 L59,640.12 L59.5,639.2 L60,638.19 L60.5,637.09 L61,635.9 L61.5,634.65 L62,633.32 L62.5,631.95 L63,630.55 L63.5,629.13 L64,627.72 L64.5,626.35 L65,625.04 L65.5,623.82 L66,622.71 L66.5,621.74 L67,620.93 L67.5,620.29 L68,619.85 L68.5,619.62 L69,619.6 L69.5,619.78 L70,620.15 L70.5,620.7 L71,621.43 L71.5,622.31 L72,623.32 L72.5,624.46 L73,625.68 L73.5,626.98 L74,628.31 L74.5,629.68 L75,631.04 L75.5,632.38 L76,633.69 L76.5,634.95 L77,636.14 L77.5,637.27 L78,638.31 L78.5,639.28 L79,640.16 L79.5,640.95 L80,641.67 L80.5,642.31 L81,642.87 L81.5,643.37 L82,643.81 L82.5,644.19 L83,644.52 L83.5,644.81 L84,645.05 L84.5,645.27 L85,645.45 L85.5,645.62 L86,645.76 L86.5,645.88 L87,645.99 L87.5,646.08 L88,646.16 L88.5,646.24 L89,646.3 L89.5,646.36 L90,646.42 L90.5,646.47 L91,646.51 L91.5,646.55 L92,646.59 L92.5,646.62 L93,646.65 L93.5,646.67 L94,646.7 L94.5,646.72 L95,646.74 L95.5,646.76 L96,646.78 L96.5,646.79 L97,646.8 L97.5,646.81 L98,646.83 L98.5,646.83 L99,646.84 L99.5,646.85 L100,646.86 L100.5,646.86 L101,646.87 L101.5,646.87 L102,646.88 L102.5,646.88 L103,646.88 L103.5,646.88 L104,646.89 L104.5,646.89 L105,646.89 L105.5,646.89 L106,646.89 L106.5,646.89 L107,646.9 L107.5,646.9 L108,646.9 L108.5,646.9 L109,646.9 L109.5,646.9 L110,646.9 L110.5,646.9 L111,646.9 L111.5,646.9 L112,646.9 L112.5,646.9 L113,646.9 L113.5,646.9 L114,646.9 L114.5,646.9 L115,646.9 L115.5,646.9 L116,646.9 L116.5,646.9 L117,646.9 L117.5,646.9 L118,646.9 L118.5,646.9 L119,646.9 L119.5,646.9 L120,646.9 L120.5,646.9 L121,646.9 L121.5,646.9 L122,646.9" fill="none" stroke="#262626" stroke-width="0.9" stroke-linejoin="round"/>
<line x1="30" y1="646.9" x2="122.2" y2="646.9" stroke="#262626" stroke-width="0.9"/>
<path d="M30,665 L30,665 L30.5,665 L31,665 L31.5,665 L32,665 L32.5,665 L33,665 L33.5,664.99 L34,664.99 L34.5,664.99 L35,664.99 L35.5,664.99 L36,664.99 L36.5,664.99 L37,664.98 L37.5,664.98 L38,664.98 L38.5,664.97 L39,664.97 L39.5,664.97 L40,664.96 L40.5,664.96 L41,664.95 L41.5,664.94 L42,664.94 L42.5,664.93 L43,664.92 L43.5,664.91 L44,664.9 L44.5,664.88 L45,664.87 L45.5,664.85 L46,664.84 L46.5,664.82 L47,664.79 L47.5,664.77 L48,664.74 L48.5,664.72 L49,664.68 L49.5,664.65 L50,664.61 L50.5,664.56 L51,664.52 L51.5,664.46 L52,664.4 L52.5,664.33 L53,664.25 L53.5,664.17 L54,664.07 L54.5,663.95 L55,663.83 L55.5,663.68 L56,663.52 L56.5,663.34 L57,663.13 L57.5,662.9 L58,662.63 L58.5,662.33 L59,662 L59.5,661.63 L60,661.22 L60.5,660.76 L61,660.26 L61.5,659.7 L62,659.1 L62.5,658.44 L63,657.74 L63.5,656.98 L64,656.17 L64.5,655.31 L65,654.41 L65.5,653.47 L66,652.5 L66.5,651.51 L67,650.49 L67.5,649.47 L68,648.45 L68.5,647.44 L69,646.46 L69.5,645.51 L70,644.62 L70.5,643.78 L71,643.02 L71.5,642.34 L72,641.76 L72.5,641.27 L73,640.9 L73.5,640.65 L74,640.51 L74.5,640.5 L75,640.61 L75.5,640.83 L76,641.16 L76.5,641.61 L77,642.15 L77.5,642.79 L78,643.51 L78.5,644.31 L79,645.17 L79.5,646.09 L80,647.05 L80.5,648.04 L81,649.05 L81.5,650.07 L82,651.09 L82.5,652.1 L83,653.09 L83.5,654.05 L84,654.98 L84.5,655.87 L85,656.72 L85.5,657.52 L86,658.27 L86.5,658.97 L87,659.62 L87.5,660.22 L88,660.76 L88.5,661.26 L89,661.71 L89.5,662.12 L90,662.48 L90.5,662.8 L91,663.09 L91.5,663.34 L92,663.57 L92.5,663.76 L93,663.93 L93.5,664.08 L94,664.21 L94.5,664.32 L95,664.42 L95.5,664.5 L96,664.57 L96.5,664.63 L97,664.68 L97.5,664.73 L98,664.76 L98.5,664.8 L99,664.82 L99.5,664.85 L100,664.87 L100.5,664.89 L101,664.9 L101.5,664.92 L102,664.93 L102.5,664.94 L103,664.95 L103.5,664.95 L104,664.96 L104.5,664.96 L105,664.97 L105.5,664.97 L106,664.98 L106.5,664.98 L107,664.98 L107.5,664.99 L108,664.99 L108.5,664.99 L109,664.99 L109.5,664.99 L110,664.99 L110.5,664.99 L111,665 L111.5,665 L112,665 L112.5,665 L113,665 L113.5,665 L114,665 L114.5,665 L115,665 L115.5,665 L116,665 L116.5,665 L117,665 L117.5,665 L118,665 L118.5,665 L119,665 L119.5,665 L120,665 L120.5,665 L121,665 L121.5,665 L122,665 L122.2,665 Z" fill="#9fd29f" fill-opacity="0.92" stroke="none"/>
<path d="M30,665 L30.5,665 L31,665 L31.5,665 L32,665 L32.5,665 L33,665 L33.5,664.99 L34,664.99 L34.5,664.99 L35,664.99 L35.5,664.99 L36,664.99 L36.5,664.99 L37,664.98 L37.5,664.98 L38,664.98 L38.5,664.97 L39,664.97 L39.5,664.97 L40,664.96 L40.5,664.96 L41,664.95 L41.5,664.94 L42,664.94 L42.5,664.93 L43,664.92 L43.5,664.91 L44,664.9 L44.5,664.88 L45,664.87 L45.5,664.85 L46,664.84 L46.5,664.82 L47,664.79 L47.5,664.77 L48,664.74 L48.5,664.72 L49,664.68 L49.5,664.65 L50,664.61 L50.5,664.56 L51,664.52 L51.5,664.46 L52,664.4 L52.5,664.33 L53,664.25 L53.5,664.17 L54,664.07 L54.5,663.95 L55,663.83 L55.5,663.68 L56,663.52 L56.5,663.34 L57,663.13 L57.5,662.9 L58,662.63 L58.5,662.33 L59,662 L59.5,661.63 L60,661.22 L60.5,660.76 L61,660.26 L61.5,659.7 L62,659.1 L62.5,658.44 L63,657.74 L63.5,656.98 L64,656.17 L64.5,655.31 L65,654.41 L65.5,653.47 L66,652.5 L66.5,651.51 L67,650.49 L67.5,649.47 L68,648.45 L68.5,647.44 L69,646.46 L69.5,645.51 L70,644.62 L70.5,643.78 L71,643.02 L71.5,642.34 L72,641.76 L72.5,641.27 L73,640.9 L73.5,640.65 L74,640.51 L74.5,640.5 L75,640.61 L75.5,640.83 L76,641.16 L76.5,641.61 L77,642.15 L77.5,642.79 L78,643.51 L78.5,644.31 L79,645.17 L79.5,646.09 L80,647.05 L80.5,648.04 L81,649.05 L81.5,650.07 L82,651.09 L82.5,652.1 L83,653.09 L83.5,654.05 L84,654.98 L84.5,655.87 L85,656.72 L85.5,657.52 L86,658.27 L86.5,658.97 L87,659.62 L87.5,660.22 L88,660.76 L88.5,661.26 L89,661.71 L89.5,662.12 L90,662.48 L90.5,662.8 L91,663.09 L91.5,663.34 L92,663.57 L92.5,663.76 L93,663.93 L93.5,664.08 L94,664.21 L94.5,664.32 L95,664.42 L95.5,664.5 L96,664.57 L96.5,664.63 L97,664.68 L97.5,664.73 L98,664.76 L98.5,664.8 L99,664.82 L99.5,664.85 L100,664.87 L100.5,664.89 L101,664.9 L101.5,664.92 L102,664.93 L102.5,664.94 L103,664.95 L103.5,664.95 L104,664.96 L104.5,664.96 L105,664.97 L105.5,664.97 L106,664.98 L106.5,664.98 L107,664.98 L107.5,664.99 L108,664.99 L108.5,664.99 L109,664.99 L109.5,664.99 L110,664.99 L110.5,664.99 L111,665 L111.5,665 L112,665 L112.5,665 L113,665 L113.5,665 L114,665 L114.5,665 L115,665 L115.5,665 L116,665 L116.5,665 L117,665 L117.5,665 L118,665 L118.5,665 L119,665 L119.5,665 L120,665 L120.5,665 L121,665 L121.5,665 L122,665" fill="none" stroke="#3eaa3e" stroke-width="0.9" stroke-linejoin="round"/>
<line x1="30" y1="665" x2="122.2" y2="665" stroke="#3eaa3e" stroke-width="0.9"/>
<path d="M30,682.2 L30,682.2 L30.5,682.2 L31,682.2 L31.5,682.2 L32,682.2 L32.5,682.2 L33,682.2 L33.5,682.2 L34,682.2 L34.5,682.2 L35,682.2 L35.5,682.2 L36,682.2 L36.5,682.2 L37,682.2 L37.5,682.2 L38,682.2 L38.5,682.2 L39,682.2 L39.5,682.19 L40,682.19 L40.5,682.19 L41,682.19 L41.5,682.19 L42,682.19 L42.5,682.18 L43,682.18 L43.5,682.18 L44,682.17 L44.5,682.17 L45,682.16 L45.5,682.16 L46,682.15 L46.5,682.14 L47,682.13 L47.5,682.12 L48,682.11 L48.5,682.09 L49,682.08 L49.5,682.06 L50,682.04 L50.5,682.01 L51,681.99 L51.5,681.95 L52,681.92 L52.5,681.87 L53,681.82 L53.5,681.77 L54,681.7 L54.5,681.61 L55,681.52 L55.5,681.4 L56,681.26 L56.5,681.1 L57,680.9 L57.5,680.66 L58,680.38 L58.5,680.04 L59,679.65 L59.5,679.19 L60,678.66 L60.5,678.04 L61,677.34 L61.5,676.54 L62,675.65 L62.5,674.66 L63,673.58 L63.5,672.4 L64,671.15 L64.5,669.81 L65,668.43 L65.5,667 L66,665.56 L66.5,664.13 L67,662.73 L67.5,661.41 L68,660.17 L68.5,659.06 L69,658.1 L69.5,657.32 L70,656.73 L70.5,656.36 L71,656.2 L71.5,656.26 L72,656.51 L72.5,656.96 L73,657.58 L73.5,658.36 L74,659.29 L74.5,660.35 L75,661.51 L75.5,662.75 L76,664.05 L76.5,665.39 L77,666.74 L77.5,668.08 L78,669.39 L78.5,670.66 L79,671.87 L79.5,673.01 L80,674.08 L80.5,675.07 L81,675.97 L81.5,676.79 L82,677.52 L82.5,678.18 L83,678.76 L83.5,679.26 L84,679.7 L84.5,680.08 L85,680.41 L85.5,680.69 L86,680.92 L86.5,681.12 L87,681.29 L87.5,681.44 L88,681.55 L88.5,681.65 L89,681.74 L89.5,681.81 L90,681.87 L90.5,681.92 L91,681.96 L91.5,681.99 L92,682.02 L92.5,682.05 L93,682.07 L93.5,682.09 L94,682.1 L94.5,682.12 L95,682.13 L95.5,682.14 L96,682.15 L96.5,682.16 L97,682.16 L97.5,682.17 L98,682.17 L98.5,682.18 L99,682.18 L99.5,682.18 L100,682.19 L100.5,682.19 L101,682.19 L101.5,682.19 L102,682.19 L102.5,682.19 L103,682.2 L103.5,682.2 L104,682.2 L104.5,682.2 L105,682.2 L105.5,682.2 L106,682.2 L106.5,682.2 L107,682.2 L107.5,682.2 L108,682.2 L108.5,682.2 L109,682.2 L109.5,682.2 L110,682.2 L110.5,682.2 L111,682.2 L111.5,682.2 L112,682.2 L112.5,682.2 L113,682.2 L113.5,682.2 L114,682.2 L114.5,682.2 L115,682.2 L115.5,682.2 L116,682.2 L116.5,682.2 L117,682.2 L117.5,682.2 L118,682.2 L118.5,682.2 L119,682.2 L119.5,682.2 L120,682.2 L120.5,682.2 L121,682.2 L121.5,682.2 L122,682.2 L122.2,682.2 Z" fill="#78dc78" fill-opacity="0.92" stroke="none"/>
<path d="M30,682.2 L30.5,682.2 L31,682.2 L31.5,682.2 L32,682.2 L32.5,682.2 L33,682.2 L33.5,682.2 L34,682.2 L34.5,682.2 L35,682.2 L35.5,682.2 L36,682.2 L36.5,682.2 L37,682.2 L37.5,682.2 L38,682.2 L38.5,682.2 L39,682.2 L39.5,682.19 L40,682.19 L40.5,682.19 L41,682.19 L41.5,682.19 L42,682.19 L42.5,682.18 L43,682.18 L43.5,682.18 L44,682.17 L44.5,682.17 L45,682.16 L45.5,682.16 L46,682.15 L46.5,682.14 L47,682.13 L47.5,682.12 L48,682.11 L48.5,682.09 L49,682.08 L49.5,682.06 L50,682.04 L50.5,682.01 L51,681.99 L51.5,681.95 L52,681.92 L52.5,681.87 L53,681.82 L53.5,681.77 L54,681.7 L54.5,681.61 L55,681.52 L55.5,681.4 L56,681.26 L56.5,681.1 L57,680.9 L57.5,680.66 L58,680.38 L58.5,680.04 L59,679.65 L59.5,679.19 L60,678.66 L60.5,678.04 L61,677.34 L61.5,676.54 L62,675.65 L62.5,674.66 L63,673.58 L63.5,672.4 L64,671.15 L64.5,669.81 L65,668.43 L65.5,667 L66,665.56 L66.5,664.13 L67,662.73 L67.5,661.41 L68,660.17 L68.5,659.06 L69,658.1 L69.5,657.32 L70,656.73 L70.5,656.36 L71,656.2 L71.5,656.26 L72,656.51 L72.5,656.96 L73,657.58 L73.5,658.36 L74,659.29 L74.5,660.35 L75,661.51 L75.5,662.75 L76,664.05 L76.5,665.39 L77,666.74 L77.5,668.08 L78,669.39 L78.5,670.66 L79,671.87 L79.5,673.01 L80,674.08 L80.5,675.07 L81,675.97 L81.5,676.79 L82,677.52 L82.5,678.18 L83,678.76 L83.5,679.26 L84,679.7 L84.5,680.08 L85,680.41 L85.5,680.69 L86,680.92 L86.5,681.12 L87,681.29 L87.5,681.44 L88,681.55 L88.5,681.65 L89,681.74 L89.5,681.81 L90,681.87 L90.5,681.92 L91,681.96 L91.5,681.99 L92,682.02 L92.5,682.05 L93,682.07 L93.5,682.09 L94,682.1 L94.5,682.12 L95,682.13 L95.5,682.14 L96,682.15 L96.5,682.16 L97,682.16 L97.5,682.17 L98,682.17 L98.5,682.18 L99,682.18 L99.5,682.18 L100,682.19 L100.5,682.19 L101,682.19 L101.5,682.19 L102,682.19 L102.5,682.19 L103,682.2 L103.5,682.2 L104,682.2 L104.5,682.2 L105,682.2 L105.5,682.2 L106,682.2 L106.5,682.2 L107,682.2 L107.5,682.2 L108,682.2 L108.5,682.2 L109,682.2 L109.5,682.2 L110,682.2 L110.5,682.2 L111,682.2 L111.5,682.2 L112,682.2 L112.5,682.2 L113,682.2 L113.5,682.2 L114,682.2 L114.5,682.2 L115,682.2 L115.5,682.2 L116,682.2 L116.5,682.2 L117,682.2 L117.5,682.2 L118,682.2 L118.5,682.2 L119,682.2 L119.5,682.2 L120,682.2 L120.5,682.2 L121,682.2 L121.5,682.2 L122,682.2" fill="none" stroke="#3cc23c" stroke-width="0.9" stroke-linejoin="round"/>
<line x1="69.5" y1="592.5" x2="69.5" y2="682" stroke="#222" stroke-width="0.8" stroke-dasharray="2.2,1.3"/>
<rect x="30" y="592.4" width="92.2" height="90" fill="none" stroke="#000" stroke-width="1.3"/>
<line x1="32.2" y1="682.4" x2="32.2" y2="684.6" stroke="#2a8a2a" stroke-width="0.6"/>
<line x1="43.31" y1="682.4" x2="43.31" y2="683.8" stroke="#2a8a2a" stroke-width="0.6"/>
<line x1="49.81" y1="682.4" x2="49.81" y2="683.8" stroke="#2a8a2a" stroke-width="0.6"/>
<line x1="54.42" y1="682.4" x2="54.42" y2="683.8" stroke="#2a8a2a" stroke-width="0.6"/>
<line x1="57.99" y1="682.4" x2="57.99" y2="683.8" stroke="#2a8a2a" stroke-width="0.6"/>
<line x1="60.91" y1="682.4" x2="60.91" y2="683.8" stroke="#2a8a2a" stroke-width="0.6"/>
<line x1="63.38" y1="682.4" x2="63.38" y2="683.8" stroke="#2a8a2a" stroke-width="0.6"/>
<line x1="65.52" y1="682.4" x2="65.52" y2="683.8" stroke="#2a8a2a" stroke-width="0.6"/>
<line x1="67.41" y1="682.4" x2="67.41" y2="683.8" stroke="#2a8a2a" stroke-width="0.6"/>
<line x1="69.1" y1="682.4" x2="69.1" y2="684.6" stroke="#2a8a2a" stroke-width="0.6"/>
<line x1="80.21" y1="682.4" x2="80.21" y2="683.8" stroke="#2a8a2a" stroke-width="0.6"/>
<line x1="86.71" y1="682.4" x2="86.71" y2="683.8" stroke="#2a8a2a" stroke-width="0.6"/>
<line x1="91.32" y1="682.4" x2="91.32" y2="683.8" stroke="#2a8a2a" stroke-width="0.6"/>
<line x1="94.89" y1="682.4" x2="94.89" y2="683.8" stroke="#2a8a2a" stroke-width="0.6"/>
<line x1="97.81" y1="682.4" x2="97.81" y2="683.8" stroke="#2a8a2a" stroke-width="0.6"/>
<line x1="100.28" y1="682.4" x2="100.28" y2="683.8" stroke="#2a8a2a" stroke-width="0.6"/>
<line x1="102.42" y1="682.4" x2="102.42" y2="683.8" stroke="#2a8a2a" stroke-width="0.6"/>
<line x1="104.31" y1="682.4" x2="104.31" y2="683.8" stroke="#2a8a2a" stroke-width="0.6"/>
<line x1="106" y1="682.4" x2="106" y2="684.6" stroke="#2a8a2a" stroke-width="0.6"/>
<line x1="117.11" y1="682.4" x2="117.11" y2="683.8" stroke="#2a8a2a" stroke-width="0.6"/>
<text x="30.8" y="693.2" font-size="7" text-anchor="middle">10</text>
<text x="35.2" y="689.6" font-size="4.8">0</text>
<text x="67.4" y="693.2" font-size="7" text-anchor="middle">10</text>
<text x="71.8" y="689.6" font-size="4.8">1</text>
<text x="104.4" y="693.2" font-size="7" text-anchor="middle">10</text>
<text x="108.8" y="689.6" font-size="4.8">2</text>
<text x="62" y="705" font-size="8.4" textLength="27.8" lengthAdjust="spacingAndGlyphs">SNARF-1</text>
<rect x="129.5" y="593.8" width="6.3" height="6.3" fill="#c6c6c6"/>
<text x="139.7" y="599.2" font-size="6.9" textLength="27.2" lengthAdjust="spacingAndGlyphs">Medium</text>
<rect x="129.5" y="604.9" width="6.3" height="6.3" fill="#8a8a8a"/>
<text x="139.7" y="610.4" font-size="6.9" textLength="13.4" lengthAdjust="spacingAndGlyphs">sUA</text>
<rect x="129.5" y="615.4" width="6.3" height="6.3" fill="#1c8a1c"/>
<text x="139.7" y="621.2" font-size="6.9" textLength="22.2" lengthAdjust="spacingAndGlyphs">CXCL8</text>
<rect x="129.5" y="626.2" width="6.3" height="6.3" fill="#3fd03f"/>
<text x="139.7" y="632" font-size="6.9" textLength="41" lengthAdjust="spacingAndGlyphs">sUA+CXCL8</text>
<rect x="230.6" y="643.1" width="10.1" height="38.5" fill="#e27f90"/>
<rect x="246.1" y="648.1" width="9.7" height="33.5" fill="#80a4c6"/>
<rect x="271.6" y="620" width="9.7" height="61.6" fill="#99dba3"/>
<rect x="286.8" y="632.5" width="9.7" height="49.1" fill="#a98fbd"/>
<rect x="312.2" y="643.1" width="9.7" height="38.5" fill="#e27f90"/>
<rect x="327.6" y="652.2" width="9.5" height="29.4" fill="#80a4c6"/>
<rect x="353" y="623.2" width="9.5" height="58.4" fill="#99dba3"/>
<rect x="368.4" y="641.6" width="9.3" height="40" fill="#a98fbd"/>
<line x1="235.65" y1="637" x2="235.65" y2="649" stroke="#000" stroke-width="0.9"/>
<line x1="233.65" y1="637" x2="237.65" y2="637" stroke="#000" stroke-width="0.9"/>
<line x1="233.65" y1="649" x2="237.65" y2="649" stroke="#000" stroke-width="0.9"/>
<circle cx="234.9" cy="637.3" r="1.85" fill="#fff" stroke="#000" stroke-width="1"/>
<circle cx="232.9" cy="640.8" r="1.85" fill="#fff" stroke="#000" stroke-width="1"/>
<circle cx="235.5" cy="644.2" r="1.85" fill="#fff" stroke="#000" stroke-width="1"/>
<circle cx="237.4" cy="648.5" r="1.85" fill="#fff" stroke="#000" stroke-width="1"/>
<line x1="250.95" y1="641" x2="250.95" y2="655" stroke="#000" stroke-width="0.9"/>
<line x1="248.95" y1="641" x2="252.95" y2="641" stroke="#000" stroke-width="0.9"/>
<line x1="248.95" y1="655" x2="252.95" y2="655" stroke="#000" stroke-width="0.9"/>
<circle cx="250.9" cy="640.8" r="2.15" fill="#000"/>
<circle cx="249" cy="648.5" r="2.15" fill="#000"/>
<circle cx="251.5" cy="649.5" r="2.15" fill="#000"/>
<circle cx="252.3" cy="654.7" r="2.15" fill="#000"/>
<line x1="276.45" y1="614" x2="276.45" y2="627" stroke="#000" stroke-width="0.9"/>
<line x1="274.45" y1="614" x2="278.45" y2="614" stroke="#000" stroke-width="0.9"/>
<line x1="274.45" y1="627" x2="278.45" y2="627" stroke="#000" stroke-width="0.9"/>
<circle cx="273.6" cy="613.7" r="1.85" fill="#fff" stroke="#000" stroke-width="1"/>
<circle cx="278" cy="616" r="1.85" fill="#fff" stroke="#000" stroke-width="1"/>
<circle cx="274.1" cy="619.9" r="1.85" fill="#fff" stroke="#000" stroke-width="1"/>
<circle cx="278" cy="626.8" r="1.85" fill="#fff" stroke="#000" stroke-width="1"/>
<line x1="291.65" y1="626" x2="291.65" y2="642" stroke="#000" stroke-width="0.9"/>
<line x1="289.65" y1="626" x2="293.65" y2="626" stroke="#000" stroke-width="0.9"/>
<line x1="289.65" y1="642" x2="293.65" y2="642" stroke="#000" stroke-width="0.9"/>
<circle cx="289.5" cy="625.8" r="2.15" fill="#000"/>
<circle cx="293.1" cy="626.8" r="2.15" fill="#000"/>
<circle cx="289.5" cy="635.3" r="2.15" fill="#000"/>
<circle cx="293.1" cy="641.6" r="2.15" fill="#000"/>
<line x1="317.05" y1="637" x2="317.05" y2="648" stroke="#000" stroke-width="0.9"/>
<line x1="315.05" y1="637" x2="319.05" y2="637" stroke="#000" stroke-width="0.9"/>
<line x1="315.05" y1="648" x2="319.05" y2="648" stroke="#000" stroke-width="0.9"/>
<circle cx="317" cy="637" r="1.85" fill="#fff" stroke="#000" stroke-width="1"/>
<circle cx="314.9" cy="641" r="1.85" fill="#fff" stroke="#000" stroke-width="1"/>
<circle cx="317" cy="644.4" r="1.85" fill="#fff" stroke="#000" stroke-width="1"/>
<circle cx="318.7" cy="648" r="1.85" fill="#fff" stroke="#000" stroke-width="1"/>
<line x1="332.35" y1="649" x2="332.35" y2="657" stroke="#000" stroke-width="0.9"/>
<line x1="330.35" y1="649" x2="334.35" y2="649" stroke="#000" stroke-width="0.9"/>
<line x1="330.35" y1="657" x2="334.35" y2="657" stroke="#000" stroke-width="0.9"/>
<circle cx="331.4" cy="649.5" r="2.15" fill="#000"/>
<circle cx="332.9" cy="650.7" r="2.15" fill="#000"/>
<circle cx="331.8" cy="652.2" r="2.15" fill="#000"/>
<circle cx="334.6" cy="657.1" r="2.15" fill="#000"/>
<line x1="357.75" y1="617" x2="357.75" y2="629" stroke="#000" stroke-width="0.9"/>
<line x1="355.75" y1="617" x2="359.75" y2="617" stroke="#000" stroke-width="0.9"/>
<line x1="355.75" y1="629" x2="359.75" y2="629" stroke="#000" stroke-width="0.9"/>
<circle cx="355.7" cy="616.9" r="1.85" fill="#fff" stroke="#000" stroke-width="1"/>
<circle cx="359.3" cy="619.4" r="1.85" fill="#fff" stroke="#000" stroke-width="1"/>
<circle cx="355.7" cy="624.1" r="1.85" fill="#fff" stroke="#000" stroke-width="1"/>
<circle cx="359.3" cy="628.9" r="1.85" fill="#fff" stroke="#000" stroke-width="1"/>
<line x1="373.05" y1="635" x2="373.05" y2="649" stroke="#000" stroke-width="0.9"/>
<line x1="371.05" y1="635" x2="375.05" y2="635" stroke="#000" stroke-width="0.9"/>
<line x1="371.05" y1="649" x2="375.05" y2="649" stroke="#000" stroke-width="0.9"/>
<circle cx="371.4" cy="635.3" r="2.15" fill="#000"/>
<circle cx="374.8" cy="636.8" r="2.15" fill="#000"/>
<circle cx="371" cy="644.4" r="2.15" fill="#000"/>
<circle cx="374.8" cy="648.6" r="2.15" fill="#000"/>
<line x1="225.6" y1="588.5" x2="225.6" y2="682.3" stroke="#111" stroke-width="1.35"/>
<line x1="224.9" y1="681.6" x2="383.7" y2="681.6" stroke="#111" stroke-width="1.35"/>
<line x1="222.4" y1="681.4" x2="225.4" y2="681.4" stroke="#111" stroke-width="1"/>
<text x="219.8" y="684.35" font-size="8.4" text-anchor="end" textLength="11.5" lengthAdjust="spacingAndGlyphs">6.6</text>
<line x1="222.4" y1="670.27" x2="225.4" y2="670.27" stroke="#111" stroke-width="1"/>
<text x="219.8" y="673.23" font-size="8.4" text-anchor="end" textLength="11.5" lengthAdjust="spacingAndGlyphs">6.8</text>
<line x1="222.4" y1="659.15" x2="225.4" y2="659.15" stroke="#111" stroke-width="1"/>
<text x="219.8" y="662.1" font-size="8.4" text-anchor="end" textLength="11.5" lengthAdjust="spacingAndGlyphs">7.0</text>
<line x1="222.4" y1="648.02" x2="225.4" y2="648.02" stroke="#111" stroke-width="1"/>
<text x="219.8" y="650.98" font-size="8.4" text-anchor="end" textLength="11.5" lengthAdjust="spacingAndGlyphs">7.2</text>
<line x1="222.4" y1="636.9" x2="225.4" y2="636.9" stroke="#111" stroke-width="1"/>
<text x="219.8" y="639.85" font-size="8.4" text-anchor="end" textLength="11.5" lengthAdjust="spacingAndGlyphs">7.4</text>
<line x1="222.4" y1="625.77" x2="225.4" y2="625.77" stroke="#111" stroke-width="1"/>
<text x="219.8" y="628.73" font-size="8.4" text-anchor="end" textLength="11.5" lengthAdjust="spacingAndGlyphs">7.6</text>
<line x1="222.4" y1="614.65" x2="225.4" y2="614.65" stroke="#111" stroke-width="1"/>
<text x="219.8" y="617.6" font-size="8.4" text-anchor="end" textLength="11.5" lengthAdjust="spacingAndGlyphs">7.8</text>
<line x1="222.4" y1="603.52" x2="225.4" y2="603.52" stroke="#111" stroke-width="1"/>
<text x="219.8" y="606.48" font-size="8.4" text-anchor="end" textLength="11.5" lengthAdjust="spacingAndGlyphs">8.0</text>
<line x1="222.4" y1="592.4" x2="225.4" y2="592.4" stroke="#111" stroke-width="1"/>
<text x="219.8" y="595.35" font-size="8.4" text-anchor="end" textLength="11.5" lengthAdjust="spacingAndGlyphs">8.2</text>
<line x1="235.8" y1="607.9" x2="273.6" y2="607.9" stroke="#222" stroke-width="1.1"/>
<path d="M252.75,602.05L252.75,604.95M254.01,602.77L251.49,604.23M254.01,604.23L251.49,602.77" stroke="#111" stroke-width="0.8" stroke-linecap="round"/>
<path d="M256.65,602.05L256.65,604.95M257.91,602.77L255.39,604.23M257.91,604.23L255.39,602.77" stroke="#111" stroke-width="0.8" stroke-linecap="round"/>
<line x1="276.5" y1="607.9" x2="291.6" y2="607.9" stroke="#222" stroke-width="1.1"/>
<path d="M284.05,602.05L284.05,604.95M285.31,602.77L282.79,604.23M285.31,604.23L282.79,602.77" stroke="#111" stroke-width="0.8" stroke-linecap="round"/>
<line x1="235.8" y1="630.5" x2="250.5" y2="630.5" stroke="#222" stroke-width="1.1"/>
<text x="243.15" y="627.9" font-size="7.9" text-anchor="middle">ns</text>
<line x1="317.7" y1="611" x2="355.7" y2="611" stroke="#222" stroke-width="1.1"/>
<path d="M334.75,605.15L334.75,608.05M336.01,605.88L333.49,607.33M336.01,607.33L333.49,605.88" stroke="#111" stroke-width="0.8" stroke-linecap="round"/>
<path d="M338.65,605.15L338.65,608.05M339.91,605.88L337.39,607.33M339.91,607.33L337.39,605.88" stroke="#111" stroke-width="0.8" stroke-linecap="round"/>
<line x1="357.8" y1="611" x2="372.7" y2="611" stroke="#222" stroke-width="1.1"/>
<path d="M365.25,605.15L365.25,608.05M366.51,605.88L363.99,607.33M366.51,607.33L363.99,605.88" stroke="#111" stroke-width="0.8" stroke-linecap="round"/>
<line x1="317.7" y1="630.4" x2="332.5" y2="630.4" stroke="#222" stroke-width="1.1"/>
<text x="325.1" y="627.8" font-size="7.9" text-anchor="middle">ns</text>
<text x="228.3" y="691.1" font-size="8.2" textLength="29.4" lengthAdjust="spacingAndGlyphs">Medium</text>
<text x="271.5" y="691.1" font-size="8.2" textLength="24.5" lengthAdjust="spacingAndGlyphs">CXCL8</text>
<text x="311" y="691.1" font-size="8.2" textLength="29.5" lengthAdjust="spacingAndGlyphs">Medium</text>
<text x="353" y="691.1" font-size="8.2" textLength="24.5" lengthAdjust="spacingAndGlyphs">CXCL8</text>
<line x1="229.7" y1="696.4" x2="300.5" y2="696.4" stroke="#111" stroke-width="0.9"/>
<line x1="311.7" y1="696.4" x2="380.5" y2="696.4" stroke="#111" stroke-width="0.9"/>
<text x="240.9" y="705.6" font-size="8" textLength="39.1" lengthAdjust="spacingAndGlyphs">10 minutes</text>
<text x="323.4" y="705.6" font-size="8" textLength="38" lengthAdjust="spacingAndGlyphs">20 minutes</text>
<circle cx="243.3" cy="587.1" r="1.75" fill="#fff" stroke="#000" stroke-width="1"/>
<text x="248.8" y="589.9" font-size="7.7" textLength="12.3" lengthAdjust="spacingAndGlyphs">Ctrl</text>
<circle cx="273.8" cy="587.1" r="2.1" fill="#000"/>
<text x="279.3" y="589.9" font-size="7.7" textLength="13.7" lengthAdjust="spacingAndGlyphs">sUA</text>
<text x="202.6" y="636.2" font-size="9.3" text-anchor="middle" textLength="51.9" lengthAdjust="spacingAndGlyphs" transform="rotate(-90 202.6 636.2)">Intracellular pH</text>
<text x="196.5" y="585" font-size="10.6" font-weight="bold" fill="#000">J</text>
<rect x="0.5" y="0.5" width="519" height="712" fill="none" stroke="#000" stroke-width="1.4"/>
</svg></body></html>
